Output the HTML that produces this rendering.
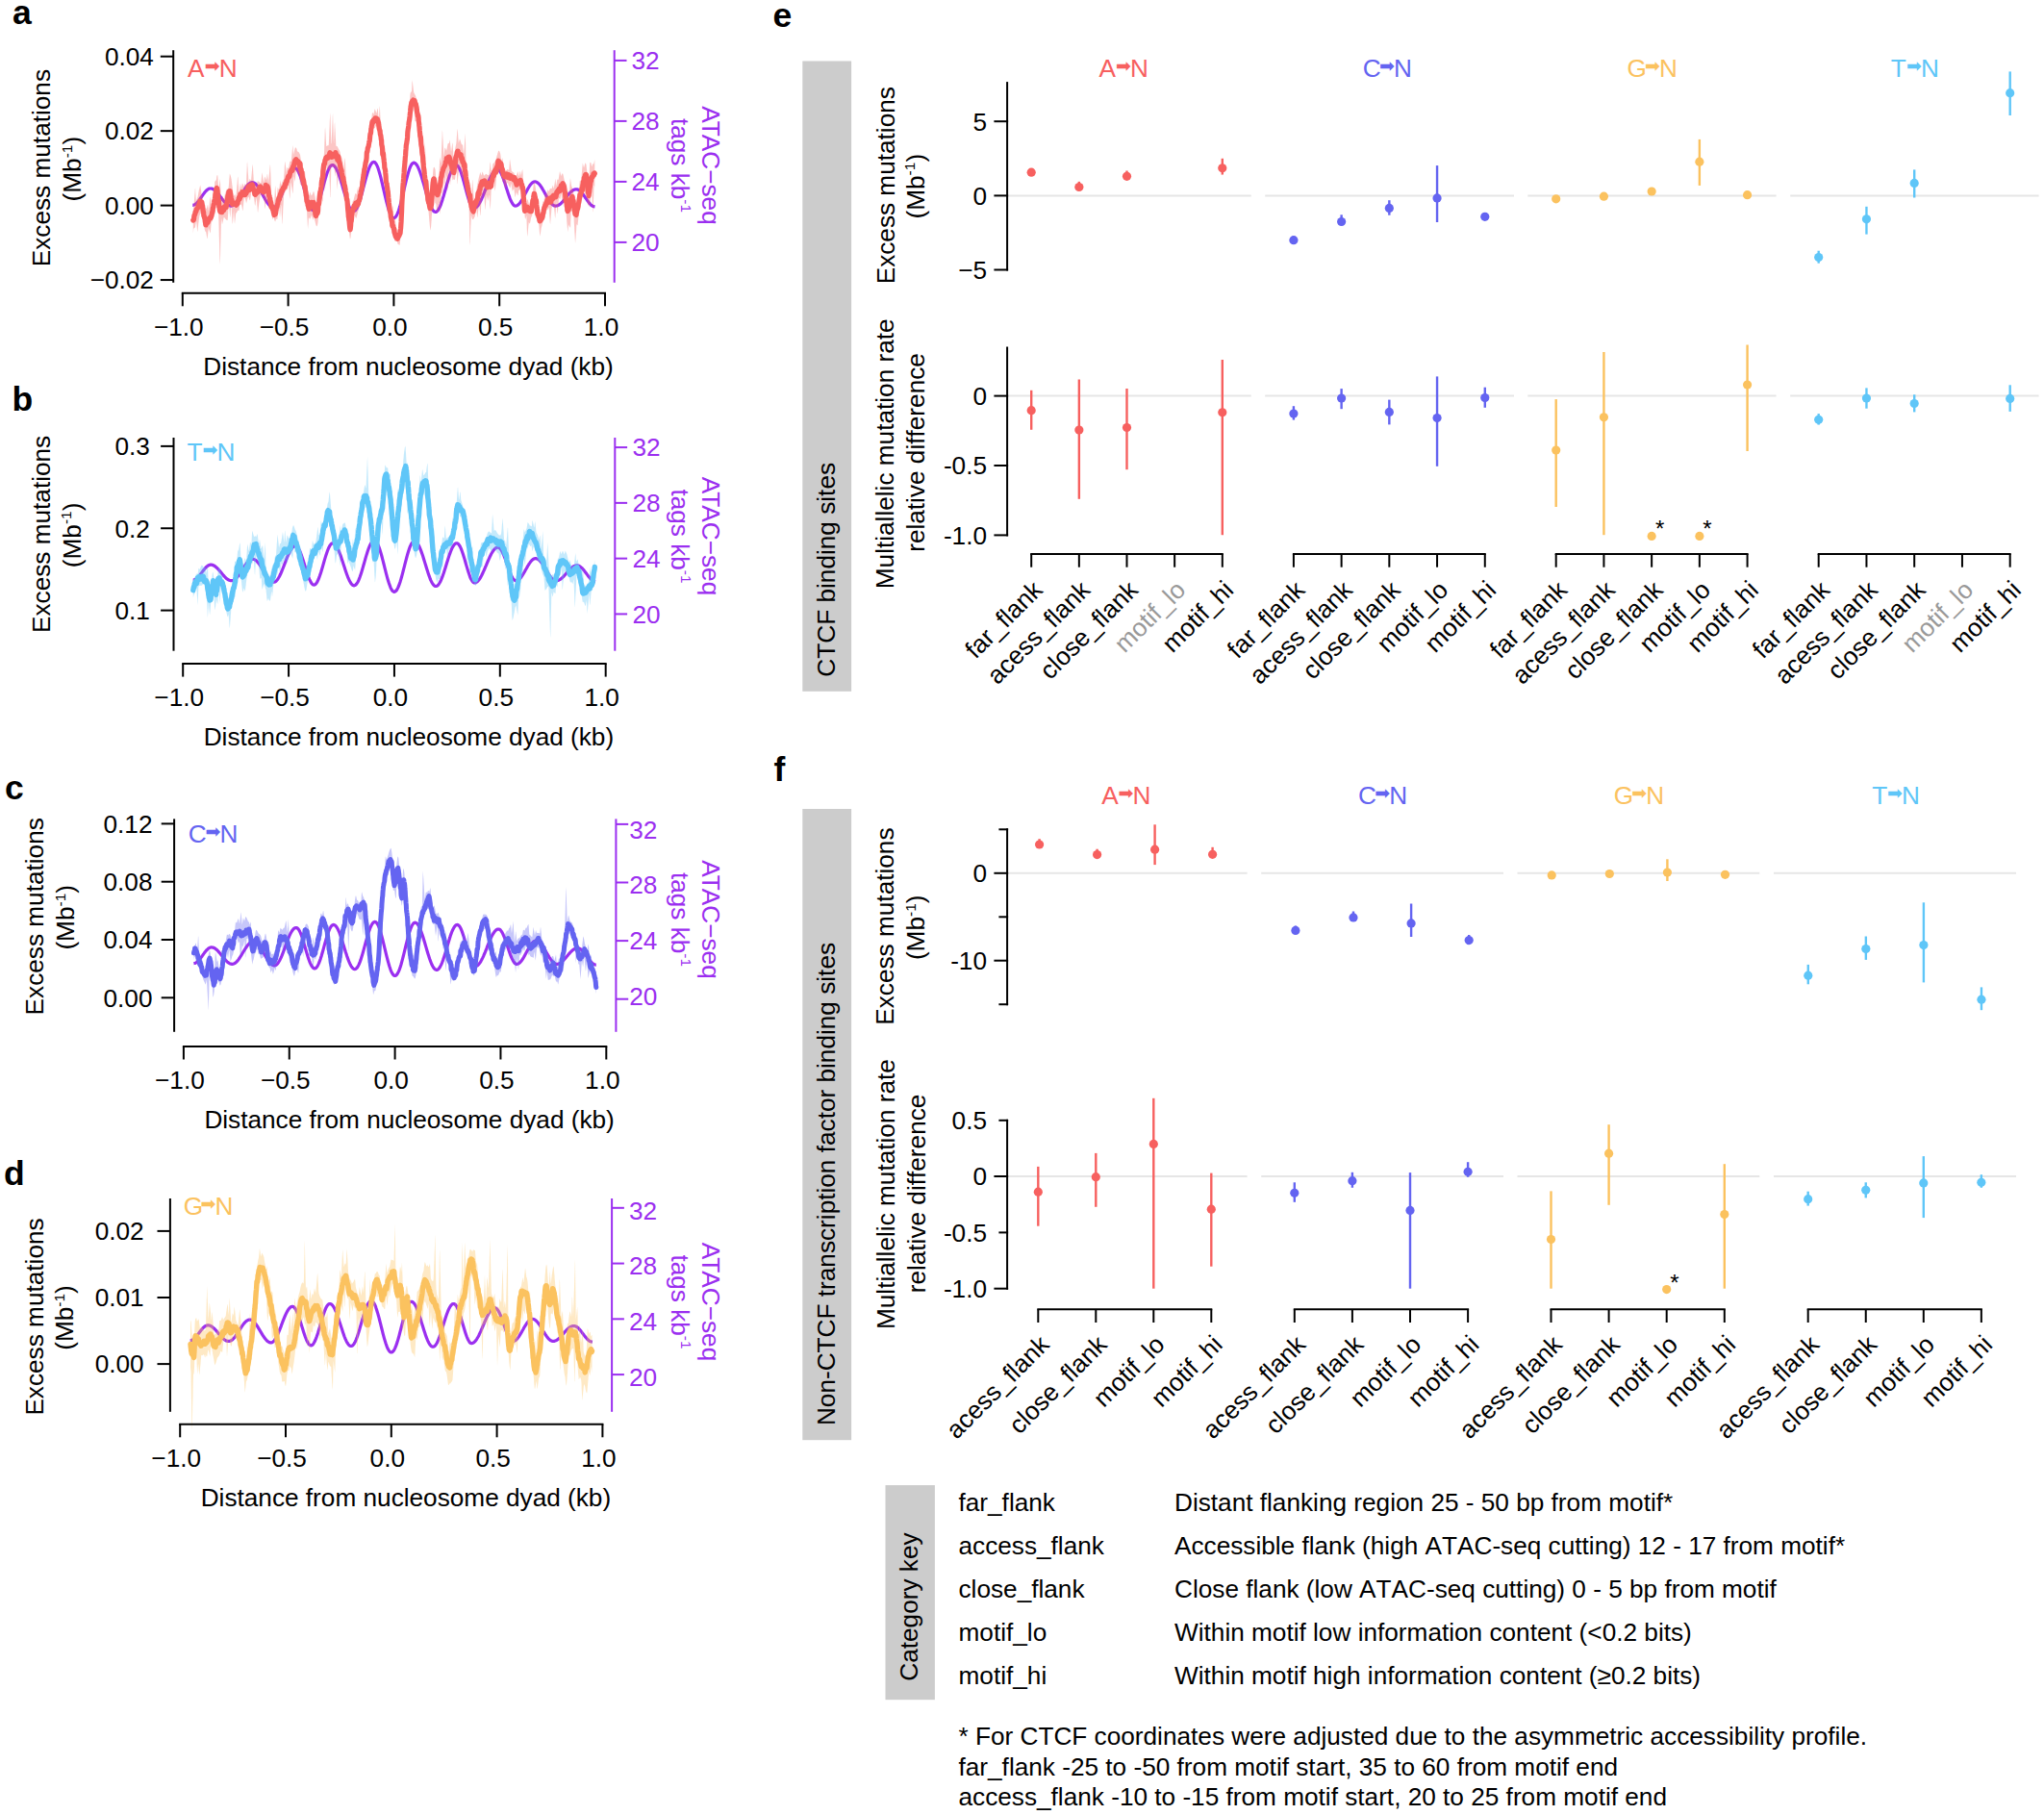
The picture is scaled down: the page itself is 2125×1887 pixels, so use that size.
<!DOCTYPE html>
<html><head><meta charset="utf-8"><title>Figure</title>
<style>
html,body{margin:0;padding:0;background:#fff;}
svg{display:block;font-kerning:none;}
</style></head>
<body>
<svg xmlns="http://www.w3.org/2000/svg" font-family="Liberation Sans, sans-serif" font-size="26.2" width="2125" height="1887" viewBox="0 0 2125 1887">
<rect width="2125" height="1887" fill="#fff"/>
<g id="panel-a">
<path d="M200.3 213.3 L200.9 213.3 L201.5 213.1 L202.1 212.9 L202.7 212.6 L203.3 212.2 L203.9 211.7 L204.5 211.2 L205.1 210.6 L205.7 209.9 L206.3 209.2 L206.9 208.4 L207.5 207.6 L208.1 206.8 L208.7 205.9 L209.3 205.0 L209.9 204.1 L210.5 203.3 L211.1 202.4 L211.7 201.6 L212.3 200.8 L212.9 200.0 L213.5 199.3 L214.1 198.6 L214.7 198.0 L215.3 197.5 L215.9 197.0 L216.5 196.6 L217.1 196.3 L217.7 196.1 L218.3 196.0 L218.9 196.0 L219.5 196.0 L220.1 196.1 L220.7 196.3 L221.3 196.6 L221.9 196.9 L222.5 197.3 L223.1 197.7 L223.7 198.2 L224.3 198.7 L224.9 199.3 L225.5 200.0 L226.1 200.6 L226.7 201.3 L227.3 202.1 L227.9 202.8 L228.5 203.6 L229.1 204.4 L229.7 205.2 L230.2 206.0 L230.8 206.8 L231.4 207.5 L232.0 208.3 L232.6 209.0 L233.2 209.7 L233.8 210.4 L234.4 211.0 L235.0 211.5 L235.6 212.1 L236.2 212.5 L236.8 213.0 L237.4 213.3 L238.0 213.6 L238.6 213.8 L239.2 214.0 L239.8 214.1 L240.4 214.1 L241.0 214.0 L241.6 213.9 L242.2 213.6 L242.8 213.3 L243.4 212.9 L244.0 212.4 L244.6 211.9 L245.2 211.2 L245.8 210.5 L246.4 209.8 L247.0 208.9 L247.6 208.0 L248.2 207.1 L248.8 206.2 L249.4 205.2 L250.0 204.1 L250.6 203.1 L251.2 202.1 L251.8 201.0 L252.4 200.0 L253.0 199.0 L253.6 198.0 L254.2 197.0 L254.8 196.1 L255.4 195.2 L256.0 194.3 L256.6 193.5 L257.2 192.8 L257.8 192.1 L258.4 191.5 L259.0 191.0 L259.6 190.6 L260.2 190.2 L260.8 190.0 L261.4 189.8 L262.0 189.7 L262.6 189.7 L263.1 189.8 L263.7 190.0 L264.3 190.3 L264.9 190.6 L265.5 191.1 L266.1 191.6 L266.7 192.3 L267.3 193.0 L267.9 193.7 L268.5 194.6 L269.1 195.5 L269.7 196.4 L270.3 197.4 L270.9 198.4 L271.5 199.5 L272.1 200.6 L272.7 201.7 L273.3 202.8 L273.9 203.9 L274.5 205.0 L275.1 206.1 L275.7 207.2 L276.3 208.2 L276.9 209.2 L277.5 210.1 L278.1 211.0 L278.7 211.8 L279.3 212.6 L279.9 213.3 L280.5 213.9 L281.1 214.4 L281.7 214.8 L282.3 215.2 L282.9 215.4 L283.5 215.6 L284.1 215.7 L284.7 215.6 L285.3 215.5 L285.9 215.1 L286.5 214.7 L287.1 214.1 L287.7 213.3 L288.3 212.5 L288.9 211.5 L289.5 210.4 L290.1 209.2 L290.7 207.9 L291.3 206.5 L291.9 205.0 L292.5 203.5 L293.1 201.9 L293.7 200.2 L294.3 198.6 L294.9 196.9 L295.4 195.1 L296.0 193.4 L296.6 191.7 L297.2 190.0 L297.8 188.4 L298.4 186.8 L299.0 185.3 L299.6 183.8 L300.2 182.4 L300.8 181.1 L301.4 179.9 L302.0 178.8 L302.6 177.9 L303.2 177.0 L303.8 176.3 L304.4 175.7 L305.0 175.2 L305.6 174.9 L306.2 174.8 L306.8 174.7 L307.4 174.9 L308.0 175.3 L308.6 175.9 L309.2 176.6 L309.8 177.6 L310.4 178.8 L311.0 180.1 L311.6 181.5 L312.2 183.2 L312.8 184.9 L313.4 186.8 L314.0 188.7 L314.6 190.8 L315.2 192.8 L315.8 195.0 L316.4 197.1 L317.0 199.3 L317.6 201.4 L318.2 203.4 L318.8 205.5 L319.4 207.4 L320.0 209.2 L320.6 210.9 L321.2 212.5 L321.8 213.9 L322.4 215.2 L323.0 216.3 L323.6 217.2 L324.2 217.9 L324.8 218.4 L325.4 218.7 L326.0 218.8 L326.6 218.7 L327.2 218.4 L327.8 217.8 L328.3 217.1 L328.9 216.1 L329.5 215.0 L330.1 213.7 L330.7 212.2 L331.3 210.5 L331.9 208.7 L332.5 206.8 L333.1 204.8 L333.7 202.6 L334.3 200.4 L334.9 198.2 L335.5 196.0 L336.1 193.7 L336.7 191.4 L337.3 189.2 L337.9 187.0 L338.5 184.9 L339.1 183.0 L339.7 181.1 L340.3 179.3 L340.9 177.7 L341.5 176.3 L342.1 175.0 L342.7 173.9 L343.3 173.0 L343.9 172.3 L344.5 171.9 L345.1 171.6 L345.7 171.6 L346.3 171.7 L346.9 172.0 L347.5 172.5 L348.1 173.2 L348.7 174.0 L349.3 174.9 L349.9 176.1 L350.5 177.3 L351.1 178.7 L351.7 180.2 L352.3 181.8 L352.9 183.5 L353.5 185.3 L354.1 187.2 L354.7 189.1 L355.3 191.1 L355.9 193.1 L356.5 195.2 L357.1 197.2 L357.7 199.2 L358.3 201.2 L358.9 203.2 L359.5 205.1 L360.1 206.9 L360.6 208.7 L361.2 210.3 L361.8 211.9 L362.4 213.3 L363.0 214.6 L363.6 215.8 L364.2 216.8 L364.8 217.7 L365.4 218.4 L366.0 219.0 L366.6 219.3 L367.2 219.6 L367.8 219.6 L368.4 219.4 L369.0 219.1 L369.6 218.5 L370.2 217.8 L370.8 216.8 L371.4 215.7 L372.0 214.3 L372.6 212.9 L373.2 211.2 L373.8 209.5 L374.4 207.6 L375.0 205.5 L375.6 203.4 L376.2 201.3 L376.8 199.0 L377.4 196.7 L378.0 194.4 L378.6 192.1 L379.2 189.9 L379.8 187.6 L380.4 185.4 L381.0 183.3 L381.6 181.2 L382.2 179.3 L382.8 177.5 L383.4 175.8 L384.0 174.2 L384.6 172.8 L385.2 171.6 L385.8 170.6 L386.4 169.8 L387.0 169.1 L387.6 168.7 L388.2 168.5 L388.8 168.4 L389.4 168.6 L390.0 169.1 L390.6 169.8 L391.2 170.7 L391.8 171.8 L392.4 173.1 L393.0 174.6 L393.5 176.3 L394.1 178.2 L394.7 180.3 L395.3 182.4 L395.9 184.7 L396.5 187.1 L397.1 189.6 L397.7 192.2 L398.3 194.8 L398.9 197.4 L399.5 200.0 L400.1 202.6 L400.7 205.2 L401.3 207.7 L401.9 210.1 L402.5 212.4 L403.1 214.6 L403.7 216.7 L404.3 218.6 L404.9 220.3 L405.5 221.8 L406.1 223.2 L406.7 224.3 L407.3 225.3 L407.9 226.0 L408.5 226.4 L409.1 226.7 L409.7 226.7 L410.3 226.4 L410.9 226.0 L411.5 225.3 L412.1 224.4 L412.7 223.2 L413.3 221.9 L413.9 220.4 L414.5 218.7 L415.1 216.8 L415.7 214.8 L416.3 212.6 L416.9 210.3 L417.5 207.9 L418.1 205.5 L418.7 202.9 L419.3 200.4 L419.9 197.8 L420.5 195.2 L421.1 192.6 L421.7 190.1 L422.3 187.7 L422.9 185.3 L423.5 183.0 L424.1 180.9 L424.7 178.9 L425.3 177.0 L425.8 175.3 L426.4 173.8 L427.0 172.5 L427.6 171.4 L428.2 170.5 L428.8 169.9 L429.4 169.4 L430.0 169.2 L430.6 169.2 L431.2 169.4 L431.8 169.8 L432.4 170.4 L433.0 171.1 L433.6 172.0 L434.2 173.1 L434.8 174.3 L435.4 175.6 L436.0 177.1 L436.6 178.7 L437.2 180.4 L437.8 182.3 L438.4 184.2 L439.0 186.2 L439.6 188.2 L440.2 190.3 L440.8 192.4 L441.4 194.6 L442.0 196.7 L442.6 198.9 L443.2 201.0 L443.8 203.0 L444.4 205.0 L445.0 207.0 L445.6 208.8 L446.2 210.6 L446.8 212.2 L447.4 213.7 L448.0 215.1 L448.6 216.3 L449.2 217.4 L449.8 218.3 L450.4 219.1 L451.0 219.7 L451.6 220.1 L452.2 220.3 L452.8 220.4 L453.4 220.3 L454.0 220.0 L454.6 219.5 L455.2 218.8 L455.8 217.9 L456.4 216.9 L457.0 215.8 L457.6 214.4 L458.2 213.0 L458.7 211.4 L459.3 209.7 L459.9 207.9 L460.5 205.9 L461.1 204.0 L461.7 201.9 L462.3 199.8 L462.9 197.7 L463.5 195.6 L464.1 193.5 L464.7 191.4 L465.3 189.3 L465.9 187.3 L466.5 185.3 L467.1 183.4 L467.7 181.7 L468.3 180.0 L468.9 178.4 L469.5 177.0 L470.1 175.8 L470.7 174.6 L471.3 173.7 L471.9 172.9 L472.5 172.3 L473.1 171.9 L473.7 171.6 L474.3 171.6 L474.9 171.7 L475.5 172.1 L476.1 172.7 L476.7 173.6 L477.3 174.6 L477.9 175.8 L478.5 177.2 L479.1 178.8 L479.7 180.5 L480.3 182.4 L480.9 184.4 L481.5 186.5 L482.1 188.6 L482.7 190.9 L483.3 193.1 L483.9 195.4 L484.5 197.6 L485.1 199.8 L485.7 202.0 L486.3 204.0 L486.9 206.0 L487.5 207.9 L488.1 209.6 L488.7 211.1 L489.3 212.5 L489.9 213.7 L490.5 214.7 L491.0 215.4 L491.6 216.0 L492.2 216.3 L492.8 216.5 L493.4 216.4 L494.0 216.2 L494.6 215.9 L495.2 215.5 L495.8 215.0 L496.4 214.3 L497.0 213.6 L497.6 212.7 L498.2 211.7 L498.8 210.7 L499.4 209.6 L500.0 208.3 L500.6 207.0 L501.2 205.7 L501.8 204.3 L502.4 202.8 L503.0 201.3 L503.6 199.8 L504.2 198.3 L504.8 196.7 L505.4 195.1 L506.0 193.6 L506.6 192.0 L507.2 190.5 L507.8 189.1 L508.4 187.6 L509.0 186.2 L509.6 184.9 L510.2 183.7 L510.8 182.5 L511.4 181.4 L512.0 180.4 L512.6 179.5 L513.2 178.7 L513.8 178.0 L514.4 177.5 L515.0 177.0 L515.6 176.6 L516.2 176.4 L516.8 176.3 L517.4 176.3 L518.0 176.5 L518.6 176.9 L519.2 177.5 L519.8 178.3 L520.4 179.2 L521.0 180.2 L521.6 181.5 L522.2 182.8 L522.8 184.3 L523.4 185.9 L523.9 187.6 L524.5 189.3 L525.1 191.1 L525.7 193.0 L526.3 194.9 L526.9 196.7 L527.5 198.6 L528.1 200.4 L528.7 202.2 L529.3 203.9 L529.9 205.6 L530.5 207.1 L531.1 208.5 L531.7 209.7 L532.3 210.9 L532.9 211.8 L533.5 212.7 L534.1 213.3 L534.7 213.7 L535.3 214.0 L535.9 214.1 L536.5 214.0 L537.1 213.9 L537.7 213.6 L538.3 213.2 L538.9 212.7 L539.5 212.2 L540.1 211.5 L540.7 210.7 L541.3 209.9 L541.9 209.0 L542.5 208.0 L543.1 207.0 L543.7 205.9 L544.3 204.8 L544.9 203.7 L545.5 202.5 L546.1 201.3 L546.7 200.2 L547.3 199.0 L547.9 197.9 L548.5 196.8 L549.1 195.7 L549.7 194.7 L550.3 193.7 L550.9 192.8 L551.5 192.0 L552.1 191.3 L552.7 190.7 L553.3 190.1 L553.9 189.7 L554.5 189.3 L555.1 189.1 L555.7 188.9 L556.2 188.9 L556.8 189.0 L557.4 189.1 L558.0 189.4 L558.6 189.8 L559.2 190.2 L559.8 190.7 L560.4 191.3 L561.0 192.0 L561.6 192.8 L562.2 193.6 L562.8 194.5 L563.4 195.5 L564.0 196.4 L564.6 197.5 L565.2 198.5 L565.8 199.6 L566.4 200.7 L567.0 201.8 L567.6 202.9 L568.2 204.0 L568.8 205.1 L569.4 206.1 L570.0 207.1 L570.6 208.1 L571.2 209.0 L571.8 209.8 L572.4 210.6 L573.0 211.3 L573.6 212.0 L574.2 212.6 L574.8 213.0 L575.4 213.4 L576.0 213.7 L576.6 214.0 L577.2 214.1 L577.8 214.1 L578.4 214.0 L579.0 213.9 L579.6 213.7 L580.2 213.5 L580.8 213.2 L581.4 212.8 L582.0 212.4 L582.6 211.9 L583.2 211.4 L583.8 210.8 L584.4 210.2 L585.0 209.6 L585.6 208.9 L586.2 208.2 L586.8 207.5 L587.4 206.7 L588.0 206.0 L588.6 205.2 L589.1 204.5 L589.7 203.7 L590.3 203.0 L590.9 202.3 L591.5 201.6 L592.1 200.9 L592.7 200.3 L593.3 199.7 L593.9 199.2 L594.5 198.7 L595.1 198.2 L595.7 197.8 L596.3 197.5 L596.9 197.2 L597.5 197.0 L598.1 196.9 L598.7 196.8 L599.3 196.8 L599.9 196.8 L600.5 197.0 L601.1 197.2 L601.7 197.6 L602.3 198.0 L602.9 198.4 L603.5 199.0 L604.1 199.6 L604.7 200.2 L605.3 201.0 L605.9 201.7 L606.5 202.5 L607.1 203.4 L607.7 204.2 L608.3 205.1 L608.9 206.0 L609.5 206.8 L610.1 207.7 L610.7 208.6 L611.3 209.4 L611.9 210.2 L612.5 210.9 L613.1 211.6 L613.7 212.3 L614.3 212.9 L614.9 213.4 L615.5 213.8 L616.1 214.2 L616.7 214.5 L617.3 214.7 L617.9 214.8 L618.5 214.9" stroke="#9B2FF0" stroke-width="3.2" fill="none" stroke-linejoin="round"/>
<path d="M200.8 217.1 L201.1 216.2 L201.3 215.3 L201.6 213.5 L201.8 210.0 L202.1 206.6 L202.3 203.1 L202.6 199.7 L202.8 196.4 L203.1 195.6 L203.3 200.4 L203.6 205.3 L203.8 209.0 L204.1 208.3 L204.3 207.6 L204.6 206.9 L204.8 206.4 L205.1 205.8 L205.3 205.3 L205.6 204.8 L205.8 203.6 L206.1 202.1 L206.3 200.5 L206.6 198.9 L206.8 197.8 L207.1 196.9 L207.3 195.9 L207.6 195.0 L207.8 194.1 L208.1 193.2 L208.3 192.6 L208.6 194.4 L208.8 196.3 L209.1 198.3 L209.3 200.2 L209.6 202.3 L209.8 202.7 L210.1 203.3 L210.3 204.2 L210.6 205.6 L210.8 207.1 L211.1 208.7 L211.3 210.5 L211.6 212.2 L211.8 214.0 L212.1 214.9 L212.3 214.6 L212.6 214.1 L212.8 213.5 L213.1 214.0 L213.3 215.2 L213.6 216.0 L213.8 216.5 L214.1 216.8 L214.3 217.1 L214.6 217.2 L214.8 216.5 L215.1 215.7 L215.3 214.9 L215.6 214.1 L215.8 213.2 L216.1 212.7 L216.3 214.7 L216.6 216.6 L216.8 218.5 L217.1 218.9 L217.3 216.2 L217.6 213.5 L217.8 210.8 L218.1 208.1 L218.3 205.4 L218.6 205.0 L218.8 206.7 L219.1 208.4 L219.3 210.0 L219.6 211.6 L219.8 212.2 L220.1 210.1 L220.3 207.9 L220.6 205.7 L220.8 204.8 L221.1 204.9 L221.3 204.9 L221.6 204.9 L221.8 204.9 L222.1 204.8 L222.3 202.8 L222.6 199.5 L222.8 196.3 L223.1 193.0 L223.3 189.3 L223.6 188.6 L223.8 188.2 L224.1 187.8 L224.3 187.5 L224.6 187.4 L224.8 187.7 L225.1 185.2 L225.3 183.6 L225.6 182.6 L225.8 182.1 L226.1 182.1 L226.3 182.4 L226.6 186.0 L226.8 189.9 L227.1 193.8 L227.3 194.3 L227.6 193.5 L227.8 192.5 L228.1 191.2 L228.3 189.4 L228.6 187.0 L228.8 185.9 L229.1 190.7 L229.3 195.5 L229.6 200.3 L229.8 205.1 L230.1 208.7 L230.3 207.6 L230.6 206.5 L230.8 205.3 L231.1 204.2 L231.3 203.7 L231.6 204.2 L231.8 204.8 L232.1 205.3 L232.3 205.8 L232.6 206.4 L232.8 206.9 L233.1 206.0 L233.3 204.6 L233.6 203.3 L233.8 201.9 L234.1 201.2 L234.3 200.5 L234.6 199.7 L234.8 198.8 L235.1 197.7 L235.3 196.5 L235.6 196.8 L235.8 199.1 L236.1 201.3 L236.3 201.5 L236.6 200.1 L236.8 198.8 L237.1 197.5 L237.3 196.2 L237.6 195.0 L237.8 193.5 L238.1 190.0 L238.3 186.6 L238.6 183.5 L238.8 180.7 L239.1 181.0 L239.3 181.5 L239.6 182.2 L239.8 183.1 L240.1 184.1 L240.3 185.1 L240.6 186.3 L240.8 187.9 L241.1 189.9 L241.3 191.9 L241.6 193.8 L241.8 195.6 L242.1 197.9 L242.3 200.2 L242.6 202.3 L242.8 204.0 L243.1 203.6 L243.3 203.3 L243.6 202.9 L243.8 202.5 L244.1 202.1 L244.3 202.2 L244.6 203.0 L244.8 203.9 L245.1 204.7 L245.3 205.5 L245.6 202.6 L245.8 199.7 L246.1 196.7 L246.3 193.7 L246.6 190.5 L246.8 187.3 L247.1 184.1 L247.3 183.4 L247.6 187.3 L247.8 191.2 L248.1 195.0 L248.3 198.7 L248.6 201.7 L248.8 199.4 L249.1 197.2 L249.3 195.0 L249.6 192.8 L249.8 190.6 L250.1 191.7 L250.3 193.1 L250.6 194.5 L250.8 195.9 L251.1 195.3 L251.3 193.7 L251.6 192.2 L251.8 190.7 L252.1 190.4 L252.3 191.0 L252.6 191.7 L252.8 192.3 L253.1 193.0 L253.3 193.7 L253.6 193.4 L253.8 192.9 L254.1 192.4 L254.3 191.8 L254.6 191.3 L254.8 190.8 L255.1 191.2 L255.3 191.7 L255.6 192.2 L255.8 192.7 L256.1 190.1 L256.3 183.5 L256.6 176.9 L256.8 170.3 L257.1 168.0 L257.3 171.7 L257.6 175.5 L257.8 179.2 L258.1 182.8 L258.3 186.4 L258.6 189.9 L258.8 190.0 L259.1 188.6 L259.3 187.3 L259.6 186.0 L259.8 186.1 L260.1 186.5 L260.3 186.8 L260.6 187.2 L260.8 187.7 L261.1 187.3 L261.3 184.5 L261.6 181.8 L261.8 179.1 L262.1 176.6 L262.3 174.1 L262.6 171.7 L262.8 170.7 L263.1 175.2 L263.3 179.7 L263.6 184.3 L263.8 188.9 L264.1 190.5 L264.3 190.4 L264.6 190.3 L264.8 190.1 L265.1 189.9 L265.3 189.7 L265.6 190.4 L265.8 191.3 L266.1 192.1 L266.3 192.8 L266.6 193.4 L266.8 192.4 L267.1 191.4 L267.3 190.3 L267.6 189.3 L267.8 188.2 L268.1 188.2 L268.3 188.4 L268.6 188.5 L268.8 188.7 L269.1 188.8 L269.3 189.0 L269.6 189.2 L269.8 189.4 L270.1 189.7 L270.3 190.1 L270.6 190.3 L270.8 190.1 L271.1 190.0 L271.3 189.9 L271.6 187.7 L271.8 185.4 L272.1 183.1 L272.3 180.9 L272.6 179.2 L272.8 181.0 L273.1 182.8 L273.3 184.6 L273.6 186.4 L273.8 188.2 L274.1 190.0 L274.3 188.9 L274.6 187.5 L274.8 186.0 L275.1 184.4 L275.3 183.4 L275.6 184.0 L275.8 184.6 L276.1 185.2 L276.3 185.8 L276.6 186.4 L276.8 187.1 L277.1 186.7 L277.3 184.6 L277.6 182.6 L277.8 180.9 L278.1 181.1 L278.3 183.2 L278.6 185.4 L278.8 187.9 L279.1 189.9 L279.3 187.1 L279.6 184.4 L279.8 181.7 L280.1 179.0 L280.3 176.3 L280.6 173.5 L280.8 170.7 L281.1 172.7 L281.3 179.1 L281.6 185.3 L281.8 191.3 L282.1 197.3 L282.3 203.3 L282.6 204.5 L282.8 204.6 L283.1 204.7 L283.3 204.8 L283.6 205.4 L283.8 206.8 L284.1 208.2 L284.3 209.6 L284.6 210.9 L284.8 212.2 L285.1 211.4 L285.3 206.9 L285.6 202.4 L285.8 197.8 L286.1 193.0 L286.3 194.0 L286.6 197.4 L286.8 200.6 L287.1 203.7 L287.3 206.5 L287.6 209.1 L287.8 205.9 L288.1 202.6 L288.3 199.2 L288.6 195.8 L288.8 194.9 L289.1 195.5 L289.3 196.1 L289.6 196.8 L289.8 197.5 L290.1 198.1 L290.3 195.9 L290.6 193.9 L290.8 191.8 L291.1 189.8 L291.3 187.8 L291.6 189.0 L291.8 190.7 L292.1 192.5 L292.3 192.2 L292.6 191.5 L292.8 190.8 L293.1 190.2 L293.3 189.5 L293.6 188.8 L293.8 188.4 L294.1 187.9 L294.3 187.4 L294.6 187.0 L294.8 186.5 L295.1 186.1 L295.3 182.3 L295.6 177.7 L295.8 173.2 L296.1 168.7 L296.3 167.8 L296.6 169.7 L296.8 171.6 L297.1 173.5 L297.3 175.3 L297.6 177.2 L297.8 179.0 L298.1 178.4 L298.3 176.1 L298.6 174.0 L298.8 174.2 L299.1 174.5 L299.3 174.7 L299.6 175.0 L299.8 175.2 L300.1 174.5 L300.3 173.2 L300.6 171.9 L300.8 170.6 L301.1 169.3 L301.3 168.0 L301.6 167.7 L301.8 167.8 L302.1 167.8 L302.3 167.8 L302.6 167.8 L302.8 166.6 L303.1 164.0 L303.3 161.5 L303.6 158.9 L303.8 156.3 L304.1 153.6 L304.3 151.0 L304.6 153.3 L304.8 157.5 L305.1 160.9 L305.3 159.8 L305.6 158.6 L305.8 157.6 L306.1 156.5 L306.3 155.6 L306.6 154.7 L306.8 153.8 L307.1 153.3 L307.3 153.4 L307.6 153.5 L307.8 153.7 L308.1 154.0 L308.3 154.4 L308.6 155.3 L308.8 156.6 L309.1 157.4 L309.3 157.5 L309.6 157.6 L309.8 157.7 L310.1 157.9 L310.3 158.1 L310.6 158.3 L310.8 158.5 L311.1 158.9 L311.3 159.5 L311.6 160.0 L311.8 160.6 L312.1 161.3 L312.3 162.8 L312.6 164.4 L312.8 166.1 L313.1 167.4 L313.3 168.3 L313.6 169.2 L313.8 170.3 L314.1 171.3 L314.3 172.4 L314.6 173.5 L314.8 174.6 L315.1 175.8 L315.3 177.0 L315.6 177.9 L315.8 177.9 L316.1 177.9 L316.3 177.9 L316.6 178.0 L316.8 178.1 L317.1 178.7 L317.3 180.9 L317.6 183.1 L317.8 185.4 L318.1 187.7 L318.3 189.6 L318.6 191.0 L318.8 192.3 L319.1 193.6 L319.3 194.8 L319.6 196.0 L319.8 197.7 L320.1 199.5 L320.3 201.3 L320.6 202.9 L320.8 203.8 L321.1 203.4 L321.3 202.8 L321.6 202.1 L321.8 201.1 L322.1 200.0 L322.3 199.7 L322.6 200.5 L322.8 201.2 L323.1 201.9 L323.3 202.6 L323.6 203.2 L323.8 203.3 L324.1 202.9 L324.3 202.5 L324.6 202.2 L324.8 202.0 L325.1 201.2 L325.3 200.4 L325.6 199.6 L325.8 199.2 L326.1 199.0 L326.3 199.3 L326.6 200.3 L326.8 201.3 L327.1 202.5 L327.3 203.7 L327.6 204.8 L327.8 205.9 L328.1 207.6 L328.3 209.2 L328.6 210.6 L328.8 211.8 L329.1 212.6 L329.3 209.3 L329.6 205.2 L329.8 201.0 L330.1 201.3 L330.3 201.3 L330.6 201.1 L330.8 200.8 L331.1 200.4 L331.3 199.8 L331.6 199.2 L331.8 196.3 L332.1 193.1 L332.3 189.8 L332.6 186.6 L332.8 183.5 L333.1 181.7 L333.3 181.6 L333.6 181.5 L333.8 181.3 L334.1 181.0 L334.3 180.6 L334.6 178.4 L334.8 175.9 L335.1 173.4 L335.3 171.2 L335.6 169.4 L335.8 167.7 L336.1 166.0 L336.3 164.4 L336.6 162.8 L336.8 161.3 L337.1 157.1 L337.3 149.6 L337.6 142.1 L337.8 134.8 L338.1 132.3 L338.3 136.3 L338.6 140.6 L338.8 145.1 L339.1 149.8 L339.3 152.1 L339.6 151.9 L339.8 151.8 L340.1 151.6 L340.3 151.5 L340.6 151.3 L340.8 151.3 L341.1 151.3 L341.3 151.2 L341.6 151.2 L341.8 149.5 L342.1 143.7 L342.3 137.8 L342.6 132.0 L342.8 126.1 L343.1 120.3 L343.3 117.0 L343.6 124.9 L343.8 132.8 L344.1 140.7 L344.3 148.6 L344.6 149.7 L344.8 144.0 L345.1 138.3 L345.3 132.5 L345.6 126.8 L345.8 121.1 L346.1 118.1 L346.3 127.1 L346.6 136.2 L346.8 145.2 L347.1 149.5 L347.3 142.6 L347.6 135.8 L347.8 128.9 L348.1 127.1 L348.3 131.9 L348.6 136.7 L348.8 141.5 L349.1 146.3 L349.3 151.2 L349.6 151.7 L349.8 151.9 L350.1 152.0 L350.3 152.1 L350.6 152.3 L350.8 152.4 L351.1 152.9 L351.3 153.4 L351.6 154.0 L351.8 154.5 L352.1 155.1 L352.3 155.5 L352.6 155.8 L352.8 156.2 L353.1 156.7 L353.3 157.4 L353.6 158.2 L353.8 159.2 L354.1 161.1 L354.3 163.1 L354.6 165.0 L354.8 167.1 L355.1 166.8 L355.3 165.5 L355.6 164.2 L355.8 162.9 L356.1 164.8 L356.3 167.2 L356.6 169.5 L356.8 171.9 L357.1 174.3 L357.3 175.6 L357.6 173.3 L357.8 171.0 L358.1 168.8 L358.3 166.6 L358.6 164.4 L358.8 164.4 L359.1 169.9 L359.3 175.4 L359.6 181.0 L359.8 186.6 L360.1 192.3 L360.3 196.6 L360.6 196.8 L360.8 197.4 L361.1 198.2 L361.3 199.4 L361.6 201.6 L361.8 205.7 L362.1 209.8 L362.3 214.0 L362.6 218.0 L362.8 220.9 L363.1 222.0 L363.3 222.7 L363.6 223.1 L363.8 223.4 L364.1 224.2 L364.3 224.3 L364.6 223.7 L364.8 222.6 L365.1 221.1 L365.3 219.2 L365.6 217.1 L365.8 214.9 L366.1 212.9 L366.3 211.0 L366.6 209.7 L366.8 208.9 L367.1 208.6 L367.3 208.5 L367.6 208.1 L367.8 207.0 L368.1 205.9 L368.3 204.9 L368.6 203.9 L368.8 203.0 L369.1 202.0 L369.3 201.1 L369.6 201.3 L369.8 201.6 L370.1 201.8 L370.3 202.1 L370.6 202.1 L370.8 200.9 L371.1 199.7 L371.3 198.4 L371.6 197.1 L371.8 195.7 L372.1 194.3 L372.3 195.7 L372.6 197.5 L372.8 199.2 L373.1 200.8 L373.3 201.2 L373.6 199.8 L373.8 198.3 L374.1 196.7 L374.3 195.5 L374.6 194.4 L374.8 193.2 L375.1 192.0 L375.3 190.4 L375.6 188.1 L375.8 185.8 L376.1 183.5 L376.3 181.1 L376.6 178.8 L376.8 176.5 L377.1 175.6 L377.3 175.1 L377.6 174.6 L377.8 174.1 L378.1 173.6 L378.3 172.1 L378.6 170.5 L378.8 168.8 L379.1 167.1 L379.3 165.4 L379.6 163.7 L379.8 162.4 L380.1 161.1 L380.3 159.8 L380.6 158.5 L380.8 157.0 L381.1 155.5 L381.3 154.0 L381.6 152.5 L381.8 150.8 L382.1 148.4 L382.3 146.1 L382.6 143.8 L382.8 141.5 L383.1 139.3 L383.3 138.1 L383.6 137.0 L383.8 135.9 L384.1 134.7 L384.3 133.5 L384.6 132.3 L384.8 131.1 L385.1 130.0 L385.3 128.8 L385.6 127.8 L385.8 126.7 L386.1 125.8 L386.3 123.5 L386.6 121.1 L386.8 118.8 L387.1 116.8 L387.3 117.0 L387.6 117.3 L387.8 117.8 L388.1 118.3 L388.3 118.9 L388.6 118.1 L388.8 116.9 L389.1 115.8 L389.3 114.7 L389.6 113.6 L389.8 113.3 L390.1 114.0 L390.3 114.7 L390.6 115.4 L390.8 116.1 L391.1 116.9 L391.3 117.7 L391.6 117.2 L391.8 115.8 L392.1 114.5 L392.3 113.4 L392.6 112.6 L392.8 113.1 L393.1 115.9 L393.3 118.9 L393.6 122.1 L393.8 125.1 L394.1 120.6 L394.3 116.3 L394.6 112.0 L394.8 109.8 L395.1 114.6 L395.3 119.4 L395.6 124.1 L395.8 128.8 L396.1 133.5 L396.3 138.1 L396.6 142.6 L396.8 146.3 L397.1 146.8 L397.3 147.3 L397.6 147.8 L397.8 148.3 L398.1 149.6 L398.3 153.0 L398.6 156.6 L398.8 160.1 L399.1 158.3 L399.3 155.5 L399.6 152.8 L399.8 150.0 L400.1 151.7 L400.3 156.7 L400.6 161.7 L400.8 166.7 L401.1 171.8 L401.3 176.8 L401.6 181.8 L401.8 183.8 L402.1 185.1 L402.3 186.5 L402.6 188.0 L402.8 190.2 L403.1 192.8 L403.3 195.5 L403.6 198.2 L403.8 200.9 L404.1 203.6 L404.3 205.8 L404.6 207.7 L404.8 209.7 L405.1 211.5 L405.3 213.2 L405.6 214.9 L405.8 216.4 L406.1 217.8 L406.3 219.0 L406.6 220.1 L406.8 220.0 L407.1 219.0 L407.3 218.0 L407.6 217.0 L407.8 216.0 L408.1 214.9 L408.3 213.7 L408.6 215.3 L408.8 219.8 L409.1 224.2 L409.3 228.6 L409.6 228.0 L409.8 227.0 L410.1 226.0 L410.3 225.0 L410.6 225.8 L410.8 227.6 L411.1 229.4 L411.3 231.3 L411.6 233.1 L411.8 234.9 L412.1 236.7 L412.3 237.2 L412.6 237.6 L412.8 238.1 L413.1 238.5 L413.3 238.9 L413.6 239.2 L413.8 239.2 L414.1 239.0 L414.3 238.7 L414.6 237.8 L414.8 236.6 L415.1 235.3 L415.3 233.4 L415.6 230.9 L415.8 228.1 L416.1 226.4 L416.3 225.7 L416.6 224.8 L416.8 222.8 L417.1 219.9 L417.3 215.0 L417.6 209.3 L417.8 203.5 L418.1 197.8 L418.3 192.5 L418.6 188.0 L418.8 184.5 L419.1 181.4 L419.3 178.3 L419.6 175.4 L419.8 172.3 L420.1 169.0 L420.3 165.9 L420.6 162.8 L420.8 159.8 L421.1 157.0 L421.3 154.5 L421.6 152.1 L421.8 149.7 L422.1 147.4 L422.3 145.2 L422.6 143.0 L422.8 140.8 L423.1 138.5 L423.3 136.2 L423.6 134.0 L423.8 131.7 L424.1 129.4 L424.3 127.0 L424.6 124.5 L424.8 121.9 L425.1 119.4 L425.3 116.0 L425.6 111.8 L425.8 107.6 L426.1 103.6 L426.3 99.7 L426.6 97.3 L426.8 96.6 L427.1 96.0 L427.3 95.6 L427.6 95.5 L427.8 95.6 L428.1 93.4 L428.3 88.0 L428.6 83.0 L428.8 84.8 L429.1 86.7 L429.3 88.8 L429.6 90.9 L429.8 93.1 L430.1 95.4 L430.3 96.5 L430.6 96.8 L430.8 97.2 L431.1 97.7 L431.3 98.2 L431.6 98.8 L431.8 99.3 L432.1 99.8 L432.3 100.4 L432.6 101.2 L432.8 102.5 L433.1 103.9 L433.3 105.3 L433.6 106.7 L433.8 108.1 L434.1 109.5 L434.3 110.9 L434.6 112.0 L434.8 112.2 L435.1 112.5 L435.3 112.9 L435.6 113.4 L435.8 114.8 L436.1 116.2 L436.3 117.7 L436.6 119.3 L436.8 121.0 L437.1 123.7 L437.3 127.2 L437.6 130.8 L437.8 134.3 L438.1 137.9 L438.3 141.4 L438.6 143.4 L438.8 144.8 L439.1 146.3 L439.3 147.9 L439.6 150.1 L439.8 152.6 L440.1 155.1 L440.3 157.6 L440.6 160.1 L440.8 162.6 L441.1 161.7 L441.3 156.9 L441.6 152.1 L441.8 147.3 L442.1 153.2 L442.3 159.1 L442.6 164.9 L442.8 170.5 L443.1 176.1 L443.3 181.7 L443.6 187.1 L443.8 188.5 L444.1 190.0 L444.3 191.4 L444.6 193.0 L444.8 194.8 L445.1 196.7 L445.3 198.4 L445.6 200.1 L445.8 201.7 L446.1 203.0 L446.3 202.4 L446.6 201.6 L446.8 200.7 L447.1 201.2 L447.3 202.8 L447.6 204.2 L447.8 205.5 L448.1 206.4 L448.3 206.2 L448.6 204.1 L448.8 200.7 L449.1 196.7 L449.3 192.4 L449.6 188.0 L449.8 183.7 L450.1 180.0 L450.3 177.0 L450.6 174.9 L450.8 174.0 L451.1 174.0 L451.3 173.8 L451.6 173.9 L451.8 174.3 L452.1 174.9 L452.3 175.7 L452.6 176.6 L452.8 179.4 L453.1 183.3 L453.3 187.0 L453.6 190.6 L453.8 191.1 L454.1 191.1 L454.3 190.7 L454.6 189.9 L454.8 188.8 L455.1 187.5 L455.3 187.1 L455.6 188.1 L455.8 189.0 L456.1 186.4 L456.3 181.8 L456.6 177.1 L456.8 172.3 L457.1 167.5 L457.3 163.4 L457.6 164.7 L457.8 166.0 L458.1 167.4 L458.3 168.7 L458.6 169.8 L458.8 162.7 L459.1 155.6 L459.3 148.7 L459.6 141.9 L459.8 135.2 L460.1 137.6 L460.3 142.1 L460.6 146.6 L460.8 151.2 L461.1 155.7 L461.3 160.2 L461.6 162.4 L461.8 159.6 L462.1 156.8 L462.3 154.0 L462.6 153.4 L462.8 153.9 L463.1 154.3 L463.3 154.8 L463.6 155.3 L463.8 155.9 L464.1 156.5 L464.3 155.8 L464.6 154.5 L464.8 153.2 L465.1 152.0 L465.3 150.8 L465.6 149.6 L465.8 149.3 L466.1 149.2 L466.3 149.1 L466.6 149.1 L466.8 149.1 L467.1 148.3 L467.3 146.7 L467.6 145.2 L467.8 147.1 L468.1 149.2 L468.3 151.4 L468.6 153.7 L468.8 156.2 L469.1 157.8 L469.3 155.9 L469.6 154.1 L469.8 152.2 L470.1 150.3 L470.3 148.4 L470.6 148.9 L470.8 153.2 L471.1 157.4 L471.3 161.3 L471.6 163.0 L471.8 162.7 L472.1 161.9 L472.3 160.8 L472.6 159.3 L472.8 157.6 L473.1 155.7 L473.3 154.0 L473.6 152.7 L473.8 151.4 L474.1 150.3 L474.3 149.3 L474.6 146.2 L474.8 142.5 L475.1 139.3 L475.3 136.5 L475.6 133.8 L475.8 135.1 L476.1 138.9 L476.3 142.6 L476.6 146.4 L476.8 148.8 L477.1 147.7 L477.3 146.7 L477.6 145.7 L477.8 144.7 L478.1 144.4 L478.3 145.2 L478.6 145.9 L478.8 146.7 L479.1 147.5 L479.3 148.4 L479.6 149.2 L479.8 150.1 L480.1 150.4 L480.3 150.4 L480.6 150.3 L480.8 150.3 L481.1 151.0 L481.3 153.3 L481.6 155.6 L481.8 158.0 L482.1 160.5 L482.3 157.6 L482.6 154.2 L482.8 150.8 L483.1 147.6 L483.3 144.4 L483.6 141.3 L483.8 138.2 L484.1 149.8 L484.3 161.7 L484.6 171.3 L484.8 172.9 L485.1 174.4 L485.3 175.9 L485.6 177.4 L485.8 178.8 L486.1 180.3 L486.3 182.0 L486.6 183.8 L486.8 185.7 L487.1 187.7 L487.3 188.0 L487.6 188.4 L487.8 188.8 L488.1 189.2 L488.3 189.6 L488.6 189.9 L488.8 190.2 L489.1 191.8 L489.3 195.0 L489.6 198.1 L489.8 201.0 L490.1 203.9 L490.3 206.6 L490.6 200.3 L490.8 193.7 L491.1 186.8 L491.3 187.4 L491.6 191.3 L491.8 194.9 L492.1 198.4 L492.3 201.8 L492.6 205.0 L492.8 208.1 L493.1 208.1 L493.3 207.1 L493.6 206.0 L493.8 204.9 L494.1 203.7 L494.3 202.5 L494.6 201.1 L494.8 199.7 L495.1 198.3 L495.3 196.9 L495.6 195.5 L495.8 194.2 L496.1 192.9 L496.3 191.6 L496.6 190.4 L496.8 189.3 L497.1 188.1 L497.3 186.9 L497.6 185.8 L497.8 184.8 L498.1 183.8 L498.3 182.8 L498.6 181.8 L498.8 180.8 L499.1 179.8 L499.3 179.0 L499.6 179.8 L499.8 180.6 L500.1 181.4 L500.3 182.3 L500.6 182.3 L500.8 181.2 L501.1 180.2 L501.3 179.3 L501.6 178.4 L501.8 179.0 L502.1 179.7 L502.3 180.4 L502.6 181.2 L502.8 181.9 L503.1 182.7 L503.3 182.5 L503.6 182.2 L503.8 182.0 L504.1 181.7 L504.3 181.6 L504.6 181.4 L504.8 181.2 L505.1 181.0 L505.3 180.9 L505.6 180.7 L505.8 180.9 L506.1 181.1 L506.3 181.4 L506.6 181.7 L506.8 181.9 L507.1 182.0 L507.3 182.0 L507.6 182.0 L507.8 182.0 L508.1 181.9 L508.3 181.8 L508.6 179.5 L508.8 177.0 L509.1 174.5 L509.3 171.9 L509.6 169.1 L509.8 168.2 L510.1 171.2 L510.3 174.0 L510.6 176.7 L510.8 179.4 L511.1 182.0 L511.3 180.7 L511.6 178.2 L511.8 175.8 L512.1 173.3 L512.3 170.8 L512.6 170.2 L512.8 169.9 L513.1 169.7 L513.3 169.6 L513.6 169.5 L513.8 169.2 L514.1 168.6 L514.3 168.2 L514.6 167.8 L514.8 167.3 L515.1 166.8 L515.3 166.2 L515.6 165.6 L515.8 164.8 L516.1 163.9 L516.3 163.0 L516.6 162.1 L516.8 161.2 L517.1 160.4 L517.3 159.6 L517.6 158.8 L517.8 157.9 L518.1 157.2 L518.3 156.6 L518.6 156.7 L518.8 156.9 L519.1 157.1 L519.3 157.6 L519.6 158.1 L519.8 158.8 L520.1 159.5 L520.3 160.5 L520.6 162.4 L520.8 164.4 L521.1 166.4 L521.3 167.1 L521.6 166.4 L521.8 165.6 L522.1 164.8 L522.3 164.0 L522.6 166.1 L522.8 168.2 L523.1 170.3 L523.3 172.3 L523.6 173.7 L523.8 174.4 L524.1 175.0 L524.3 175.5 L524.6 175.9 L524.8 176.2 L525.1 176.4 L525.3 176.7 L525.6 176.8 L525.8 176.8 L526.1 176.9 L526.3 176.9 L526.6 177.0 L526.8 176.8 L527.1 176.4 L527.3 176.0 L527.6 175.9 L527.8 176.1 L528.1 176.2 L528.3 176.4 L528.6 176.6 L528.8 176.8 L529.1 176.9 L529.3 175.7 L529.6 171.6 L529.8 167.5 L530.1 165.3 L530.3 167.1 L530.6 168.9 L530.8 170.7 L531.1 172.5 L531.3 174.3 L531.6 176.2 L531.8 177.7 L532.1 177.9 L532.3 178.1 L532.6 178.4 L532.8 178.7 L533.1 179.0 L533.3 179.1 L533.6 179.2 L533.8 179.3 L534.1 179.5 L534.3 179.6 L534.6 180.4 L534.8 181.1 L535.1 181.9 L535.3 182.4 L535.6 182.4 L535.8 182.5 L536.1 182.4 L536.3 182.4 L536.6 182.3 L536.8 182.1 L537.1 181.9 L537.3 181.3 L537.6 180.5 L537.8 179.8 L538.1 178.9 L538.3 178.1 L538.6 178.9 L538.8 180.0 L539.1 181.0 L539.3 182.0 L539.6 183.0 L539.8 182.7 L540.1 181.1 L540.3 179.5 L540.6 178.0 L540.8 178.3 L541.1 179.3 L541.3 180.4 L541.6 181.5 L541.8 182.7 L542.1 180.8 L542.3 179.2 L542.6 178.0 L542.8 177.2 L543.1 176.6 L543.3 176.3 L543.6 180.3 L543.8 185.1 L544.1 190.0 L544.3 194.9 L544.6 199.8 L544.8 203.8 L545.1 204.4 L545.3 204.8 L545.6 204.9 L545.8 204.6 L546.1 203.8 L546.3 205.0 L546.6 206.9 L546.8 208.7 L547.1 210.5 L547.3 210.9 L547.6 210.1 L547.8 209.3 L548.1 208.5 L548.3 207.7 L548.6 206.8 L548.8 207.6 L549.1 208.7 L549.3 209.8 L549.6 210.8 L549.8 211.8 L550.1 212.0 L550.3 211.5 L550.6 210.9 L550.8 210.3 L551.1 209.7 L551.3 209.6 L551.6 209.8 L551.8 210.0 L552.1 210.0 L552.3 209.7 L552.6 209.1 L552.8 208.2 L553.1 207.1 L553.3 205.9 L553.6 204.6 L553.8 201.6 L554.1 198.6 L554.3 195.7 L554.6 193.0 L554.8 190.6 L555.1 190.1 L555.3 189.9 L555.6 190.1 L555.8 190.5 L556.1 191.1 L556.3 192.3 L556.6 193.8 L556.8 195.4 L557.1 197.2 L557.3 199.1 L557.6 201.0 L557.8 203.1 L558.1 203.9 L558.3 204.5 L558.6 205.1 L558.8 205.8 L559.1 206.4 L559.3 207.3 L559.6 210.4 L559.8 213.4 L560.1 216.3 L560.3 217.4 L560.6 218.3 L560.8 219.0 L561.1 219.7 L561.3 220.2 L561.6 220.5 L561.8 220.6 L562.1 220.6 L562.3 220.4 L562.6 220.0 L562.8 219.5 L563.1 218.2 L563.3 216.6 L563.6 214.8 L563.8 213.0 L564.1 211.2 L564.3 209.2 L564.6 209.0 L564.8 210.1 L565.1 210.8 L565.3 209.4 L565.6 208.1 L565.8 206.8 L566.1 205.5 L566.3 204.3 L566.6 203.2 L566.8 202.2 L567.1 201.9 L567.3 201.6 L567.6 201.5 L567.8 201.5 L568.1 201.6 L568.3 201.6 L568.6 200.7 L568.8 199.8 L569.1 198.9 L569.3 198.1 L569.6 197.2 L569.8 197.2 L570.1 197.9 L570.3 198.6 L570.6 199.2 L570.8 198.6 L571.1 197.9 L571.3 197.3 L571.6 196.7 L571.8 196.1 L572.1 196.0 L572.3 196.0 L572.6 196.1 L572.8 196.2 L573.1 196.2 L573.3 196.3 L573.6 196.1 L573.8 195.4 L574.1 194.7 L574.3 194.0 L574.6 193.2 L574.8 192.5 L575.1 193.5 L575.3 194.9 L575.6 196.3 L575.8 195.3 L576.1 193.8 L576.3 192.4 L576.6 190.9 L576.8 189.3 L577.1 187.7 L577.3 186.1 L577.6 187.1 L577.8 190.1 L578.1 193.1 L578.3 192.5 L578.6 191.1 L578.8 189.7 L579.1 188.3 L579.3 186.9 L579.6 186.6 L579.8 186.6 L580.1 186.7 L580.3 186.7 L580.6 186.7 L580.8 185.5 L581.1 183.8 L581.3 182.2 L581.6 180.5 L581.8 178.9 L582.1 178.2 L582.3 179.1 L582.6 180.1 L582.8 181.1 L583.1 182.1 L583.3 183.0 L583.6 182.4 L583.8 181.8 L584.1 181.3 L584.3 180.8 L584.6 180.4 L584.8 180.2 L585.1 180.5 L585.3 181.2 L585.6 182.0 L585.8 183.1 L586.1 184.4 L586.3 185.4 L586.6 186.6 L586.8 188.0 L587.1 189.4 L587.3 190.9 L587.6 192.4 L587.8 193.9 L588.1 196.0 L588.3 198.4 L588.6 200.6 L588.8 202.8 L589.1 204.6 L589.3 200.0 L589.6 195.2 L589.8 190.8 L590.1 194.6 L590.3 198.2 L590.6 201.5 L590.8 204.6 L591.1 207.4 L591.3 206.7 L591.6 203.4 L591.8 200.0 L592.1 196.5 L592.3 192.9 L592.6 189.3 L592.8 185.6 L593.1 186.1 L593.3 187.7 L593.6 189.4 L593.8 191.3 L594.1 193.2 L594.3 193.7 L594.6 194.2 L594.8 194.8 L595.1 195.9 L595.3 197.1 L595.6 197.7 L595.8 198.6 L596.1 199.7 L596.3 201.0 L596.6 202.3 L596.8 203.1 L597.1 203.8 L597.3 204.5 L597.6 204.9 L597.8 205.0 L598.1 204.8 L598.3 206.4 L598.6 208.0 L598.8 209.4 L599.1 210.7 L599.3 210.4 L599.6 208.4 L599.8 206.2 L600.1 203.8 L600.3 201.4 L600.6 198.9 L600.8 197.9 L601.1 198.5 L601.3 199.0 L601.6 198.1 L601.8 196.0 L602.1 193.9 L602.3 191.9 L602.6 189.9 L602.8 188.1 L603.1 187.9 L603.3 187.7 L603.6 187.7 L603.8 187.6 L604.1 187.5 L604.3 185.7 L604.6 183.0 L604.8 180.2 L605.1 177.4 L605.3 174.7 L605.6 171.9 L605.8 169.5 L606.1 170.4 L606.3 171.4 L606.6 172.4 L606.8 173.5 L607.1 174.6 L607.3 173.6 L607.6 172.6 L607.8 171.7 L608.1 170.8 L608.3 170.1 L608.6 169.5 L608.8 169.6 L609.1 170.0 L609.3 170.8 L609.6 172.3 L609.8 174.4 L610.1 176.6 L610.3 178.7 L610.6 180.9 L610.8 183.2 L611.1 185.2 L611.3 187.5 L611.6 189.7 L611.8 191.2 L612.1 191.9 L612.3 187.7 L612.6 182.7 L612.8 177.2 L613.1 171.3 L613.3 169.0 L613.6 168.9 L613.8 168.8 L614.1 168.9 L614.3 169.3 L614.6 170.1 L614.8 171.4 L615.1 173.1 L615.3 172.9 L615.6 172.2 L615.8 171.5 L616.1 170.8 L616.3 170.2 L616.6 170.1 L616.8 170.8 L617.1 171.3 L617.3 170.1 L617.6 169.0 L617.8 167.9 L618.1 166.8 L618.3 165.7 L618.3 194.8 L618.1 193.7 L617.8 192.7 L617.6 192.7 L617.3 199.4 L617.1 206.1 L616.8 212.9 L616.6 219.7 L616.3 220.7 L616.1 215.6 L615.8 210.5 L615.6 205.4 L615.3 200.3 L615.1 195.2 L614.8 196.2 L614.6 198.4 L614.3 201.1 L614.1 204.2 L613.8 207.6 L613.6 211.1 L613.3 214.7 L613.1 215.6 L612.8 214.9 L612.6 213.8 L612.3 212.3 L612.1 212.6 L611.8 213.6 L611.6 213.8 L611.3 213.3 L611.1 212.4 L610.8 211.1 L610.6 208.1 L610.3 204.6 L610.1 201.3 L609.8 198.4 L609.6 198.1 L609.3 198.9 L609.1 200.5 L608.8 202.4 L608.6 204.0 L608.3 202.7 L608.1 201.5 L607.8 200.4 L607.6 199.4 L607.3 198.5 L607.1 197.7 L606.8 197.0 L606.6 198.5 L606.3 200.3 L606.1 202.1 L605.8 203.9 L605.6 205.6 L605.3 206.4 L605.1 207.2 L604.8 208.0 L604.6 208.9 L604.3 209.9 L604.1 211.1 L603.8 212.3 L603.6 213.3 L603.3 214.4 L603.1 215.5 L602.8 216.7 L602.6 218.0 L602.3 219.3 L602.1 220.7 L601.8 222.2 L601.6 224.4 L601.3 226.8 L601.1 229.1 L600.8 231.4 L600.6 233.7 L600.3 234.3 L600.1 233.9 L599.8 233.4 L599.6 232.7 L599.3 235.5 L599.1 239.4 L598.8 243.1 L598.6 246.7 L598.3 250.0 L598.1 252.9 L597.8 249.2 L597.6 245.1 L597.3 240.7 L597.1 236.1 L596.8 231.4 L596.6 226.6 L596.3 223.6 L596.1 223.8 L595.8 224.1 L595.6 224.7 L595.3 224.4 L595.1 222.5 L594.8 221.0 L594.6 220.0 L594.3 219.1 L594.1 218.4 L593.8 218.0 L593.6 223.2 L593.3 230.7 L593.1 236.7 L592.8 236.4 L592.6 236.1 L592.3 235.8 L592.1 235.5 L591.8 235.1 L591.6 234.6 L591.3 233.9 L591.1 233.2 L590.8 236.3 L590.6 239.1 L590.3 241.2 L590.1 238.9 L589.8 236.3 L589.6 233.4 L589.3 230.4 L589.1 227.2 L588.8 223.8 L588.6 221.1 L588.3 219.6 L588.1 218.0 L587.8 216.3 L587.6 214.7 L587.3 213.1 L587.1 212.0 L586.8 210.9 L586.6 210.0 L586.3 209.1 L586.1 208.4 L585.8 209.4 L585.6 210.7 L585.3 212.3 L585.1 214.1 L584.8 212.9 L584.6 210.8 L584.3 208.7 L584.1 206.6 L583.8 204.6 L583.6 202.6 L583.3 201.8 L583.1 203.2 L582.8 204.6 L582.6 206.0 L582.3 207.3 L582.1 206.9 L581.8 206.6 L581.6 206.3 L581.3 206.0 L581.1 205.7 L580.8 208.2 L580.6 211.6 L580.3 215.1 L580.1 218.5 L579.8 222.0 L579.6 222.0 L579.3 219.7 L579.1 217.3 L578.8 215.0 L578.6 212.6 L578.3 210.2 L578.1 214.1 L577.8 218.2 L577.6 222.2 L577.3 226.2 L577.1 226.7 L576.8 224.0 L576.6 221.3 L576.3 218.6 L576.1 215.9 L575.8 213.3 L575.6 213.5 L575.3 213.7 L575.1 213.9 L574.8 214.0 L574.6 214.4 L574.3 214.8 L574.1 215.2 L573.8 215.6 L573.6 216.0 L573.3 218.5 L573.1 221.5 L572.8 224.4 L572.6 227.4 L572.3 230.3 L572.1 233.3 L571.8 231.4 L571.6 227.9 L571.3 224.5 L571.1 221.1 L570.8 217.6 L570.6 215.9 L570.3 216.4 L570.1 216.8 L569.8 217.3 L569.6 217.6 L569.3 217.8 L569.1 218.0 L568.8 218.3 L568.6 218.5 L568.3 218.7 L568.1 219.1 L567.8 219.9 L567.6 220.8 L567.3 221.7 L567.1 222.8 L566.8 224.0 L566.6 224.6 L566.3 225.1 L566.1 225.6 L565.8 226.2 L565.6 226.8 L565.3 227.6 L565.1 228.5 L564.8 229.4 L564.6 230.3 L564.3 231.2 L564.1 232.1 L563.8 232.9 L563.6 233.9 L563.3 235.0 L563.1 235.9 L562.8 236.8 L562.6 237.8 L562.3 239.7 L562.1 241.5 L561.8 243.2 L561.6 244.6 L561.3 245.5 L561.1 242.9 L560.8 240.1 L560.6 237.1 L560.3 234.1 L560.1 230.9 L559.8 229.4 L559.6 228.3 L559.3 227.1 L559.1 225.7 L558.8 224.3 L558.6 222.8 L558.3 221.3 L558.1 219.9 L557.8 218.5 L557.6 218.2 L557.3 219.5 L557.1 220.8 L556.8 222.3 L556.6 223.9 L556.3 225.6 L556.1 226.1 L555.8 221.8 L555.6 217.6 L555.3 213.6 L555.1 211.8 L554.8 213.0 L554.6 214.5 L554.3 216.1 L554.1 218.0 L553.8 219.9 L553.6 221.9 L553.3 223.7 L553.1 224.4 L552.8 225.0 L552.6 225.4 L552.3 225.5 L552.1 226.7 L551.8 228.1 L551.6 229.4 L551.3 230.6 L551.1 231.8 L550.8 232.8 L550.6 232.3 L550.3 231.9 L550.1 231.4 L549.8 230.9 L549.6 232.6 L549.3 235.3 L549.1 237.9 L548.8 240.5 L548.6 243.1 L548.3 245.6 L548.1 245.2 L547.8 238.2 L547.6 231.1 L547.3 224.0 L547.1 224.9 L546.8 225.9 L546.6 226.9 L546.3 227.8 L546.1 227.8 L545.8 226.2 L545.6 224.2 L545.3 221.9 L545.1 219.2 L544.8 216.8 L544.6 216.0 L544.3 215.0 L544.1 214.0 L543.8 213.0 L543.6 212.0 L543.3 209.6 L543.1 207.0 L542.8 204.7 L542.6 202.6 L542.3 200.9 L542.1 199.6 L541.8 198.7 L541.6 198.3 L541.3 198.0 L541.1 197.8 L540.8 197.6 L540.6 197.4 L540.3 197.5 L540.1 197.6 L539.8 197.8 L539.6 198.0 L539.3 198.1 L539.1 199.8 L538.8 201.4 L538.6 203.1 L538.3 203.3 L538.1 202.8 L537.8 202.2 L537.6 201.6 L537.3 200.9 L537.1 200.2 L536.8 199.4 L536.6 200.5 L536.3 202.0 L536.1 203.3 L535.8 204.7 L535.6 205.0 L535.3 203.2 L535.1 201.4 L534.8 199.6 L534.6 197.8 L534.3 196.0 L534.1 196.4 L533.8 196.8 L533.6 197.2 L533.3 197.7 L533.1 198.2 L532.8 198.7 L532.6 198.2 L532.3 196.7 L532.1 195.2 L531.8 193.8 L531.6 192.4 L531.3 191.1 L531.1 191.7 L530.8 193.6 L530.6 195.5 L530.3 195.2 L530.1 194.8 L529.8 194.4 L529.6 194.0 L529.3 193.6 L529.1 193.3 L528.8 192.9 L528.6 192.1 L528.3 191.3 L528.1 190.6 L527.8 190.3 L527.6 190.3 L527.3 190.4 L527.1 190.4 L526.8 190.4 L526.6 190.7 L526.3 192.0 L526.1 193.2 L525.8 194.4 L525.6 195.7 L525.3 195.4 L525.1 194.4 L524.8 193.4 L524.6 192.5 L524.3 191.4 L524.1 190.1 L523.8 188.8 L523.6 188.2 L523.3 188.4 L523.1 188.5 L522.8 188.6 L522.6 188.7 L522.3 188.7 L522.1 187.5 L521.8 185.7 L521.6 183.9 L521.3 182.1 L521.1 181.0 L520.8 180.8 L520.6 180.6 L520.3 180.4 L520.1 180.1 L519.8 179.5 L519.6 179.1 L519.3 178.8 L519.1 178.7 L518.8 178.7 L518.6 178.8 L518.3 178.6 L518.1 178.4 L517.8 178.4 L517.6 178.3 L517.3 178.4 L517.1 178.4 L516.8 179.0 L516.6 179.9 L516.3 181.4 L516.1 184.2 L515.8 187.1 L515.6 190.0 L515.3 192.9 L515.1 195.8 L514.8 198.7 L514.6 197.8 L514.3 195.8 L514.1 193.9 L513.8 192.1 L513.6 190.4 L513.3 190.7 L513.1 191.1 L512.8 191.5 L512.6 192.0 L512.3 192.4 L512.1 192.9 L511.8 193.5 L511.6 194.6 L511.3 195.6 L511.1 196.6 L510.8 197.6 L510.6 199.1 L510.3 205.4 L510.1 211.7 L509.8 217.9 L509.6 216.0 L509.3 212.9 L509.1 209.6 L508.8 206.2 L508.6 202.8 L508.3 203.0 L508.1 204.4 L507.8 205.9 L507.6 207.3 L507.3 208.6 L507.1 208.8 L506.8 207.4 L506.6 206.1 L506.3 204.7 L506.1 203.3 L505.8 202.9 L505.6 205.7 L505.3 208.5 L505.1 211.2 L504.8 214.0 L504.6 216.7 L504.3 218.2 L504.1 214.2 L503.8 210.2 L503.6 206.3 L503.3 202.3 L503.1 199.7 L502.8 200.5 L502.6 201.3 L502.3 202.1 L502.1 202.9 L501.8 203.7 L501.6 204.5 L501.3 205.3 L501.1 206.2 L500.8 207.2 L500.6 208.3 L500.3 212.1 L500.1 216.0 L499.8 219.9 L499.6 223.9 L499.3 223.8 L499.1 221.1 L498.8 218.5 L498.6 216.0 L498.3 213.4 L498.1 212.5 L497.8 214.4 L497.6 216.3 L497.3 218.1 L497.1 220.0 L496.8 222.0 L496.6 224.0 L496.3 226.2 L496.1 225.6 L495.8 222.5 L495.6 219.4 L495.3 216.9 L495.1 218.2 L494.8 219.5 L494.6 220.8 L494.3 222.0 L494.1 223.3 L493.8 224.4 L493.6 225.4 L493.3 225.8 L493.1 226.2 L492.8 226.7 L492.6 227.2 L492.3 227.7 L492.1 228.0 L491.8 228.2 L491.6 228.2 L491.3 228.1 L491.1 227.7 L490.8 227.2 L490.6 226.5 L490.3 225.6 L490.1 224.6 L489.8 223.5 L489.6 229.4 L489.3 235.9 L489.1 242.3 L488.8 248.7 L488.6 255.0 L488.3 252.2 L488.1 236.6 L487.8 221.0 L487.6 212.4 L487.3 212.1 L487.1 211.8 L486.8 211.5 L486.6 211.3 L486.3 211.2 L486.1 210.0 L485.8 206.8 L485.6 203.6 L485.3 200.3 L485.1 196.9 L484.8 195.0 L484.6 195.8 L484.3 196.7 L484.1 197.5 L483.8 198.4 L483.6 198.2 L483.3 195.4 L483.1 192.6 L482.8 189.9 L482.6 187.3 L482.3 184.8 L482.1 182.4 L481.8 181.7 L481.6 183.3 L481.3 184.9 L481.1 185.5 L480.8 184.9 L480.6 184.3 L480.3 183.7 L480.1 183.2 L479.8 182.6 L479.6 181.9 L479.3 180.1 L479.1 178.3 L478.8 176.5 L478.6 174.7 L478.3 173.0 L478.1 171.3 L477.8 172.2 L477.6 173.1 L477.3 174.3 L477.1 176.5 L476.8 178.8 L476.6 181.1 L476.3 183.4 L476.1 185.7 L475.8 188.1 L475.6 190.6 L475.3 191.6 L475.1 184.2 L474.8 177.2 L474.6 174.2 L474.3 175.8 L474.1 177.8 L473.8 179.9 L473.6 182.1 L473.3 184.4 L473.1 186.1 L472.8 186.6 L472.6 186.9 L472.3 187.0 L472.1 186.8 L471.8 186.2 L471.6 186.2 L471.3 186.7 L471.1 187.0 L470.8 187.2 L470.6 187.2 L470.3 186.4 L470.1 185.1 L469.8 183.8 L469.6 182.4 L469.3 180.9 L469.1 181.6 L468.8 184.2 L468.6 186.9 L468.3 189.7 L468.1 192.6 L467.8 190.3 L467.6 186.7 L467.3 183.3 L467.1 180.1 L466.8 176.8 L466.6 178.0 L466.3 183.9 L466.1 189.8 L465.8 195.8 L465.6 198.5 L465.3 195.9 L465.1 193.3 L464.8 190.8 L464.6 188.3 L464.3 185.8 L464.1 183.3 L463.8 180.9 L463.6 182.7 L463.3 185.7 L463.1 188.8 L462.8 191.9 L462.6 195.0 L462.3 194.3 L462.1 190.4 L461.8 186.6 L461.6 186.2 L461.3 189.2 L461.1 192.1 L460.8 195.1 L460.6 198.0 L460.3 201.0 L460.1 203.8 L459.8 202.0 L459.6 200.5 L459.3 199.0 L459.1 197.7 L458.8 197.1 L458.6 202.1 L458.3 207.2 L458.1 212.3 L457.8 217.4 L457.6 222.6 L457.3 221.3 L457.1 218.8 L456.8 216.2 L456.6 213.6 L456.3 210.9 L456.1 211.4 L455.8 213.7 L455.6 215.8 L455.3 217.8 L455.1 219.7 L454.8 221.3 L454.6 221.2 L454.3 220.0 L454.1 218.4 L453.8 216.3 L453.6 213.9 L453.3 211.9 L453.1 211.7 L452.8 211.5 L452.6 211.2 L452.3 210.9 L452.1 207.9 L451.8 204.8 L451.6 202.0 L451.3 199.4 L451.1 197.2 L450.8 197.3 L450.6 199.0 L450.3 201.9 L450.1 205.7 L449.8 210.2 L449.6 214.1 L449.3 217.9 L449.1 221.7 L448.8 225.1 L448.6 229.2 L448.3 233.1 L448.1 235.9 L447.8 237.6 L447.6 238.9 L447.3 239.4 L447.1 237.1 L446.8 234.5 L446.6 231.9 L446.3 229.0 L446.1 226.1 L445.8 223.0 L445.6 220.2 L445.3 219.6 L445.1 218.8 L444.8 218.0 L444.6 215.9 L444.3 213.5 L444.1 211.1 L443.8 208.7 L443.6 206.3 L443.3 205.0 L443.1 203.8 L442.8 202.6 L442.6 201.4 L442.3 200.0 L442.1 198.5 L441.8 196.4 L441.6 193.8 L441.3 191.2 L441.1 188.5 L440.8 185.8 L440.6 183.1 L440.3 181.3 L440.1 180.0 L439.8 178.7 L439.6 177.5 L439.3 176.2 L439.1 175.1 L438.8 172.2 L438.6 169.2 L438.3 166.2 L438.1 163.2 L437.8 160.8 L437.6 160.0 L437.3 159.2 L437.1 158.4 L436.8 155.0 L436.6 151.4 L436.3 147.9 L436.1 144.3 L435.8 140.9 L435.6 137.6 L435.3 139.6 L435.1 142.5 L434.8 145.5 L434.6 148.6 L434.3 146.6 L434.1 141.9 L433.8 137.3 L433.6 132.6 L433.3 128.0 L433.1 125.9 L432.8 125.9 L432.6 125.9 L432.3 125.9 L432.1 125.9 L431.8 126.0 L431.6 126.2 L431.3 125.3 L431.1 122.2 L430.8 119.2 L430.6 116.2 L430.3 113.3 L430.1 113.7 L429.8 114.2 L429.6 114.7 L429.3 115.4 L429.1 115.9 L428.8 115.2 L428.6 114.5 L428.3 114.2 L428.1 114.1 L427.8 114.3 L427.6 114.8 L427.3 117.0 L427.1 121.3 L426.8 125.7 L426.6 130.3 L426.3 131.3 L426.1 131.3 L425.8 131.3 L425.6 131.4 L425.3 131.6 L425.1 134.5 L424.8 138.3 L424.6 142.1 L424.3 145.9 L424.1 149.7 L423.8 151.6 L423.6 153.1 L423.3 154.7 L423.1 156.2 L422.8 157.9 L422.6 159.6 L422.3 161.3 L422.1 163.9 L421.8 167.1 L421.6 170.2 L421.3 173.1 L421.1 175.6 L420.8 178.2 L420.6 180.9 L420.3 183.6 L420.1 186.4 L419.8 189.3 L419.6 192.5 L419.3 197.7 L419.1 202.9 L418.8 208.0 L418.6 210.8 L418.3 214.4 L418.1 218.6 L417.8 223.3 L417.6 228.1 L417.3 232.8 L417.1 237.0 L416.8 241.6 L416.6 245.4 L416.3 248.2 L416.1 250.8 L415.8 253.1 L415.6 254.2 L415.3 254.9 L415.1 255.1 L414.8 254.7 L414.6 254.2 L414.3 253.8 L414.1 253.8 L413.8 253.8 L413.6 253.7 L413.3 253.0 L413.1 252.1 L412.8 251.2 L412.6 250.3 L412.3 249.6 L412.1 249.9 L411.8 250.1 L411.6 250.4 L411.3 250.6 L411.1 250.9 L410.8 251.1 L410.6 251.0 L410.3 249.7 L410.1 248.4 L409.8 247.1 L409.6 247.0 L409.3 246.9 L409.1 246.7 L408.8 246.5 L408.6 246.3 L408.3 245.3 L408.1 243.9 L407.8 242.3 L407.6 240.8 L407.3 239.2 L407.1 237.5 L406.8 235.9 L406.6 234.5 L406.3 234.1 L406.1 233.5 L405.8 232.8 L405.6 230.6 L405.3 228.2 L405.1 225.7 L404.8 223.2 L404.6 220.5 L404.3 217.8 L404.1 216.2 L403.8 214.5 L403.6 212.8 L403.3 211.2 L403.1 209.3 L402.8 206.6 L402.6 203.9 L402.3 201.3 L402.1 198.9 L401.8 196.4 L401.6 194.0 L401.3 193.4 L401.1 195.1 L400.8 196.8 L400.6 196.3 L400.3 193.0 L400.1 189.8 L399.8 186.5 L399.6 183.2 L399.3 180.0 L399.1 176.8 L398.8 174.2 L398.6 172.3 L398.3 170.4 L398.1 168.6 L397.8 166.7 L397.6 164.9 L397.3 163.5 L397.1 162.1 L396.8 160.7 L396.6 159.4 L396.3 158.1 L396.1 158.6 L395.8 160.6 L395.6 162.5 L395.3 160.6 L395.1 156.4 L394.8 152.2 L394.6 148.1 L394.3 144.0 L394.1 141.2 L393.8 140.2 L393.6 139.3 L393.3 138.6 L393.1 138.1 L392.8 137.8 L392.6 137.7 L392.3 137.2 L392.1 135.9 L391.8 134.7 L391.6 133.6 L391.3 132.5 L391.1 131.5 L390.8 131.0 L390.6 131.6 L390.3 132.1 L390.1 132.7 L389.8 133.2 L389.6 133.3 L389.3 133.2 L389.1 133.1 L388.8 133.1 L388.6 133.0 L388.3 133.0 L388.1 133.2 L387.8 133.6 L387.6 134.0 L387.3 134.6 L387.1 135.3 L386.8 136.2 L386.6 137.1 L386.3 138.4 L386.1 140.1 L385.8 141.9 L385.6 143.8 L385.3 145.7 L385.1 147.7 L384.8 149.7 L384.6 151.7 L384.3 152.4 L384.1 153.0 L383.8 153.5 L383.6 154.0 L383.3 154.4 L383.1 156.1 L382.8 157.9 L382.6 159.7 L382.3 161.5 L382.1 163.4 L381.8 165.3 L381.6 167.1 L381.3 169.0 L381.1 170.9 L380.8 172.7 L380.6 174.5 L380.3 176.3 L380.1 178.2 L379.8 180.0 L379.6 181.8 L379.3 183.4 L379.1 184.8 L378.8 186.2 L378.6 187.6 L378.3 188.9 L378.1 191.0 L377.8 193.0 L377.6 195.0 L377.3 197.0 L377.1 198.6 L376.8 199.1 L376.6 199.6 L376.3 200.2 L376.1 200.7 L375.8 201.2 L375.6 202.9 L375.3 204.7 L375.1 206.5 L374.8 208.2 L374.6 209.9 L374.3 211.6 L374.1 213.0 L373.8 214.2 L373.6 215.3 L373.3 216.4 L373.1 217.3 L372.8 218.2 L372.6 219.0 L372.3 219.6 L372.1 220.2 L371.8 221.3 L371.6 222.4 L371.3 223.5 L371.1 224.6 L370.8 225.6 L370.6 226.6 L370.3 226.9 L370.1 226.5 L369.8 226.2 L369.6 225.8 L369.3 225.5 L369.1 225.1 L368.8 224.6 L368.6 224.0 L368.3 223.4 L368.1 223.3 L367.8 223.6 L367.6 223.9 L367.3 224.3 L367.1 224.8 L366.8 225.4 L366.6 226.6 L366.3 228.3 L366.1 230.5 L365.8 233.4 L365.6 236.4 L365.3 239.4 L365.1 242.2 L364.8 244.6 L364.6 246.5 L364.3 247.8 L364.1 248.4 L363.8 247.9 L363.6 246.3 L363.3 244.2 L363.1 241.7 L362.8 238.9 L362.6 235.9 L362.3 232.6 L362.1 231.4 L361.8 231.5 L361.6 230.7 L361.3 227.4 L361.1 224.2 L360.8 221.4 L360.6 218.9 L360.3 216.6 L360.1 215.1 L359.8 214.0 L359.6 213.0 L359.3 212.0 L359.1 211.1 L358.8 210.2 L358.6 209.3 L358.3 207.2 L358.1 204.6 L357.8 202.0 L357.6 199.4 L357.3 196.9 L357.1 196.2 L356.8 196.3 L356.6 196.3 L356.3 196.4 L356.1 196.4 L355.8 195.1 L355.6 193.5 L355.3 191.9 L355.1 190.2 L354.8 189.3 L354.6 189.4 L354.3 189.6 L354.1 189.8 L353.8 190.0 L353.6 190.4 L353.3 190.8 L353.1 189.8 L352.8 185.5 L352.6 181.3 L352.3 177.3 L352.1 176.8 L351.8 180.2 L351.6 183.6 L351.3 187.1 L351.1 190.5 L350.8 193.9 L350.6 197.4 L350.3 191.7 L350.1 185.9 L349.8 180.1 L349.6 174.4 L349.3 174.7 L349.1 177.2 L348.8 179.7 L348.6 182.3 L348.3 183.8 L348.1 180.8 L347.8 177.9 L347.6 175.0 L347.3 172.7 L347.1 172.8 L346.8 173.0 L346.6 173.2 L346.3 173.5 L346.1 173.7 L345.8 173.9 L345.6 174.2 L345.3 173.8 L345.1 173.3 L344.8 172.8 L344.6 172.3 L344.3 174.5 L344.1 184.5 L343.8 194.4 L343.6 204.4 L343.3 205.4 L343.1 198.6 L342.8 191.9 L342.6 185.1 L342.3 178.3 L342.1 174.0 L341.8 174.5 L341.6 175.1 L341.3 175.7 L341.1 176.2 L340.8 176.8 L340.6 177.4 L340.3 176.8 L340.1 175.5 L339.8 174.2 L339.6 173.0 L339.3 175.7 L339.1 179.4 L338.8 183.2 L338.6 187.3 L338.3 191.6 L338.1 196.1 L337.8 199.0 L337.6 195.9 L337.3 193.0 L337.1 190.2 L336.8 187.5 L336.6 184.9 L336.3 188.2 L336.1 194.9 L335.8 201.6 L335.6 208.4 L335.3 209.9 L335.1 209.0 L334.8 208.2 L334.6 207.3 L334.3 206.4 L334.1 205.4 L333.8 205.2 L333.6 208.0 L333.3 210.7 L333.1 213.4 L332.8 216.3 L332.6 219.1 L332.3 219.8 L332.1 220.6 L331.8 221.3 L331.6 222.1 L331.3 222.8 L331.1 225.0 L330.8 227.8 L330.6 230.6 L330.3 232.7 L330.1 233.7 L329.8 234.5 L329.6 235.0 L329.3 235.3 L329.1 235.2 L328.8 234.8 L328.6 234.1 L328.3 233.4 L328.1 232.5 L327.8 231.5 L327.6 230.3 L327.3 229.5 L327.1 228.6 L326.8 227.8 L326.6 227.1 L326.3 226.5 L326.1 226.1 L325.8 226.3 L325.6 227.4 L325.3 228.8 L325.1 228.4 L324.8 227.2 L324.6 226.1 L324.3 225.1 L324.1 224.1 L323.8 223.9 L323.6 224.6 L323.3 225.3 L323.1 225.9 L322.8 226.6 L322.6 227.1 L322.3 227.6 L322.1 227.6 L321.8 227.4 L321.6 227.0 L321.3 226.5 L321.1 225.7 L320.8 227.5 L320.6 231.5 L320.3 235.3 L320.1 238.2 L319.8 234.0 L319.6 229.8 L319.3 225.5 L319.1 221.1 L318.8 216.7 L318.6 216.0 L318.3 215.7 L318.1 215.3 L317.8 214.9 L317.6 214.5 L317.3 214.2 L317.1 213.9 L316.8 212.1 L316.6 210.3 L316.3 208.6 L316.1 206.8 L315.8 204.8 L315.6 202.8 L315.3 200.7 L315.1 198.7 L314.8 196.6 L314.6 194.5 L314.3 193.1 L314.1 193.0 L313.8 192.9 L313.6 192.8 L313.3 192.5 L313.1 192.3 L312.8 192.1 L312.6 192.0 L312.3 192.0 L312.1 192.1 L311.8 190.4 L311.6 188.4 L311.3 186.3 L311.1 184.2 L310.8 182.2 L310.6 181.2 L310.3 181.2 L310.1 181.2 L309.8 181.3 L309.6 181.3 L309.3 181.0 L309.1 180.3 L308.8 179.6 L308.6 179.0 L308.3 178.4 L308.1 177.9 L307.8 177.4 L307.6 179.5 L307.3 182.1 L307.1 184.9 L306.8 187.7 L306.6 189.0 L306.3 187.2 L306.1 185.5 L305.8 183.9 L305.6 183.2 L305.3 187.5 L305.1 191.7 L304.8 196.0 L304.6 200.3 L304.3 201.2 L304.1 199.6 L303.8 197.9 L303.6 196.3 L303.3 194.6 L303.1 192.9 L302.8 191.1 L302.6 189.4 L302.3 191.1 L302.1 195.0 L301.8 198.9 L301.6 202.8 L301.3 206.8 L301.1 205.8 L300.8 201.6 L300.6 197.4 L300.3 193.2 L300.1 191.7 L299.8 192.7 L299.6 193.8 L299.3 194.9 L299.1 196.0 L298.8 197.1 L298.6 197.3 L298.3 197.3 L298.1 197.3 L297.8 197.3 L297.6 197.5 L297.3 198.0 L297.1 198.4 L296.8 198.9 L296.6 199.3 L296.3 199.8 L296.1 200.4 L295.8 201.2 L295.6 202.0 L295.3 202.8 L295.1 203.6 L294.8 207.7 L294.6 212.5 L294.3 217.2 L294.1 221.9 L293.8 226.6 L293.6 231.3 L293.3 233.2 L293.1 228.2 L292.8 223.1 L292.6 218.1 L292.3 213.0 L292.1 213.7 L291.8 216.7 L291.6 219.8 L291.3 222.8 L291.1 225.8 L290.8 223.5 L290.6 220.1 L290.3 216.8 L290.1 215.0 L289.8 216.6 L289.6 218.4 L289.3 220.2 L289.1 222.1 L288.8 224.0 L288.6 225.9 L288.3 227.9 L288.1 228.1 L287.8 228.0 L287.6 227.9 L287.3 227.6 L287.1 227.2 L286.8 228.3 L286.6 229.3 L286.3 230.0 L286.1 230.6 L285.8 230.1 L285.6 229.4 L285.3 228.7 L285.1 227.9 L284.8 227.0 L284.6 226.0 L284.3 225.4 L284.1 226.1 L283.8 226.8 L283.6 227.5 L283.3 228.1 L283.1 227.7 L282.8 225.8 L282.6 224.0 L282.3 222.1 L282.1 220.2 L281.8 218.8 L281.6 218.3 L281.3 217.5 L281.1 216.5 L280.8 215.5 L280.6 214.1 L280.3 212.7 L280.1 211.2 L279.8 209.7 L279.6 208.2 L279.3 206.8 L279.1 207.3 L278.8 208.0 L278.6 208.8 L278.3 209.8 L278.1 211.0 L277.8 210.4 L277.6 209.6 L277.3 209.0 L277.1 208.6 L276.8 208.4 L276.6 208.2 L276.3 210.4 L276.1 213.3 L275.8 216.2 L275.6 217.2 L275.3 214.9 L275.1 212.6 L274.8 210.1 L274.6 207.5 L274.3 204.7 L274.1 204.0 L273.8 203.9 L273.6 203.7 L273.3 203.6 L273.1 203.4 L272.8 203.2 L272.6 203.2 L272.3 203.1 L272.1 203.0 L271.8 202.9 L271.6 202.8 L271.3 202.8 L271.1 202.9 L270.8 203.0 L270.6 203.8 L270.3 205.2 L270.1 206.6 L269.8 208.2 L269.6 209.7 L269.3 211.5 L269.1 213.4 L268.8 215.4 L268.6 217.4 L268.3 219.5 L268.1 221.5 L267.8 219.3 L267.6 216.1 L267.3 213.0 L267.1 209.8 L266.8 206.6 L266.6 205.4 L266.3 207.2 L266.1 208.9 L265.8 210.6 L265.6 212.2 L265.3 213.6 L265.1 214.1 L264.8 211.9 L264.6 209.7 L264.3 207.4 L264.1 205.1 L263.8 202.8 L263.6 201.0 L263.3 200.8 L263.1 200.6 L262.8 200.4 L262.6 200.3 L262.3 200.1 L262.1 199.7 L261.8 199.4 L261.6 199.2 L261.3 200.2 L261.1 201.5 L260.8 202.9 L260.6 204.4 L260.3 206.0 L260.1 207.5 L259.8 208.6 L259.6 207.9 L259.3 207.1 L259.1 206.4 L258.8 205.6 L258.6 204.9 L258.3 204.4 L258.1 205.0 L257.8 205.5 L257.6 206.1 L257.3 206.7 L257.1 207.7 L256.8 208.7 L256.6 209.6 L256.3 210.5 L256.1 211.5 L255.8 210.5 L255.6 209.3 L255.3 208.1 L255.1 206.9 L254.8 205.8 L254.6 206.0 L254.3 206.2 L254.1 206.3 L253.8 206.5 L253.6 207.9 L253.3 210.6 L253.1 213.3 L252.8 216.0 L252.6 218.7 L252.3 219.2 L252.1 217.9 L251.8 216.6 L251.6 215.3 L251.3 214.1 L251.1 213.0 L250.8 212.6 L250.6 212.6 L250.3 212.7 L250.1 212.8 L249.8 212.9 L249.6 213.0 L249.3 213.2 L249.1 214.6 L248.8 216.2 L248.6 217.9 L248.3 219.2 L248.1 219.1 L247.8 218.9 L247.6 218.7 L247.3 218.5 L247.1 219.0 L246.8 219.6 L246.6 220.1 L246.3 220.6 L246.1 221.0 L245.8 221.3 L245.6 221.6 L245.3 221.8 L245.1 223.3 L244.8 225.6 L244.6 227.9 L244.3 230.1 L244.1 232.4 L243.8 231.5 L243.6 227.2 L243.3 222.8 L243.1 219.1 L242.8 222.0 L242.6 224.9 L242.3 227.8 L242.1 230.5 L241.8 233.1 L241.6 232.1 L241.3 227.5 L241.1 222.8 L240.8 218.0 L240.6 213.2 L240.3 212.7 L240.1 216.0 L239.8 219.4 L239.6 222.9 L239.3 226.6 L239.1 224.3 L238.8 221.6 L238.6 219.1 L238.3 216.9 L238.1 214.8 L237.8 213.0 L237.6 215.1 L237.3 219.0 L237.1 223.1 L236.8 227.2 L236.6 229.0 L236.3 229.0 L236.1 229.0 L235.8 228.9 L235.6 228.8 L235.3 228.6 L235.1 228.2 L234.8 228.1 L234.6 227.9 L234.3 227.6 L234.1 227.2 L233.8 226.9 L233.6 226.5 L233.3 226.3 L233.1 226.1 L232.8 225.8 L232.6 226.6 L232.3 227.7 L232.1 228.8 L231.8 229.9 L231.6 231.0 L231.3 232.1 L231.1 233.2 L230.8 232.4 L230.6 230.4 L230.3 228.4 L230.1 226.4 L229.8 235.0 L229.6 245.0 L229.3 254.9 L229.1 264.9 L228.8 274.8 L228.6 272.8 L228.3 264.4 L228.1 255.5 L227.8 246.1 L227.6 236.4 L227.3 226.4 L227.1 216.3 L226.8 213.4 L226.6 211.4 L226.3 209.7 L226.1 207.9 L225.8 206.3 L225.6 205.2 L225.3 204.7 L225.1 204.8 L224.8 205.7 L224.6 207.8 L224.3 211.4 L224.1 215.3 L223.8 219.4 L223.6 222.8 L223.3 223.0 L223.1 222.7 L222.8 222.1 L222.6 221.5 L222.3 222.5 L222.1 223.7 L221.8 224.9 L221.6 226.1 L221.3 227.2 L221.1 228.3 L220.8 229.4 L220.6 230.0 L220.3 230.5 L220.1 231.0 L219.8 231.3 L219.6 232.7 L219.3 235.7 L219.1 238.7 L218.8 241.7 L218.6 242.4 L218.3 241.7 L218.1 240.9 L217.8 240.1 L217.6 239.4 L217.3 238.6 L217.1 237.8 L216.8 237.1 L216.6 239.3 L216.3 241.5 L216.1 243.7 L215.8 245.9 L215.6 248.0 L215.3 248.0 L215.1 246.5 L214.8 245.1 L214.6 243.6 L214.3 242.1 L214.1 240.7 L213.8 240.8 L213.6 240.8 L213.3 240.4 L213.1 239.7 L212.8 238.7 L212.6 237.5 L212.3 236.1 L212.1 234.5 L211.8 233.0 L211.6 232.1 L211.3 231.2 L211.1 230.4 L210.8 229.6 L210.6 227.6 L210.3 225.9 L210.1 224.4 L209.8 223.1 L209.6 222.2 L209.3 221.6 L209.1 221.6 L208.8 221.9 L208.6 222.2 L208.3 222.5 L208.1 222.9 L207.8 223.3 L207.6 223.7 L207.3 225.0 L207.1 226.4 L206.8 228.1 L206.6 230.3 L206.3 232.5 L206.1 234.6 L205.8 236.8 L205.6 239.0 L205.3 241.3 L205.1 239.8 L204.8 236.9 L204.6 234.0 L204.3 231.3 L204.1 229.9 L203.8 231.3 L203.6 232.7 L203.3 234.1 L203.1 235.6 L202.8 236.6 L202.6 236.7 L202.3 236.9 L202.1 237.0 L201.8 237.2 L201.6 237.4 L201.3 237.7 L201.1 239.9 L200.8 243.0Z" stroke="none" stroke-width="0" fill="#F7605F" fill-opacity="0.36"/>
<path d="M200.8 229.0 L201.1 228.8 L201.3 228.8 L201.6 227.2 L201.8 225.0 L202.1 223.7 L202.3 223.8 L202.6 222.9 L202.8 222.6 L203.1 220.4 L203.3 220.9 L203.6 220.0 L203.8 219.9 L204.1 219.0 L204.3 217.6 L204.6 217.3 L204.8 217.3 L205.1 216.6 L205.3 216.4 L205.6 216.4 L205.8 215.6 L206.1 214.2 L206.3 213.9 L206.6 213.1 L206.8 213.1 L207.1 212.5 L207.3 210.9 L207.6 210.1 L207.8 209.2 L208.1 209.4 L208.3 209.5 L208.6 209.4 L208.8 210.4 L209.1 210.8 L209.3 209.8 L209.6 209.8 L209.8 210.3 L210.1 211.8 L210.3 213.2 L210.6 214.0 L210.8 217.0 L211.1 218.8 L211.3 219.9 L211.6 220.7 L211.8 224.0 L212.1 225.2 L212.3 224.7 L212.6 226.5 L212.8 227.1 L213.1 227.8 L213.3 230.6 L213.6 231.7 L213.8 233.8 L214.1 233.9 L214.3 232.3 L214.6 231.1 L214.8 231.0 L215.1 231.1 L215.3 230.9 L215.6 230.9 L215.8 231.0 L216.1 231.2 L216.3 230.3 L216.6 229.8 L216.8 228.5 L217.1 227.4 L217.3 227.8 L217.6 227.2 L217.8 227.2 L218.1 226.3 L218.3 227.2 L218.6 227.0 L218.8 227.0 L219.1 226.8 L219.3 225.1 L219.6 225.4 L219.8 224.5 L220.1 224.1 L220.3 222.1 L220.6 221.0 L220.8 219.9 L221.1 219.7 L221.3 216.5 L221.6 215.8 L221.8 215.6 L222.1 213.3 L222.3 212.8 L222.6 210.8 L222.8 208.8 L223.1 208.6 L223.3 209.8 L223.6 206.4 L223.8 202.6 L224.1 200.8 L224.3 200.2 L224.6 198.5 L224.8 196.4 L225.1 195.7 L225.3 195.5 L225.6 195.9 L225.8 197.0 L226.1 199.0 L226.3 202.0 L226.6 204.2 L226.8 208.1 L227.1 209.7 L227.3 208.6 L227.6 211.8 L227.8 215.0 L228.1 215.8 L228.3 217.8 L228.6 219.0 L228.8 220.0 L229.1 219.8 L229.3 220.3 L229.6 219.1 L229.8 219.0 L230.1 220.5 L230.3 220.2 L230.6 219.5 L230.8 220.7 L231.1 219.8 L231.3 216.8 L231.6 216.3 L231.8 218.0 L232.1 218.5 L232.3 218.4 L232.6 218.6 L232.8 216.8 L233.1 216.7 L233.3 216.0 L233.6 214.8 L233.8 215.1 L234.1 214.5 L234.3 214.1 L234.6 214.2 L234.8 215.9 L235.1 215.7 L235.3 213.4 L235.6 212.2 L235.8 212.0 L236.1 210.3 L236.3 208.1 L236.6 206.2 L236.8 204.1 L237.1 203.0 L237.3 202.9 L237.6 201.8 L237.8 199.6 L238.1 199.1 L238.3 199.9 L238.6 200.5 L238.8 199.0 L239.1 198.7 L239.3 199.7 L239.6 201.8 L239.8 202.8 L240.1 204.8 L240.3 208.6 L240.6 208.7 L240.8 207.6 L241.1 208.6 L241.3 211.4 L241.6 212.3 L241.8 210.6 L242.1 211.0 L242.3 211.7 L242.6 211.7 L242.8 210.9 L243.1 211.1 L243.3 211.3 L243.6 211.8 L243.8 211.6 L244.1 211.8 L244.3 211.1 L244.6 211.1 L244.8 211.1 L245.1 211.0 L245.3 212.9 L245.6 213.2 L245.8 212.3 L246.1 212.7 L246.3 210.7 L246.6 211.2 L246.8 211.8 L247.1 211.0 L247.3 209.2 L247.6 208.5 L247.8 208.3 L248.1 207.5 L248.3 205.9 L248.6 204.9 L248.8 207.3 L249.1 206.9 L249.3 206.2 L249.6 205.7 L249.8 201.9 L250.1 202.8 L250.3 202.3 L250.6 202.3 L250.8 202.9 L251.1 201.6 L251.3 202.6 L251.6 203.1 L251.8 199.7 L252.1 199.7 L252.3 202.2 L252.6 202.1 L252.8 202.5 L253.1 202.2 L253.3 200.7 L253.6 199.9 L253.8 201.8 L254.1 201.2 L254.3 200.2 L254.6 200.4 L254.8 201.9 L255.1 202.3 L255.3 200.7 L255.6 200.9 L255.8 201.1 L256.1 200.8 L256.3 199.9 L256.6 198.1 L256.8 199.1 L257.1 198.4 L257.3 197.5 L257.6 196.5 L257.8 195.0 L258.1 194.4 L258.3 194.1 L258.6 195.1 L258.8 197.3 L259.1 197.7 L259.3 196.6 L259.6 194.9 L259.8 194.6 L260.1 194.6 L260.3 192.8 L260.6 192.7 L260.8 193.1 L261.1 192.3 L261.3 192.9 L261.6 192.8 L261.8 192.1 L262.1 192.2 L262.3 192.0 L262.6 193.5 L262.8 194.3 L263.1 195.1 L263.3 196.2 L263.6 197.1 L263.8 197.9 L264.1 197.9 L264.3 198.1 L264.6 199.7 L264.8 202.1 L265.1 201.7 L265.3 201.7 L265.6 202.4 L265.8 201.9 L266.1 201.2 L266.3 200.8 L266.6 199.5 L266.8 200.3 L267.1 199.9 L267.3 199.2 L267.6 199.7 L267.8 200.2 L268.1 199.0 L268.3 198.1 L268.6 197.4 L268.8 197.0 L269.1 196.4 L269.3 195.7 L269.6 196.1 L269.8 195.4 L270.1 195.4 L270.3 194.1 L270.6 193.9 L270.8 196.0 L271.1 196.1 L271.3 196.1 L271.6 196.4 L271.8 196.7 L272.1 196.3 L272.3 197.9 L272.6 198.2 L272.8 198.8 L273.1 199.1 L273.3 197.7 L273.6 197.9 L273.8 196.6 L274.1 196.8 L274.3 198.5 L274.6 199.6 L274.8 197.5 L275.1 196.2 L275.3 195.3 L275.6 194.8 L275.8 194.5 L276.1 193.3 L276.3 192.3 L276.6 194.4 L276.8 194.5 L277.1 194.4 L277.3 193.8 L277.6 193.9 L277.8 193.8 L278.1 193.7 L278.3 194.5 L278.6 195.6 L278.8 197.7 L279.1 198.5 L279.3 200.3 L279.6 203.7 L279.8 203.2 L280.1 203.9 L280.3 205.2 L280.6 206.6 L280.8 208.8 L281.1 210.0 L281.3 209.5 L281.6 210.6 L281.8 214.0 L282.1 215.3 L282.3 213.7 L282.6 214.2 L282.8 215.1 L283.1 216.2 L283.3 216.2 L283.6 218.2 L283.8 217.7 L284.1 218.7 L284.3 220.7 L284.6 220.9 L284.8 222.5 L285.1 223.5 L285.3 221.3 L285.6 220.9 L285.8 222.6 L286.1 222.4 L286.3 222.6 L286.6 221.5 L286.8 219.3 L287.1 218.1 L287.3 215.9 L287.6 215.8 L287.8 215.7 L288.1 214.4 L288.3 212.9 L288.6 211.9 L288.8 212.1 L289.1 209.2 L289.3 208.0 L289.6 207.4 L289.8 206.1 L290.1 206.4 L290.3 207.4 L290.6 205.6 L290.8 204.1 L291.1 203.9 L291.3 202.2 L291.6 202.3 L291.8 202.0 L292.1 201.4 L292.3 199.9 L292.6 199.7 L292.8 198.2 L293.1 197.9 L293.3 198.6 L293.6 198.0 L293.8 197.2 L294.1 196.7 L294.3 195.5 L294.6 195.3 L294.8 195.5 L295.1 194.5 L295.3 195.5 L295.6 194.8 L295.8 194.8 L296.1 194.4 L296.3 192.1 L296.6 191.0 L296.8 191.4 L297.1 191.0 L297.3 191.5 L297.6 190.0 L297.8 188.1 L298.1 187.5 L298.3 188.8 L298.6 186.6 L298.8 186.5 L299.1 185.6 L299.3 184.4 L299.6 183.5 L299.8 183.8 L300.1 184.3 L300.3 183.2 L300.6 182.8 L300.8 183.5 L301.1 182.3 L301.3 181.1 L301.6 180.3 L301.8 178.7 L302.1 178.2 L302.3 177.9 L302.6 177.9 L302.8 177.2 L303.1 176.3 L303.3 177.1 L303.6 177.1 L303.8 177.3 L304.1 176.8 L304.3 174.5 L304.6 173.4 L304.8 172.8 L305.1 172.6 L305.3 172.7 L305.6 170.9 L305.8 170.4 L306.1 168.8 L306.3 168.2 L306.6 167.1 L306.8 168.1 L307.1 168.1 L307.3 166.9 L307.6 165.9 L307.8 165.7 L308.1 167.5 L308.3 167.3 L308.6 168.8 L308.8 169.0 L309.1 169.0 L309.3 168.4 L309.6 167.9 L309.8 167.6 L310.1 168.4 L310.3 169.8 L310.6 170.1 L310.8 169.6 L311.1 170.0 L311.3 173.0 L311.6 172.4 L311.8 169.7 L312.1 170.5 L312.3 174.8 L312.6 176.5 L312.8 175.7 L313.1 176.1 L313.3 178.3 L313.6 179.1 L313.8 179.0 L314.1 180.9 L314.3 183.5 L314.6 184.7 L314.8 186.4 L315.1 187.8 L315.3 186.8 L315.6 187.9 L315.8 189.1 L316.1 191.9 L316.3 192.4 L316.6 193.6 L316.8 194.3 L317.1 193.9 L317.3 196.0 L317.6 198.6 L317.8 199.2 L318.1 201.1 L318.3 203.4 L318.6 203.7 L318.8 207.0 L319.1 209.3 L319.3 208.6 L319.6 209.7 L319.8 211.0 L320.1 210.9 L320.3 213.3 L320.6 214.9 L320.8 216.1 L321.1 217.4 L321.3 217.0 L321.6 215.9 L321.8 216.3 L322.1 215.7 L322.3 215.9 L322.6 215.0 L322.8 214.0 L323.1 213.2 L323.3 213.8 L323.6 213.1 L323.8 210.3 L324.1 210.8 L324.3 212.3 L324.6 211.6 L324.8 211.5 L325.1 212.2 L325.3 210.9 L325.6 210.7 L325.8 210.8 L326.1 210.6 L326.3 211.4 L326.6 211.9 L326.8 214.6 L327.1 216.1 L327.3 217.7 L327.6 219.5 L327.8 222.4 L328.1 223.5 L328.3 224.1 L328.6 224.5 L328.8 222.4 L329.1 222.8 L329.3 221.8 L329.6 221.8 L329.8 222.0 L330.1 221.9 L330.3 220.7 L330.6 219.0 L330.8 214.3 L331.1 213.0 L331.3 212.9 L331.6 211.6 L331.8 210.1 L332.1 206.8 L332.3 204.7 L332.6 202.4 L332.8 199.8 L333.1 199.0 L333.3 198.1 L333.6 196.5 L333.8 195.6 L334.1 193.2 L334.3 190.0 L334.6 187.6 L334.8 186.7 L335.1 185.1 L335.3 184.6 L335.6 183.4 L335.8 178.0 L336.1 175.8 L336.3 174.1 L336.6 171.5 L336.8 170.8 L337.1 170.1 L337.3 170.5 L337.6 169.9 L337.8 167.3 L338.1 166.0 L338.3 166.6 L338.6 165.6 L338.8 164.2 L339.1 164.7 L339.3 165.2 L339.6 164.5 L339.8 163.1 L340.1 163.4 L340.3 164.6 L340.6 164.4 L340.8 164.4 L341.1 163.1 L341.3 162.4 L341.6 162.5 L341.8 162.6 L342.1 161.7 L342.3 160.8 L342.6 160.4 L342.8 159.2 L343.1 158.7 L343.3 160.3 L343.6 161.7 L343.8 159.6 L344.1 160.5 L344.3 162.9 L344.6 162.1 L344.8 163.4 L345.1 162.8 L345.3 161.6 L345.6 160.9 L345.8 161.9 L346.1 162.3 L346.3 160.6 L346.6 161.3 L346.8 163.0 L347.1 162.5 L347.3 162.2 L347.6 161.0 L347.8 162.2 L348.1 161.2 L348.3 161.0 L348.6 160.0 L348.8 158.5 L349.1 159.3 L349.3 161.7 L349.6 161.6 L349.8 162.3 L350.1 162.6 L350.3 161.3 L350.6 161.9 L350.8 166.3 L351.1 165.6 L351.3 164.6 L351.6 165.0 L351.8 162.8 L352.1 164.2 L352.3 168.0 L352.6 167.8 L352.8 168.7 L353.1 169.3 L353.3 170.2 L353.6 172.1 L353.8 173.5 L354.1 174.7 L354.3 175.5 L354.6 177.4 L354.8 177.3 L355.1 177.3 L355.3 179.6 L355.6 181.6 L355.8 182.4 L356.1 183.7 L356.3 184.6 L356.6 185.7 L356.8 184.6 L357.1 187.0 L357.3 187.9 L357.6 189.1 L357.8 190.7 L358.1 192.9 L358.3 192.6 L358.6 193.9 L358.8 195.2 L359.1 197.0 L359.3 199.1 L359.6 200.2 L359.8 200.9 L360.1 202.2 L360.3 206.1 L360.6 207.7 L360.8 207.1 L361.1 209.4 L361.3 212.9 L361.6 217.1 L361.8 219.1 L362.1 222.1 L362.3 225.4 L362.6 226.5 L362.8 228.8 L363.1 230.3 L363.3 232.7 L363.6 236.0 L363.8 237.6 L364.1 238.8 L364.3 237.6 L364.6 235.0 L364.8 231.3 L365.1 230.4 L365.3 229.6 L365.6 226.5 L365.8 223.3 L366.1 220.2 L366.3 220.3 L366.6 219.7 L366.8 218.3 L367.1 216.9 L367.3 217.2 L367.6 216.1 L367.8 215.0 L368.1 213.9 L368.3 214.1 L368.6 213.9 L368.8 216.0 L369.1 215.2 L369.3 213.6 L369.6 212.2 L369.8 211.1 L370.1 210.9 L370.3 211.7 L370.6 210.8 L370.8 212.9 L371.1 212.5 L371.3 212.5 L371.6 213.2 L371.8 213.1 L372.1 212.4 L372.3 212.2 L372.6 211.5 L372.8 209.5 L373.1 208.5 L373.3 208.8 L373.6 208.0 L373.8 207.3 L374.1 206.2 L374.3 203.7 L374.6 202.9 L374.8 202.5 L375.1 200.6 L375.3 198.6 L375.6 198.6 L375.8 196.9 L376.1 195.0 L376.3 195.6 L376.6 193.7 L376.8 190.0 L377.1 188.7 L377.3 187.1 L377.6 185.2 L377.8 183.2 L378.1 181.6 L378.3 180.1 L378.6 178.2 L378.8 175.9 L379.1 175.2 L379.3 174.3 L379.6 172.3 L379.8 171.3 L380.1 169.2 L380.3 168.5 L380.6 167.6 L380.8 166.8 L381.1 164.0 L381.3 159.0 L381.6 157.7 L381.8 158.1 L382.1 156.3 L382.3 154.1 L382.6 153.3 L382.8 153.0 L383.1 152.3 L383.3 151.1 L383.6 149.1 L383.8 147.5 L384.1 147.2 L384.3 145.8 L384.6 142.8 L384.8 140.4 L385.1 138.7 L385.3 139.1 L385.6 137.3 L385.8 133.8 L386.1 133.2 L386.3 130.9 L386.6 129.7 L386.8 127.7 L387.1 126.5 L387.3 127.7 L387.6 127.6 L387.8 126.1 L388.1 125.2 L388.3 124.8 L388.6 125.4 L388.8 125.8 L389.1 125.8 L389.3 125.4 L389.6 125.1 L389.8 124.3 L390.1 122.9 L390.3 125.7 L390.6 125.1 L390.8 122.9 L391.1 123.8 L391.3 123.8 L391.6 123.7 L391.8 124.5 L392.1 123.4 L392.3 123.7 L392.6 125.1 L392.8 125.1 L393.1 127.1 L393.3 127.0 L393.6 127.9 L393.8 130.2 L394.1 131.9 L394.3 133.6 L394.6 134.9 L394.8 135.3 L395.1 136.0 L395.3 139.3 L395.6 140.7 L395.8 140.5 L396.1 142.9 L396.3 145.1 L396.6 145.8 L396.8 150.3 L397.1 151.7 L397.3 152.3 L397.6 155.2 L397.8 160.2 L398.1 161.3 L398.3 159.0 L398.6 160.5 L398.8 164.0 L399.1 165.8 L399.3 168.1 L399.6 170.2 L399.8 174.2 L400.1 175.3 L400.3 176.0 L400.6 177.2 L400.8 180.0 L401.1 183.2 L401.3 187.9 L401.6 189.6 L401.8 190.3 L402.1 190.7 L402.3 193.4 L402.6 194.6 L402.8 196.9 L403.1 198.8 L403.3 199.8 L403.6 202.7 L403.8 205.7 L404.1 208.3 L404.3 210.7 L404.6 213.4 L404.8 215.0 L405.1 217.8 L405.3 219.5 L405.6 219.5 L405.8 220.1 L406.1 223.3 L406.3 225.6 L406.6 226.7 L406.8 227.7 L407.1 229.1 L407.3 230.0 L407.6 230.6 L407.8 234.2 L408.1 235.2 L408.3 234.6 L408.6 234.7 L408.8 236.0 L409.1 237.5 L409.3 237.1 L409.6 238.1 L409.8 239.7 L410.1 242.0 L410.3 242.3 L410.6 243.2 L410.8 243.7 L411.1 243.8 L411.3 245.6 L411.6 246.5 L411.8 246.6 L412.1 246.8 L412.3 247.5 L412.6 247.5 L412.8 245.7 L413.1 246.5 L413.3 248.4 L413.6 247.2 L413.8 247.1 L414.1 246.1 L414.3 245.3 L414.6 245.6 L414.8 244.1 L415.1 244.9 L415.3 243.7 L415.6 242.9 L415.8 243.2 L416.1 242.4 L416.3 239.7 L416.6 237.5 L416.8 234.6 L417.1 230.2 L417.3 225.7 L417.6 219.7 L417.8 213.4 L418.1 207.7 L418.3 204.9 L418.6 200.3 L418.8 195.2 L419.1 191.0 L419.3 189.3 L419.6 186.0 L419.8 182.8 L420.1 179.7 L420.3 175.5 L420.6 172.9 L420.8 170.3 L421.1 167.3 L421.3 163.7 L421.6 161.2 L421.8 157.3 L422.1 154.2 L422.3 151.0 L422.6 149.6 L422.8 148.6 L423.1 146.4 L423.3 145.5 L423.6 142.4 L423.8 137.9 L424.1 135.4 L424.3 134.1 L424.6 132.5 L424.8 130.8 L425.1 127.3 L425.3 126.3 L425.6 124.7 L425.8 123.1 L426.1 120.8 L426.3 118.2 L426.6 115.8 L426.8 113.2 L427.1 111.2 L427.3 109.3 L427.6 108.1 L427.8 106.7 L428.1 106.0 L428.3 106.3 L428.6 105.1 L428.8 105.6 L429.1 104.9 L429.3 104.9 L429.6 104.0 L429.8 104.7 L430.1 104.6 L430.3 104.9 L430.6 105.1 L430.8 104.4 L431.1 104.7 L431.3 105.8 L431.6 107.4 L431.8 108.6 L432.1 108.4 L432.3 108.2 L432.6 109.5 L432.8 110.7 L433.1 111.6 L433.3 114.2 L433.6 116.3 L433.8 117.6 L434.1 118.3 L434.3 119.9 L434.6 121.2 L434.8 120.1 L435.1 122.5 L435.3 126.3 L435.6 127.9 L435.8 130.3 L436.1 132.7 L436.3 135.7 L436.6 138.5 L436.8 141.0 L437.1 142.1 L437.3 142.2 L437.6 145.0 L437.8 149.9 L438.1 152.0 L438.3 152.6 L438.6 155.6 L438.8 158.4 L439.1 160.9 L439.3 161.1 L439.6 163.7 L439.8 168.0 L440.1 169.9 L440.3 172.8 L440.6 175.1 L440.8 176.0 L441.1 178.9 L441.3 181.2 L441.6 183.6 L441.8 185.3 L442.1 187.3 L442.3 187.3 L442.6 188.5 L442.8 188.6 L443.1 192.0 L443.3 195.4 L443.6 197.3 L443.8 199.1 L444.1 200.7 L444.3 202.5 L444.6 203.3 L444.8 207.2 L445.1 208.7 L445.3 209.1 L445.6 210.8 L445.8 211.1 L446.1 211.4 L446.3 212.5 L446.6 214.5 L446.8 215.4 L447.1 216.7 L447.3 216.6 L447.6 215.4 L447.8 215.6 L448.1 215.8 L448.3 213.9 L448.6 212.2 L448.8 209.5 L449.1 205.1 L449.3 201.2 L449.6 197.3 L449.8 193.6 L450.1 190.1 L450.3 189.1 L450.6 186.9 L450.8 186.3 L451.1 185.9 L451.3 186.0 L451.6 187.5 L451.8 189.4 L452.1 190.9 L452.3 192.2 L452.6 194.0 L452.8 194.6 L453.1 194.3 L453.3 198.9 L453.6 201.0 L453.8 199.8 L454.1 199.6 L454.3 201.2 L454.6 202.4 L454.8 202.6 L455.1 202.3 L455.3 198.5 L455.6 198.0 L455.8 200.4 L456.1 199.3 L456.3 197.2 L456.6 195.1 L456.8 194.5 L457.1 193.3 L457.3 193.9 L457.6 192.3 L457.8 191.3 L458.1 189.3 L458.3 185.0 L458.6 184.5 L458.8 183.8 L459.1 183.3 L459.3 181.5 L459.6 179.4 L459.8 179.2 L460.1 178.3 L460.3 177.1 L460.6 176.8 L460.8 175.4 L461.1 174.9 L461.3 174.5 L461.6 174.0 L461.8 173.4 L462.1 172.7 L462.3 172.6 L462.6 172.1 L462.8 171.3 L463.1 170.2 L463.3 168.5 L463.6 167.9 L463.8 168.4 L464.1 168.4 L464.3 164.5 L464.6 164.8 L464.8 167.4 L465.1 167.0 L465.3 165.4 L465.6 165.1 L465.8 164.9 L466.1 163.5 L466.3 164.4 L466.6 163.2 L466.8 163.1 L467.1 163.6 L467.3 164.2 L467.6 164.8 L467.8 165.4 L468.1 166.7 L468.3 166.7 L468.6 169.3 L468.8 170.7 L469.1 171.6 L469.3 171.0 L469.6 171.4 L469.8 174.0 L470.1 175.8 L470.3 174.8 L470.6 175.0 L470.8 175.6 L471.1 176.4 L471.3 178.9 L471.6 179.4 L471.8 179.5 L472.1 178.4 L472.3 175.8 L472.6 174.2 L472.8 172.1 L473.1 170.3 L473.3 169.8 L473.6 167.8 L473.8 163.7 L474.1 163.3 L474.3 162.3 L474.6 161.6 L474.8 160.9 L475.1 159.6 L475.3 158.2 L475.6 158.4 L475.8 157.2 L476.1 157.2 L476.3 158.6 L476.6 158.9 L476.8 160.1 L477.1 160.0 L477.3 160.1 L477.6 160.7 L477.8 160.2 L478.1 160.6 L478.3 161.5 L478.6 162.0 L478.8 160.6 L479.1 160.8 L479.3 163.0 L479.6 164.0 L479.8 165.5 L480.1 166.0 L480.3 164.2 L480.6 165.9 L480.8 168.0 L481.1 168.8 L481.3 168.5 L481.6 168.3 L481.8 169.2 L482.1 170.2 L482.3 172.0 L482.6 173.0 L482.8 170.5 L483.1 171.7 L483.3 175.7 L483.6 178.1 L483.8 178.1 L484.1 181.2 L484.3 184.0 L484.6 186.1 L484.8 187.5 L485.1 187.6 L485.3 190.1 L485.6 191.6 L485.8 192.3 L486.1 193.7 L486.3 194.8 L486.6 195.6 L486.8 198.0 L487.1 199.2 L487.3 200.0 L487.6 201.2 L487.8 202.6 L488.1 202.9 L488.3 202.4 L488.6 202.9 L488.8 206.4 L489.1 208.5 L489.3 210.1 L489.6 211.5 L489.8 212.5 L490.1 214.8 L490.3 215.1 L490.6 216.6 L490.8 217.5 L491.1 217.9 L491.3 218.8 L491.6 218.6 L491.8 219.5 L492.1 220.0 L492.3 218.3 L492.6 217.9 L492.8 215.8 L493.1 213.9 L493.3 214.1 L493.6 213.0 L493.8 211.9 L494.1 210.5 L494.3 212.5 L494.6 211.2 L494.8 211.2 L495.1 210.4 L495.3 208.7 L495.6 208.1 L495.8 207.9 L496.1 207.6 L496.3 207.4 L496.6 205.8 L496.8 203.5 L497.1 200.7 L497.3 201.3 L497.6 201.2 L497.8 202.3 L498.1 201.6 L498.3 198.9 L498.6 197.7 L498.8 197.1 L499.1 196.8 L499.3 194.2 L499.6 194.2 L499.8 192.4 L500.1 191.9 L500.3 193.2 L500.6 192.7 L500.8 189.8 L501.1 189.0 L501.3 189.6 L501.6 189.0 L501.8 190.6 L502.1 190.5 L502.3 190.8 L502.6 190.6 L502.8 189.7 L503.1 188.3 L503.3 189.2 L503.6 189.9 L503.8 187.8 L504.1 188.3 L504.3 188.9 L504.6 189.4 L504.8 191.4 L505.1 192.1 L505.3 190.9 L505.6 190.7 L505.8 192.0 L506.1 191.9 L506.3 194.1 L506.6 194.8 L506.8 194.0 L507.1 193.3 L507.3 194.4 L507.6 193.9 L507.8 190.9 L508.1 190.4 L508.3 193.2 L508.6 193.3 L508.8 190.8 L509.1 191.5 L509.3 192.9 L509.6 193.8 L509.8 194.3 L510.1 193.7 L510.3 193.9 L510.6 193.6 L510.8 190.5 L511.1 188.7 L511.3 188.5 L511.6 187.8 L511.8 186.1 L512.1 184.8 L512.3 184.2 L512.6 183.1 L512.8 181.4 L513.1 180.9 L513.3 183.0 L513.6 181.9 L513.8 178.6 L514.1 178.2 L514.3 177.7 L514.6 178.3 L514.8 177.3 L515.1 176.5 L515.3 179.0 L515.6 179.1 L515.8 178.3 L516.1 177.9 L516.3 174.3 L516.6 173.9 L516.8 173.2 L517.1 172.5 L517.3 172.5 L517.6 171.7 L517.8 167.9 L518.1 167.1 L518.3 167.8 L518.6 167.7 L518.8 169.0 L519.1 169.4 L519.3 168.5 L519.6 169.4 L519.8 169.4 L520.1 170.0 L520.3 169.6 L520.6 169.8 L520.8 170.1 L521.1 171.0 L521.3 172.7 L521.6 175.2 L521.8 174.9 L522.1 175.7 L522.3 176.0 L522.6 178.2 L522.8 178.9 L523.1 179.6 L523.3 181.7 L523.6 182.4 L523.8 181.7 L524.1 182.9 L524.3 181.7 L524.6 182.0 L524.8 183.8 L525.1 183.5 L525.3 183.7 L525.6 183.2 L525.8 181.3 L526.1 181.5 L526.3 181.0 L526.6 180.9 L526.8 181.5 L527.1 182.0 L527.3 181.9 L527.6 182.8 L527.8 184.4 L528.1 184.2 L528.3 182.8 L528.6 181.6 L528.8 184.5 L529.1 184.7 L529.3 184.2 L529.6 184.9 L529.8 183.6 L530.1 183.5 L530.3 185.3 L530.6 183.9 L530.8 182.6 L531.1 182.9 L531.3 183.0 L531.6 183.8 L531.8 183.6 L532.1 184.1 L532.3 184.9 L532.6 184.0 L532.8 185.1 L533.1 185.9 L533.3 186.3 L533.6 186.5 L533.8 186.5 L534.1 187.0 L534.3 185.3 L534.6 184.5 L534.8 185.7 L535.1 185.3 L535.3 187.3 L535.6 187.7 L535.8 187.6 L536.1 187.1 L536.3 189.7 L536.6 190.5 L536.8 191.2 L537.1 192.2 L537.3 190.4 L537.6 188.4 L537.8 189.1 L538.1 190.1 L538.3 190.7 L538.6 190.2 L538.8 190.2 L539.1 190.2 L539.3 189.3 L539.6 188.7 L539.8 188.9 L540.1 189.9 L540.3 189.8 L540.6 190.8 L540.8 188.7 L541.1 187.4 L541.3 189.2 L541.6 188.4 L541.8 190.5 L542.1 191.9 L542.3 191.6 L542.6 191.8 L542.8 193.5 L543.1 195.2 L543.3 194.2 L543.6 195.7 L543.8 198.8 L544.1 201.9 L544.3 205.0 L544.6 207.7 L544.8 210.3 L545.1 213.0 L545.3 217.5 L545.6 219.4 L545.8 217.4 L546.1 218.6 L546.3 219.0 L546.6 218.9 L546.8 217.0 L547.1 216.0 L547.3 215.5 L547.6 215.8 L547.8 215.6 L548.1 215.4 L548.3 215.3 L548.6 216.2 L548.8 216.6 L549.1 216.8 L549.3 218.4 L549.6 218.4 L549.8 218.8 L550.1 218.2 L550.3 219.2 L550.6 219.4 L550.8 217.7 L551.1 217.4 L551.3 218.1 L551.6 218.0 L551.8 217.9 L552.1 218.5 L552.3 219.8 L552.6 218.1 L552.8 216.0 L553.1 214.5 L553.3 213.9 L553.6 212.1 L553.8 208.7 L554.1 208.1 L554.3 208.1 L554.6 206.1 L554.8 204.0 L555.1 203.1 L555.3 201.4 L555.6 201.5 L555.8 202.6 L556.1 204.2 L556.3 204.9 L556.6 206.7 L556.8 208.8 L557.1 209.4 L557.3 207.9 L557.6 209.7 L557.8 213.0 L558.1 215.8 L558.3 216.9 L558.6 218.4 L558.8 222.4 L559.1 222.6 L559.3 223.4 L559.6 224.2 L559.8 224.9 L560.1 226.0 L560.3 224.5 L560.6 226.3 L560.8 228.8 L561.1 229.9 L561.3 228.5 L561.6 228.9 L561.8 229.3 L562.1 229.3 L562.3 227.5 L562.6 228.0 L562.8 227.9 L563.1 227.1 L563.3 227.5 L563.6 226.2 L563.8 226.3 L564.1 225.3 L564.3 223.2 L564.6 222.1 L564.8 221.9 L565.1 219.9 L565.3 218.2 L565.6 217.4 L565.8 216.2 L566.1 215.4 L566.3 215.2 L566.6 214.6 L566.8 213.4 L567.1 213.3 L567.3 213.6 L567.6 212.2 L567.8 211.5 L568.1 210.6 L568.3 211.4 L568.6 209.9 L568.8 208.6 L569.1 207.8 L569.3 210.0 L569.6 210.9 L569.8 209.8 L570.1 208.6 L570.3 209.0 L570.6 208.2 L570.8 206.4 L571.1 206.4 L571.3 208.3 L571.6 208.4 L571.8 209.2 L572.1 209.4 L572.3 210.1 L572.6 209.6 L572.8 210.0 L573.1 208.4 L573.3 205.5 L573.6 204.9 L573.8 206.2 L574.1 206.4 L574.3 207.1 L574.6 206.7 L574.8 204.0 L575.1 203.6 L575.3 204.0 L575.6 203.5 L575.8 203.9 L576.1 204.0 L576.3 204.4 L576.6 204.7 L576.8 204.6 L577.1 204.3 L577.3 202.9 L577.6 202.3 L577.8 204.8 L578.1 204.2 L578.3 202.6 L578.6 201.7 L578.8 199.9 L579.1 199.4 L579.3 200.1 L579.6 199.4 L579.8 198.7 L580.1 198.0 L580.3 199.5 L580.6 199.1 L580.8 198.5 L581.1 197.5 L581.3 196.3 L581.6 197.5 L581.8 198.6 L582.1 198.5 L582.3 197.6 L582.6 197.5 L582.8 195.0 L583.1 193.9 L583.3 192.8 L583.6 193.0 L583.8 193.2 L584.1 192.7 L584.3 193.2 L584.6 192.9 L584.8 191.3 L585.1 190.6 L585.3 192.7 L585.6 192.4 L585.8 191.7 L586.1 192.7 L586.3 193.5 L586.6 195.5 L586.8 197.2 L587.1 199.1 L587.3 199.4 L587.6 201.0 L587.8 204.1 L588.1 206.3 L588.3 207.5 L588.6 209.6 L588.8 210.1 L589.1 211.7 L589.3 214.6 L589.6 215.4 L589.8 218.6 L590.1 219.5 L590.3 218.7 L590.6 218.0 L590.8 218.6 L591.1 218.4 L591.3 216.7 L591.6 215.9 L591.8 215.7 L592.1 214.1 L592.3 214.4 L592.6 212.1 L592.8 210.5 L593.1 208.5 L593.3 207.0 L593.6 206.7 L593.8 207.5 L594.1 206.6 L594.3 205.2 L594.6 204.8 L594.8 204.3 L595.1 204.4 L595.3 207.5 L595.6 209.0 L595.8 208.3 L596.1 209.0 L596.3 213.0 L596.6 213.9 L596.8 214.7 L597.1 215.7 L597.3 219.0 L597.6 219.3 L597.8 221.4 L598.1 222.7 L598.3 222.5 L598.6 222.3 L598.8 223.1 L599.1 223.4 L599.3 221.7 L599.6 220.6 L599.8 218.8 L600.1 217.2 L600.3 216.8 L600.6 217.0 L600.8 216.0 L601.1 214.6 L601.3 212.2 L601.6 211.3 L601.8 210.4 L602.1 208.3 L602.3 207.0 L602.6 204.9 L602.8 202.9 L603.1 202.1 L603.3 203.5 L603.6 202.1 L603.8 200.8 L604.1 200.5 L604.3 200.3 L604.6 199.7 L604.8 196.8 L605.1 195.5 L605.3 198.1 L605.6 197.2 L605.8 192.5 L606.1 192.2 L606.3 190.4 L606.6 188.5 L606.8 189.2 L607.1 188.3 L607.3 184.9 L607.6 184.3 L607.8 184.8 L608.1 183.6 L608.3 182.3 L608.6 181.7 L608.8 181.7 L609.1 181.4 L609.3 181.8 L609.6 181.9 L609.8 184.8 L610.1 187.3 L610.3 189.0 L610.6 190.5 L610.8 193.1 L611.1 195.7 L611.3 199.0 L611.6 200.8 L611.8 201.3 L612.1 203.6 L612.3 201.2 L612.6 199.8 L612.8 197.1 L613.1 195.1 L613.3 194.2 L613.6 192.0 L613.8 190.2 L614.1 187.8 L614.3 188.8 L614.6 187.4 L614.8 184.8 L615.1 184.9 L615.3 183.8 L615.6 183.8 L615.8 183.6 L616.1 183.5 L616.3 183.8 L616.6 182.9 L616.8 180.9 L617.1 181.5 L617.3 181.8 L617.6 181.9 L617.8 181.2 L618.1 179.8 L618.3 180.2" stroke="#F7605F" stroke-width="5.2" fill="none" stroke-linejoin="round" stroke-linecap="round"/>
<line x1="180.2" y1="52.2" x2="180.2" y2="293.8" stroke="#000" stroke-width="2" stroke-linecap="butt"/>
<line x1="166.8" y1="58.7" x2="180.2" y2="58.7" stroke="#000" stroke-width="2" stroke-linecap="butt"/>
<text x="159.9" y="68" text-anchor="end" >0.04</text>
<line x1="166.8" y1="136.15" x2="180.2" y2="136.15" stroke="#000" stroke-width="2" stroke-linecap="butt"/>
<text x="159.9" y="145.45" text-anchor="end" >0.02</text>
<line x1="166.8" y1="213.6" x2="180.2" y2="213.6" stroke="#000" stroke-width="2" stroke-linecap="butt"/>
<text x="159.9" y="222.9" text-anchor="end" >0.00</text>
<line x1="166.8" y1="291.05" x2="180.2" y2="291.05" stroke="#000" stroke-width="2" stroke-linecap="butt"/>
<text x="159.9" y="300.35" text-anchor="end" >−0.02</text>
<line x1="188.8" y1="304.7" x2="630" y2="304.7" stroke="#000" stroke-width="2" stroke-linecap="butt"/>
<line x1="189.8" y1="304.7" x2="189.8" y2="318.3" stroke="#000" stroke-width="2" stroke-linecap="butt"/>
<text x="185.8" y="348.7" text-anchor="middle" >−1.0</text>
<line x1="299.6" y1="304.7" x2="299.6" y2="318.3" stroke="#000" stroke-width="2" stroke-linecap="butt"/>
<text x="295.6" y="348.7" text-anchor="middle" >−0.5</text>
<line x1="409.4" y1="304.7" x2="409.4" y2="318.3" stroke="#000" stroke-width="2" stroke-linecap="butt"/>
<text x="405.4" y="348.7" text-anchor="middle" >0.0</text>
<line x1="519.2" y1="304.7" x2="519.2" y2="318.3" stroke="#000" stroke-width="2" stroke-linecap="butt"/>
<text x="515.2" y="348.7" text-anchor="middle" >0.5</text>
<line x1="629" y1="304.7" x2="629" y2="318.3" stroke="#000" stroke-width="2" stroke-linecap="butt"/>
<text x="625" y="348.7" text-anchor="middle" >1.0</text>
<line x1="638.7" y1="52.2" x2="638.7" y2="293.8" stroke="#9B2FF0" stroke-width="2" stroke-linecap="butt"/>
<line x1="638.7" y1="62.9" x2="651.5" y2="62.9" stroke="#9B2FF0" stroke-width="2" stroke-linecap="butt"/>
<text x="656.5" y="72.2" fill="#9B2FF0" >32</text>
<line x1="638.7" y1="125.9" x2="651.5" y2="125.9" stroke="#9B2FF0" stroke-width="2" stroke-linecap="butt"/>
<text x="656.5" y="135.2" fill="#9B2FF0" >28</text>
<line x1="638.7" y1="188.9" x2="651.5" y2="188.9" stroke="#9B2FF0" stroke-width="2" stroke-linecap="butt"/>
<text x="656.5" y="198.2" fill="#9B2FF0" >24</text>
<line x1="638.7" y1="251.9" x2="651.5" y2="251.9" stroke="#9B2FF0" stroke-width="2" stroke-linecap="butt"/>
<text x="656.5" y="261.2" fill="#9B2FF0" >20</text>
<text x="13" y="25.3" font-weight="bold" font-size="35.5" >a</text>
<text transform="translate(52.4 174.6) rotate(-90)" text-anchor="middle" >Excess mutations</text>
<text transform="translate(84.3 175.6) rotate(-90)" text-anchor="middle" >(Mb<tspan font-size="15.5" dy="-9.5">-1</tspan><tspan dy="9.5">)</tspan></text>
<text transform="translate(730.3 172) rotate(90)" text-anchor="middle" fill="#9B2FF0" style="font-kerning:normal">ATAC−seq</text>
<text transform="translate(698.2 172) rotate(90)" text-anchor="middle" fill="#9B2FF0" >tags kb<tspan font-size="15.5" dy="-9.5">-1</tspan></text>
<text x="211.3" y="389.8" >Distance from nucleosome dyad (kb)</text>
<text x="195.1" y="79.6" fill="#F7605F">A</text>
<text x="212.7" y="74.9" fill="#F7605F" font-family="DejaVu Sans, sans-serif" font-size="19">➡</text>
<text x="227.7" y="79.6" fill="#F7605F">N</text>
</g>
<g id="panel-b">
<path d="M200.7 603.0 L201.3 603.0 L201.9 602.9 L202.5 602.6 L203.1 602.4 L203.7 602.0 L204.3 601.6 L204.9 601.1 L205.5 600.5 L206.1 599.9 L206.7 599.2 L207.3 598.5 L207.9 597.8 L208.5 597.0 L209.1 596.2 L209.7 595.4 L210.3 594.6 L210.9 593.8 L211.5 593.0 L212.1 592.2 L212.7 591.5 L213.3 590.8 L213.9 590.1 L214.5 589.5 L215.1 589.0 L215.7 588.5 L216.3 588.1 L216.9 587.7 L217.5 587.5 L218.1 587.3 L218.7 587.2 L219.3 587.1 L219.9 587.2 L220.5 587.3 L221.1 587.4 L221.7 587.7 L222.3 588.0 L222.9 588.3 L223.5 588.7 L224.1 589.2 L224.7 589.7 L225.3 590.2 L225.9 590.8 L226.5 591.4 L227.1 592.0 L227.7 592.7 L228.3 593.4 L228.9 594.1 L229.5 594.8 L230.1 595.6 L230.7 596.3 L231.3 597.0 L231.9 597.7 L232.5 598.4 L233.1 599.1 L233.7 599.7 L234.3 600.3 L234.9 600.9 L235.5 601.4 L236.1 601.9 L236.7 602.3 L237.3 602.7 L237.9 603.0 L238.5 603.3 L239.1 603.5 L239.7 603.6 L240.3 603.7 L240.9 603.7 L241.4 603.7 L242.0 603.5 L242.6 603.3 L243.2 603.0 L243.8 602.7 L244.4 602.2 L245.0 601.7 L245.6 601.1 L246.2 600.5 L246.8 599.8 L247.4 599.0 L248.0 598.2 L248.6 597.3 L249.2 596.5 L249.8 595.5 L250.4 594.6 L251.0 593.7 L251.6 592.7 L252.2 591.8 L252.8 590.8 L253.4 589.9 L254.0 588.9 L254.6 588.1 L255.2 587.2 L255.8 586.4 L256.4 585.6 L257.0 584.9 L257.6 584.2 L258.2 583.6 L258.8 583.1 L259.4 582.6 L260.0 582.2 L260.6 581.9 L261.2 581.6 L261.8 581.5 L262.4 581.4 L263.0 581.4 L263.6 581.4 L264.2 581.6 L264.8 581.9 L265.4 582.2 L266.0 582.6 L266.6 583.1 L267.2 583.7 L267.8 584.4 L268.4 585.1 L269.0 585.8 L269.6 586.6 L270.2 587.5 L270.8 588.4 L271.4 589.4 L272.0 590.4 L272.6 591.4 L273.2 592.4 L273.8 593.4 L274.4 594.4 L275.0 595.4 L275.6 596.4 L276.2 597.4 L276.8 598.3 L277.4 599.2 L278.0 600.1 L278.6 600.9 L279.2 601.6 L279.8 602.3 L280.4 603.0 L281.0 603.5 L281.6 604.0 L282.2 604.4 L282.7 604.7 L283.3 605.0 L283.9 605.1 L284.5 605.2 L285.1 605.1 L285.7 605.0 L286.3 604.7 L286.9 604.3 L287.5 603.7 L288.1 603.0 L288.7 602.2 L289.3 601.3 L289.9 600.3 L290.5 599.2 L291.1 598.0 L291.7 596.8 L292.3 595.4 L292.9 594.0 L293.5 592.5 L294.1 591.0 L294.7 589.5 L295.3 587.9 L295.9 586.4 L296.5 584.8 L297.1 583.2 L297.7 581.7 L298.3 580.2 L298.9 578.7 L299.5 577.3 L300.1 576.0 L300.7 574.7 L301.3 573.5 L301.9 572.4 L302.5 571.4 L303.1 570.5 L303.7 569.7 L304.3 569.1 L304.9 568.5 L305.5 568.1 L306.1 567.8 L306.7 567.7 L307.3 567.6 L307.9 567.8 L308.5 568.1 L309.1 568.7 L309.7 569.4 L310.3 570.3 L310.9 571.3 L311.5 572.5 L312.1 573.9 L312.7 575.4 L313.3 577.0 L313.9 578.7 L314.5 580.5 L315.1 582.3 L315.7 584.3 L316.3 586.2 L316.9 588.2 L317.5 590.1 L318.1 592.1 L318.7 594.0 L319.3 595.8 L319.9 597.6 L320.5 599.3 L321.1 600.8 L321.7 602.3 L322.3 603.6 L322.9 604.7 L323.4 605.7 L324.0 606.6 L324.6 607.2 L325.2 607.7 L325.8 608.0 L326.4 608.1 L327.0 608.0 L327.6 607.7 L328.2 607.2 L328.8 606.5 L329.4 605.6 L330.0 604.6 L330.6 603.3 L331.2 602.0 L331.8 600.4 L332.4 598.8 L333.0 597.0 L333.6 595.2 L334.2 593.2 L334.8 591.2 L335.4 589.2 L336.0 587.1 L336.6 585.0 L337.2 582.9 L337.8 580.9 L338.4 578.9 L339.0 577.0 L339.6 575.2 L340.2 573.5 L340.8 571.8 L341.4 570.4 L342.0 569.0 L342.6 567.9 L343.2 566.9 L343.8 566.1 L344.4 565.5 L345.0 565.0 L345.6 564.8 L346.2 564.8 L346.8 564.9 L347.4 565.2 L348.0 565.6 L348.6 566.2 L349.2 567.0 L349.8 567.8 L350.4 568.9 L351.0 570.0 L351.6 571.3 L352.2 572.7 L352.8 574.1 L353.4 575.7 L354.0 577.4 L354.6 579.1 L355.2 580.9 L355.8 582.7 L356.4 584.5 L357.0 586.4 L357.6 588.2 L358.2 590.1 L358.8 591.9 L359.4 593.7 L360.0 595.5 L360.6 597.2 L361.2 598.8 L361.8 600.3 L362.4 601.7 L363.0 603.0 L363.6 604.2 L364.2 605.3 L364.7 606.2 L365.3 607.0 L365.9 607.7 L366.5 608.2 L367.1 608.6 L367.7 608.8 L368.3 608.8 L368.9 608.6 L369.5 608.3 L370.1 607.8 L370.7 607.1 L371.3 606.2 L371.9 605.2 L372.5 604.0 L373.1 602.6 L373.7 601.1 L374.3 599.5 L374.9 597.7 L375.5 595.9 L376.1 594.0 L376.7 592.0 L377.3 589.9 L377.9 587.8 L378.5 585.7 L379.1 583.6 L379.7 581.5 L380.3 579.4 L380.9 577.4 L381.5 575.5 L382.1 573.6 L382.7 571.8 L383.3 570.1 L383.9 568.6 L384.5 567.2 L385.1 565.9 L385.7 564.8 L386.3 563.9 L386.9 563.1 L387.5 562.5 L388.1 562.1 L388.7 561.9 L389.3 561.9 L389.9 562.1 L390.5 562.5 L391.1 563.1 L391.7 563.9 L392.3 564.9 L392.9 566.1 L393.5 567.5 L394.1 569.1 L394.7 570.8 L395.3 572.7 L395.9 574.7 L396.5 576.8 L397.1 579.0 L397.7 581.3 L398.3 583.6 L398.9 586.0 L399.5 588.4 L400.1 590.8 L400.7 593.2 L401.3 595.6 L401.9 597.9 L402.5 600.1 L403.1 602.2 L403.7 604.2 L404.3 606.1 L404.9 607.8 L405.5 609.4 L406.0 610.8 L406.6 612.1 L407.2 613.1 L407.8 614.0 L408.4 614.6 L409.0 615.0 L409.6 615.3 L410.2 615.3 L410.8 615.1 L411.4 614.6 L412.0 614.0 L412.6 613.2 L413.2 612.1 L413.8 610.9 L414.4 609.5 L415.0 607.9 L415.6 606.2 L416.2 604.4 L416.8 602.4 L417.4 600.3 L418.0 598.1 L418.6 595.8 L419.2 593.5 L419.8 591.2 L420.4 588.8 L421.0 586.4 L421.6 584.1 L422.2 581.8 L422.8 579.5 L423.4 577.3 L424.0 575.3 L424.6 573.3 L425.2 571.4 L425.8 569.7 L426.4 568.2 L427.0 566.8 L427.6 565.6 L428.2 564.6 L428.8 563.8 L429.4 563.2 L430.0 562.8 L430.6 562.6 L431.2 562.6 L431.8 562.8 L432.4 563.1 L433.0 563.7 L433.6 564.3 L434.2 565.1 L434.8 566.1 L435.4 567.2 L436.0 568.5 L436.6 569.8 L437.2 571.3 L437.8 572.9 L438.4 574.6 L439.0 576.3 L439.6 578.1 L440.2 580.0 L440.8 581.9 L441.4 583.9 L442.0 585.9 L442.6 587.8 L443.2 589.8 L443.8 591.7 L444.4 593.6 L445.0 595.4 L445.6 597.2 L446.2 598.9 L446.8 600.5 L447.3 602.0 L447.9 603.4 L448.5 604.6 L449.1 605.8 L449.7 606.8 L450.3 607.6 L450.9 608.3 L451.5 608.9 L452.1 609.2 L452.7 609.5 L453.3 609.5 L453.9 609.4 L454.5 609.1 L455.1 608.7 L455.7 608.0 L456.3 607.3 L456.9 606.3 L457.5 605.3 L458.1 604.0 L458.7 602.7 L459.3 601.2 L459.9 599.7 L460.5 598.0 L461.1 596.3 L461.7 594.4 L462.3 592.6 L462.9 590.7 L463.5 588.7 L464.1 586.8 L464.7 584.8 L465.3 582.9 L465.9 581.0 L466.5 579.1 L467.1 577.3 L467.7 575.6 L468.3 574.0 L468.9 572.5 L469.5 571.0 L470.1 569.7 L470.7 568.6 L471.3 567.6 L471.9 566.7 L472.5 566.0 L473.1 565.4 L473.7 565.0 L474.3 564.8 L474.9 564.8 L475.5 564.9 L476.1 565.2 L476.7 565.8 L477.3 566.6 L477.9 567.5 L478.5 568.6 L479.1 569.9 L479.7 571.4 L480.3 573.0 L480.9 574.7 L481.5 576.5 L482.1 578.4 L482.7 580.4 L483.3 582.4 L483.9 584.5 L484.5 586.6 L485.1 588.6 L485.7 590.6 L486.3 592.6 L486.9 594.5 L487.5 596.3 L488.1 598.0 L488.6 599.6 L489.2 601.0 L489.8 602.3 L490.4 603.3 L491.0 604.3 L491.6 605.0 L492.2 605.5 L492.8 605.8 L493.4 605.9 L494.0 605.9 L494.6 605.7 L495.2 605.4 L495.8 605.0 L496.4 604.5 L497.0 603.9 L497.6 603.2 L498.2 602.5 L498.8 601.6 L499.4 600.6 L500.0 599.6 L500.6 598.5 L501.2 597.3 L501.8 596.0 L502.4 594.7 L503.0 593.4 L503.6 592.0 L504.2 590.6 L504.8 589.2 L505.4 587.8 L506.0 586.3 L506.6 584.9 L507.2 583.5 L507.8 582.1 L508.4 580.8 L509.0 579.5 L509.6 578.2 L510.2 577.0 L510.8 575.8 L511.4 574.8 L512.0 573.8 L512.6 572.9 L513.2 572.0 L513.8 571.3 L514.4 570.7 L515.0 570.1 L515.6 569.7 L516.2 569.4 L516.8 569.2 L517.4 569.1 L518.0 569.1 L518.6 569.3 L519.2 569.7 L519.8 570.2 L520.4 570.9 L521.0 571.7 L521.6 572.7 L522.2 573.8 L522.8 575.1 L523.4 576.4 L524.0 577.9 L524.6 579.4 L525.2 581.0 L525.8 582.7 L526.4 584.4 L527.0 586.1 L527.6 587.8 L528.2 589.5 L528.8 591.2 L529.4 592.8 L529.9 594.4 L530.5 595.9 L531.1 597.3 L531.7 598.6 L532.3 599.7 L532.9 600.8 L533.5 601.7 L534.1 602.4 L534.7 603.0 L535.3 603.4 L535.9 603.7 L536.5 603.7 L537.1 603.7 L537.7 603.5 L538.3 603.3 L538.9 602.9 L539.5 602.5 L540.1 602.0 L540.7 601.4 L541.3 600.7 L541.9 599.9 L542.5 599.1 L543.1 598.2 L543.7 597.2 L544.3 596.2 L544.9 595.2 L545.5 594.2 L546.1 593.1 L546.7 592.0 L547.3 591.0 L547.9 589.9 L548.5 588.8 L549.1 587.8 L549.7 586.9 L550.3 585.9 L550.9 585.1 L551.5 584.2 L552.1 583.5 L552.7 582.8 L553.3 582.2 L553.9 581.7 L554.5 581.3 L555.1 581.0 L555.7 580.8 L556.3 580.7 L556.9 580.6 L557.5 580.7 L558.1 580.9 L558.7 581.1 L559.3 581.4 L559.9 581.8 L560.5 582.3 L561.1 582.9 L561.7 583.5 L562.3 584.2 L562.9 585.0 L563.5 585.8 L564.1 586.6 L564.7 587.6 L565.3 588.5 L565.9 589.5 L566.5 590.5 L567.1 591.5 L567.7 592.5 L568.3 593.5 L568.9 594.5 L569.5 595.4 L570.1 596.4 L570.7 597.3 L571.2 598.2 L571.8 599.0 L572.4 599.8 L573.0 600.6 L573.6 601.2 L574.2 601.8 L574.8 602.3 L575.4 602.8 L576.0 603.1 L576.6 603.4 L577.2 603.6 L577.8 603.7 L578.4 603.7 L579.0 603.7 L579.6 603.6 L580.2 603.4 L580.8 603.2 L581.4 602.9 L582.0 602.6 L582.6 602.2 L583.2 601.8 L583.8 601.3 L584.4 600.7 L585.0 600.2 L585.6 599.6 L586.2 599.0 L586.8 598.3 L587.4 597.7 L588.0 597.0 L588.6 596.3 L589.2 595.6 L589.8 594.9 L590.4 594.2 L591.0 593.5 L591.6 592.9 L592.2 592.3 L592.8 591.6 L593.4 591.1 L594.0 590.5 L594.6 590.0 L595.2 589.6 L595.8 589.2 L596.4 588.8 L597.0 588.5 L597.6 588.3 L598.2 588.1 L598.8 587.9 L599.4 587.9 L600.0 587.9 L600.6 587.9 L601.2 588.1 L601.8 588.3 L602.4 588.6 L603.0 588.9 L603.6 589.4 L604.2 589.9 L604.8 590.4 L605.4 591.0 L606.0 591.7 L606.6 592.4 L607.2 593.1 L607.8 593.9 L608.4 594.7 L609.0 595.5 L609.6 596.3 L610.2 597.1 L610.8 597.9 L611.4 598.7 L611.9 599.4 L612.5 600.1 L613.1 600.8 L613.7 601.5 L614.3 602.1 L614.9 602.6 L615.5 603.1 L616.1 603.5 L616.7 603.8 L617.3 604.1 L617.9 604.3 L618.5 604.4 L619.1 604.5" stroke="#9B2FF0" stroke-width="3.2" fill="none" stroke-linejoin="round"/>
<path d="M200.8 607.7 L201.1 607.3 L201.3 606.9 L201.6 606.1 L201.8 604.9 L202.1 603.8 L202.3 602.7 L202.6 601.7 L202.8 600.7 L203.1 599.8 L203.3 598.9 L203.6 598.0 L203.8 597.2 L204.1 596.6 L204.3 596.5 L204.6 596.4 L204.8 596.4 L205.1 596.4 L205.3 596.4 L205.6 596.4 L205.8 595.6 L206.1 593.6 L206.3 591.6 L206.6 590.7 L206.8 591.0 L207.1 591.3 L207.3 591.6 L207.6 591.9 L207.8 591.8 L208.1 591.1 L208.3 590.4 L208.6 589.8 L208.8 589.1 L209.1 588.4 L209.3 587.8 L209.6 587.8 L209.8 587.9 L210.1 587.9 L210.3 587.9 L210.6 588.0 L210.8 588.2 L211.1 588.7 L211.3 589.3 L211.6 589.8 L211.8 589.8 L212.1 589.7 L212.3 589.6 L212.6 589.4 L212.8 589.3 L213.1 589.7 L213.3 590.1 L213.6 590.5 L213.8 591.0 L214.1 591.9 L214.3 593.2 L214.6 594.9 L214.8 595.9 L215.1 593.5 L215.3 591.2 L215.6 589.0 L215.8 586.9 L216.1 590.2 L216.3 597.5 L216.6 604.6 L216.8 611.6 L217.1 614.3 L217.3 614.8 L217.6 614.9 L217.8 614.7 L218.1 614.5 L218.3 614.7 L218.6 614.6 L218.8 614.0 L219.1 613.2 L219.3 611.8 L219.6 609.1 L219.8 606.4 L220.1 603.6 L220.3 601.0 L220.6 598.5 L220.8 596.2 L221.1 594.7 L221.3 595.0 L221.6 595.8 L221.8 597.0 L222.1 598.7 L222.3 600.0 L222.6 601.1 L222.8 602.3 L223.1 603.6 L223.3 604.9 L223.6 605.6 L223.8 606.2 L224.1 606.4 L224.3 606.3 L224.6 605.7 L224.8 604.4 L225.1 602.9 L225.3 602.1 L225.6 601.0 L225.8 599.7 L226.1 598.3 L226.3 597.1 L226.6 595.4 L226.8 593.1 L227.1 591.3 L227.3 590.1 L227.6 589.4 L227.8 589.7 L228.1 590.3 L228.3 591.1 L228.6 591.8 L228.8 592.6 L229.1 593.4 L229.3 594.3 L229.6 595.2 L229.8 596.1 L230.1 597.1 L230.3 597.8 L230.6 598.0 L230.8 598.2 L231.1 598.4 L231.3 599.1 L231.6 600.4 L231.8 601.7 L232.1 603.1 L232.3 604.7 L232.6 606.1 L232.8 607.3 L233.1 608.5 L233.3 609.8 L233.6 611.0 L233.8 612.3 L234.1 613.6 L234.3 614.4 L234.6 614.8 L234.8 615.2 L235.1 616.4 L235.3 617.8 L235.6 619.0 L235.8 620.1 L236.1 621.0 L236.3 621.7 L236.6 622.2 L236.8 622.4 L237.1 622.1 L237.3 621.7 L237.6 621.2 L237.8 620.5 L238.1 619.6 L238.3 618.6 L238.6 617.5 L238.8 616.4 L239.1 615.6 L239.3 615.6 L239.6 615.5 L239.8 615.4 L240.1 615.3 L240.3 614.5 L240.6 612.9 L240.8 611.3 L241.1 609.8 L241.3 608.2 L241.6 606.6 L241.8 606.3 L242.1 606.0 L242.3 605.6 L242.6 605.1 L242.8 604.4 L243.1 601.3 L243.3 596.7 L243.6 592.1 L243.8 587.4 L244.1 583.5 L244.3 583.6 L244.6 583.8 L244.8 584.0 L245.1 584.2 L245.3 584.6 L245.6 585.0 L245.8 585.5 L246.1 584.9 L246.3 582.1 L246.6 579.1 L246.8 576.2 L247.1 573.3 L247.3 571.3 L247.6 572.1 L247.8 573.1 L248.1 572.8 L248.3 570.6 L248.6 568.7 L248.8 567.0 L249.1 565.7 L249.3 564.8 L249.6 564.2 L249.8 568.7 L250.1 573.4 L250.3 578.3 L250.6 583.2 L250.8 585.0 L251.1 586.4 L251.3 587.6 L251.6 588.6 L251.8 589.4 L252.1 589.9 L252.3 590.0 L252.6 590.1 L252.8 590.2 L253.1 590.2 L253.3 590.2 L253.6 588.9 L253.8 586.3 L254.1 583.6 L254.3 580.9 L254.6 580.2 L254.8 580.8 L255.1 581.3 L255.3 581.8 L255.6 582.2 L255.8 582.7 L256.1 582.9 L256.3 579.0 L256.6 575.1 L256.8 571.2 L257.1 567.4 L257.3 565.5 L257.6 566.9 L257.8 568.3 L258.1 569.6 L258.3 571.0 L258.6 572.3 L258.8 572.7 L259.1 570.8 L259.3 569.0 L259.6 567.2 L259.8 565.3 L260.1 563.5 L260.3 563.7 L260.6 564.4 L260.8 565.2 L261.1 565.9 L261.3 566.6 L261.6 562.6 L261.8 557.7 L262.1 552.8 L262.3 551.9 L262.6 552.8 L262.8 553.6 L263.1 554.4 L263.3 555.2 L263.6 556.1 L263.8 557.0 L264.1 558.0 L264.3 558.2 L264.6 557.7 L264.8 557.4 L265.1 557.2 L265.3 557.2 L265.6 557.4 L265.8 557.7 L266.1 558.1 L266.3 558.2 L266.6 557.5 L266.8 556.8 L267.1 556.1 L267.3 555.6 L267.6 555.0 L267.8 556.7 L268.1 558.4 L268.3 560.2 L268.6 562.0 L268.8 563.7 L269.1 565.4 L269.3 564.3 L269.6 562.9 L269.8 561.6 L270.1 561.1 L270.3 562.8 L270.6 564.5 L270.8 566.2 L271.1 568.0 L271.3 569.8 L271.6 570.3 L271.8 569.7 L272.1 569.1 L272.3 568.5 L272.6 567.9 L272.8 567.3 L273.1 566.7 L273.3 568.5 L273.6 571.3 L273.8 574.1 L274.1 576.9 L274.3 579.6 L274.6 580.6 L274.8 577.1 L275.1 573.6 L275.3 570.2 L275.6 566.8 L275.8 563.4 L276.1 571.3 L276.3 584.5 L276.6 592.4 L276.8 592.7 L277.1 592.9 L277.3 593.1 L277.6 593.3 L277.8 593.4 L278.1 594.8 L278.3 596.2 L278.6 597.4 L278.8 598.6 L279.1 599.5 L279.3 599.6 L279.6 599.6 L279.8 599.5 L280.1 599.2 L280.3 598.8 L280.6 598.3 L280.8 597.7 L281.1 596.8 L281.3 595.8 L281.6 594.6 L281.8 593.4 L282.1 592.1 L282.3 591.2 L282.6 590.4 L282.8 589.5 L283.1 588.7 L283.3 587.8 L283.6 587.3 L283.8 586.9 L284.1 586.4 L284.3 586.0 L284.6 585.6 L284.8 585.3 L285.1 583.7 L285.3 582.0 L285.6 580.2 L285.8 579.0 L286.1 578.6 L286.3 578.1 L286.6 577.7 L286.8 577.3 L287.1 576.2 L287.3 572.4 L287.6 568.6 L287.8 564.9 L288.1 561.3 L288.3 557.7 L288.6 555.7 L288.8 557.9 L289.1 560.2 L289.3 562.5 L289.6 564.8 L289.8 567.2 L290.1 569.6 L290.3 568.6 L290.6 567.3 L290.8 565.9 L291.1 565.2 L291.3 565.1 L291.6 565.0 L291.8 564.9 L292.1 564.8 L292.3 563.8 L292.6 562.1 L292.8 560.4 L293.1 558.8 L293.3 557.1 L293.6 555.4 L293.8 553.8 L294.1 553.4 L294.3 555.6 L294.6 557.9 L294.8 560.1 L295.1 562.3 L295.3 564.5 L295.6 561.0 L295.8 556.2 L296.1 551.4 L296.3 551.7 L296.6 554.9 L296.8 558.2 L297.1 561.5 L297.3 563.9 L297.6 562.4 L297.8 560.9 L298.1 559.4 L298.3 557.9 L298.6 556.4 L298.8 556.6 L299.1 557.1 L299.3 557.6 L299.6 558.2 L299.8 558.7 L300.1 559.2 L300.3 559.6 L300.6 559.5 L300.8 559.3 L301.1 559.2 L301.3 559.0 L301.6 558.9 L301.8 558.7 L302.1 558.6 L302.3 558.4 L302.6 557.9 L302.8 556.4 L303.1 554.8 L303.3 553.2 L303.6 551.6 L303.8 550.0 L304.1 548.4 L304.3 547.4 L304.6 546.9 L304.8 546.5 L305.1 546.3 L305.3 546.3 L305.6 546.8 L305.8 547.4 L306.1 548.2 L306.3 549.1 L306.6 550.1 L306.8 550.7 L307.1 551.0 L307.3 551.5 L307.6 552.0 L307.8 552.5 L308.1 553.3 L308.3 554.3 L308.6 555.4 L308.8 556.5 L309.1 557.6 L309.3 558.6 L309.6 559.5 L309.8 560.3 L310.1 561.1 L310.3 561.9 L310.6 562.6 L310.8 563.8 L311.1 565.5 L311.3 567.2 L311.6 569.1 L311.8 571.0 L312.1 572.5 L312.3 573.7 L312.6 575.0 L312.8 576.3 L313.1 577.6 L313.3 578.9 L313.6 579.5 L313.8 578.1 L314.1 576.7 L314.3 576.0 L314.6 578.3 L314.8 580.6 L315.1 582.9 L315.3 585.1 L315.6 587.2 L315.8 588.8 L316.1 590.3 L316.3 591.7 L316.6 593.0 L316.8 593.9 L317.1 594.2 L317.3 594.3 L317.6 594.3 L317.8 594.2 L318.1 593.9 L318.3 593.4 L318.6 592.9 L318.8 592.6 L319.1 592.3 L319.3 591.8 L319.6 591.1 L319.8 590.3 L320.1 589.4 L320.3 588.5 L320.6 587.5 L320.8 585.6 L321.1 582.2 L321.3 578.8 L321.6 575.4 L321.8 572.0 L322.1 569.6 L322.3 569.8 L322.6 570.0 L322.8 570.2 L323.1 570.5 L323.3 570.9 L323.6 571.3 L323.8 571.8 L324.1 571.1 L324.3 568.1 L324.6 565.1 L324.8 562.2 L325.1 561.9 L325.3 562.9 L325.6 564.0 L325.8 565.2 L326.1 565.5 L326.3 565.4 L326.6 565.4 L326.8 565.3 L327.1 565.3 L327.3 565.1 L327.6 564.6 L327.8 564.1 L328.1 563.6 L328.3 563.1 L328.6 562.0 L328.8 560.1 L329.1 558.2 L329.3 556.3 L329.6 554.3 L329.8 552.4 L330.1 550.4 L330.3 548.5 L330.6 548.1 L330.8 550.7 L331.1 553.2 L331.3 555.7 L331.6 556.3 L331.8 556.3 L332.1 556.2 L332.3 556.1 L332.6 554.3 L332.8 551.6 L333.1 548.8 L333.3 546.0 L333.6 543.2 L333.8 541.6 L334.1 542.4 L334.3 543.1 L334.6 543.9 L334.8 544.6 L335.1 545.3 L335.3 546.0 L335.6 546.6 L335.8 547.1 L336.1 547.1 L336.3 546.8 L336.6 545.7 L336.8 544.6 L337.1 543.5 L337.3 542.4 L337.6 541.3 L337.8 540.2 L338.1 539.0 L338.3 538.6 L338.6 538.1 L338.8 537.6 L339.1 537.0 L339.3 534.8 L339.6 532.3 L339.8 529.9 L340.1 527.6 L340.3 525.3 L340.6 523.8 L340.8 523.1 L341.1 522.5 L341.3 522.0 L341.6 520.7 L341.8 518.2 L342.1 515.9 L342.3 513.9 L342.6 512.1 L342.8 511.6 L343.1 514.4 L343.3 517.4 L343.6 520.5 L343.8 523.8 L344.1 527.1 L344.3 530.5 L344.6 534.0 L344.8 536.1 L345.1 536.6 L345.3 537.1 L345.6 537.6 L345.8 538.9 L346.1 541.2 L346.3 543.4 L346.6 545.8 L346.8 547.2 L347.1 547.5 L347.3 547.8 L347.6 548.2 L347.8 548.5 L348.1 549.6 L348.3 552.6 L348.6 555.5 L348.8 558.2 L349.1 560.6 L349.3 562.8 L349.6 563.7 L349.8 563.1 L350.1 562.2 L350.3 561.2 L350.6 560.1 L350.8 558.8 L351.1 557.9 L351.3 558.7 L351.6 559.3 L351.8 560.0 L352.1 560.3 L352.3 558.2 L352.6 556.1 L352.8 554.0 L353.1 551.9 L353.3 549.9 L353.6 548.0 L353.8 546.1 L354.1 548.6 L354.3 551.3 L354.6 552.4 L354.8 551.3 L355.1 550.2 L355.3 549.1 L355.6 548.0 L355.8 546.9 L356.1 545.9 L356.3 544.8 L356.6 544.7 L356.8 544.6 L357.1 544.6 L357.3 544.3 L357.6 544.0 L357.8 543.7 L358.1 543.6 L358.3 543.5 L358.6 543.6 L358.8 544.0 L359.1 544.7 L359.3 546.0 L359.6 547.6 L359.8 549.3 L360.1 551.1 L360.3 553.1 L360.6 552.6 L360.8 551.0 L361.1 549.4 L361.3 550.7 L361.6 552.6 L361.8 554.3 L362.1 555.9 L362.3 557.6 L362.6 559.2 L362.8 560.9 L363.1 563.5 L363.3 566.3 L363.6 568.7 L363.8 569.9 L364.1 571.1 L364.3 572.2 L364.6 573.2 L364.8 574.2 L365.1 575.1 L365.3 574.4 L365.6 572.5 L365.8 570.4 L366.1 568.2 L366.3 565.8 L366.6 563.2 L366.8 560.4 L367.1 561.1 L367.3 562.7 L367.6 564.1 L367.8 565.4 L368.1 566.6 L368.3 565.8 L368.6 562.0 L368.8 558.2 L369.1 554.3 L369.3 550.4 L369.6 548.8 L369.8 550.3 L370.1 552.0 L370.3 553.6 L370.6 555.3 L370.8 556.1 L371.1 551.7 L371.3 547.3 L371.6 542.9 L371.8 538.4 L372.1 535.2 L372.3 537.1 L372.6 539.0 L372.8 540.8 L373.1 537.2 L373.3 533.0 L373.6 528.8 L373.8 524.6 L374.1 520.5 L374.3 521.1 L374.6 521.7 L374.8 522.4 L375.1 523.2 L375.3 523.9 L375.6 524.5 L375.8 524.7 L376.1 522.5 L376.3 520.2 L376.6 517.9 L376.8 515.7 L377.1 514.0 L377.3 513.4 L377.6 512.8 L377.8 512.3 L378.1 511.0 L378.3 509.4 L378.6 507.9 L378.8 506.6 L379.1 505.3 L379.3 504.3 L379.6 504.4 L379.8 505.3 L380.1 506.3 L380.3 507.6 L380.6 506.9 L380.8 501.1 L381.1 495.5 L381.3 490.0 L381.6 484.7 L381.8 479.5 L382.1 474.7 L382.3 483.1 L382.6 491.6 L382.8 500.1 L383.1 508.7 L383.3 515.1 L383.6 517.3 L383.8 519.6 L384.1 521.9 L384.3 524.1 L384.6 526.3 L384.8 528.5 L385.1 530.8 L385.3 533.3 L385.6 536.0 L385.8 538.2 L386.1 540.4 L386.3 542.7 L386.6 545.1 L386.8 547.6 L387.1 550.1 L387.3 552.6 L387.6 555.0 L387.8 557.3 L388.1 559.5 L388.3 561.5 L388.6 563.4 L388.8 565.0 L389.1 566.5 L389.3 567.7 L389.6 568.7 L389.8 569.5 L390.1 569.8 L390.3 569.6 L390.6 569.0 L390.8 567.8 L391.1 565.4 L391.3 563.3 L391.6 560.7 L391.8 557.5 L392.1 553.9 L392.3 550.3 L392.6 545.8 L392.8 541.6 L393.1 538.0 L393.3 535.1 L393.6 533.3 L393.8 531.9 L394.1 530.7 L394.3 529.3 L394.6 528.0 L394.8 526.8 L395.1 525.6 L395.3 524.7 L395.6 524.2 L395.8 523.8 L396.1 523.3 L396.3 522.9 L396.6 522.3 L396.8 521.2 L397.1 519.2 L397.3 517.1 L397.6 514.8 L397.8 513.6 L398.1 512.2 L398.3 510.2 L398.6 507.6 L398.8 504.7 L399.1 501.4 L399.3 497.2 L399.6 493.2 L399.8 489.6 L400.1 486.5 L400.3 484.3 L400.6 483.6 L400.8 484.0 L401.1 484.5 L401.3 485.2 L401.6 486.1 L401.8 486.6 L402.1 486.3 L402.3 486.2 L402.6 486.2 L402.8 486.3 L403.1 486.4 L403.3 487.4 L403.6 490.9 L403.8 494.4 L404.1 494.6 L404.3 494.2 L404.6 493.7 L404.8 493.2 L405.1 492.8 L405.3 492.6 L405.6 492.7 L405.8 493.1 L406.1 496.5 L406.3 501.8 L406.6 507.3 L406.8 512.9 L407.1 518.6 L407.3 522.4 L407.6 525.2 L407.8 528.0 L408.1 531.1 L408.3 534.1 L408.6 537.0 L408.8 539.8 L409.1 542.4 L409.3 544.7 L409.6 546.5 L409.8 547.9 L410.1 548.9 L410.3 549.5 L410.6 549.8 L410.8 549.6 L411.1 549.2 L411.3 548.6 L411.6 547.5 L411.8 546.1 L412.1 541.5 L412.3 534.5 L412.6 527.4 L412.8 520.1 L413.1 512.7 L413.3 508.0 L413.6 509.2 L413.8 510.4 L414.1 511.8 L414.3 513.3 L414.6 515.0 L414.8 511.6 L415.1 508.1 L415.3 504.6 L415.6 501.0 L415.8 498.1 L416.1 497.9 L416.3 497.6 L416.6 497.4 L416.8 497.2 L417.1 496.9 L417.3 496.7 L417.6 496.0 L417.8 493.5 L418.1 491.1 L418.3 488.7 L418.6 486.4 L418.8 484.2 L419.1 481.5 L419.3 478.6 L419.6 475.8 L419.8 473.1 L420.1 470.7 L420.3 468.9 L420.6 467.3 L420.8 465.8 L421.1 464.5 L421.3 463.4 L421.6 465.3 L421.8 468.6 L422.1 472.3 L422.3 476.3 L422.6 480.6 L422.8 484.5 L423.1 483.0 L423.3 481.7 L423.6 480.6 L423.8 481.7 L424.1 485.8 L424.3 489.9 L424.6 494.0 L424.8 498.1 L425.1 502.2 L425.3 506.1 L425.6 507.8 L425.8 509.3 L426.1 510.8 L426.3 512.4 L426.6 514.1 L426.8 517.1 L427.1 520.4 L427.3 523.8 L427.6 527.2 L427.8 529.5 L428.1 530.2 L428.3 530.9 L428.6 531.5 L428.8 532.1 L429.1 532.7 L429.3 535.2 L429.6 539.4 L429.8 543.4 L430.1 547.3 L430.3 551.1 L430.6 554.5 L430.8 554.4 L431.1 554.0 L431.3 555.2 L431.6 556.6 L431.8 557.8 L432.1 558.7 L432.3 559.3 L432.6 559.2 L432.8 558.6 L433.1 556.3 L433.3 552.5 L433.6 548.3 L433.8 543.7 L434.1 538.8 L434.3 533.7 L434.6 529.4 L434.8 527.5 L435.1 525.5 L435.3 523.6 L435.6 521.8 L435.8 520.1 L436.1 511.5 L436.3 503.3 L436.6 495.4 L436.8 494.1 L437.1 495.8 L437.3 498.1 L437.6 500.6 L437.8 500.5 L438.1 497.9 L438.3 495.4 L438.6 492.9 L438.8 490.4 L439.1 488.0 L439.3 488.5 L439.6 490.0 L439.8 491.6 L440.1 493.3 L440.3 494.4 L440.6 494.0 L440.8 493.7 L441.1 493.4 L441.3 493.2 L441.6 493.0 L441.8 492.3 L442.1 491.8 L442.3 491.3 L442.6 491.1 L442.8 491.3 L443.1 491.1 L443.3 488.7 L443.6 486.6 L443.8 484.7 L444.1 483.1 L444.3 481.6 L444.6 482.7 L444.8 489.0 L445.1 495.4 L445.3 501.9 L445.6 508.4 L445.8 514.9 L446.1 521.3 L446.3 524.4 L446.6 526.9 L446.8 529.4 L447.1 531.5 L447.3 532.9 L447.6 534.3 L447.8 535.9 L448.1 537.6 L448.3 539.4 L448.6 541.4 L448.8 544.6 L449.1 547.9 L449.3 551.2 L449.6 554.5 L449.8 557.9 L450.1 561.2 L450.3 564.4 L450.6 567.6 L450.8 570.7 L451.1 572.7 L451.3 574.6 L451.6 576.3 L451.8 577.8 L452.1 579.3 L452.3 580.7 L452.6 582.0 L452.8 583.0 L453.1 583.7 L453.3 584.2 L453.6 584.5 L453.8 584.5 L454.1 584.3 L454.3 584.0 L454.6 583.6 L454.8 583.8 L455.1 583.9 L455.3 583.8 L455.6 583.7 L455.8 583.5 L456.1 583.2 L456.3 582.4 L456.6 581.3 L456.8 580.1 L457.1 578.9 L457.3 577.6 L457.6 576.4 L457.8 575.2 L458.1 574.0 L458.3 572.8 L458.6 571.2 L458.8 569.0 L459.1 566.8 L459.3 564.6 L459.6 562.5 L459.8 560.4 L460.1 558.5 L460.3 558.5 L460.6 558.5 L460.8 558.7 L461.1 558.9 L461.3 559.3 L461.6 559.7 L461.8 559.8 L462.1 555.7 L462.3 551.6 L462.6 547.5 L462.8 546.6 L463.1 550.1 L463.3 553.6 L463.6 557.1 L463.8 559.9 L464.1 559.7 L464.3 559.5 L464.6 559.3 L464.8 559.2 L465.1 559.0 L465.3 558.9 L465.6 558.7 L465.8 558.6 L466.1 558.4 L466.3 558.3 L466.6 558.1 L466.8 557.9 L467.1 557.6 L467.3 557.2 L467.6 556.9 L467.8 556.4 L468.1 556.0 L468.3 555.4 L468.6 554.9 L468.8 554.3 L469.1 553.7 L469.3 553.0 L469.6 552.1 L469.8 547.5 L470.1 542.7 L470.3 537.8 L470.6 538.2 L470.8 539.4 L471.1 540.6 L471.3 541.7 L471.6 542.8 L471.8 543.8 L472.1 543.8 L472.3 542.9 L472.6 542.0 L472.8 541.0 L473.1 540.0 L473.3 538.5 L473.6 536.5 L473.8 534.2 L474.1 531.8 L474.3 529.3 L474.6 526.1 L474.8 521.7 L475.1 517.4 L475.3 513.6 L475.6 510.1 L475.8 507.3 L476.1 506.2 L476.3 509.4 L476.6 512.7 L476.8 516.1 L477.1 519.5 L477.3 519.4 L477.6 517.3 L477.8 515.2 L478.1 513.2 L478.3 511.2 L478.6 511.5 L478.8 514.4 L479.1 517.3 L479.3 520.1 L479.6 520.8 L479.8 521.6 L480.1 522.4 L480.3 523.1 L480.6 523.9 L480.8 524.8 L481.1 525.6 L481.3 526.5 L481.6 527.5 L481.8 528.5 L482.1 529.7 L482.3 531.0 L482.6 532.4 L482.8 531.6 L483.1 530.9 L483.3 531.5 L483.6 533.5 L483.8 535.5 L484.1 537.6 L484.3 539.8 L484.6 542.0 L484.8 544.2 L485.1 546.5 L485.3 548.6 L485.6 550.7 L485.8 552.7 L486.1 554.7 L486.3 556.7 L486.6 558.4 L486.8 560.0 L487.1 561.6 L487.3 562.9 L487.6 563.6 L487.8 564.3 L488.1 565.1 L488.3 566.0 L488.6 566.8 L488.8 568.0 L489.1 569.3 L489.3 570.7 L489.6 572.1 L489.8 573.5 L490.1 572.9 L490.3 571.5 L490.6 570.1 L490.8 568.7 L491.1 567.2 L491.3 569.6 L491.6 573.2 L491.8 576.8 L492.1 580.3 L492.3 583.8 L492.6 587.1 L492.8 590.4 L493.1 590.8 L493.3 588.9 L493.6 586.8 L493.8 584.8 L494.1 586.7 L494.3 588.4 L494.6 590.1 L494.8 591.5 L495.1 592.7 L495.3 593.8 L495.6 591.8 L495.8 588.7 L496.1 585.5 L496.3 582.3 L496.6 582.0 L496.8 581.6 L497.1 581.2 L497.3 580.7 L497.6 580.2 L497.8 579.6 L498.1 578.3 L498.3 576.8 L498.6 575.2 L498.8 573.7 L499.1 572.3 L499.3 570.4 L499.6 568.4 L499.8 566.5 L500.1 564.7 L500.3 564.4 L500.6 564.3 L500.8 564.2 L501.1 564.1 L501.3 564.0 L501.6 563.9 L501.8 563.8 L502.1 563.7 L502.3 563.8 L502.6 564.0 L502.8 564.2 L503.1 564.0 L503.3 563.3 L503.6 562.6 L503.8 561.9 L504.1 561.2 L504.3 560.7 L504.6 560.3 L504.8 559.8 L505.1 559.4 L505.3 559.0 L505.6 558.6 L505.8 557.7 L506.1 556.7 L506.3 555.8 L506.6 554.9 L506.8 554.2 L507.1 553.8 L507.3 553.5 L507.6 553.1 L507.8 552.8 L508.1 552.6 L508.3 552.4 L508.6 552.6 L508.8 552.8 L509.1 553.0 L509.3 553.2 L509.6 553.4 L509.8 553.6 L510.1 553.7 L510.3 553.9 L510.6 554.1 L510.8 554.2 L511.1 554.4 L511.3 549.3 L511.6 543.9 L511.8 538.5 L512.1 534.2 L512.3 537.0 L512.6 539.9 L512.8 542.7 L513.1 545.6 L513.3 548.5 L513.6 551.4 L513.8 552.1 L514.1 551.7 L514.3 551.3 L514.6 550.9 L514.8 551.0 L515.1 551.3 L515.3 551.5 L515.6 551.8 L515.8 552.0 L516.1 552.4 L516.3 552.9 L516.6 553.4 L516.8 553.8 L517.1 554.3 L517.3 554.8 L517.6 555.1 L517.8 555.3 L518.1 555.6 L518.3 555.8 L518.6 556.1 L518.8 556.4 L519.1 556.4 L519.3 556.4 L519.6 556.5 L519.8 556.5 L520.1 556.5 L520.3 556.5 L520.6 555.9 L520.8 555.2 L521.1 554.6 L521.3 552.8 L521.6 549.7 L521.8 546.6 L522.1 543.5 L522.3 540.5 L522.6 538.7 L522.8 542.4 L523.1 546.0 L523.3 549.8 L523.6 553.6 L523.8 557.4 L524.1 561.3 L524.3 561.8 L524.6 561.8 L524.8 561.8 L525.1 562.1 L525.3 563.2 L525.6 564.3 L525.8 565.4 L526.1 566.5 L526.3 565.9 L526.6 563.0 L526.8 560.1 L527.1 557.3 L527.3 554.4 L527.6 551.6 L527.8 548.8 L528.1 548.9 L528.3 556.2 L528.6 563.4 L528.8 570.6 L529.1 577.8 L529.3 582.1 L529.6 583.1 L529.8 584.3 L530.1 585.7 L530.3 587.7 L530.6 589.8 L530.8 591.9 L531.1 594.1 L531.3 596.2 L531.6 598.4 L531.8 600.6 L532.1 602.5 L532.3 604.2 L532.6 605.7 L532.8 607.2 L533.1 608.8 L533.3 610.3 L533.6 611.7 L533.8 612.8 L534.1 613.7 L534.3 614.1 L534.6 613.1 L534.8 611.8 L535.1 610.3 L535.3 608.6 L535.6 606.7 L535.8 606.3 L536.1 607.1 L536.3 607.8 L536.6 607.9 L536.8 606.7 L537.1 605.4 L537.3 604.0 L537.6 602.5 L537.8 601.0 L538.1 599.3 L538.3 597.6 L538.6 596.0 L538.8 594.3 L539.1 592.5 L539.3 590.5 L539.6 588.5 L539.8 586.5 L540.1 584.5 L540.3 582.5 L540.6 580.5 L540.8 578.6 L541.1 576.9 L541.3 575.2 L541.6 573.6 L541.8 572.1 L542.1 570.7 L542.3 569.3 L542.6 567.9 L542.8 566.5 L543.1 565.2 L543.3 564.1 L543.6 561.5 L543.8 558.9 L544.1 556.2 L544.3 553.6 L544.6 551.0 L544.8 550.2 L545.1 551.3 L545.3 552.3 L545.6 553.4 L545.8 553.3 L546.1 552.6 L546.3 552.0 L546.6 551.4 L546.8 550.8 L547.1 550.3 L547.3 549.8 L547.6 548.9 L547.8 547.4 L548.1 545.9 L548.3 544.4 L548.6 543.0 L548.8 543.2 L549.1 543.5 L549.3 543.9 L549.6 544.3 L549.8 544.6 L550.1 545.0 L550.3 545.4 L550.6 545.9 L550.8 546.4 L551.1 546.5 L551.3 546.6 L551.6 546.7 L551.8 546.8 L552.1 547.0 L552.3 547.1 L552.6 547.3 L552.8 547.5 L553.1 544.9 L553.3 542.4 L553.6 540.6 L553.8 541.7 L554.1 542.8 L554.3 544.0 L554.6 545.1 L554.8 546.3 L555.1 547.4 L555.3 548.6 L555.6 547.0 L555.8 545.0 L556.1 543.0 L556.3 542.0 L556.6 544.4 L556.8 546.8 L557.1 549.3 L557.3 551.8 L557.6 553.7 L557.8 554.1 L558.1 554.5 L558.3 555.0 L558.6 555.5 L558.8 556.0 L559.1 556.6 L559.3 557.5 L559.6 558.5 L559.8 559.6 L560.1 560.6 L560.3 561.0 L560.6 559.9 L560.8 558.8 L561.1 557.7 L561.3 556.6 L561.6 557.6 L561.8 560.7 L562.1 563.8 L562.3 566.9 L562.6 570.0 L562.8 568.5 L563.1 565.7 L563.3 562.9 L563.6 560.0 L563.8 557.1 L564.1 554.2 L564.3 552.1 L564.6 559.9 L564.8 567.7 L565.1 575.5 L565.3 578.9 L565.6 579.2 L565.8 579.6 L566.1 580.0 L566.3 580.4 L566.6 580.8 L566.8 581.2 L567.1 582.2 L567.3 583.2 L567.6 584.2 L567.8 585.2 L568.1 586.2 L568.3 582.3 L568.6 577.4 L568.8 572.4 L569.1 567.4 L569.3 564.1 L569.6 569.0 L569.8 573.9 L570.1 578.7 L570.3 583.6 L570.6 588.4 L570.8 591.8 L571.1 592.6 L571.3 593.5 L571.6 594.3 L571.8 595.1 L572.1 595.8 L572.3 596.6 L572.6 597.3 L572.8 597.9 L573.1 598.0 L573.3 598.0 L573.6 598.0 L573.8 597.9 L574.1 597.7 L574.3 597.6 L574.6 597.3 L574.8 597.0 L575.1 597.2 L575.3 597.5 L575.6 597.6 L575.8 597.5 L576.1 597.0 L576.3 596.4 L576.6 595.7 L576.8 594.9 L577.1 594.1 L577.3 593.2 L577.6 592.2 L577.8 591.2 L578.1 590.1 L578.3 589.1 L578.6 588.0 L578.8 586.8 L579.1 585.5 L579.3 584.2 L579.6 582.9 L579.8 581.6 L580.1 580.9 L580.3 580.5 L580.6 580.2 L580.8 579.8 L581.1 579.6 L581.3 578.1 L581.6 576.7 L581.8 575.3 L582.1 574.0 L582.3 572.8 L582.6 573.4 L582.8 574.2 L583.1 575.1 L583.3 576.1 L583.6 575.7 L583.8 575.2 L584.1 574.7 L584.3 574.2 L584.6 573.6 L584.8 573.1 L585.1 572.7 L585.3 573.2 L585.6 573.8 L585.8 574.5 L586.1 575.1 L586.3 575.8 L586.6 576.5 L586.8 575.7 L587.1 574.8 L587.3 573.9 L587.6 573.0 L587.8 572.6 L588.1 573.2 L588.3 573.8 L588.6 574.4 L588.8 574.9 L589.1 575.5 L589.3 576.1 L589.6 577.0 L589.8 578.1 L590.1 579.3 L590.3 580.3 L590.6 581.3 L590.8 582.4 L591.1 583.5 L591.3 584.6 L591.6 585.0 L591.8 584.5 L592.1 583.9 L592.3 583.2 L592.6 582.4 L592.8 582.1 L593.1 583.7 L593.3 585.0 L593.6 586.1 L593.8 587.2 L594.1 588.3 L594.3 589.2 L594.6 589.1 L594.8 589.0 L595.1 588.8 L595.3 588.7 L595.6 588.5 L595.8 588.3 L596.1 588.1 L596.3 587.9 L596.6 587.6 L596.8 587.4 L597.1 585.9 L597.3 583.5 L597.6 581.2 L597.8 578.8 L598.1 576.5 L598.3 575.1 L598.6 578.6 L598.8 582.2 L599.1 584.2 L599.3 583.5 L599.6 582.9 L599.8 582.4 L600.1 582.0 L600.3 581.7 L600.6 581.6 L600.8 582.7 L601.1 584.0 L601.3 585.5 L601.6 587.0 L601.8 588.2 L602.1 589.3 L602.3 590.4 L602.6 591.7 L602.8 592.9 L603.1 594.2 L603.3 595.6 L603.6 597.1 L603.8 598.7 L604.1 600.2 L604.3 601.7 L604.6 601.1 L604.8 599.1 L605.1 597.1 L605.3 595.0 L605.6 592.8 L605.8 590.5 L606.1 589.7 L606.3 594.6 L606.6 599.3 L606.8 603.8 L607.1 608.2 L607.3 610.5 L607.6 610.2 L607.8 609.8 L608.1 609.5 L608.3 609.1 L608.6 608.7 L608.8 608.6 L609.1 608.6 L609.3 608.5 L609.6 608.6 L609.8 608.6 L610.1 608.6 L610.3 608.6 L610.6 608.6 L610.8 608.5 L611.1 608.4 L611.3 607.3 L611.6 606.1 L611.8 604.9 L612.1 602.9 L612.3 600.5 L612.6 598.2 L612.8 595.8 L613.1 593.5 L613.3 591.1 L613.6 589.7 L613.8 592.2 L614.1 594.6 L614.3 596.9 L614.6 599.2 L614.8 599.4 L615.1 598.9 L615.3 598.4 L615.6 597.8 L615.8 597.2 L616.1 596.5 L616.3 595.3 L616.6 593.3 L616.8 591.2 L617.1 589.1 L617.3 587.8 L617.6 586.4 L617.8 585.1 L618.1 583.7 L618.3 582.3 L618.3 598.7 L618.1 600.6 L617.8 602.5 L617.6 604.3 L617.3 605.9 L617.1 607.4 L616.8 608.9 L616.6 610.4 L616.3 611.8 L616.1 613.2 L615.8 614.5 L615.6 613.9 L615.3 613.1 L615.1 612.1 L614.8 613.5 L614.6 616.3 L614.3 619.1 L614.1 621.8 L613.8 624.4 L613.6 626.9 L613.3 629.3 L613.1 628.1 L612.8 623.1 L612.6 618.1 L612.3 619.6 L612.1 622.3 L611.8 625.0 L611.6 627.7 L611.3 630.3 L611.1 633.0 L610.8 635.6 L610.6 638.2 L610.3 633.7 L610.1 627.5 L609.8 623.8 L609.6 625.4 L609.3 626.9 L609.1 628.3 L608.8 629.8 L608.6 630.3 L608.3 629.6 L608.1 629.0 L607.8 628.3 L607.6 627.5 L607.3 626.8 L607.1 626.0 L606.8 625.6 L606.6 625.9 L606.3 626.1 L606.1 626.2 L605.8 626.1 L605.6 625.1 L605.3 623.4 L605.1 621.6 L604.8 619.8 L604.6 617.8 L604.3 615.9 L604.1 613.9 L603.8 612.9 L603.6 611.9 L603.3 610.9 L603.1 609.3 L602.8 607.6 L602.6 605.9 L602.3 604.3 L602.1 602.7 L601.8 601.2 L601.6 600.6 L601.3 600.7 L601.1 600.9 L600.8 601.2 L600.6 601.5 L600.3 600.5 L600.1 599.7 L599.8 599.1 L599.6 598.6 L599.3 600.9 L599.1 605.8 L598.8 610.7 L598.6 615.6 L598.3 620.6 L598.1 625.6 L597.8 630.7 L597.6 630.9 L597.3 624.0 L597.1 617.2 L596.8 610.3 L596.6 603.5 L596.3 602.5 L596.1 604.2 L595.8 605.8 L595.6 607.0 L595.3 606.8 L595.1 606.4 L594.8 606.1 L594.6 605.7 L594.3 605.3 L594.1 604.9 L593.8 605.2 L593.6 605.4 L593.3 605.5 L593.1 605.4 L592.8 605.1 L592.6 604.5 L592.3 603.4 L592.1 602.2 L591.8 600.9 L591.6 599.5 L591.3 598.2 L591.1 597.2 L590.8 596.1 L590.6 595.2 L590.3 594.6 L590.1 594.4 L589.8 594.4 L589.6 594.6 L589.3 594.9 L589.1 595.4 L588.8 595.7 L588.6 595.5 L588.3 595.2 L588.1 595.0 L587.8 594.7 L587.6 594.6 L587.3 594.5 L587.1 594.4 L586.8 594.3 L586.6 594.2 L586.3 596.4 L586.1 599.1 L585.8 601.9 L585.6 604.7 L585.3 607.4 L585.1 610.2 L584.8 613.0 L584.6 612.6 L584.3 603.8 L584.1 595.1 L583.8 591.2 L583.6 592.5 L583.3 593.8 L583.1 595.1 L582.8 596.6 L582.6 597.9 L582.3 597.3 L582.1 596.8 L581.8 596.3 L581.6 596.0 L581.3 595.7 L581.1 595.5 L580.8 597.4 L580.6 600.0 L580.3 602.6 L580.1 605.3 L579.8 608.0 L579.6 610.8 L579.3 610.0 L579.1 608.9 L578.8 607.8 L578.6 606.7 L578.3 606.7 L578.1 609.9 L577.8 613.1 L577.6 616.2 L577.3 617.2 L577.1 617.0 L576.8 616.8 L576.6 616.6 L576.3 616.2 L576.1 615.8 L575.8 615.3 L575.6 615.7 L575.3 617.0 L575.1 618.3 L574.8 619.5 L574.6 620.5 L574.3 619.9 L574.1 618.7 L573.8 617.5 L573.6 616.2 L573.3 617.2 L573.1 628.7 L572.8 640.2 L572.6 651.7 L572.3 663.2 L572.1 661.3 L571.8 653.6 L571.6 646.0 L571.3 638.3 L571.1 630.6 L570.8 622.8 L570.6 615.1 L570.3 610.2 L570.1 610.1 L569.8 610.0 L569.6 609.8 L569.3 610.0 L569.1 610.5 L568.8 610.9 L568.6 611.4 L568.3 611.8 L568.1 612.3 L567.8 612.6 L567.6 612.9 L567.3 613.1 L567.1 613.4 L566.8 613.7 L566.6 614.0 L566.3 610.9 L566.1 607.2 L565.8 603.5 L565.6 600.4 L565.3 599.7 L565.1 599.1 L564.8 598.5 L564.6 597.9 L564.3 597.3 L564.1 596.6 L563.8 595.8 L563.6 594.8 L563.3 593.7 L563.1 592.6 L562.8 591.5 L562.6 590.4 L562.3 589.0 L562.1 587.6 L561.8 586.2 L561.6 585.6 L561.3 585.4 L561.1 585.2 L560.8 584.9 L560.6 584.7 L560.3 584.5 L560.1 584.3 L559.8 583.9 L559.6 583.6 L559.3 583.2 L559.1 582.9 L558.8 582.0 L558.6 580.9 L558.3 579.8 L558.1 578.7 L557.8 577.7 L557.6 576.6 L557.3 575.6 L557.1 574.7 L556.8 573.8 L556.6 572.9 L556.3 572.1 L556.1 571.4 L555.8 570.7 L555.6 570.0 L555.3 569.4 L555.1 568.7 L554.8 568.1 L554.6 569.0 L554.3 570.1 L554.1 571.2 L553.8 572.3 L553.6 573.4 L553.3 571.9 L553.1 570.4 L552.8 569.0 L552.6 567.5 L552.3 567.1 L552.1 567.4 L551.8 567.7 L551.6 568.1 L551.3 568.0 L551.1 567.5 L550.8 567.1 L550.6 566.7 L550.3 566.3 L550.1 566.0 L549.8 566.0 L549.6 566.6 L549.3 567.2 L549.1 567.9 L548.8 568.7 L548.6 569.5 L548.3 570.3 L548.1 570.6 L547.8 570.8 L547.6 571.1 L547.3 572.9 L547.1 575.3 L546.8 577.6 L546.6 580.1 L546.3 582.5 L546.1 585.0 L545.8 587.4 L545.6 586.7 L545.3 585.5 L545.1 584.2 L544.8 583.0 L544.6 581.8 L544.3 580.6 L544.1 585.6 L543.8 590.6 L543.6 595.6 L543.3 600.7 L543.1 604.2 L542.8 599.2 L542.6 594.3 L542.3 591.0 L542.1 595.7 L541.8 600.6 L541.6 605.5 L541.3 610.6 L541.1 615.7 L540.8 620.8 L540.6 619.0 L540.3 615.8 L540.1 612.5 L539.8 609.3 L539.6 609.6 L539.3 615.9 L539.1 622.1 L538.8 628.3 L538.6 634.5 L538.3 639.7 L538.1 638.5 L537.8 637.3 L537.6 636.0 L537.3 634.6 L537.1 633.1 L536.8 631.5 L536.6 629.8 L536.3 629.8 L536.1 630.5 L535.8 631.1 L535.6 631.5 L535.3 633.2 L535.1 634.8 L534.8 636.3 L534.6 637.5 L534.3 638.5 L534.1 640.0 L533.8 641.3 L533.6 642.4 L533.3 643.3 L533.1 644.0 L532.8 644.5 L532.6 644.9 L532.3 640.1 L532.1 634.4 L531.8 628.7 L531.6 622.9 L531.3 617.3 L531.1 619.2 L530.8 621.1 L530.6 623.0 L530.3 625.0 L530.1 619.9 L529.8 614.6 L529.6 609.5 L529.3 604.5 L529.1 599.6 L528.8 600.4 L528.6 602.8 L528.3 605.2 L528.1 607.5 L527.8 609.9 L527.6 606.2 L527.3 602.6 L527.1 599.0 L526.8 595.4 L526.6 591.8 L526.3 588.2 L526.1 588.8 L525.8 590.0 L525.6 591.3 L525.3 592.5 L525.1 590.4 L524.8 588.1 L524.6 585.9 L524.3 583.7 L524.1 581.6 L523.8 579.5 L523.6 577.8 L523.3 577.7 L523.1 577.6 L522.8 577.5 L522.6 577.5 L522.3 577.6 L522.1 577.6 L521.8 577.1 L521.6 576.7 L521.3 576.3 L521.1 576.8 L520.8 578.0 L520.6 579.2 L520.3 580.5 L520.1 581.7 L519.8 582.9 L519.6 582.3 L519.3 580.7 L519.1 579.2 L518.8 577.7 L518.6 576.2 L518.3 575.5 L518.1 575.3 L517.8 575.2 L517.6 575.0 L517.3 574.9 L517.1 574.7 L516.8 574.4 L516.6 574.0 L516.3 573.6 L516.1 573.2 L515.8 572.8 L515.6 572.5 L515.3 572.1 L515.1 571.7 L514.8 571.4 L514.6 571.0 L514.3 570.7 L514.1 570.4 L513.8 570.1 L513.6 569.8 L513.3 569.8 L513.1 570.0 L512.8 570.2 L512.6 570.4 L512.3 570.6 L512.1 571.0 L511.8 571.6 L511.6 572.3 L511.3 572.9 L511.1 573.5 L510.8 573.7 L510.6 573.2 L510.3 572.7 L510.1 572.2 L509.8 571.7 L509.6 571.2 L509.3 570.7 L509.1 570.5 L508.8 570.3 L508.6 570.2 L508.3 570.5 L508.1 570.9 L507.8 571.3 L507.6 571.8 L507.3 572.3 L507.1 572.9 L506.8 573.5 L506.6 574.4 L506.3 575.9 L506.1 577.4 L505.8 578.9 L505.6 578.0 L505.3 577.2 L505.1 576.3 L504.8 575.5 L504.6 574.7 L504.3 575.0 L504.1 575.4 L503.8 575.8 L503.6 576.2 L503.3 576.6 L503.1 577.6 L502.8 579.5 L502.6 581.5 L502.3 583.4 L502.1 585.4 L501.8 587.4 L501.6 589.3 L501.3 589.4 L501.1 589.2 L500.8 588.9 L500.6 588.6 L500.3 588.0 L500.1 587.3 L499.8 586.8 L499.6 586.4 L499.3 586.8 L499.1 588.2 L498.8 589.7 L498.6 591.2 L498.3 592.8 L498.1 594.4 L497.8 596.0 L497.6 597.6 L497.3 599.2 L497.1 600.7 L496.8 602.2 L496.6 603.5 L496.3 604.5 L496.1 605.5 L495.8 606.2 L495.6 606.9 L495.3 607.4 L495.1 608.0 L494.8 608.5 L494.6 608.8 L494.3 608.9 L494.1 608.8 L493.8 608.6 L493.6 608.0 L493.3 607.3 L493.1 606.5 L492.8 605.6 L492.6 604.9 L492.3 605.2 L492.1 605.5 L491.8 605.6 L491.6 605.7 L491.3 605.7 L491.1 605.6 L490.8 603.1 L490.6 598.7 L490.3 595.0 L490.1 593.1 L489.8 591.3 L489.6 589.4 L489.3 587.5 L489.1 585.6 L488.8 583.8 L488.6 581.9 L488.3 580.3 L488.1 578.7 L487.8 577.1 L487.6 575.6 L487.3 574.1 L487.1 574.3 L486.8 577.9 L486.6 581.3 L486.3 584.7 L486.1 588.1 L485.8 588.5 L485.6 581.0 L485.3 573.5 L485.1 566.0 L484.8 558.5 L484.6 556.4 L484.3 554.4 L484.1 552.4 L483.8 550.5 L483.6 548.9 L483.3 547.7 L483.1 546.5 L482.8 545.5 L482.6 544.5 L482.3 543.7 L482.1 543.2 L481.8 543.3 L481.6 543.5 L481.3 543.8 L481.1 544.2 L480.8 543.2 L480.6 542.3 L480.3 541.3 L480.1 540.4 L479.8 539.5 L479.6 538.6 L479.3 538.3 L479.1 537.9 L478.8 537.6 L478.6 537.3 L478.3 537.1 L478.1 536.9 L477.8 536.1 L477.6 534.7 L477.3 533.3 L477.1 534.9 L476.8 537.1 L476.6 539.4 L476.3 541.8 L476.1 544.1 L475.8 545.6 L475.6 544.3 L475.3 543.5 L475.1 543.2 L474.8 543.2 L474.6 543.5 L474.3 543.9 L474.1 545.6 L473.8 547.7 L473.6 549.7 L473.3 551.4 L473.1 552.7 L472.8 553.7 L472.6 554.8 L472.3 556.0 L472.1 557.1 L471.8 558.2 L471.6 559.5 L471.3 560.8 L471.1 562.2 L470.8 563.5 L470.6 564.5 L470.3 565.4 L470.1 566.2 L469.8 567.0 L469.6 567.7 L469.3 568.3 L469.1 568.8 L468.8 569.3 L468.6 569.7 L468.3 570.0 L468.1 570.4 L467.8 570.6 L467.6 570.9 L467.3 571.1 L467.1 571.3 L466.8 571.5 L466.6 572.1 L466.3 573.6 L466.1 575.1 L465.8 576.7 L465.6 578.2 L465.3 579.7 L465.1 580.1 L464.8 577.4 L464.6 574.8 L464.3 572.2 L464.1 570.8 L463.8 571.0 L463.6 571.2 L463.3 571.5 L463.1 571.8 L462.8 572.1 L462.6 572.7 L462.3 573.3 L462.1 574.0 L461.8 574.6 L461.6 575.4 L461.3 576.2 L461.1 578.6 L460.8 582.1 L460.6 585.7 L460.3 589.4 L460.1 590.9 L459.8 588.6 L459.6 586.4 L459.3 584.2 L459.1 583.7 L458.8 587.2 L458.6 590.7 L458.3 594.2 L458.1 597.7 L457.8 600.2 L457.6 600.5 L457.3 600.9 L457.1 601.2 L456.8 601.4 L456.6 601.7 L456.3 601.9 L456.1 602.0 L455.8 602.1 L455.6 603.1 L455.3 604.0 L455.1 604.8 L454.8 605.3 L454.6 605.2 L454.3 605.0 L454.1 604.7 L453.8 604.2 L453.6 603.6 L453.3 602.6 L453.1 601.4 L452.8 599.8 L452.6 598.0 L452.3 596.9 L452.1 595.9 L451.8 594.7 L451.6 593.4 L451.3 592.3 L451.1 592.1 L450.8 591.7 L450.6 591.2 L450.3 590.7 L450.1 590.1 L449.8 589.4 L449.6 585.3 L449.3 579.3 L449.1 573.3 L448.8 567.4 L448.6 561.5 L448.3 558.6 L448.1 557.5 L447.8 556.5 L447.6 555.7 L447.3 555.0 L447.1 554.3 L446.8 551.9 L446.6 547.6 L446.3 543.2 L446.1 538.8 L445.8 534.3 L445.6 531.9 L445.3 531.9 L445.1 532.0 L444.8 532.1 L444.6 532.3 L444.3 529.0 L444.1 524.9 L443.8 520.9 L443.6 517.1 L443.3 513.6 L443.1 510.3 L442.8 509.9 L442.6 511.2 L442.3 512.8 L442.1 514.8 L441.8 516.9 L441.6 515.7 L441.3 514.6 L441.1 513.5 L440.8 512.5 L440.6 511.5 L440.3 511.2 L440.1 511.9 L439.8 512.7 L439.6 513.6 L439.3 514.5 L439.1 515.4 L438.8 516.3 L438.6 517.3 L438.3 518.3 L438.1 519.4 L437.8 520.5 L437.6 521.7 L437.3 523.0 L437.1 524.5 L436.8 526.5 L436.6 528.6 L436.3 531.0 L436.1 533.8 L435.8 536.9 L435.6 540.8 L435.3 545.4 L435.1 550.2 L434.8 554.9 L434.6 559.6 L434.3 564.3 L434.1 568.7 L433.8 573.0 L433.6 574.9 L433.3 576.5 L433.1 577.6 L432.8 578.2 L432.6 579.2 L432.3 579.9 L432.1 580.0 L431.8 579.8 L431.6 579.0 L431.3 577.9 L431.1 576.5 L430.8 574.9 L430.6 573.2 L430.3 571.2 L430.1 569.1 L429.8 566.9 L429.6 565.1 L429.3 563.3 L429.1 561.3 L428.8 559.3 L428.6 556.6 L428.3 553.9 L428.1 551.1 L427.8 548.3 L427.6 545.6 L427.3 543.2 L427.1 541.4 L426.8 539.6 L426.6 537.9 L426.3 536.3 L426.1 534.6 L425.8 532.6 L425.6 530.7 L425.3 528.7 L425.1 527.8 L424.8 528.9 L424.6 530.0 L424.3 531.0 L424.1 532.1 L423.8 533.2 L423.6 534.3 L423.3 531.2 L423.1 518.8 L422.8 506.5 L422.6 502.5 L422.3 503.1 L422.1 504.0 L421.8 505.2 L421.6 506.8 L421.3 508.8 L421.1 509.2 L420.8 508.1 L420.6 507.1 L420.3 506.3 L420.1 505.6 L419.8 505.0 L419.6 505.3 L419.3 506.7 L419.1 508.2 L418.8 509.8 L418.6 511.5 L418.3 513.2 L418.1 514.2 L417.8 514.7 L417.6 515.4 L417.3 517.2 L417.1 519.0 L416.8 520.8 L416.6 522.6 L416.3 524.5 L416.1 526.3 L415.8 528.1 L415.6 529.9 L415.3 531.7 L415.1 533.4 L414.8 535.1 L414.6 537.1 L414.3 546.8 L414.1 557.9 L413.8 569.1 L413.6 576.7 L413.3 573.9 L413.1 571.0 L412.8 568.1 L412.6 565.1 L412.3 562.0 L412.1 562.9 L411.8 565.1 L411.6 567.1 L411.3 568.7 L411.1 569.9 L410.8 570.7 L410.6 570.7 L410.3 570.0 L410.1 568.9 L409.8 567.5 L409.6 565.8 L409.3 564.4 L409.1 562.9 L408.8 561.0 L408.6 559.0 L408.3 556.8 L408.1 553.7 L407.8 550.4 L407.6 547.0 L407.3 543.6 L407.1 540.2 L406.8 536.8 L406.6 533.9 L406.3 532.0 L406.1 530.1 L405.8 528.5 L405.6 527.1 L405.3 526.0 L405.1 524.5 L404.8 522.7 L404.6 521.0 L404.3 519.2 L404.1 517.5 L403.8 516.1 L403.6 515.3 L403.3 514.5 L403.1 513.5 L402.8 512.2 L402.6 510.9 L402.3 509.7 L402.1 508.6 L401.8 507.6 L401.6 506.8 L401.3 506.0 L401.1 505.9 L400.8 506.0 L400.6 506.2 L400.3 507.3 L400.1 509.1 L399.8 511.7 L399.6 514.8 L399.3 518.3 L399.1 522.0 L398.8 528.1 L398.6 534.8 L398.3 541.1 L398.1 546.9 L397.8 552.0 L397.6 556.6 L397.3 553.5 L397.1 550.2 L396.8 546.7 L396.6 543.2 L396.3 542.3 L396.1 544.7 L395.8 547.1 L395.6 549.4 L395.3 551.7 L395.1 554.1 L394.8 556.0 L394.6 555.0 L394.3 554.1 L394.1 553.3 L393.8 552.6 L393.6 552.2 L393.3 554.3 L393.1 559.0 L392.8 563.8 L392.6 567.4 L392.3 571.3 L392.1 575.3 L391.8 579.2 L391.6 582.7 L391.3 588.1 L391.1 593.3 L390.8 597.5 L390.6 600.4 L390.3 602.6 L390.1 604.6 L389.8 605.6 L389.6 601.5 L389.3 597.2 L389.1 592.6 L388.8 587.8 L388.6 582.8 L388.3 580.1 L388.1 582.1 L387.8 583.9 L387.6 585.6 L387.3 581.6 L387.1 577.4 L386.8 573.2 L386.6 569.1 L386.3 565.0 L386.1 561.0 L385.8 558.1 L385.6 556.1 L385.3 554.2 L385.1 552.5 L384.8 551.0 L384.6 549.5 L384.3 547.8 L384.1 545.5 L383.8 543.2 L383.6 541.0 L383.3 539.2 L383.1 537.5 L382.8 535.7 L382.6 534.0 L382.3 532.4 L382.1 530.8 L381.8 529.4 L381.6 528.1 L381.3 527.0 L381.1 526.0 L380.8 525.2 L380.6 524.5 L380.3 524.2 L380.1 524.0 L379.8 524.1 L379.6 524.4 L379.3 524.8 L379.1 525.5 L378.8 526.4 L378.6 527.4 L378.3 528.5 L378.1 529.4 L377.8 530.3 L377.6 531.2 L377.3 532.1 L377.1 533.2 L376.8 534.3 L376.6 535.6 L376.3 536.8 L376.1 538.0 L375.8 539.3 L375.6 540.8 L375.3 542.6 L375.1 544.3 L374.8 546.0 L374.6 547.7 L374.3 549.6 L374.1 551.4 L373.8 553.0 L373.6 554.4 L373.3 555.8 L373.1 557.3 L372.8 558.7 L372.6 559.9 L372.3 561.2 L372.1 562.4 L371.8 564.1 L371.6 565.7 L371.3 567.3 L371.1 568.8 L370.8 570.3 L370.6 571.6 L370.3 573.0 L370.1 576.8 L369.8 581.6 L369.6 586.5 L369.3 591.3 L369.1 592.4 L368.8 591.9 L368.6 591.3 L368.3 590.7 L368.1 590.0 L367.8 589.1 L367.6 588.2 L367.3 590.1 L367.1 592.3 L366.8 593.9 L366.6 594.0 L366.3 593.8 L366.1 593.4 L365.8 592.9 L365.6 592.2 L365.3 591.4 L365.1 590.8 L364.8 590.1 L364.6 589.3 L364.3 588.4 L364.1 587.7 L363.8 587.0 L363.6 586.4 L363.3 585.7 L363.1 584.9 L362.8 584.2 L362.6 583.6 L362.3 583.8 L362.1 584.6 L361.8 585.5 L361.6 586.2 L361.3 584.9 L361.1 581.5 L360.8 578.0 L360.6 574.5 L360.3 571.0 L360.1 567.6 L359.8 564.2 L359.6 562.4 L359.3 561.2 L359.1 560.1 L358.8 559.2 L358.6 559.3 L358.3 559.8 L358.1 560.4 L357.8 561.1 L357.6 561.8 L357.3 562.6 L357.1 563.0 L356.8 563.5 L356.6 564.1 L356.3 564.7 L356.1 565.3 L355.8 566.0 L355.6 565.9 L355.3 565.7 L355.1 565.5 L354.8 565.3 L354.6 568.4 L354.3 573.0 L354.1 577.6 L353.8 582.1 L353.6 586.6 L353.3 588.7 L353.1 585.5 L352.8 582.4 L352.6 579.3 L352.3 576.2 L352.1 573.4 L351.8 574.1 L351.6 574.7 L351.3 575.4 L351.1 576.0 L350.8 576.5 L350.6 576.9 L350.3 577.1 L350.1 577.3 L349.8 579.0 L349.6 581.1 L349.3 582.9 L349.1 584.4 L348.8 585.6 L348.6 585.3 L348.3 582.2 L348.1 578.9 L347.8 575.6 L347.6 572.2 L347.3 568.8 L347.1 565.4 L346.8 562.1 L346.6 560.3 L346.3 559.5 L346.1 558.9 L345.8 557.8 L345.6 555.9 L345.3 554.0 L345.1 552.0 L344.8 550.0 L344.6 548.0 L344.3 546.0 L344.1 544.1 L343.8 543.4 L343.6 543.1 L343.3 543.0 L343.1 542.6 L342.8 540.8 L342.6 539.2 L342.3 537.8 L342.1 537.0 L341.8 537.3 L341.6 537.7 L341.3 538.4 L341.1 539.3 L340.8 540.4 L340.6 541.6 L340.3 542.5 L340.1 543.4 L339.8 544.5 L339.6 545.6 L339.3 546.8 L339.1 547.9 L338.8 549.1 L338.6 550.3 L338.3 551.5 L338.1 552.6 L337.8 553.6 L337.6 554.6 L337.3 556.0 L337.1 557.3 L336.8 558.7 L336.6 561.5 L336.3 564.8 L336.1 568.1 L335.8 571.3 L335.6 574.3 L335.3 573.5 L335.1 572.7 L334.8 571.8 L334.6 571.0 L334.3 570.1 L334.1 569.3 L333.8 568.4 L333.6 569.0 L333.3 573.2 L333.1 577.3 L332.8 577.8 L332.6 577.2 L332.3 576.6 L332.1 575.9 L331.8 575.2 L331.6 574.5 L331.3 573.8 L331.1 573.0 L330.8 574.8 L330.6 577.0 L330.3 579.2 L330.1 581.4 L329.8 581.5 L329.6 580.4 L329.3 579.2 L329.1 578.1 L328.8 578.0 L328.6 578.1 L328.3 578.3 L328.1 578.4 L327.8 578.6 L327.6 578.8 L327.3 579.2 L327.1 579.5 L326.8 579.8 L326.6 580.2 L326.3 580.8 L326.1 581.7 L325.8 582.6 L325.6 583.6 L325.3 584.5 L325.1 585.3 L324.8 585.9 L324.6 586.7 L324.3 587.5 L324.1 588.5 L323.8 589.5 L323.6 590.7 L323.3 592.4 L323.1 594.6 L322.8 596.9 L322.6 599.2 L322.3 599.5 L322.1 599.1 L321.8 598.7 L321.6 598.4 L321.3 598.0 L321.1 599.1 L320.8 600.4 L320.6 601.7 L320.3 603.0 L320.1 604.2 L319.8 605.3 L319.6 606.4 L319.3 607.6 L319.1 609.4 L318.8 611.1 L318.6 612.8 L318.3 613.7 L318.1 614.2 L317.8 614.5 L317.6 614.6 L317.3 614.2 L317.1 613.3 L316.8 612.4 L316.6 611.2 L316.3 610.0 L316.1 608.6 L315.8 607.2 L315.6 605.7 L315.3 604.7 L315.1 603.6 L314.8 602.5 L314.6 601.3 L314.3 600.0 L314.1 598.5 L313.8 596.8 L313.6 595.2 L313.3 593.5 L313.1 591.9 L312.8 590.5 L312.6 589.3 L312.3 588.1 L312.1 587.0 L311.8 585.9 L311.6 584.8 L311.3 583.6 L311.1 582.4 L310.8 581.4 L310.6 580.4 L310.3 579.4 L310.1 578.5 L309.8 577.5 L309.6 576.5 L309.3 575.5 L309.1 574.4 L308.8 573.7 L308.6 573.3 L308.3 572.8 L308.1 572.9 L307.8 573.0 L307.6 573.1 L307.3 573.3 L307.1 573.6 L306.8 573.9 L306.6 574.3 L306.3 574.7 L306.1 572.4 L305.8 570.3 L305.6 568.2 L305.3 566.2 L305.1 566.4 L304.8 571.3 L304.6 576.4 L304.3 581.1 L304.1 580.3 L303.8 579.5 L303.6 578.9 L303.3 578.2 L303.1 577.5 L302.8 576.8 L302.6 576.0 L302.3 575.9 L302.1 576.0 L301.8 576.0 L301.6 576.4 L301.3 576.8 L301.1 577.1 L300.8 577.5 L300.6 577.8 L300.3 578.1 L300.1 578.4 L299.8 579.2 L299.6 580.9 L299.3 582.7 L299.1 584.4 L298.8 586.1 L298.6 586.2 L298.3 584.7 L298.1 583.2 L297.8 581.7 L297.6 581.3 L297.3 581.7 L297.1 582.0 L296.8 582.4 L296.6 582.8 L296.3 583.2 L296.1 583.3 L295.8 583.1 L295.6 583.0 L295.3 582.8 L295.1 582.6 L294.8 583.1 L294.6 584.0 L294.3 584.8 L294.1 585.7 L293.8 586.5 L293.6 586.9 L293.3 586.7 L293.1 586.5 L292.8 586.3 L292.6 586.1 L292.3 587.2 L292.1 589.0 L291.8 590.7 L291.6 592.4 L291.3 594.2 L291.1 594.3 L290.8 593.4 L290.6 592.5 L290.3 591.6 L290.1 590.7 L289.8 589.8 L289.6 589.7 L289.3 591.6 L289.1 593.4 L288.8 595.3 L288.6 596.3 L288.3 596.5 L288.1 596.8 L287.8 597.2 L287.6 597.6 L287.3 598.1 L287.1 598.6 L286.8 599.2 L286.6 600.2 L286.3 601.3 L286.1 602.3 L285.8 603.3 L285.6 604.2 L285.3 604.0 L285.1 603.8 L284.8 604.1 L284.6 606.3 L284.3 608.5 L284.1 610.8 L283.8 613.2 L283.6 615.5 L283.3 617.9 L283.1 620.2 L282.8 619.0 L282.6 616.7 L282.3 614.4 L282.1 615.8 L281.8 617.8 L281.6 619.8 L281.3 621.7 L281.1 623.5 L280.8 624.8 L280.6 624.8 L280.3 624.6 L280.1 624.3 L279.8 623.9 L279.6 623.4 L279.3 622.8 L279.1 622.0 L278.8 622.6 L278.6 623.4 L278.3 624.0 L278.1 624.5 L277.8 625.0 L277.6 623.5 L277.3 621.0 L277.1 618.5 L276.8 615.9 L276.6 613.3 L276.3 612.5 L276.1 611.9 L275.8 611.3 L275.6 610.6 L275.3 609.7 L275.1 608.8 L274.8 607.9 L274.6 607.1 L274.3 607.4 L274.1 608.3 L273.8 609.1 L273.6 609.9 L273.3 610.7 L273.1 611.4 L272.8 612.2 L272.6 612.9 L272.3 609.4 L272.1 605.6 L271.8 601.8 L271.6 601.1 L271.3 601.2 L271.1 601.3 L270.8 601.4 L270.6 601.5 L270.3 601.6 L270.1 599.5 L269.8 596.9 L269.6 594.3 L269.3 591.8 L269.1 589.3 L268.8 586.8 L268.6 585.3 L268.3 584.4 L268.1 583.5 L267.8 582.6 L267.6 581.8 L267.3 581.0 L267.1 580.3 L266.8 579.6 L266.6 579.0 L266.3 578.5 L266.1 580.0 L265.8 584.4 L265.6 588.8 L265.3 593.4 L265.1 598.1 L264.8 596.7 L264.6 593.0 L264.3 589.4 L264.1 585.8 L263.8 582.4 L263.6 579.9 L263.3 581.2 L263.1 582.5 L262.8 583.8 L262.6 585.1 L262.3 586.2 L262.1 586.4 L261.8 586.6 L261.6 586.7 L261.3 586.8 L261.1 586.9 L260.8 587.4 L260.6 588.1 L260.3 588.8 L260.1 589.5 L259.8 590.2 L259.6 590.9 L259.3 591.7 L259.1 592.4 L258.8 593.2 L258.6 593.8 L258.3 594.4 L258.1 595.0 L257.8 595.6 L257.6 596.2 L257.3 597.2 L257.1 598.5 L256.8 599.8 L256.6 601.1 L256.3 602.5 L256.1 604.4 L255.8 606.5 L255.6 608.7 L255.3 610.8 L255.1 613.0 L254.8 615.1 L254.6 614.5 L254.3 613.6 L254.1 612.7 L253.8 611.8 L253.6 611.6 L253.3 612.7 L253.1 613.7 L252.8 614.6 L252.6 615.4 L252.3 615.8 L252.1 614.4 L251.8 612.6 L251.6 610.5 L251.3 608.1 L251.1 605.6 L250.8 602.9 L250.6 600.7 L250.3 599.2 L250.1 597.8 L249.8 596.4 L249.6 595.3 L249.3 594.4 L249.1 593.7 L248.8 593.4 L248.6 593.4 L248.3 593.6 L248.1 594.3 L247.8 595.2 L247.6 596.3 L247.3 597.4 L247.1 598.6 L246.8 599.9 L246.6 601.2 L246.3 602.4 L246.1 603.7 L245.8 604.9 L245.6 608.2 L245.3 611.6 L245.1 615.1 L244.8 618.6 L244.6 620.3 L244.3 620.5 L244.1 620.7 L243.8 620.9 L243.6 621.1 L243.3 621.3 L243.1 621.5 L242.8 621.8 L242.6 622.6 L242.3 623.4 L242.1 624.1 L241.8 625.1 L241.6 626.1 L241.3 627.1 L241.1 628.2 L240.8 629.2 L240.6 630.2 L240.3 633.6 L240.1 637.0 L239.8 640.3 L239.6 643.7 L239.3 647.0 L239.1 650.3 L238.8 653.5 L238.6 651.4 L238.3 648.0 L238.1 644.6 L237.8 641.1 L237.6 638.6 L237.3 639.7 L237.1 640.7 L236.8 641.4 L236.6 641.0 L236.3 640.4 L236.1 639.6 L235.8 638.6 L235.6 637.4 L235.3 636.1 L235.1 634.6 L234.8 633.8 L234.6 633.0 L234.3 632.1 L234.1 630.6 L233.8 628.9 L233.6 627.1 L233.3 625.4 L233.1 623.7 L232.8 622.1 L232.6 620.7 L232.3 619.6 L232.1 618.6 L231.8 617.7 L231.6 617.0 L231.3 616.3 L231.1 615.6 L230.8 614.5 L230.6 613.4 L230.3 612.3 L230.1 611.2 L229.8 610.1 L229.6 612.0 L229.3 615.7 L229.1 619.4 L228.8 623.1 L228.6 626.9 L228.3 624.3 L228.1 616.1 L227.8 608.0 L227.6 608.2 L227.3 611.4 L227.1 614.9 L226.8 619.1 L226.6 623.9 L226.3 628.3 L226.1 627.5 L225.8 626.7 L225.6 626.0 L225.3 625.0 L225.1 623.8 L224.8 623.1 L224.6 626.2 L224.3 628.6 L224.1 630.5 L223.8 632.0 L223.6 633.2 L223.3 634.2 L223.1 632.2 L222.8 626.0 L222.6 619.8 L222.3 613.9 L222.1 612.6 L221.8 613.3 L221.6 614.4 L221.3 616.0 L221.1 618.1 L220.8 620.6 L220.6 621.0 L220.3 621.4 L220.1 622.0 L219.8 622.7 L219.6 623.4 L219.3 624.4 L219.1 628.2 L218.8 631.7 L218.6 635.0 L218.3 637.9 L218.1 639.3 L217.8 637.1 L217.6 634.5 L217.3 631.6 L217.1 628.2 L216.8 626.8 L216.6 631.4 L216.3 635.7 L216.1 640.0 L215.8 642.0 L215.6 635.6 L215.3 629.3 L215.1 623.1 L214.8 617.1 L214.6 611.6 L214.3 610.3 L214.1 609.4 L213.8 608.9 L213.6 608.8 L213.3 608.7 L213.1 608.7 L212.8 608.4 L212.6 607.9 L212.3 607.4 L212.1 606.9 L211.8 606.4 L211.6 606.3 L211.3 606.7 L211.1 607.2 L210.8 607.6 L210.6 608.0 L210.3 608.2 L210.1 608.4 L209.8 608.6 L209.6 608.8 L209.3 608.8 L209.1 608.8 L208.8 608.8 L208.6 608.8 L208.3 608.8 L208.1 608.8 L207.8 608.8 L207.6 608.9 L207.3 609.0 L207.1 609.1 L206.8 609.2 L206.6 609.3 L206.3 611.8 L206.1 617.6 L205.8 623.3 L205.6 629.1 L205.3 625.8 L205.1 622.2 L204.8 618.6 L204.6 615.0 L204.3 611.4 L204.1 608.8 L203.8 609.8 L203.6 611.0 L203.3 612.2 L203.1 613.5 L202.8 614.8 L202.6 616.2 L202.3 617.0 L202.1 617.5 L201.8 618.1 L201.6 618.7 L201.3 619.5 L201.1 620.4 L200.8 621.4Z" stroke="none" stroke-width="0" fill="#5FC6F8" fill-opacity="0.36"/>
<path d="M200.8 613.7 L201.1 611.9 L201.3 610.8 L201.6 609.6 L201.8 610.9 L202.1 609.0 L202.3 606.6 L202.6 606.7 L202.8 607.0 L203.1 605.9 L203.3 604.4 L203.6 604.7 L203.8 605.2 L204.1 605.2 L204.3 606.8 L204.6 606.0 L204.8 604.6 L205.1 603.0 L205.3 600.9 L205.6 600.6 L205.8 601.8 L206.1 600.8 L206.3 602.9 L206.6 602.8 L206.8 600.2 L207.1 599.7 L207.3 601.1 L207.6 601.1 L207.8 602.0 L208.1 601.3 L208.3 601.8 L208.6 601.2 L208.8 601.2 L209.1 602.0 L209.3 601.1 L209.6 602.0 L209.8 600.8 L210.1 599.9 L210.3 599.3 L210.6 599.6 L210.8 600.7 L211.1 600.8 L211.3 599.1 L211.6 599.9 L211.8 602.0 L212.1 602.9 L212.3 603.8 L212.6 604.7 L212.8 603.8 L213.1 603.7 L213.3 603.7 L213.6 603.5 L213.8 603.3 L214.1 603.9 L214.3 603.6 L214.6 604.2 L214.8 605.2 L215.1 605.2 L215.3 606.7 L215.6 609.8 L215.8 611.7 L216.1 613.5 L216.3 614.3 L216.6 616.0 L216.8 618.3 L217.1 619.6 L217.3 621.4 L217.6 622.1 L217.8 622.8 L218.1 624.1 L218.3 622.6 L218.6 622.8 L218.8 623.7 L219.1 622.6 L219.3 619.3 L219.6 617.0 L219.8 616.7 L220.1 614.7 L220.3 609.9 L220.6 608.6 L220.8 609.1 L221.1 608.1 L221.3 606.0 L221.6 603.8 L221.8 605.1 L222.1 605.6 L222.3 605.1 L222.6 606.9 L222.8 607.5 L223.1 609.6 L223.3 612.1 L223.6 614.3 L223.8 615.4 L224.1 616.4 L224.3 617.5 L224.6 618.2 L224.8 615.2 L225.1 614.7 L225.3 614.6 L225.6 612.0 L225.8 609.9 L226.1 607.3 L226.3 603.6 L226.6 602.3 L226.8 601.9 L227.1 601.3 L227.3 601.7 L227.6 602.1 L227.8 601.0 L228.1 600.9 L228.3 601.7 L228.6 603.5 L228.8 606.3 L229.1 606.4 L229.3 605.1 L229.6 605.9 L229.8 605.5 L230.1 605.9 L230.3 604.7 L230.6 604.7 L230.8 606.1 L231.1 606.2 L231.3 606.0 L231.6 607.5 L231.8 608.8 L232.1 609.0 L232.3 610.3 L232.6 611.8 L232.8 612.5 L233.1 614.2 L233.3 615.3 L233.6 616.5 L233.8 617.0 L234.1 619.3 L234.3 620.9 L234.6 622.3 L234.8 624.1 L235.1 626.2 L235.3 627.5 L235.6 627.7 L235.8 629.0 L236.1 629.8 L236.3 631.7 L236.6 632.5 L236.8 633.0 L237.1 632.7 L237.3 630.8 L237.6 630.7 L237.8 631.1 L238.1 630.5 L238.3 629.9 L238.6 630.9 L238.8 628.7 L239.1 627.8 L239.3 627.3 L239.6 625.5 L239.8 625.0 L240.1 624.8 L240.3 623.3 L240.6 622.3 L240.8 621.9 L241.1 619.7 L241.3 618.1 L241.6 616.3 L241.8 615.0 L242.1 614.4 L242.3 613.2 L242.6 611.4 L242.8 611.7 L243.1 611.5 L243.3 610.8 L243.6 609.1 L243.8 608.4 L244.1 606.5 L244.3 605.7 L244.6 604.7 L244.8 601.2 L245.1 599.4 L245.3 597.5 L245.6 595.8 L245.8 596.0 L246.1 594.4 L246.3 589.8 L246.6 589.4 L246.8 590.0 L247.1 589.0 L247.3 588.8 L247.6 587.4 L247.8 588.0 L248.1 586.3 L248.3 583.9 L248.6 584.2 L248.8 584.2 L249.1 583.5 L249.3 581.8 L249.6 583.3 L249.8 584.9 L250.1 587.0 L250.3 589.4 L250.6 591.0 L250.8 592.3 L251.1 594.5 L251.3 595.9 L251.6 596.6 L251.8 599.4 L252.1 599.9 L252.3 598.2 L252.6 598.7 L252.8 598.6 L253.1 599.1 L253.3 598.7 L253.6 597.9 L253.8 597.7 L254.1 597.4 L254.3 596.0 L254.6 595.1 L254.8 594.3 L255.1 593.1 L255.3 592.0 L255.6 592.9 L255.8 593.7 L256.1 593.0 L256.3 590.3 L256.6 589.3 L256.8 589.0 L257.1 589.5 L257.3 589.1 L257.6 589.4 L257.8 590.3 L258.1 588.8 L258.3 585.7 L258.6 584.6 L258.8 582.9 L259.1 583.0 L259.3 583.7 L259.6 583.3 L259.8 580.8 L260.1 580.4 L260.3 578.4 L260.6 579.4 L260.8 578.5 L261.1 577.8 L261.3 578.2 L261.6 577.1 L261.8 575.3 L262.1 574.3 L262.3 576.0 L262.6 574.6 L262.8 573.2 L263.1 572.6 L263.3 572.5 L263.6 570.8 L263.8 568.3 L264.1 567.6 L264.3 566.1 L264.6 566.5 L264.8 567.1 L265.1 567.0 L265.3 566.4 L265.6 567.0 L265.8 565.8 L266.1 565.6 L266.3 567.8 L266.6 570.0 L266.8 568.9 L267.1 569.0 L267.3 571.0 L267.6 572.1 L267.8 571.5 L268.1 573.1 L268.3 573.9 L268.6 574.3 L268.8 574.8 L269.1 576.5 L269.3 575.4 L269.6 577.8 L269.8 578.1 L270.1 579.1 L270.3 579.9 L270.6 579.9 L270.8 580.4 L271.1 582.0 L271.3 582.6 L271.6 582.0 L271.8 582.0 L272.1 583.7 L272.3 586.1 L272.6 587.4 L272.8 588.6 L273.1 590.3 L273.3 589.6 L273.6 590.6 L273.8 590.2 L274.1 591.8 L274.3 593.8 L274.6 593.7 L274.8 595.4 L275.1 596.6 L275.3 596.0 L275.6 596.2 L275.8 596.8 L276.1 597.8 L276.3 598.2 L276.6 598.2 L276.8 598.6 L277.1 599.9 L277.3 600.1 L277.6 600.6 L277.8 604.0 L278.1 606.2 L278.3 606.4 L278.6 606.8 L278.8 605.9 L279.1 606.7 L279.3 607.5 L279.6 607.8 L279.8 606.5 L280.1 606.7 L280.3 607.1 L280.6 606.6 L280.8 607.9 L281.1 606.3 L281.3 605.3 L281.6 604.5 L281.8 603.9 L282.1 604.3 L282.3 603.9 L282.6 602.7 L282.8 602.3 L283.1 602.2 L283.3 600.8 L283.6 599.7 L283.8 600.1 L284.1 600.1 L284.3 599.4 L284.6 597.2 L284.8 595.7 L285.1 594.4 L285.3 593.6 L285.6 592.2 L285.8 591.8 L286.1 590.3 L286.3 590.0 L286.6 588.4 L286.8 589.2 L287.1 588.2 L287.3 586.6 L287.6 586.8 L287.8 588.4 L288.1 587.9 L288.3 584.3 L288.6 582.8 L288.8 580.7 L289.1 581.3 L289.3 582.0 L289.6 582.1 L289.8 579.2 L290.1 580.6 L290.3 581.3 L290.6 581.4 L290.8 580.2 L291.1 579.4 L291.3 578.2 L291.6 578.5 L291.8 578.0 L292.1 577.6 L292.3 578.8 L292.6 577.2 L292.8 577.5 L293.1 576.2 L293.3 576.7 L293.6 576.3 L293.8 574.8 L294.1 574.2 L294.3 574.8 L294.6 574.4 L294.8 574.6 L295.1 574.3 L295.3 571.4 L295.6 571.0 L295.8 571.5 L296.1 571.2 L296.3 572.7 L296.6 572.9 L296.8 573.2 L297.1 572.2 L297.3 571.2 L297.6 571.9 L297.8 572.6 L298.1 573.0 L298.3 574.2 L298.6 572.7 L298.8 572.9 L299.1 572.8 L299.3 573.6 L299.6 572.3 L299.8 571.4 L300.1 570.9 L300.3 571.4 L300.6 571.8 L300.8 570.8 L301.1 569.6 L301.3 569.1 L301.6 568.7 L301.8 569.3 L302.1 570.2 L302.3 566.3 L302.6 565.5 L302.8 564.3 L303.1 563.7 L303.3 561.8 L303.6 560.7 L303.8 560.9 L304.1 560.2 L304.3 558.1 L304.6 557.3 L304.8 556.3 L305.1 557.3 L305.3 557.1 L305.6 557.6 L305.8 558.7 L306.1 557.9 L306.3 560.5 L306.6 561.8 L306.8 562.7 L307.1 563.8 L307.3 563.7 L307.6 564.0 L307.8 564.7 L308.1 564.6 L308.3 566.1 L308.6 567.0 L308.8 567.0 L309.1 569.0 L309.3 569.3 L309.6 569.3 L309.8 571.8 L310.1 573.2 L310.3 572.8 L310.6 573.5 L310.8 575.0 L311.1 575.5 L311.3 578.8 L311.6 580.4 L311.8 578.8 L312.1 580.2 L312.3 582.6 L312.6 583.3 L312.8 583.8 L313.1 585.1 L313.3 586.6 L313.6 587.2 L313.8 587.4 L314.1 588.7 L314.3 589.4 L314.6 590.0 L314.8 591.3 L315.1 591.7 L315.3 592.3 L315.6 593.0 L315.8 595.2 L316.1 595.7 L316.3 597.0 L316.6 597.8 L316.8 598.7 L317.1 599.0 L317.3 600.9 L317.6 601.8 L317.8 600.9 L318.1 599.4 L318.3 599.4 L318.6 599.8 L318.8 599.7 L319.1 599.2 L319.3 598.5 L319.6 598.4 L319.8 597.7 L320.1 597.3 L320.3 595.6 L320.6 594.1 L320.8 593.1 L321.1 591.5 L321.3 589.6 L321.6 588.9 L321.8 589.6 L322.1 587.8 L322.3 585.5 L322.6 585.2 L322.8 584.2 L323.1 583.3 L323.3 580.7 L323.6 580.3 L323.8 578.2 L324.1 578.1 L324.3 579.7 L324.6 577.4 L324.8 576.1 L325.1 575.4 L325.3 573.3 L325.6 572.9 L325.8 573.1 L326.1 572.6 L326.3 573.3 L326.6 573.1 L326.8 573.3 L327.1 574.5 L327.3 575.3 L327.6 574.1 L327.8 572.9 L328.1 572.8 L328.3 571.2 L328.6 571.0 L328.8 569.6 L329.1 567.8 L329.3 567.7 L329.6 568.0 L329.8 568.3 L330.1 568.0 L330.3 566.9 L330.6 566.8 L330.8 567.7 L331.1 567.9 L331.3 569.2 L331.6 569.2 L331.8 567.7 L332.1 567.1 L332.3 564.4 L332.6 564.3 L332.8 565.4 L333.1 565.5 L333.3 565.3 L333.6 565.5 L333.8 563.1 L334.1 562.4 L334.3 561.3 L334.6 560.2 L334.8 558.3 L335.1 557.0 L335.3 555.3 L335.6 554.4 L335.8 551.5 L336.1 550.9 L336.3 549.9 L336.6 549.0 L336.8 547.9 L337.1 545.8 L337.3 547.4 L337.6 547.2 L337.8 546.3 L338.1 546.7 L338.3 545.7 L338.6 542.8 L338.8 542.7 L339.1 541.1 L339.3 539.3 L339.6 537.5 L339.8 536.3 L340.1 535.3 L340.3 532.5 L340.6 531.9 L340.8 531.2 L341.1 530.6 L341.3 533.1 L341.6 533.8 L341.8 532.5 L342.1 532.7 L342.3 531.7 L342.6 531.8 L342.8 535.7 L343.1 536.6 L343.3 538.1 L343.6 539.6 L343.8 540.0 L344.1 540.1 L344.3 541.7 L344.6 543.2 L344.8 546.1 L345.1 546.7 L345.3 546.5 L345.6 548.6 L345.8 550.2 L346.1 551.3 L346.3 552.4 L346.6 553.4 L346.8 554.6 L347.1 555.8 L347.3 556.8 L347.6 558.7 L347.8 561.8 L348.1 562.7 L348.3 564.0 L348.6 566.1 L348.8 566.8 L349.1 567.9 L349.3 570.1 L349.6 569.9 L349.8 566.9 L350.1 567.3 L350.3 568.5 L350.6 569.0 L350.8 565.7 L351.1 566.0 L351.3 565.7 L351.6 565.4 L351.8 565.7 L352.1 565.1 L352.3 564.4 L352.6 564.4 L352.8 562.9 L353.1 562.6 L353.3 563.2 L353.6 562.6 L353.8 562.5 L354.1 562.6 L354.3 561.2 L354.6 559.7 L354.8 558.2 L355.1 557.0 L355.3 557.2 L355.6 557.0 L355.8 556.8 L356.1 556.1 L356.3 553.8 L356.6 553.9 L356.8 554.9 L357.1 554.0 L357.3 553.3 L357.6 553.5 L357.8 553.4 L358.1 552.4 L358.3 550.9 L358.6 551.8 L358.8 552.5 L359.1 554.2 L359.3 556.4 L359.6 557.4 L359.8 555.4 L360.1 557.9 L360.3 559.8 L360.6 561.8 L360.8 563.6 L361.1 564.3 L361.3 564.0 L361.6 564.7 L361.8 566.8 L362.1 568.3 L362.3 568.2 L362.6 568.8 L362.8 571.2 L363.1 573.5 L363.3 573.7 L363.6 574.7 L363.8 575.8 L364.1 576.2 L364.3 578.5 L364.6 580.4 L364.8 580.4 L365.1 579.8 L365.3 580.7 L365.6 579.8 L365.8 580.0 L366.1 580.7 L366.3 580.5 L366.6 581.7 L366.8 582.1 L367.1 582.1 L367.3 580.6 L367.6 579.8 L367.8 579.0 L368.1 578.5 L368.3 577.4 L368.6 574.5 L368.8 572.2 L369.1 570.1 L369.3 570.3 L369.6 569.1 L369.8 568.2 L370.1 566.7 L370.3 566.4 L370.6 565.1 L370.8 564.5 L371.1 564.2 L371.3 561.8 L371.6 560.6 L371.8 560.3 L372.1 560.6 L372.3 557.6 L372.6 554.8 L372.8 552.1 L373.1 550.0 L373.3 548.1 L373.6 546.3 L373.8 545.2 L374.1 543.3 L374.3 540.7 L374.6 538.0 L374.8 537.3 L375.1 536.0 L375.3 533.5 L375.6 532.4 L375.8 531.0 L376.1 529.8 L376.3 528.7 L376.6 527.3 L376.8 523.1 L377.1 521.9 L377.3 521.4 L377.6 520.4 L377.8 522.0 L378.1 521.0 L378.3 516.6 L378.6 515.9 L378.8 517.6 L379.1 517.7 L379.3 517.5 L379.6 516.6 L379.8 517.0 L380.1 517.0 L380.3 515.4 L380.6 515.6 L380.8 517.3 L381.1 516.9 L381.3 517.1 L381.6 517.7 L381.8 521.3 L382.1 522.4 L382.3 522.1 L382.6 522.0 L382.8 524.5 L383.1 526.5 L383.3 526.2 L383.6 527.4 L383.8 528.6 L384.1 532.0 L384.3 533.0 L384.6 534.5 L384.8 537.5 L385.1 539.1 L385.3 540.4 L385.6 543.3 L385.8 545.6 L386.1 547.8 L386.3 550.8 L386.6 553.5 L386.8 555.8 L387.1 558.2 L387.3 561.5 L387.6 563.3 L387.8 564.9 L388.1 566.6 L388.3 568.3 L388.6 571.5 L388.8 573.8 L389.1 575.9 L389.3 579.6 L389.6 581.1 L389.8 580.7 L390.1 580.9 L390.3 580.1 L390.6 579.9 L390.8 578.6 L391.1 577.8 L391.3 576.2 L391.6 571.8 L391.8 566.9 L392.1 562.0 L392.3 561.0 L392.6 557.4 L392.8 553.4 L393.1 549.3 L393.3 546.3 L393.6 544.8 L393.8 543.7 L394.1 542.5 L394.3 539.7 L394.6 539.0 L394.8 539.2 L395.1 538.8 L395.3 537.3 L395.6 535.3 L395.8 534.9 L396.1 534.0 L396.3 531.5 L396.6 530.6 L396.8 531.9 L397.1 530.1 L397.3 529.1 L397.6 528.4 L397.8 524.8 L398.1 521.6 L398.3 519.7 L398.6 515.4 L398.8 513.6 L399.1 510.1 L399.3 506.4 L399.6 501.9 L399.8 498.3 L400.1 496.5 L400.3 495.7 L400.6 495.3 L400.8 494.0 L401.1 494.4 L401.3 493.3 L401.6 494.4 L401.8 493.0 L402.1 494.4 L402.3 498.9 L402.6 499.5 L402.8 499.6 L403.1 499.8 L403.3 502.2 L403.6 503.0 L403.8 506.6 L404.1 506.9 L404.3 506.2 L404.6 507.9 L404.8 510.1 L405.1 511.1 L405.3 514.5 L405.6 516.3 L405.8 517.5 L406.1 519.5 L406.3 522.6 L406.6 524.8 L406.8 527.9 L407.1 530.7 L407.3 534.1 L407.6 536.6 L407.8 539.3 L408.1 542.2 L408.3 546.1 L408.6 549.6 L408.8 550.7 L409.1 553.6 L409.3 557.4 L409.6 557.9 L409.8 560.0 L410.1 561.4 L410.3 561.7 L410.6 562.1 L410.8 561.2 L411.1 560.9 L411.3 559.6 L411.6 557.1 L411.8 555.9 L412.1 553.1 L412.3 551.2 L412.6 548.2 L412.8 545.4 L413.1 541.8 L413.3 539.6 L413.6 536.7 L413.8 533.2 L414.1 531.5 L414.3 530.4 L414.6 527.0 L414.8 526.0 L415.1 524.1 L415.3 520.6 L415.6 518.6 L415.8 517.6 L416.1 515.8 L416.3 513.3 L416.6 512.3 L416.8 512.4 L417.1 510.4 L417.3 509.4 L417.6 507.8 L417.8 505.4 L418.1 502.8 L418.3 500.5 L418.6 498.6 L418.8 497.4 L419.1 495.8 L419.3 495.9 L419.6 492.9 L419.8 490.8 L420.1 489.6 L420.3 488.7 L420.6 487.9 L420.8 487.0 L421.1 487.1 L421.3 486.5 L421.6 485.6 L421.8 484.6 L422.1 486.8 L422.3 488.0 L422.6 489.5 L422.8 493.1 L423.1 495.2 L423.3 499.2 L423.6 500.0 L423.8 500.4 L424.1 501.5 L424.3 505.2 L424.6 508.2 L424.8 512.2 L425.1 514.8 L425.3 518.8 L425.6 520.1 L425.8 520.3 L426.1 522.5 L426.3 524.8 L426.6 527.9 L426.8 530.1 L427.1 532.4 L427.3 533.5 L427.6 536.0 L427.8 538.9 L428.1 540.3 L428.3 543.5 L428.6 546.3 L428.8 546.8 L429.1 549.3 L429.3 552.6 L429.6 555.0 L429.8 560.0 L430.1 561.2 L430.3 559.6 L430.6 562.1 L430.8 564.6 L431.1 566.8 L431.3 566.8 L431.6 568.0 L431.8 569.7 L432.1 570.7 L432.3 570.4 L432.6 570.4 L432.8 569.2 L433.1 566.3 L433.3 565.6 L433.6 562.9 L433.8 559.7 L434.1 555.1 L434.3 551.8 L434.6 547.7 L434.8 542.0 L435.1 538.7 L435.3 537.6 L435.6 534.7 L435.8 530.7 L436.1 527.5 L436.3 525.4 L436.6 521.7 L436.8 518.9 L437.1 516.3 L437.3 514.0 L437.6 513.1 L437.8 513.4 L438.1 512.0 L438.3 508.3 L438.6 506.8 L438.8 505.1 L439.1 504.0 L439.3 502.9 L439.6 502.1 L439.8 503.6 L440.1 503.1 L440.3 502.9 L440.6 503.0 L440.8 501.3 L441.1 500.6 L441.3 502.2 L441.6 501.6 L441.8 501.1 L442.1 501.1 L442.3 501.3 L442.6 500.9 L442.8 499.8 L443.1 500.8 L443.3 504.0 L443.6 506.2 L443.8 504.2 L444.1 506.5 L444.3 509.1 L444.6 511.2 L444.8 517.3 L445.1 519.3 L445.3 521.5 L445.6 524.3 L445.8 527.7 L446.1 530.0 L446.3 535.0 L446.6 536.8 L446.8 537.3 L447.1 539.4 L447.3 539.8 L447.6 542.1 L447.8 546.9 L448.1 549.3 L448.3 550.1 L448.6 553.2 L448.8 555.6 L449.1 558.7 L449.3 563.1 L449.6 566.2 L449.8 569.1 L450.1 572.7 L450.3 574.2 L450.6 575.8 L450.8 579.0 L451.1 580.7 L451.3 582.7 L451.6 584.9 L451.8 586.6 L452.1 588.8 L452.3 590.9 L452.6 592.7 L452.8 592.4 L453.1 593.2 L453.3 594.4 L453.6 594.8 L453.8 594.7 L454.1 594.0 L454.3 593.9 L454.6 594.0 L454.8 595.1 L455.1 594.0 L455.3 592.4 L455.6 592.1 L455.8 590.2 L456.1 590.4 L456.3 589.4 L456.6 588.1 L456.8 588.3 L457.1 587.1 L457.3 585.8 L457.6 583.9 L457.8 582.2 L458.1 580.8 L458.3 580.3 L458.6 578.7 L458.8 575.3 L459.1 573.5 L459.3 573.6 L459.6 572.4 L459.8 573.9 L460.1 573.8 L460.3 572.0 L460.6 571.3 L460.8 568.5 L461.1 568.4 L461.3 568.9 L461.6 568.0 L461.8 567.0 L462.1 566.4 L462.3 568.2 L462.6 568.6 L462.8 567.7 L463.1 567.2 L463.3 567.7 L463.6 567.7 L463.8 565.7 L464.1 565.9 L464.3 565.4 L464.6 564.3 L464.8 565.4 L465.1 565.9 L465.3 565.0 L465.6 564.6 L465.8 564.4 L466.1 564.3 L466.3 565.3 L466.6 565.2 L466.8 563.8 L467.1 564.5 L467.3 564.2 L467.6 564.7 L467.8 564.9 L468.1 563.9 L468.3 563.6 L468.6 562.4 L468.8 561.1 L469.1 560.0 L469.3 559.1 L469.6 559.0 L469.8 558.2 L470.1 557.8 L470.3 559.5 L470.6 558.4 L470.8 556.4 L471.1 555.8 L471.3 554.1 L471.6 552.2 L471.8 550.6 L472.1 550.3 L472.3 549.9 L472.6 548.6 L472.8 544.9 L473.1 543.2 L473.3 543.5 L473.6 541.7 L473.8 540.3 L474.1 538.9 L474.3 534.5 L474.6 531.2 L474.8 529.0 L475.1 527.9 L475.3 527.0 L475.6 526.5 L475.8 524.7 L476.1 525.0 L476.3 528.3 L476.6 528.2 L476.8 525.3 L477.1 526.4 L477.3 527.4 L477.6 527.3 L477.8 526.7 L478.1 528.6 L478.3 527.9 L478.6 528.4 L478.8 529.7 L479.1 531.0 L479.3 530.1 L479.6 530.0 L479.8 529.8 L480.1 530.3 L480.3 531.1 L480.6 531.1 L480.8 531.2 L481.1 531.0 L481.3 531.9 L481.6 532.8 L481.8 534.5 L482.1 535.7 L482.3 536.3 L482.6 537.0 L482.8 538.9 L483.1 540.7 L483.3 542.1 L483.6 544.6 L483.8 545.4 L484.1 547.0 L484.3 548.6 L484.6 550.4 L484.8 551.3 L485.1 551.8 L485.3 553.9 L485.6 555.3 L485.8 558.1 L486.1 559.6 L486.3 560.5 L486.6 562.4 L486.8 563.6 L487.1 565.6 L487.3 567.1 L487.6 568.5 L487.8 569.4 L488.1 570.5 L488.3 572.9 L488.6 574.2 L488.8 578.1 L489.1 580.2 L489.3 581.1 L489.6 581.6 L489.8 582.0 L490.1 584.9 L490.3 584.9 L490.6 587.3 L490.8 587.6 L491.1 589.2 L491.3 592.6 L491.6 593.2 L491.8 593.9 L492.1 593.6 L492.3 594.8 L492.6 595.4 L492.8 596.8 L493.1 598.2 L493.3 601.0 L493.6 602.2 L493.8 601.4 L494.1 601.0 L494.3 602.6 L494.6 602.3 L494.8 598.9 L495.1 597.3 L495.3 596.7 L495.6 596.0 L495.8 595.1 L496.1 594.5 L496.3 593.6 L496.6 592.8 L496.8 590.0 L497.1 589.2 L497.3 588.5 L497.6 588.3 L497.8 588.6 L498.1 586.8 L498.3 584.7 L498.6 583.4 L498.8 581.8 L499.1 581.0 L499.3 579.3 L499.6 577.5 L499.8 574.7 L500.1 573.9 L500.3 574.7 L500.6 574.4 L500.8 577.0 L501.1 576.6 L501.3 573.6 L501.6 572.6 L501.8 572.4 L502.1 571.0 L502.3 571.7 L502.6 571.5 L502.8 569.9 L503.1 569.7 L503.3 569.1 L503.6 569.3 L503.8 567.7 L504.1 567.2 L504.3 566.4 L504.6 566.6 L504.8 565.8 L505.1 565.4 L505.3 566.7 L505.6 566.1 L505.8 564.5 L506.1 565.0 L506.3 565.6 L506.6 565.7 L506.8 562.3 L507.1 560.7 L507.3 562.1 L507.6 562.4 L507.8 561.3 L508.1 561.5 L508.3 562.6 L508.6 561.9 L508.8 561.1 L509.1 562.4 L509.3 561.0 L509.6 561.4 L509.8 559.9 L510.1 559.0 L510.3 561.7 L510.6 562.1 L510.8 560.8 L511.1 560.5 L511.3 560.4 L511.6 559.8 L511.8 560.5 L512.1 561.0 L512.3 560.9 L512.6 560.9 L512.8 559.9 L513.1 560.3 L513.3 560.5 L513.6 560.7 L513.8 560.9 L514.1 560.9 L514.3 562.0 L514.6 561.3 L514.8 562.0 L515.1 562.0 L515.3 561.4 L515.6 562.2 L515.8 563.8 L516.1 562.8 L516.3 564.0 L516.6 564.4 L516.8 564.9 L517.1 563.8 L517.3 562.8 L517.6 562.7 L517.8 565.0 L518.1 566.1 L518.3 565.4 L518.6 565.3 L518.8 566.1 L519.1 565.6 L519.3 565.0 L519.6 565.4 L519.8 564.4 L520.1 564.0 L520.3 564.1 L520.6 563.1 L520.8 563.3 L521.1 564.1 L521.3 564.6 L521.6 564.1 L521.8 565.6 L522.1 567.1 L522.3 567.8 L522.6 569.1 L522.8 569.2 L523.1 570.0 L523.3 569.9 L523.6 570.9 L523.8 570.2 L524.1 570.8 L524.3 572.6 L524.6 573.5 L524.8 574.4 L525.1 575.3 L525.3 575.9 L525.6 576.9 L525.8 575.8 L526.1 576.0 L526.3 577.4 L526.6 577.7 L526.8 581.5 L527.1 584.2 L527.3 584.2 L527.6 585.8 L527.8 585.7 L528.1 586.6 L528.3 586.4 L528.6 587.9 L528.8 588.2 L529.1 588.6 L529.3 590.5 L529.6 591.9 L529.8 595.0 L530.1 597.2 L530.3 600.1 L530.6 602.6 L530.8 603.5 L531.1 605.1 L531.3 607.1 L531.6 608.3 L531.8 611.8 L532.1 613.2 L532.3 615.8 L532.6 616.8 L532.8 618.3 L533.1 620.3 L533.3 619.4 L533.6 619.9 L533.8 623.1 L534.1 622.9 L534.3 623.1 L534.6 623.7 L534.8 624.2 L535.1 623.8 L535.3 621.6 L535.6 622.3 L535.8 621.1 L536.1 619.6 L536.3 621.1 L536.6 620.5 L536.8 615.5 L537.1 613.4 L537.3 613.2 L537.6 611.9 L537.8 609.6 L538.1 607.8 L538.3 606.2 L538.6 605.0 L538.8 603.6 L539.1 601.4 L539.3 600.3 L539.6 598.1 L539.8 594.5 L540.1 592.5 L540.3 589.8 L540.6 588.4 L540.8 588.1 L541.1 585.9 L541.3 583.4 L541.6 582.0 L541.8 581.2 L542.1 580.3 L542.3 578.8 L542.6 577.6 L542.8 577.8 L543.1 577.0 L543.3 575.9 L543.6 574.2 L543.8 573.3 L544.1 572.5 L544.3 571.5 L544.6 569.8 L544.8 568.2 L545.1 567.8 L545.3 568.1 L545.6 567.3 L545.8 564.9 L546.1 563.8 L546.3 562.5 L546.6 562.2 L546.8 563.9 L547.1 562.7 L547.3 560.8 L547.6 559.5 L547.8 559.0 L548.1 558.0 L548.3 557.5 L548.6 557.2 L548.8 560.1 L549.1 558.9 L549.3 557.5 L549.6 556.5 L549.8 556.3 L550.1 555.8 L550.3 552.9 L550.6 552.5 L550.8 555.2 L551.1 556.4 L551.3 556.6 L551.6 555.8 L551.8 555.5 L552.1 556.6 L552.3 555.1 L552.6 555.7 L552.8 555.2 L553.1 554.4 L553.3 554.5 L553.6 555.8 L553.8 557.4 L554.1 557.6 L554.3 559.3 L554.6 559.7 L554.8 559.3 L555.1 560.1 L555.3 561.4 L555.6 561.7 L555.8 562.2 L556.1 562.4 L556.3 562.8 L556.6 563.3 L556.8 563.9 L557.1 564.6 L557.3 564.1 L557.6 565.5 L557.8 565.6 L558.1 567.6 L558.3 568.4 L558.6 569.3 L558.8 571.1 L559.1 571.0 L559.3 571.7 L559.6 571.8 L559.8 573.1 L560.1 573.7 L560.3 574.1 L560.6 574.9 L560.8 576.6 L561.1 577.2 L561.3 576.5 L561.6 577.2 L561.8 578.7 L562.1 579.6 L562.3 580.3 L562.6 580.7 L562.8 580.8 L563.1 580.9 L563.3 580.9 L563.6 581.4 L563.8 580.7 L564.1 581.5 L564.3 582.8 L564.6 583.6 L564.8 582.5 L565.1 584.7 L565.3 588.1 L565.6 590.2 L565.8 590.6 L566.1 590.9 L566.3 591.7 L566.6 591.5 L566.8 591.4 L567.1 591.6 L567.3 592.8 L567.6 594.0 L567.8 593.6 L568.1 594.5 L568.3 596.4 L568.6 597.2 L568.8 597.6 L569.1 598.0 L569.3 598.7 L569.6 599.1 L569.8 598.0 L570.1 599.7 L570.3 602.3 L570.6 603.3 L570.8 600.9 L571.1 600.3 L571.3 604.4 L571.6 604.4 L571.8 603.5 L572.1 605.1 L572.3 605.3 L572.6 606.5 L572.8 607.2 L573.1 607.3 L573.3 605.6 L573.6 606.2 L573.8 608.7 L574.1 609.4 L574.3 607.6 L574.6 607.6 L574.8 607.4 L575.1 607.3 L575.3 608.1 L575.6 608.5 L575.8 608.0 L576.1 607.1 L576.3 605.0 L576.6 604.8 L576.8 604.4 L577.1 603.6 L577.3 604.2 L577.6 602.6 L577.8 602.1 L578.1 600.5 L578.3 599.9 L578.6 599.6 L578.8 597.5 L579.1 597.1 L579.3 597.3 L579.6 596.9 L579.8 594.6 L580.1 590.9 L580.3 589.0 L580.6 589.6 L580.8 588.6 L581.1 587.6 L581.3 587.7 L581.6 587.3 L581.8 586.8 L582.1 587.7 L582.3 586.3 L582.6 584.9 L582.8 583.5 L583.1 583.3 L583.3 583.9 L583.6 584.5 L583.8 584.1 L584.1 584.7 L584.3 584.6 L584.6 584.9 L584.8 584.7 L585.1 584.9 L585.3 582.8 L585.6 583.7 L585.8 584.8 L586.1 585.0 L586.3 583.4 L586.6 584.1 L586.8 585.2 L587.1 584.3 L587.3 585.6 L587.6 586.1 L587.8 585.7 L588.1 584.5 L588.3 585.7 L588.6 586.4 L588.8 585.7 L589.1 586.4 L589.3 586.2 L589.6 587.1 L589.8 588.0 L590.1 588.5 L590.3 588.5 L590.6 588.4 L590.8 590.5 L591.1 592.7 L591.3 592.2 L591.6 594.2 L591.8 595.4 L592.1 595.7 L592.3 597.3 L592.6 597.5 L592.8 596.7 L593.1 595.6 L593.3 596.2 L593.6 595.3 L593.8 596.7 L594.1 596.5 L594.3 596.3 L594.6 595.6 L594.8 594.1 L595.1 594.8 L595.3 595.9 L595.6 595.5 L595.8 594.2 L596.1 594.0 L596.3 595.0 L596.6 594.6 L596.8 593.9 L597.1 592.1 L597.3 591.6 L597.6 591.3 L597.8 592.0 L598.1 592.4 L598.3 593.6 L598.6 592.8 L598.8 592.1 L599.1 591.0 L599.3 590.3 L599.6 590.4 L599.8 589.9 L600.1 589.9 L600.3 592.5 L600.6 592.2 L600.8 593.2 L601.1 593.5 L601.3 594.8 L601.6 593.9 L601.8 593.1 L602.1 594.2 L602.3 597.4 L602.6 598.5 L602.8 600.1 L603.1 601.2 L603.3 602.2 L603.6 602.5 L603.8 604.9 L604.1 606.2 L604.3 606.7 L604.6 608.3 L604.8 608.7 L605.1 610.3 L605.3 612.9 L605.6 615.0 L605.8 616.4 L606.1 616.9 L606.3 615.9 L606.6 615.9 L606.8 615.8 L607.1 616.9 L607.3 614.1 L607.6 614.6 L607.8 614.4 L608.1 614.9 L608.3 614.0 L608.6 615.4 L608.8 616.4 L609.1 615.1 L609.3 615.6 L609.6 615.1 L609.8 614.3 L610.1 614.1 L610.3 612.6 L610.6 611.9 L610.8 612.7 L611.1 612.3 L611.3 612.1 L611.6 612.6 L611.8 611.4 L612.1 610.8 L612.3 610.1 L612.6 608.9 L612.8 611.1 L613.1 611.9 L613.3 610.0 L613.6 610.3 L613.8 609.9 L614.1 609.4 L614.3 608.0 L614.6 607.3 L614.8 608.9 L615.1 607.7 L615.3 608.3 L615.6 607.0 L615.8 606.5 L616.1 606.2 L616.3 603.4 L616.6 601.1 L616.8 600.6 L617.1 597.6 L617.3 595.6 L617.6 594.1 L617.8 593.0 L618.1 591.8 L618.3 589.5" stroke="#5FC6F8" stroke-width="5.4" fill="none" stroke-linejoin="round" stroke-linecap="round"/>
<line x1="180.5" y1="455" x2="180.5" y2="676.7" stroke="#000" stroke-width="2" stroke-linecap="butt"/>
<line x1="167.1" y1="463.9" x2="180.5" y2="463.9" stroke="#000" stroke-width="2" stroke-linecap="butt"/>
<text x="155.8" y="473.2" text-anchor="end" >0.3</text>
<line x1="167.1" y1="549.25" x2="180.5" y2="549.25" stroke="#000" stroke-width="2" stroke-linecap="butt"/>
<text x="155.8" y="558.55" text-anchor="end" >0.2</text>
<line x1="167.1" y1="634.6" x2="180.5" y2="634.6" stroke="#000" stroke-width="2" stroke-linecap="butt"/>
<text x="155.8" y="643.9" text-anchor="end" >0.1</text>
<line x1="189.2" y1="690" x2="630.68" y2="690" stroke="#000" stroke-width="2" stroke-linecap="butt"/>
<line x1="190.2" y1="690" x2="190.2" y2="703.6" stroke="#000" stroke-width="2" stroke-linecap="butt"/>
<text x="186.2" y="734" text-anchor="middle" >−1.0</text>
<line x1="300.07" y1="690" x2="300.07" y2="703.6" stroke="#000" stroke-width="2" stroke-linecap="butt"/>
<text x="296.07" y="734" text-anchor="middle" >−0.5</text>
<line x1="409.94" y1="690" x2="409.94" y2="703.6" stroke="#000" stroke-width="2" stroke-linecap="butt"/>
<text x="405.94" y="734" text-anchor="middle" >0.0</text>
<line x1="519.81" y1="690" x2="519.81" y2="703.6" stroke="#000" stroke-width="2" stroke-linecap="butt"/>
<text x="515.81" y="734" text-anchor="middle" >0.5</text>
<line x1="629.68" y1="690" x2="629.68" y2="703.6" stroke="#000" stroke-width="2" stroke-linecap="butt"/>
<text x="625.68" y="734" text-anchor="middle" >1.0</text>
<line x1="639.3" y1="455" x2="639.3" y2="676.7" stroke="#9B2FF0" stroke-width="2" stroke-linecap="butt"/>
<line x1="639.3" y1="465.1" x2="652.1" y2="465.1" stroke="#9B2FF0" stroke-width="2" stroke-linecap="butt"/>
<text x="657.5" y="474.4" fill="#9B2FF0" >32</text>
<line x1="639.3" y1="522.87" x2="652.1" y2="522.87" stroke="#9B2FF0" stroke-width="2" stroke-linecap="butt"/>
<text x="657.5" y="532.17" fill="#9B2FF0" >28</text>
<line x1="639.3" y1="580.63" x2="652.1" y2="580.63" stroke="#9B2FF0" stroke-width="2" stroke-linecap="butt"/>
<text x="657.5" y="589.93" fill="#9B2FF0" >24</text>
<line x1="639.3" y1="638.4" x2="652.1" y2="638.4" stroke="#9B2FF0" stroke-width="2" stroke-linecap="butt"/>
<text x="657.5" y="647.7" fill="#9B2FF0" >20</text>
<text x="12.5" y="426.9" font-weight="bold" font-size="35.5" >b</text>
<text transform="translate(52 555.4) rotate(-90)" text-anchor="middle" >Excess mutations</text>
<text transform="translate(83.8 556.4) rotate(-90)" text-anchor="middle" >(Mb<tspan font-size="15.5" dy="-9.5">-1</tspan><tspan dy="9.5">)</tspan></text>
<text transform="translate(730.3 557.5) rotate(90)" text-anchor="middle" fill="#9B2FF0" style="font-kerning:normal">ATAC−seq</text>
<text transform="translate(698.2 557.5) rotate(90)" text-anchor="middle" fill="#9B2FF0" >tags kb<tspan font-size="15.5" dy="-9.5">-1</tspan></text>
<text x="211.7" y="775.1" >Distance from nucleosome dyad (kb)</text>
<text x="194.4" y="478.9" fill="#5FC6F8">T</text>
<text x="210.6" y="474.2" fill="#5FC6F8" font-family="DejaVu Sans, sans-serif" font-size="19">➡</text>
<text x="225.6" y="478.9" fill="#5FC6F8">N</text>
</g>
<g id="panel-c">
<path d="M201.4 1001.6 L202.0 1001.5 L202.6 1001.4 L203.2 1001.2 L203.8 1000.9 L204.4 1000.5 L205.0 1000.1 L205.6 999.6 L206.2 999.0 L206.8 998.3 L207.4 997.6 L208.0 996.9 L208.6 996.1 L209.2 995.3 L209.8 994.5 L210.4 993.6 L211.0 992.8 L211.6 991.9 L212.2 991.1 L212.8 990.3 L213.4 989.5 L214.0 988.8 L214.6 988.1 L215.2 987.4 L215.8 986.9 L216.4 986.3 L217.0 985.9 L217.6 985.5 L218.2 985.3 L218.8 985.1 L219.4 984.9 L220.0 984.9 L220.6 985.0 L221.2 985.1 L221.8 985.2 L222.4 985.5 L223.0 985.8 L223.6 986.1 L224.2 986.6 L224.8 987.0 L225.4 987.6 L226.0 988.1 L226.6 988.7 L227.2 989.4 L227.8 990.1 L228.4 990.8 L229.0 991.5 L229.6 992.2 L230.2 993.0 L230.8 993.8 L231.4 994.5 L232.0 995.3 L232.6 996.0 L233.2 996.7 L233.8 997.4 L234.4 998.1 L235.0 998.7 L235.6 999.3 L236.2 999.9 L236.8 1000.4 L237.4 1000.8 L238.0 1001.2 L238.5 1001.6 L239.1 1001.9 L239.7 1002.1 L240.3 1002.2 L240.9 1002.3 L241.5 1002.3 L242.1 1002.3 L242.7 1002.1 L243.3 1001.9 L243.9 1001.6 L244.5 1001.2 L245.1 1000.7 L245.7 1000.2 L246.3 999.6 L246.9 998.9 L247.5 998.2 L248.1 997.4 L248.7 996.5 L249.3 995.6 L249.9 994.7 L250.5 993.7 L251.1 992.8 L251.7 991.8 L252.3 990.8 L252.9 989.8 L253.5 988.8 L254.1 987.8 L254.7 986.8 L255.3 985.9 L255.9 985.0 L256.5 984.1 L257.1 983.3 L257.7 982.5 L258.3 981.8 L258.9 981.2 L259.5 980.6 L260.1 980.1 L260.7 979.7 L261.3 979.4 L261.9 979.1 L262.5 979.0 L263.1 978.9 L263.7 978.9 L264.3 979.0 L264.9 979.1 L265.5 979.4 L266.1 979.8 L266.7 980.2 L267.3 980.7 L267.9 981.3 L268.5 982.0 L269.1 982.7 L269.7 983.5 L270.3 984.4 L270.9 985.3 L271.5 986.3 L272.1 987.3 L272.7 988.3 L273.3 989.3 L273.9 990.4 L274.5 991.5 L275.1 992.5 L275.7 993.6 L276.3 994.6 L276.8 995.7 L277.4 996.7 L278.0 997.6 L278.6 998.5 L279.2 999.4 L279.8 1000.1 L280.4 1000.9 L281.0 1001.5 L281.6 1002.1 L282.2 1002.6 L282.8 1003.0 L283.4 1003.4 L284.0 1003.6 L284.6 1003.8 L285.2 1003.9 L285.8 1003.8 L286.4 1003.6 L287.0 1003.3 L287.6 1002.9 L288.2 1002.3 L288.8 1001.6 L289.4 1000.8 L290.0 999.8 L290.6 998.8 L291.2 997.6 L291.8 996.4 L292.4 995.0 L293.0 993.6 L293.6 992.1 L294.2 990.6 L294.8 989.0 L295.4 987.4 L296.0 985.8 L296.6 984.1 L297.2 982.4 L297.8 980.8 L298.4 979.2 L299.0 977.6 L299.6 976.1 L300.2 974.6 L300.8 973.2 L301.4 971.9 L302.0 970.6 L302.6 969.5 L303.2 968.4 L303.8 967.5 L304.4 966.7 L305.0 966.0 L305.6 965.4 L306.2 965.0 L306.8 964.7 L307.4 964.5 L308.0 964.5 L308.6 964.6 L309.2 965.0 L309.8 965.6 L310.4 966.3 L311.0 967.2 L311.6 968.3 L312.2 969.6 L312.8 971.0 L313.4 972.6 L314.0 974.3 L314.6 976.1 L315.1 977.9 L315.7 979.9 L316.3 981.9 L316.9 983.9 L317.5 986.0 L318.1 988.1 L318.7 990.1 L319.3 992.1 L319.9 994.0 L320.5 995.9 L321.1 997.6 L321.7 999.3 L322.3 1000.8 L322.9 1002.2 L323.5 1003.4 L324.1 1004.4 L324.7 1005.3 L325.3 1006.0 L325.9 1006.5 L326.5 1006.8 L327.1 1006.9 L327.7 1006.8 L328.3 1006.5 L328.9 1005.9 L329.5 1005.2 L330.1 1004.3 L330.7 1003.2 L331.3 1001.9 L331.9 1000.5 L332.5 998.9 L333.1 997.2 L333.7 995.3 L334.3 993.4 L334.9 991.3 L335.5 989.2 L336.1 987.1 L336.7 984.9 L337.3 982.7 L337.9 980.5 L338.5 978.4 L339.1 976.3 L339.7 974.3 L340.3 972.4 L340.9 970.6 L341.5 968.9 L342.1 967.3 L342.7 965.9 L343.3 964.7 L343.9 963.7 L344.5 962.8 L345.1 962.2 L345.7 961.7 L346.3 961.5 L346.9 961.4 L347.5 961.6 L348.1 961.9 L348.7 962.3 L349.3 963.0 L349.9 963.8 L350.5 964.7 L351.1 965.8 L351.7 967.0 L352.3 968.3 L352.9 969.7 L353.4 971.3 L354.0 972.9 L354.6 974.7 L355.2 976.5 L355.8 978.3 L356.4 980.2 L357.0 982.2 L357.6 984.1 L358.2 986.1 L358.8 988.0 L359.4 990.0 L360.0 991.8 L360.6 993.7 L361.2 995.4 L361.8 997.1 L362.4 998.7 L363.0 1000.2 L363.6 1001.6 L364.2 1002.8 L364.8 1004.0 L365.4 1005.0 L366.0 1005.8 L366.6 1006.5 L367.2 1007.0 L367.8 1007.4 L368.4 1007.6 L369.0 1007.6 L369.6 1007.5 L370.2 1007.1 L370.8 1006.6 L371.4 1005.9 L372.0 1004.9 L372.6 1003.8 L373.2 1002.6 L373.8 1001.1 L374.4 999.6 L375.0 997.9 L375.6 996.0 L376.2 994.1 L376.8 992.1 L377.4 990.0 L378.0 987.8 L378.6 985.6 L379.2 983.4 L379.8 981.2 L380.4 979.0 L381.0 976.8 L381.6 974.7 L382.2 972.7 L382.8 970.7 L383.4 968.8 L384.0 967.1 L384.6 965.5 L385.2 964.0 L385.8 962.7 L386.4 961.5 L387.0 960.5 L387.6 959.7 L388.2 959.1 L388.8 958.7 L389.4 958.4 L390.0 958.4 L390.6 958.6 L391.2 959.0 L391.7 959.7 L392.3 960.6 L392.9 961.6 L393.5 962.9 L394.1 964.4 L394.7 966.0 L395.3 967.8 L395.9 969.8 L396.5 971.9 L397.1 974.1 L397.7 976.4 L398.3 978.8 L398.9 981.3 L399.5 983.8 L400.1 986.3 L400.7 988.8 L401.3 991.3 L401.9 993.8 L402.5 996.2 L403.1 998.5 L403.7 1000.7 L404.3 1002.8 L404.9 1004.8 L405.5 1006.6 L406.1 1008.3 L406.7 1009.8 L407.3 1011.1 L407.9 1012.2 L408.5 1013.1 L409.1 1013.8 L409.7 1014.2 L410.3 1014.4 L410.9 1014.4 L411.5 1014.2 L412.1 1013.8 L412.7 1013.1 L413.3 1012.2 L413.9 1011.1 L414.5 1009.9 L415.1 1008.4 L415.7 1006.7 L416.3 1004.9 L416.9 1003.0 L417.5 1000.9 L418.1 998.7 L418.7 996.4 L419.3 994.0 L419.9 991.6 L420.5 989.1 L421.1 986.7 L421.7 984.2 L422.3 981.7 L422.9 979.3 L423.5 976.9 L424.1 974.6 L424.7 972.5 L425.3 970.4 L425.9 968.5 L426.5 966.7 L427.1 965.0 L427.7 963.6 L428.3 962.3 L428.9 961.3 L429.5 960.4 L430.0 959.8 L430.6 959.4 L431.2 959.2 L431.8 959.2 L432.4 959.4 L433.0 959.8 L433.6 960.3 L434.2 961.0 L434.8 961.9 L435.4 962.9 L436.0 964.0 L436.6 965.3 L437.2 966.8 L437.8 968.3 L438.4 970.0 L439.0 971.7 L439.6 973.6 L440.2 975.5 L440.8 977.5 L441.4 979.5 L442.0 981.5 L442.6 983.6 L443.2 985.6 L443.8 987.7 L444.4 989.7 L445.0 991.7 L445.6 993.6 L446.2 995.5 L446.8 997.3 L447.4 998.9 L448.0 1000.5 L448.6 1002.0 L449.2 1003.3 L449.8 1004.5 L450.4 1005.5 L451.0 1006.4 L451.6 1007.1 L452.2 1007.7 L452.8 1008.1 L453.4 1008.3 L454.0 1008.4 L454.6 1008.3 L455.2 1008.0 L455.8 1007.5 L456.4 1006.9 L457.0 1006.0 L457.6 1005.1 L458.2 1003.9 L458.8 1002.7 L459.4 1001.3 L460.0 999.7 L460.6 998.1 L461.2 996.3 L461.8 994.5 L462.4 992.6 L463.0 990.6 L463.6 988.6 L464.2 986.6 L464.8 984.5 L465.4 982.5 L466.0 980.5 L466.6 978.5 L467.2 976.5 L467.8 974.6 L468.3 972.8 L468.9 971.1 L469.5 969.5 L470.1 968.0 L470.7 966.7 L471.3 965.5 L471.9 964.4 L472.5 963.5 L473.1 962.7 L473.7 962.1 L474.3 961.7 L474.9 961.5 L475.5 961.4 L476.1 961.6 L476.7 962.0 L477.3 962.5 L477.9 963.3 L478.5 964.3 L479.1 965.5 L479.7 966.9 L480.3 968.4 L480.9 970.1 L481.5 971.9 L482.1 973.8 L482.7 975.8 L483.3 977.9 L483.9 980.0 L484.5 982.1 L485.1 984.3 L485.7 986.5 L486.3 988.6 L486.9 990.7 L487.5 992.7 L488.1 994.6 L488.7 996.3 L489.3 998.0 L489.9 999.5 L490.5 1000.8 L491.1 1001.9 L491.7 1002.9 L492.3 1003.6 L492.9 1004.2 L493.5 1004.5 L494.1 1004.6 L494.7 1004.6 L495.3 1004.4 L495.9 1004.1 L496.5 1003.7 L497.1 1003.2 L497.7 1002.6 L498.3 1001.8 L498.9 1001.0 L499.5 1000.1 L500.1 999.1 L500.7 998.0 L501.3 996.8 L501.9 995.6 L502.5 994.3 L503.1 992.9 L503.7 991.5 L504.3 990.1 L504.9 988.6 L505.5 987.1 L506.1 985.6 L506.6 984.1 L507.2 982.6 L507.8 981.1 L508.4 979.7 L509.0 978.2 L509.6 976.9 L510.2 975.5 L510.8 974.3 L511.4 973.1 L512.0 972.0 L512.6 970.9 L513.2 970.0 L513.8 969.1 L514.4 968.3 L515.0 967.7 L515.6 967.1 L516.2 966.6 L516.8 966.3 L517.4 966.1 L518.0 966.0 L518.6 966.0 L519.2 966.2 L519.8 966.6 L520.4 967.1 L521.0 967.9 L521.6 968.7 L522.2 969.8 L522.8 970.9 L523.4 972.3 L524.0 973.7 L524.6 975.2 L525.2 976.8 L525.8 978.5 L526.4 980.3 L527.0 982.0 L527.6 983.8 L528.2 985.6 L528.8 987.4 L529.4 989.2 L530.0 990.9 L530.6 992.6 L531.2 994.1 L531.8 995.6 L532.4 996.9 L533.0 998.1 L533.6 999.2 L534.2 1000.2 L534.8 1000.9 L535.4 1001.6 L536.0 1002.0 L536.6 1002.3 L537.2 1002.3 L537.8 1002.3 L538.4 1002.1 L539.0 1001.9 L539.6 1001.5 L540.2 1001.0 L540.8 1000.5 L541.4 999.8 L542.0 999.1 L542.6 998.3 L543.2 997.4 L543.8 996.5 L544.4 995.5 L544.9 994.5 L545.5 993.4 L546.1 992.3 L546.7 991.2 L547.3 990.1 L547.9 988.9 L548.5 987.8 L549.1 986.7 L549.7 985.7 L550.3 984.6 L550.9 983.7 L551.5 982.7 L552.1 981.9 L552.7 981.1 L553.3 980.4 L553.9 979.8 L554.5 979.3 L555.1 978.8 L555.7 978.5 L556.3 978.3 L556.9 978.1 L557.5 978.1 L558.1 978.2 L558.7 978.3 L559.3 978.6 L559.9 978.9 L560.5 979.4 L561.1 979.9 L561.7 980.5 L562.3 981.1 L562.9 981.9 L563.5 982.6 L564.1 983.5 L564.7 984.4 L565.3 985.4 L565.9 986.3 L566.5 987.4 L567.1 988.4 L567.7 989.5 L568.3 990.5 L568.9 991.6 L569.5 992.6 L570.1 993.6 L570.7 994.6 L571.3 995.6 L571.9 996.5 L572.5 997.4 L573.1 998.2 L573.7 999.0 L574.3 999.7 L574.9 1000.3 L575.5 1000.9 L576.1 1001.3 L576.7 1001.7 L577.3 1002.0 L577.9 1002.2 L578.5 1002.3 L579.1 1002.3 L579.7 1002.3 L580.3 1002.2 L580.9 1002.0 L581.5 1001.8 L582.1 1001.5 L582.7 1001.1 L583.2 1000.7 L583.8 1000.3 L584.4 999.7 L585.0 999.2 L585.6 998.6 L586.2 998.0 L586.8 997.3 L587.4 996.7 L588.0 996.0 L588.6 995.2 L589.2 994.5 L589.8 993.8 L590.4 993.1 L591.0 992.3 L591.6 991.6 L592.2 991.0 L592.8 990.3 L593.4 989.7 L594.0 989.1 L594.6 988.5 L595.2 988.0 L595.8 987.5 L596.4 987.1 L597.0 986.7 L597.6 986.4 L598.2 986.1 L598.8 985.9 L599.4 985.8 L600.0 985.7 L600.6 985.7 L601.2 985.7 L601.8 985.9 L602.4 986.1 L603.0 986.4 L603.6 986.8 L604.2 987.3 L604.8 987.8 L605.4 988.4 L606.0 989.0 L606.6 989.7 L607.2 990.4 L607.8 991.2 L608.4 992.0 L609.0 992.8 L609.6 993.7 L610.2 994.5 L610.8 995.4 L611.4 996.2 L612.0 997.0 L612.6 997.8 L613.2 998.6 L613.8 999.3 L614.4 1000.0 L615.0 1000.6 L615.6 1001.2 L616.2 1001.7 L616.8 1002.1 L617.4 1002.4 L618.0 1002.7 L618.6 1002.9 L619.2 1003.1 L619.8 1003.1" stroke="#9B2FF0" stroke-width="3.2" fill="none" stroke-linejoin="round"/>
<path d="M201.5 984.2 L201.8 984.1 L202.0 984.0 L202.3 984.1 L202.5 983.7 L202.8 982.4 L203.0 981.5 L203.3 980.9 L203.5 980.5 L203.8 981.1 L204.0 982.2 L204.3 983.5 L204.5 984.8 L204.8 986.2 L205.0 987.6 L205.3 984.7 L205.5 980.8 L205.8 976.9 L206.0 973.0 L206.3 974.6 L206.5 979.8 L206.8 985.0 L207.0 990.0 L207.3 995.0 L207.5 996.0 L207.8 996.0 L208.0 996.1 L208.3 996.2 L208.5 996.2 L208.8 996.2 L209.0 996.3 L209.3 996.3 L209.5 996.4 L209.8 996.4 L210.0 996.4 L210.3 997.8 L210.5 999.5 L210.8 1001.2 L211.0 1002.8 L211.3 1004.5 L211.5 1005.7 L211.8 1006.2 L212.0 1006.7 L212.3 1007.2 L212.5 1007.6 L212.8 1007.9 L213.0 1007.8 L213.3 1007.3 L213.5 1006.7 L213.8 1006.1 L214.0 1005.8 L214.3 1005.1 L214.5 1004.2 L214.8 1003.1 L215.0 1001.8 L215.3 1000.4 L215.5 999.1 L215.8 997.9 L216.0 996.7 L216.3 995.5 L216.5 994.0 L216.8 992.5 L217.0 991.1 L217.3 989.9 L217.5 989.0 L217.8 988.3 L218.0 988.0 L218.3 988.8 L218.5 990.1 L218.8 991.7 L219.0 993.6 L219.3 995.9 L219.5 997.4 L219.8 999.0 L220.0 1000.7 L220.3 1002.5 L220.5 1004.3 L220.8 1006.1 L221.0 1007.9 L221.3 1009.4 L221.5 1010.6 L221.8 1011.5 L222.0 1012.4 L222.3 1013.8 L222.5 1014.6 L222.8 1015.1 L223.0 1011.6 L223.3 1005.1 L223.5 998.4 L223.8 991.5 L224.0 989.5 L224.3 990.9 L224.5 992.3 L224.8 993.8 L225.0 995.5 L225.3 997.4 L225.5 999.5 L225.8 999.9 L226.0 999.0 L226.3 998.5 L226.5 998.6 L226.8 1000.2 L227.0 1001.9 L227.3 1003.7 L227.5 1005.5 L227.8 1007.3 L228.0 1008.9 L228.3 1009.9 L228.5 1009.5 L228.8 1008.7 L229.0 1007.4 L229.3 1006.4 L229.5 1006.1 L229.8 1005.6 L230.0 1004.8 L230.3 1003.8 L230.5 1002.6 L230.8 1000.8 L231.0 998.7 L231.3 996.5 L231.5 994.4 L231.8 992.4 L232.0 990.4 L232.3 988.5 L232.5 986.7 L232.8 985.0 L233.0 983.7 L233.3 982.5 L233.5 981.3 L233.8 981.1 L234.0 980.9 L234.3 980.6 L234.5 979.1 L234.8 977.7 L235.0 976.3 L235.3 974.9 L235.5 973.5 L235.8 972.2 L236.0 971.6 L236.3 971.7 L236.5 971.8 L236.8 972.0 L237.0 972.3 L237.3 972.6 L237.5 972.0 L237.8 971.6 L238.0 971.3 L238.3 971.1 L238.5 971.0 L238.8 971.2 L239.0 971.4 L239.3 971.8 L239.5 972.2 L239.8 972.7 L240.0 973.5 L240.3 974.2 L240.5 974.9 L240.8 975.5 L241.0 975.9 L241.3 976.1 L241.5 976.2 L241.8 976.0 L242.0 975.5 L242.3 974.9 L242.5 974.4 L242.8 973.6 L243.0 972.7 L243.3 971.6 L243.5 970.5 L243.8 969.3 L244.0 968.1 L244.3 965.2 L244.5 962.4 L244.8 959.7 L245.0 958.7 L245.3 958.7 L245.5 959.0 L245.8 959.6 L246.0 959.8 L246.3 959.0 L246.5 958.3 L246.8 957.5 L247.0 956.8 L247.3 956.0 L247.5 955.4 L247.8 954.8 L248.0 956.0 L248.3 957.1 L248.5 958.3 L248.8 959.5 L249.0 960.6 L249.3 958.8 L249.5 956.7 L249.8 954.6 L250.0 952.6 L250.3 950.4 L250.5 948.3 L250.8 949.9 L251.0 953.0 L251.3 956.1 L251.5 959.1 L251.8 961.5 L252.0 959.8 L252.3 958.2 L252.5 956.5 L252.8 954.8 L253.0 954.5 L253.3 955.2 L253.5 956.0 L253.8 956.8 L254.0 957.5 L254.3 957.0 L254.5 956.1 L254.8 955.2 L255.0 954.3 L255.3 953.5 L255.5 952.8 L255.8 953.2 L256.0 953.6 L256.3 954.0 L256.5 954.5 L256.8 955.1 L257.0 955.7 L257.3 956.3 L257.5 956.9 L257.8 957.6 L258.0 957.9 L258.3 958.1 L258.5 958.4 L258.8 958.7 L259.0 959.1 L259.3 959.9 L259.5 961.0 L259.8 961.6 L260.0 960.3 L260.3 959.2 L260.5 958.2 L260.8 959.7 L261.0 963.0 L261.3 966.4 L261.5 969.6 L261.8 972.8 L262.0 974.8 L262.3 976.3 L262.5 977.5 L262.8 978.5 L263.0 979.0 L263.3 979.2 L263.5 979.1 L263.8 978.8 L264.0 978.2 L264.3 977.5 L264.5 976.2 L264.8 974.5 L265.0 972.8 L265.3 971.1 L265.5 969.4 L265.8 967.9 L266.0 967.2 L266.3 966.9 L266.5 966.8 L266.8 967.0 L267.0 967.3 L267.3 967.7 L267.5 968.1 L267.8 968.5 L268.0 969.0 L268.3 969.5 L268.5 970.1 L268.8 970.6 L269.0 970.7 L269.3 970.8 L269.5 970.9 L269.8 971.1 L270.0 971.4 L270.3 971.8 L270.5 972.1 L270.8 972.4 L271.0 972.7 L271.3 973.6 L271.5 974.6 L271.8 975.5 L272.0 976.4 L272.3 977.2 L272.5 978.0 L272.8 978.6 L273.0 978.8 L273.3 979.0 L273.5 978.8 L273.8 978.4 L274.0 977.9 L274.3 977.1 L274.5 976.4 L274.8 975.2 L275.0 973.9 L275.3 972.7 L275.5 971.7 L275.8 970.8 L276.0 970.5 L276.3 971.1 L276.5 972.0 L276.8 973.3 L277.0 974.9 L277.3 976.7 L277.5 978.6 L277.8 980.5 L278.0 980.3 L278.3 980.1 L278.5 979.8 L278.8 979.3 L279.0 978.6 L279.3 980.3 L279.5 982.7 L279.8 984.9 L280.0 987.1 L280.3 989.2 L280.5 990.9 L280.8 990.1 L281.0 989.2 L281.3 988.8 L281.5 989.6 L281.8 990.4 L282.0 991.1 L282.3 991.9 L282.5 992.2 L282.8 992.1 L283.0 992.0 L283.3 991.9 L283.5 991.7 L283.8 991.6 L284.0 991.5 L284.3 991.5 L284.5 991.5 L284.8 991.5 L285.0 991.3 L285.3 990.9 L285.5 990.5 L285.8 989.9 L286.0 989.3 L286.3 988.5 L286.5 987.7 L286.8 986.9 L287.0 986.0 L287.3 985.1 L287.5 984.1 L287.8 982.7 L288.0 980.0 L288.3 977.3 L288.5 974.6 L288.8 971.9 L289.0 969.2 L289.3 967.1 L289.5 967.5 L289.8 968.0 L290.0 968.5 L290.3 969.1 L290.5 969.7 L290.8 968.3 L291.0 966.9 L291.3 965.7 L291.5 964.7 L291.8 964.9 L292.0 965.2 L292.3 965.4 L292.5 965.7 L292.8 966.0 L293.0 966.2 L293.3 966.5 L293.5 966.7 L293.8 966.3 L294.0 965.9 L294.3 965.5 L294.5 965.2 L294.8 965.0 L295.0 964.8 L295.3 964.6 L295.5 964.5 L295.8 964.3 L296.0 963.1 L296.3 961.9 L296.5 960.7 L296.8 959.5 L297.0 958.3 L297.3 957.3 L297.5 958.0 L297.8 960.3 L298.0 962.7 L298.3 965.2 L298.5 967.8 L298.8 969.1 L299.0 965.7 L299.3 962.4 L299.5 959.1 L299.8 955.8 L300.0 959.4 L300.3 965.6 L300.5 971.7 L300.8 977.8 L301.0 981.2 L301.3 981.9 L301.5 982.6 L301.8 983.2 L302.0 983.8 L302.3 984.4 L302.5 985.8 L302.8 987.2 L303.0 988.7 L303.3 990.1 L303.5 991.6 L303.8 991.6 L304.0 991.3 L304.3 990.8 L304.5 990.3 L304.8 990.2 L305.0 991.9 L305.3 993.5 L305.5 994.9 L305.8 996.2 L306.0 997.3 L306.3 998.3 L306.5 998.8 L306.8 996.3 L307.0 993.7 L307.3 993.6 L307.5 993.8 L307.8 994.0 L308.0 994.1 L308.3 994.1 L308.5 994.0 L308.8 993.2 L309.0 992.4 L309.3 991.5 L309.5 990.7 L309.8 989.8 L310.0 988.9 L310.3 987.5 L310.5 986.1 L310.8 984.8 L311.0 983.4 L311.3 982.1 L311.5 980.6 L311.8 979.0 L312.0 977.5 L312.3 975.9 L312.5 976.0 L312.8 976.0 L313.0 975.9 L313.3 975.9 L313.5 975.8 L313.8 974.9 L314.0 973.5 L314.3 972.1 L314.5 970.7 L314.8 969.3 L315.0 968.0 L315.3 966.6 L315.5 966.0 L315.8 965.5 L316.0 965.1 L316.3 964.6 L316.5 964.3 L316.8 964.0 L317.0 963.3 L317.3 962.5 L317.5 961.8 L317.8 961.2 L318.0 960.8 L318.3 960.6 L318.5 960.6 L318.8 960.8 L319.0 960.7 L319.3 960.8 L319.5 961.1 L319.8 961.4 L320.0 961.9 L320.3 962.4 L320.5 963.0 L320.8 963.5 L321.0 965.9 L321.3 968.4 L321.5 970.9 L321.8 972.1 L322.0 972.4 L322.3 972.7 L322.5 973.1 L322.8 973.5 L323.0 973.9 L323.3 975.8 L323.5 978.6 L323.8 981.4 L324.0 983.4 L324.3 982.3 L324.5 981.1 L324.8 979.7 L325.0 978.2 L325.3 976.6 L325.5 974.7 L325.8 975.0 L326.0 977.7 L326.3 980.4 L326.5 982.9 L326.8 984.2 L327.0 982.2 L327.3 980.2 L327.5 978.1 L327.8 975.9 L328.0 973.7 L328.3 972.7 L328.5 973.2 L328.8 973.7 L329.0 974.1 L329.3 974.3 L329.5 973.8 L329.8 973.3 L330.0 972.7 L330.3 972.2 L330.5 971.7 L330.8 970.6 L331.0 969.5 L331.3 968.3 L331.5 967.1 L331.8 965.7 L332.0 964.1 L332.3 962.6 L332.5 960.2 L332.8 957.1 L333.0 953.9 L333.3 950.8 L333.5 949.7 L333.8 949.7 L334.0 949.8 L334.3 950.1 L334.5 950.5 L334.8 951.1 L335.0 951.8 L335.3 950.6 L335.5 949.1 L335.8 947.8 L336.0 946.7 L336.3 947.6 L336.5 949.1 L336.8 950.8 L337.0 952.5 L337.3 952.9 L337.5 953.3 L337.8 953.8 L338.0 954.3 L338.3 954.9 L338.5 955.4 L338.8 956.0 L339.0 957.4 L339.3 959.4 L339.5 961.4 L339.8 963.7 L340.0 965.4 L340.3 966.9 L340.5 968.4 L340.8 970.0 L341.0 971.6 L341.3 972.9 L341.5 974.2 L341.8 975.5 L342.0 976.8 L342.3 978.1 L342.5 980.5 L342.8 982.9 L343.0 985.2 L343.3 987.4 L343.5 989.6 L343.8 991.8 L344.0 994.1 L344.3 996.3 L344.5 997.8 L344.8 999.3 L345.0 1000.8 L345.3 1001.6 L345.5 1002.2 L345.8 1002.7 L346.0 1003.2 L346.3 1003.5 L346.5 1003.6 L346.8 1006.2 L347.0 1009.0 L347.3 1011.6 L347.5 1011.9 L347.8 1010.5 L348.0 1008.9 L348.3 1007.1 L348.5 1005.3 L348.8 1003.3 L349.0 1001.3 L349.3 1001.6 L349.5 1002.8 L349.8 1003.9 L350.0 1005.0 L350.3 1005.9 L350.5 1005.7 L350.8 1004.2 L351.0 1002.7 L351.3 1001.2 L351.5 999.6 L351.8 998.1 L352.0 997.1 L352.3 996.3 L352.5 995.2 L352.8 993.9 L353.0 992.5 L353.3 989.9 L353.5 986.7 L353.8 983.4 L354.0 980.0 L354.3 976.9 L354.5 975.0 L354.8 973.2 L355.0 971.4 L355.3 969.5 L355.5 967.8 L355.8 966.1 L356.0 961.0 L356.3 956.0 L356.5 951.2 L356.8 950.1 L357.0 950.1 L357.3 950.2 L357.5 950.2 L357.8 950.3 L358.0 950.3 L358.3 950.3 L358.5 947.5 L358.8 944.2 L359.0 941.0 L359.3 937.9 L359.5 934.8 L359.8 932.5 L360.0 935.9 L360.3 939.4 L360.5 941.1 L360.8 940.4 L361.0 939.9 L361.3 939.6 L361.5 939.5 L361.8 939.6 L362.0 940.1 L362.3 940.7 L362.5 941.5 L362.8 942.4 L363.0 943.3 L363.3 944.4 L363.5 945.5 L363.8 946.7 L364.0 948.2 L364.3 949.7 L364.5 951.1 L364.8 952.5 L365.0 953.0 L365.3 952.5 L365.5 951.8 L365.8 951.0 L366.0 950.0 L366.3 948.8 L366.5 949.6 L366.8 949.9 L367.0 949.8 L367.3 949.3 L367.5 948.5 L367.8 946.8 L368.0 944.9 L368.3 942.8 L368.5 940.2 L368.8 937.8 L369.0 935.7 L369.3 933.9 L369.5 932.5 L369.8 931.6 L370.0 931.3 L370.3 931.9 L370.5 933.0 L370.8 934.2 L371.0 935.4 L371.3 935.8 L371.5 935.9 L371.8 936.0 L372.0 936.2 L372.3 936.4 L372.5 936.9 L372.8 938.1 L373.0 939.4 L373.3 940.5 L373.5 940.9 L373.8 941.1 L374.0 941.1 L374.3 941.0 L374.5 940.8 L374.8 940.4 L375.0 940.0 L375.3 939.5 L375.5 935.8 L375.8 930.3 L376.0 927.0 L376.3 927.9 L376.5 928.9 L376.8 929.8 L377.0 930.8 L377.3 931.7 L377.5 932.1 L377.8 932.6 L378.0 933.1 L378.3 933.8 L378.5 934.6 L378.8 935.8 L379.0 936.7 L379.3 937.7 L379.5 939.0 L379.8 940.5 L380.0 942.3 L380.3 944.4 L380.5 946.5 L380.8 948.8 L381.0 951.1 L381.3 953.4 L381.5 955.9 L381.8 958.4 L382.0 960.9 L382.3 963.3 L382.5 965.8 L382.8 968.3 L383.0 970.8 L383.3 973.3 L383.5 976.0 L383.8 978.6 L384.0 981.1 L384.3 983.5 L384.5 985.8 L384.8 988.0 L385.0 990.1 L385.3 992.1 L385.5 994.0 L385.8 996.1 L386.0 998.0 L386.3 999.6 L386.5 1001.2 L386.8 1002.8 L387.0 1004.4 L387.3 1005.7 L387.5 1007.0 L387.8 1008.2 L388.0 1009.3 L388.3 1010.0 L388.5 1010.0 L388.8 1009.8 L389.0 1009.3 L389.3 1009.6 L389.5 1009.8 L389.8 1009.7 L390.0 1009.4 L390.3 1009.0 L390.5 1008.3 L390.8 1007.4 L391.0 1006.0 L391.3 1004.5 L391.5 1002.9 L391.8 1001.2 L392.0 999.4 L392.3 997.6 L392.5 995.6 L392.8 993.5 L393.0 991.2 L393.3 988.4 L393.5 985.4 L393.8 981.9 L394.0 978.0 L394.3 973.9 L394.5 969.7 L394.8 965.3 L395.0 960.9 L395.3 956.4 L395.5 952.2 L395.8 948.2 L396.0 944.5 L396.3 941.3 L396.5 938.5 L396.8 935.7 L397.0 932.9 L397.3 930.1 L397.5 926.4 L397.8 921.6 L398.0 916.8 L398.3 912.2 L398.5 907.6 L398.8 905.0 L399.0 904.3 L399.3 903.8 L399.5 903.5 L399.8 903.2 L400.0 903.2 L400.3 899.1 L400.5 893.8 L400.8 890.3 L401.0 891.0 L401.3 891.7 L401.5 892.5 L401.8 893.2 L402.0 893.6 L402.3 892.7 L402.5 891.9 L402.8 891.1 L403.0 890.3 L403.3 889.6 L403.5 888.9 L403.8 888.0 L404.0 887.1 L404.3 886.2 L404.5 885.4 L404.8 884.7 L405.0 884.0 L405.3 883.4 L405.5 882.9 L405.8 882.4 L406.0 882.1 L406.3 881.8 L406.5 882.0 L406.8 882.9 L407.0 884.3 L407.3 886.0 L407.5 888.0 L407.8 890.2 L408.0 892.1 L408.3 894.1 L408.5 896.1 L408.8 898.1 L409.0 900.2 L409.3 902.2 L409.5 904.0 L409.8 905.6 L410.0 907.0 L410.3 907.9 L410.5 908.5 L410.8 908.7 L411.0 908.2 L411.3 907.2 L411.5 905.8 L411.8 903.8 L412.0 901.6 L412.3 899.4 L412.5 897.2 L412.8 894.9 L413.0 893.0 L413.3 891.6 L413.5 890.8 L413.8 890.5 L414.0 890.9 L414.3 892.0 L414.5 894.4 L414.8 897.1 L415.0 900.1 L415.3 903.3 L415.5 906.5 L415.8 908.6 L416.0 909.9 L416.3 911.2 L416.5 912.2 L416.8 913.0 L417.0 916.2 L417.3 919.7 L417.5 922.7 L417.8 923.8 L418.0 922.4 L418.3 918.9 L418.5 914.3 L418.8 909.4 L419.0 905.3 L419.3 903.0 L419.5 903.1 L419.8 903.9 L420.0 905.2 L420.3 907.0 L420.5 909.6 L420.8 912.8 L421.0 916.3 L421.3 920.0 L421.5 923.6 L421.8 926.8 L422.0 930.0 L422.3 933.2 L422.5 936.3 L422.8 939.2 L423.0 941.7 L423.3 944.3 L423.5 947.1 L423.8 950.0 L424.0 953.0 L424.3 956.0 L424.5 959.2 L424.8 963.1 L425.0 966.9 L425.3 970.6 L425.5 973.8 L425.8 975.9 L426.0 977.8 L426.3 979.4 L426.5 980.6 L426.8 982.0 L427.0 983.8 L427.3 985.6 L427.5 987.4 L427.8 989.2 L428.0 990.9 L428.3 992.5 L428.5 994.1 L428.8 994.5 L429.0 993.3 L429.3 992.1 L429.5 990.7 L429.8 991.2 L430.0 993.5 L430.3 995.6 L430.5 997.6 L430.8 999.4 L431.0 1000.9 L431.3 997.6 L431.5 993.2 L431.8 988.4 L432.0 983.3 L432.3 980.8 L432.5 980.7 L432.8 980.5 L433.0 980.2 L433.3 979.9 L433.5 978.3 L433.8 976.4 L434.0 974.5 L434.3 972.9 L434.5 971.4 L434.8 969.8 L435.0 968.1 L435.3 966.4 L435.5 964.6 L435.8 962.7 L436.0 960.9 L436.3 959.0 L436.5 957.1 L436.8 954.0 L437.0 950.8 L437.3 947.8 L437.5 944.8 L437.8 942.9 L438.0 942.5 L438.3 942.3 L438.5 942.2 L438.8 942.3 L439.0 936.9 L439.3 924.3 L439.5 911.7 L439.8 905.3 L440.0 909.3 L440.3 913.5 L440.5 917.6 L440.8 921.7 L441.0 925.9 L441.3 930.1 L441.5 934.4 L441.8 933.3 L442.0 931.9 L442.3 930.5 L442.5 929.1 L442.8 927.8 L443.0 927.6 L443.3 927.6 L443.5 927.6 L443.8 927.7 L444.0 927.9 L444.3 927.6 L444.5 926.9 L444.8 926.3 L445.0 926.0 L445.3 925.9 L445.5 926.0 L445.8 926.3 L446.0 926.7 L446.3 927.3 L446.5 926.3 L446.8 925.3 L447.0 924.4 L447.3 923.6 L447.5 923.3 L447.8 926.5 L448.0 929.6 L448.3 932.8 L448.5 935.9 L448.8 939.0 L449.0 942.0 L449.3 943.1 L449.5 944.0 L449.8 944.9 L450.0 945.5 L450.3 945.0 L450.5 944.2 L450.8 943.5 L451.0 942.6 L451.3 941.8 L451.5 941.1 L451.8 942.3 L452.0 943.5 L452.3 944.8 L452.5 946.0 L452.8 947.2 L453.0 948.3 L453.3 949.2 L453.5 949.6 L453.8 949.9 L454.0 950.3 L454.3 950.1 L454.5 949.8 L454.8 949.6 L455.0 949.3 L455.3 949.1 L455.5 948.9 L455.8 948.8 L456.0 949.8 L456.3 950.8 L456.5 951.9 L456.8 952.9 L457.0 954.0 L457.3 955.1 L457.5 955.5 L457.8 956.0 L458.0 956.6 L458.3 957.3 L458.5 958.0 L458.8 958.8 L459.0 959.7 L459.3 960.6 L459.5 961.7 L459.8 962.9 L460.0 964.0 L460.3 965.2 L460.5 966.4 L460.8 967.5 L461.0 968.6 L461.3 969.6 L461.5 970.6 L461.8 971.6 L462.0 972.6 L462.3 973.7 L462.5 974.1 L462.8 972.2 L463.0 970.3 L463.3 968.4 L463.5 968.6 L463.8 971.5 L464.0 974.3 L464.3 977.2 L464.5 980.1 L464.8 983.0 L465.0 984.9 L465.3 985.5 L465.5 986.0 L465.8 986.7 L466.0 988.1 L466.3 989.4 L466.5 990.7 L466.8 992.0 L467.0 993.3 L467.3 994.5 L467.5 995.4 L467.8 994.3 L468.0 993.1 L468.3 992.1 L468.5 994.2 L468.8 996.3 L469.0 998.4 L469.3 1000.5 L469.5 1002.5 L469.8 1004.5 L470.0 1006.1 L470.3 1005.5 L470.5 1004.7 L470.8 1003.8 L471.0 1002.8 L471.3 1001.7 L471.5 1001.9 L471.8 1003.3 L472.0 1004.5 L472.3 1005.6 L472.5 1006.5 L472.8 1007.4 L473.0 1006.2 L473.3 1004.8 L473.5 1003.3 L473.8 1001.7 L474.0 1000.1 L474.3 999.0 L474.5 998.6 L474.8 998.1 L475.0 997.5 L475.3 997.0 L475.5 995.2 L475.8 991.3 L476.0 987.4 L476.3 986.5 L476.5 987.1 L476.8 987.7 L477.0 988.4 L477.3 989.2 L477.5 988.3 L477.8 986.3 L478.0 984.2 L478.3 982.1 L478.5 979.9 L478.8 978.9 L479.0 978.8 L479.3 978.7 L479.5 978.7 L479.8 978.6 L480.0 978.6 L480.3 978.7 L480.5 978.2 L480.8 976.1 L481.0 974.1 L481.3 972.2 L481.5 970.4 L481.8 970.7 L482.0 971.2 L482.3 971.8 L482.5 972.6 L482.8 973.4 L483.0 974.3 L483.3 975.3 L483.5 975.9 L483.8 976.6 L484.0 977.3 L484.3 977.8 L484.5 978.2 L484.8 978.6 L485.0 979.1 L485.3 978.3 L485.5 976.5 L485.8 974.7 L486.0 972.9 L486.3 971.1 L486.5 969.7 L486.8 971.8 L487.0 973.9 L487.3 976.0 L487.5 978.1 L487.8 980.3 L488.0 982.5 L488.3 984.9 L488.5 986.0 L488.8 986.9 L489.0 987.7 L489.3 988.6 L489.5 989.5 L489.8 990.6 L490.0 992.1 L490.3 993.6 L490.5 995.0 L490.8 996.4 L491.0 997.7 L491.3 997.9 L491.5 997.6 L491.8 997.1 L492.0 997.7 L492.3 998.5 L492.5 999.2 L492.8 999.6 L493.0 999.4 L493.3 998.0 L493.5 996.4 L493.8 994.6 L494.0 992.6 L494.3 990.5 L494.5 988.3 L494.8 986.5 L495.0 985.9 L495.3 985.1 L495.5 984.3 L495.8 983.1 L496.0 980.7 L496.3 978.3 L496.5 975.9 L496.8 973.6 L497.0 971.6 L497.3 970.2 L497.5 968.8 L497.8 967.5 L498.0 966.4 L498.3 965.4 L498.5 964.0 L498.8 962.7 L499.0 961.6 L499.3 960.5 L499.5 959.4 L499.8 958.3 L500.0 957.8 L500.3 957.3 L500.5 956.8 L500.8 956.3 L501.0 955.9 L501.3 954.8 L501.5 953.7 L501.8 952.6 L502.0 951.6 L502.3 950.8 L502.5 950.7 L502.8 950.6 L503.0 950.5 L503.3 950.5 L503.5 950.6 L503.8 950.7 L504.0 950.8 L504.3 950.7 L504.5 950.6 L504.8 950.6 L505.0 950.9 L505.3 950.8 L505.5 950.9 L505.8 951.1 L506.0 951.5 L506.3 952.0 L506.5 952.7 L506.8 953.5 L507.0 954.4 L507.3 955.4 L507.5 956.3 L507.8 957.3 L508.0 959.9 L508.3 962.6 L508.5 965.3 L508.8 967.1 L509.0 968.6 L509.3 970.0 L509.5 971.5 L509.8 973.0 L510.0 974.4 L510.3 975.2 L510.5 976.1 L510.8 976.9 L511.0 977.7 L511.3 978.5 L511.5 978.9 L511.8 979.3 L512.0 979.6 L512.3 979.8 L512.5 980.1 L512.8 980.2 L513.0 980.4 L513.3 983.1 L513.5 985.8 L513.8 988.6 L514.0 990.8 L514.3 990.6 L514.5 990.3 L514.8 990.1 L515.0 989.8 L515.3 989.5 L515.5 989.2 L515.8 990.0 L516.0 992.0 L516.3 993.9 L516.5 995.8 L516.8 997.5 L517.0 997.5 L517.3 996.9 L517.5 996.1 L517.8 995.2 L518.0 994.1 L518.3 992.9 L518.5 992.6 L518.8 992.7 L519.0 992.8 L519.3 992.7 L519.5 992.5 L519.8 990.7 L520.0 988.5 L520.3 986.2 L520.5 984.0 L520.8 981.7 L521.0 979.6 L521.3 980.2 L521.5 980.8 L521.8 981.5 L522.0 980.6 L522.3 979.6 L522.5 978.8 L522.8 978.1 L523.0 977.5 L523.3 977.0 L523.5 976.3 L523.8 975.0 L524.0 973.7 L524.3 972.8 L524.5 972.3 L524.8 971.8 L525.0 971.2 L525.3 970.7 L525.5 970.3 L525.8 969.8 L526.0 969.4 L526.3 968.9 L526.5 968.4 L526.8 967.9 L527.0 967.5 L527.3 967.3 L527.5 967.6 L527.8 967.9 L528.0 968.2 L528.3 967.6 L528.5 966.8 L528.8 966.2 L529.0 965.6 L529.3 965.1 L529.5 964.8 L529.8 964.5 L530.0 964.4 L530.3 963.6 L530.5 962.6 L530.8 961.7 L531.0 960.8 L531.3 963.0 L531.5 966.0 L531.8 969.0 L532.0 970.1 L532.3 968.1 L532.5 966.1 L532.8 964.0 L533.0 961.9 L533.3 959.8 L533.5 957.6 L533.8 961.8 L534.0 965.8 L534.3 969.8 L534.5 973.6 L534.8 977.3 L535.0 979.1 L535.3 976.5 L535.5 973.9 L535.8 971.3 L536.0 968.7 L536.3 968.4 L536.5 970.8 L536.8 973.2 L537.0 975.6 L537.3 978.0 L537.5 978.1 L537.8 977.6 L538.0 977.0 L538.3 976.5 L538.5 975.9 L538.8 975.3 L539.0 975.2 L539.3 975.3 L539.5 975.4 L539.8 975.6 L540.0 975.4 L540.3 975.0 L540.5 974.6 L540.8 974.2 L541.0 973.7 L541.3 973.3 L541.5 972.8 L541.8 972.5 L542.0 972.3 L542.3 972.1 L542.5 971.9 L542.8 971.8 L543.0 971.6 L543.3 970.4 L543.5 969.0 L543.8 967.6 L544.0 966.7 L544.3 966.8 L544.5 966.9 L544.8 967.1 L545.0 967.3 L545.3 967.5 L545.5 967.5 L545.8 966.7 L546.0 966.0 L546.3 965.4 L546.5 964.8 L546.8 964.7 L547.0 964.6 L547.3 964.7 L547.5 964.8 L547.8 964.2 L548.0 963.5 L548.3 962.8 L548.5 962.3 L548.8 961.7 L549.0 961.2 L549.3 960.8 L549.5 961.5 L549.8 964.8 L550.0 968.1 L550.3 971.3 L550.5 971.7 L550.8 972.0 L551.0 972.3 L551.3 972.4 L551.5 972.5 L551.8 972.9 L552.0 973.2 L552.3 973.5 L552.5 973.8 L552.8 974.0 L553.0 974.2 L553.3 974.3 L553.5 973.1 L553.8 970.8 L554.0 968.5 L554.3 966.2 L554.5 963.8 L554.8 965.0 L555.0 966.6 L555.3 968.1 L555.5 969.7 L555.8 971.3 L556.0 972.2 L556.3 970.9 L556.5 969.5 L556.8 968.2 L557.0 967.0 L557.3 967.8 L557.5 968.6 L557.8 969.4 L558.0 970.2 L558.3 970.0 L558.5 969.9 L558.8 969.8 L559.0 969.8 L559.3 969.8 L559.5 969.9 L559.8 970.0 L560.0 970.0 L560.3 970.1 L560.5 970.2 L560.8 970.3 L561.0 970.5 L561.3 969.9 L561.5 967.5 L561.8 965.0 L562.0 963.3 L562.3 965.7 L562.5 968.1 L562.8 970.6 L563.0 973.0 L563.3 975.5 L563.5 976.6 L563.8 977.2 L564.0 977.8 L564.3 978.5 L564.5 979.1 L564.8 979.7 L565.0 980.1 L565.3 980.6 L565.5 981.1 L565.8 981.8 L566.0 982.8 L566.3 983.8 L566.5 984.9 L566.8 986.0 L567.0 987.2 L567.3 988.3 L567.5 989.5 L567.8 990.8 L568.0 992.2 L568.3 993.6 L568.5 994.8 L568.8 995.7 L569.0 996.6 L569.3 997.4 L569.5 998.1 L569.8 998.7 L570.0 999.2 L570.3 999.6 L570.5 999.9 L570.8 1000.1 L571.0 1000.1 L571.3 1000.0 L571.5 999.8 L571.8 999.5 L572.0 999.2 L572.3 998.7 L572.5 998.2 L572.8 997.6 L573.0 997.0 L573.3 996.1 L573.5 995.4 L573.8 994.6 L574.0 994.1 L574.3 993.9 L574.5 993.9 L574.8 993.9 L575.0 994.2 L575.3 994.6 L575.5 995.2 L575.8 996.4 L576.0 997.8 L576.3 998.9 L576.5 998.0 L576.8 997.0 L577.0 996.1 L577.3 995.2 L577.5 994.3 L577.8 993.3 L578.0 992.2 L578.3 995.4 L578.5 998.5 L578.8 1001.4 L579.0 1004.1 L579.3 1006.7 L579.5 1005.3 L579.8 1003.4 L580.0 1001.4 L580.3 999.3 L580.5 997.1 L580.8 998.0 L581.0 1000.1 L581.3 1002.1 L581.5 1002.0 L581.8 1000.4 L582.0 998.8 L582.3 997.2 L582.5 995.5 L582.8 993.8 L583.0 992.1 L583.3 991.9 L583.5 991.8 L583.8 991.8 L584.0 991.8 L584.3 991.2 L584.5 989.6 L584.8 988.0 L585.0 986.3 L585.3 984.5 L585.5 982.6 L585.8 980.6 L586.0 978.6 L586.3 978.2 L586.5 977.6 L586.8 977.0 L587.0 971.5 L587.3 962.4 L587.5 953.4 L587.8 944.4 L588.0 935.4 L588.3 926.5 L588.5 922.0 L588.8 929.8 L589.0 937.8 L589.3 945.8 L589.5 953.9 L589.8 959.5 L590.0 957.5 L590.3 955.7 L590.5 954.1 L590.8 952.7 L591.0 951.5 L591.3 952.1 L591.5 953.0 L591.8 954.0 L592.0 955.1 L592.3 956.2 L592.5 957.2 L592.8 957.5 L593.0 958.0 L593.3 958.4 L593.5 958.5 L593.8 958.6 L594.0 958.8 L594.3 959.0 L594.5 959.2 L594.8 959.5 L595.0 960.1 L595.3 960.8 L595.5 961.6 L595.8 962.4 L596.0 963.2 L596.3 964.1 L596.5 965.5 L596.8 967.0 L597.0 968.6 L597.3 970.1 L597.5 970.4 L597.8 970.3 L598.0 970.3 L598.3 970.4 L598.5 970.6 L598.8 970.9 L599.0 972.3 L599.3 974.9 L599.5 977.4 L599.8 979.5 L600.0 980.8 L600.3 982.0 L600.5 983.3 L600.8 984.5 L601.0 985.6 L601.3 986.7 L601.5 987.8 L601.8 988.5 L602.0 989.0 L602.3 989.4 L602.5 989.3 L602.8 988.6 L603.0 987.9 L603.3 986.9 L603.5 986.3 L603.8 986.6 L604.0 986.8 L604.3 986.8 L604.5 986.8 L604.8 986.7 L605.0 985.5 L605.3 983.1 L605.5 980.8 L605.8 978.4 L606.0 976.1 L606.3 973.8 L606.5 973.8 L606.8 974.8 L607.0 975.8 L607.3 977.0 L607.5 978.3 L607.8 979.7 L608.0 981.0 L608.3 981.9 L608.5 982.8 L608.8 983.8 L609.0 985.0 L609.3 986.2 L609.5 987.1 L609.8 987.9 L610.0 988.8 L610.3 988.1 L610.5 986.9 L610.8 985.8 L611.0 984.7 L611.3 983.6 L611.5 982.5 L611.8 981.4 L612.0 983.5 L612.3 987.0 L612.5 990.5 L612.8 993.9 L613.0 997.3 L613.3 998.0 L613.5 997.0 L613.8 995.9 L614.0 994.8 L614.3 993.6 L614.5 992.4 L614.8 993.8 L615.0 995.9 L615.3 998.0 L615.5 999.7 L615.8 1001.2 L616.0 1002.6 L616.3 1004.1 L616.5 1005.6 L616.8 1007.1 L617.0 1007.6 L617.3 1008.2 L617.5 1008.7 L617.8 1009.4 L618.0 1010.2 L618.3 1010.9 L618.5 1011.7 L618.8 1012.5 L619.0 1013.5 L619.3 1014.6 L619.5 1015.7 L619.8 1016.8 L619.8 1033.3 L619.5 1031.6 L619.3 1029.9 L619.0 1027.8 L618.8 1025.7 L618.5 1023.7 L618.3 1021.9 L618.0 1020.5 L617.8 1020.6 L617.5 1021.0 L617.3 1021.4 L617.0 1020.9 L616.8 1019.7 L616.5 1018.5 L616.3 1017.4 L616.0 1016.3 L615.8 1015.2 L615.5 1014.2 L615.3 1013.4 L615.0 1013.1 L614.8 1012.8 L614.5 1012.4 L614.3 1012.1 L614.0 1011.7 L613.8 1011.1 L613.5 1010.0 L613.3 1008.9 L613.0 1009.8 L612.8 1011.1 L612.5 1012.3 L612.3 1013.5 L612.0 1014.7 L611.8 1015.9 L611.5 1017.0 L611.3 1014.8 L611.0 1010.8 L610.8 1006.9 L610.5 1002.9 L610.3 999.0 L610.0 1000.2 L609.8 1002.4 L609.5 1004.6 L609.3 1006.9 L609.0 1009.3 L608.8 1009.5 L608.5 1006.6 L608.3 1003.9 L608.0 1001.3 L607.8 998.8 L607.5 996.4 L607.3 995.5 L607.0 997.6 L606.8 999.8 L606.5 1002.0 L606.3 1004.4 L606.0 1005.0 L605.8 1003.6 L605.5 1002.2 L605.3 1000.8 L605.0 999.4 L604.8 1000.7 L604.5 1004.4 L604.3 1008.0 L604.0 1011.5 L603.8 1014.9 L603.5 1017.9 L603.3 1015.3 L603.0 1012.4 L602.8 1009.4 L602.5 1006.3 L602.3 1003.1 L602.0 1002.7 L601.8 1002.6 L601.5 1002.5 L601.3 1002.3 L601.0 1000.8 L600.8 998.6 L600.5 996.3 L600.3 994.0 L600.0 991.7 L599.8 990.3 L599.5 993.1 L599.3 995.8 L599.0 998.6 L598.8 1001.4 L598.5 998.1 L598.3 994.2 L598.0 990.4 L597.8 986.7 L597.5 983.0 L597.3 980.8 L597.0 980.0 L596.8 979.1 L596.5 978.2 L596.3 977.3 L596.0 976.6 L595.8 976.4 L595.5 976.1 L595.3 975.8 L595.0 975.6 L594.8 975.3 L594.5 975.1 L594.3 975.0 L594.0 974.9 L593.8 974.8 L593.5 974.8 L593.3 974.8 L593.0 974.8 L592.8 972.1 L592.5 969.4 L592.3 967.7 L592.0 968.6 L591.8 969.6 L591.5 970.6 L591.3 971.7 L591.0 973.0 L590.8 972.7 L590.5 972.3 L590.3 972.1 L590.0 972.1 L589.8 972.2 L589.5 973.8 L589.3 976.1 L589.0 978.5 L588.8 981.1 L588.5 983.7 L588.3 986.4 L588.0 988.1 L587.8 988.0 L587.5 987.9 L587.3 987.8 L587.0 988.7 L586.8 993.3 L586.5 997.9 L586.3 1002.4 L586.0 1006.9 L585.8 1010.5 L585.5 1010.1 L585.3 1009.6 L585.0 1009.0 L584.8 1008.2 L584.5 1007.4 L584.3 1006.5 L584.0 1006.5 L583.8 1008.8 L583.5 1011.2 L583.3 1012.5 L583.0 1012.9 L582.8 1013.3 L582.5 1013.7 L582.3 1014.1 L582.0 1014.4 L581.8 1015.2 L581.5 1016.7 L581.3 1018.2 L581.0 1019.7 L580.8 1021.1 L580.5 1022.4 L580.3 1023.6 L580.0 1022.8 L579.8 1022.0 L579.5 1021.0 L579.3 1020.5 L579.0 1020.7 L578.8 1020.8 L578.5 1020.6 L578.3 1020.4 L578.0 1020.0 L577.8 1019.4 L577.5 1018.5 L577.3 1017.3 L577.0 1016.1 L576.8 1014.8 L576.5 1014.5 L576.3 1014.5 L576.0 1014.6 L575.8 1014.7 L575.5 1014.9 L575.3 1015.3 L575.0 1014.7 L574.8 1014.3 L574.5 1014.0 L574.3 1013.9 L574.0 1014.0 L573.8 1014.5 L573.5 1015.1 L573.3 1015.7 L573.0 1016.4 L572.8 1017.1 L572.5 1017.6 L572.3 1017.9 L572.0 1018.2 L571.8 1018.4 L571.5 1018.5 L571.3 1018.5 L571.0 1018.3 L570.8 1018.5 L570.5 1018.8 L570.3 1018.9 L570.0 1018.9 L569.8 1018.8 L569.5 1017.0 L569.3 1015.0 L569.0 1012.9 L568.8 1010.7 L568.5 1011.9 L568.3 1014.1 L568.0 1016.3 L567.8 1017.6 L567.5 1014.8 L567.3 1012.1 L567.0 1009.4 L566.8 1006.6 L566.5 1004.0 L566.3 1001.3 L566.0 999.1 L565.8 999.3 L565.5 999.5 L565.3 999.8 L565.0 1000.2 L564.8 1000.7 L564.5 1000.3 L564.3 998.6 L564.0 996.8 L563.8 995.1 L563.5 993.4 L563.3 991.6 L563.0 992.1 L562.8 992.5 L562.5 993.0 L562.3 993.4 L562.0 993.4 L561.8 991.8 L561.5 990.3 L561.3 988.8 L561.0 987.3 L560.8 986.3 L560.5 986.0 L560.3 985.8 L560.0 985.6 L559.8 985.4 L559.5 985.3 L559.3 985.2 L559.0 985.1 L558.8 985.1 L558.5 985.2 L558.3 985.3 L558.0 986.4 L557.8 988.9 L557.5 991.5 L557.3 994.1 L557.0 996.8 L556.8 998.8 L556.5 997.0 L556.3 995.2 L556.0 993.5 L555.8 991.7 L555.5 990.0 L555.3 990.2 L555.0 993.0 L554.8 995.7 L554.5 995.7 L554.3 995.6 L554.0 995.5 L553.8 995.4 L553.5 995.2 L553.3 995.0 L553.0 994.9 L552.8 994.9 L552.5 994.9 L552.3 994.8 L552.0 994.7 L551.8 994.6 L551.5 994.3 L551.3 993.9 L551.0 993.5 L550.8 992.9 L550.5 992.3 L550.3 991.8 L550.0 992.4 L549.8 992.9 L549.5 993.4 L549.3 992.1 L549.0 990.7 L548.8 989.4 L548.5 988.0 L548.3 986.7 L548.0 985.5 L547.8 984.7 L547.5 984.4 L547.3 984.1 L547.0 983.9 L546.8 983.9 L546.5 984.3 L546.3 985.1 L546.0 985.9 L545.8 986.8 L545.5 987.7 L545.3 988.6 L545.0 989.0 L544.8 988.4 L544.5 987.8 L544.3 987.2 L544.0 986.7 L543.8 987.2 L543.5 987.7 L543.3 988.2 L543.0 988.7 L542.8 989.4 L542.5 990.1 L542.3 990.7 L542.0 991.4 L541.8 992.0 L541.5 992.3 L541.3 992.6 L541.0 992.8 L540.8 993.0 L540.5 993.1 L540.3 993.3 L540.0 994.1 L539.8 997.7 L539.5 1001.2 L539.3 1004.7 L539.0 1008.3 L538.8 1007.0 L538.5 1004.9 L538.3 1002.7 L538.0 1000.6 L537.8 998.4 L537.5 996.3 L537.3 998.6 L537.0 1001.3 L536.8 1004.0 L536.5 1006.6 L536.3 1009.3 L536.0 1011.2 L535.8 1008.5 L535.5 1005.8 L535.3 1003.1 L535.0 1000.4 L534.8 997.6 L534.5 997.9 L534.3 999.2 L534.0 1000.4 L533.8 1001.1 L533.5 1000.2 L533.3 999.1 L533.0 998.0 L532.8 996.8 L532.5 995.6 L532.3 994.3 L532.0 993.0 L531.8 991.6 L531.5 990.2 L531.3 988.9 L531.0 987.8 L530.8 987.1 L530.5 986.4 L530.3 985.9 L530.0 985.3 L529.8 984.9 L529.5 984.9 L529.3 985.1 L529.0 985.5 L528.8 986.1 L528.5 986.6 L528.3 986.2 L528.0 985.8 L527.8 985.4 L527.5 985.1 L527.3 984.8 L527.0 984.9 L526.8 985.3 L526.5 985.7 L526.3 986.1 L526.0 986.5 L525.8 987.0 L525.5 987.5 L525.3 988.0 L525.0 988.6 L524.8 989.1 L524.5 989.6 L524.3 990.1 L524.0 990.6 L523.8 991.1 L523.5 991.6 L523.3 992.1 L523.0 993.2 L522.8 994.7 L522.5 996.4 L522.3 998.3 L522.0 1000.2 L521.8 1002.1 L521.5 1004.1 L521.3 1006.2 L521.0 1008.2 L520.8 1010.3 L520.5 1010.6 L520.3 1010.6 L520.0 1010.4 L519.8 1010.3 L519.5 1010.2 L519.3 1011.1 L519.0 1011.8 L518.8 1012.5 L518.5 1013.0 L518.3 1013.4 L518.0 1013.7 L517.8 1014.1 L517.5 1014.3 L517.3 1014.3 L517.0 1014.2 L516.8 1014.0 L516.5 1014.6 L516.3 1015.2 L516.0 1015.6 L515.8 1016.0 L515.5 1015.2 L515.3 1013.7 L515.0 1012.0 L514.8 1010.4 L514.5 1008.7 L514.3 1007.0 L514.0 1005.3 L513.8 1003.7 L513.5 1002.9 L513.3 1002.2 L513.0 1001.5 L512.8 1000.6 L512.5 999.6 L512.3 998.5 L512.0 997.4 L511.8 996.2 L511.5 995.1 L511.3 994.3 L511.0 993.5 L510.8 992.7 L510.5 991.8 L510.3 991.0 L510.0 990.0 L509.8 988.6 L509.5 987.2 L509.3 985.9 L509.0 986.4 L508.8 986.9 L508.5 987.3 L508.3 987.6 L508.0 987.8 L507.8 988.0 L507.5 986.6 L507.3 983.3 L507.0 980.0 L506.8 976.7 L506.5 973.5 L506.3 970.4 L506.0 967.8 L505.8 966.6 L505.5 965.5 L505.3 964.6 L505.0 964.3 L504.8 964.4 L504.5 964.7 L504.3 965.2 L504.0 965.7 L503.8 966.0 L503.5 965.9 L503.3 965.9 L503.0 965.9 L502.8 966.0 L502.5 966.1 L502.3 966.3 L502.0 966.6 L501.8 967.0 L501.5 967.5 L501.3 968.0 L501.0 968.6 L500.8 969.7 L500.5 971.5 L500.3 973.3 L500.0 975.2 L499.8 977.0 L499.5 977.6 L499.3 977.3 L499.0 977.0 L498.8 976.6 L498.5 976.4 L498.3 977.0 L498.0 978.2 L497.8 979.4 L497.5 980.9 L497.3 982.4 L497.0 984.0 L496.8 987.5 L496.5 991.1 L496.3 994.8 L496.0 996.1 L495.8 997.4 L495.5 998.6 L495.3 999.9 L495.0 1001.1 L494.8 1002.2 L494.5 1004.0 L494.3 1006.2 L494.0 1008.3 L493.8 1010.3 L493.5 1012.1 L493.3 1013.6 L493.0 1014.2 L492.8 1014.3 L492.5 1014.1 L492.3 1013.6 L492.0 1013.0 L491.8 1012.3 L491.5 1011.6 L491.3 1010.8 L491.0 1009.8 L490.8 1009.0 L490.5 1008.3 L490.3 1007.6 L490.0 1006.8 L489.8 1006.0 L489.5 1005.2 L489.3 1004.3 L489.0 1003.3 L488.8 1002.3 L488.5 1001.3 L488.3 1000.3 L488.0 999.4 L487.8 998.6 L487.5 997.1 L487.3 995.7 L487.0 994.5 L486.8 994.3 L486.5 994.0 L486.3 993.7 L486.0 993.5 L485.8 993.2 L485.5 992.9 L485.3 992.7 L485.0 992.0 L484.8 990.8 L484.5 989.7 L484.3 988.8 L484.0 988.0 L483.8 987.3 L483.5 986.7 L483.3 986.2 L483.0 986.7 L482.8 987.2 L482.5 987.8 L482.3 988.5 L482.0 989.3 L481.8 989.7 L481.5 989.7 L481.3 989.8 L481.0 990.0 L480.8 990.2 L480.5 990.6 L480.3 991.0 L480.0 991.4 L479.8 992.0 L479.5 992.6 L479.3 993.2 L479.0 993.9 L478.8 994.6 L478.5 995.5 L478.3 996.4 L478.0 997.3 L477.8 998.1 L477.5 999.2 L477.3 1000.2 L477.0 1001.3 L476.8 1002.4 L476.5 1003.6 L476.3 1004.8 L476.0 1005.9 L475.8 1006.1 L475.5 1006.4 L475.3 1007.7 L475.0 1009.7 L474.8 1011.7 L474.5 1013.6 L474.3 1015.6 L474.0 1017.2 L473.8 1017.3 L473.5 1017.2 L473.3 1017.1 L473.0 1017.0 L472.8 1016.7 L472.5 1017.2 L472.3 1018.0 L472.0 1018.7 L471.8 1019.3 L471.5 1019.7 L471.3 1020.0 L471.0 1019.9 L470.8 1019.5 L470.5 1018.9 L470.3 1018.2 L470.0 1017.4 L469.8 1016.6 L469.5 1018.0 L469.3 1019.5 L469.0 1020.8 L468.8 1022.2 L468.5 1023.5 L468.3 1022.0 L468.0 1018.5 L467.8 1015.0 L467.5 1011.6 L467.3 1008.2 L467.0 1005.4 L466.8 1004.2 L466.5 1003.0 L466.3 1001.7 L466.0 1000.4 L465.8 999.1 L465.5 998.3 L465.3 997.6 L465.0 996.8 L464.8 996.0 L464.5 998.3 L464.3 1000.8 L464.0 1003.3 L463.8 1005.9 L463.5 1008.4 L463.3 1008.7 L463.0 1003.9 L462.8 999.3 L462.5 994.6 L462.3 989.9 L462.0 985.3 L461.8 984.3 L461.5 984.9 L461.3 985.5 L461.0 986.1 L460.8 986.7 L460.5 985.4 L460.3 983.0 L460.0 980.7 L459.8 978.3 L459.5 976.8 L459.3 976.0 L459.0 975.3 L458.8 974.6 L458.5 973.9 L458.3 973.4 L458.0 972.9 L457.8 971.4 L457.5 969.8 L457.3 968.2 L457.0 966.7 L456.8 965.3 L456.5 967.9 L456.3 971.5 L456.0 975.0 L455.8 978.6 L455.5 978.1 L455.3 973.6 L455.0 969.0 L454.8 964.5 L454.5 962.9 L454.3 964.6 L454.0 966.3 L453.8 968.1 L453.5 969.8 L453.3 971.6 L453.0 973.3 L452.8 971.2 L452.5 969.1 L452.3 967.0 L452.0 964.8 L451.8 962.7 L451.5 960.6 L451.3 960.7 L451.0 960.8 L450.8 960.9 L450.5 961.0 L450.3 961.1 L450.0 960.5 L449.8 959.8 L449.5 958.9 L449.3 957.9 L449.0 956.9 L448.8 955.9 L448.5 954.9 L448.3 953.8 L448.0 952.6 L447.8 951.7 L447.5 950.8 L447.3 950.0 L447.0 949.3 L446.8 948.6 L446.5 948.0 L446.3 947.5 L446.0 946.8 L445.8 946.0 L445.5 945.4 L445.3 945.0 L445.0 944.7 L444.8 944.5 L444.5 944.4 L444.3 944.4 L444.0 944.4 L443.8 944.5 L443.5 944.2 L443.3 943.9 L443.0 943.7 L442.8 944.2 L442.5 945.1 L442.3 946.0 L442.0 946.9 L441.8 947.9 L441.5 948.8 L441.3 949.7 L441.0 950.6 L440.8 951.6 L440.5 952.6 L440.3 953.6 L440.0 954.5 L439.8 955.0 L439.5 955.5 L439.3 956.0 L439.0 956.6 L438.8 958.2 L438.5 960.7 L438.3 963.3 L438.0 966.2 L437.8 969.0 L437.5 969.6 L437.3 970.2 L437.0 970.9 L436.8 971.8 L436.5 972.7 L436.3 974.0 L436.0 976.3 L435.8 978.6 L435.5 980.9 L435.3 983.2 L435.0 985.5 L434.8 987.7 L434.5 989.4 L434.3 991.0 L434.0 992.8 L433.8 994.7 L433.5 997.8 L433.3 1001.8 L433.0 1005.9 L432.8 1010.0 L432.5 1013.2 L432.3 1014.5 L432.0 1015.7 L431.8 1016.7 L431.5 1017.3 L431.3 1017.6 L431.0 1017.5 L430.8 1017.0 L430.5 1016.4 L430.3 1016.3 L430.0 1015.9 L429.8 1015.4 L429.5 1015.0 L429.3 1015.0 L429.0 1014.9 L428.8 1014.6 L428.5 1014.2 L428.3 1012.8 L428.0 1011.3 L427.8 1009.8 L427.5 1008.2 L427.3 1006.6 L427.0 1004.9 L426.8 1003.2 L426.5 1000.4 L426.3 997.3 L426.0 994.0 L425.8 992.8 L425.5 991.4 L425.3 989.9 L425.0 988.1 L424.8 986.3 L424.5 984.3 L424.3 979.9 L424.0 975.3 L423.8 970.8 L423.5 966.4 L423.3 962.1 L423.0 958.0 L422.8 958.9 L422.5 960.2 L422.3 961.2 L422.0 962.2 L421.8 963.1 L421.5 963.2 L421.3 954.4 L421.0 945.8 L420.8 937.3 L420.5 930.4 L420.3 927.9 L420.0 925.9 L419.8 924.2 L419.5 923.1 L419.3 923.2 L419.0 925.2 L418.8 928.9 L418.5 933.4 L418.3 937.7 L418.0 940.8 L417.8 941.6 L417.5 940.9 L417.3 939.6 L417.0 937.9 L416.8 936.2 L416.5 934.2 L416.3 932.0 L416.0 929.7 L415.8 927.3 L415.5 924.8 L415.3 922.9 L415.0 922.0 L414.8 921.2 L414.5 920.8 L414.3 920.1 L414.0 917.7 L413.8 915.8 L413.5 914.4 L413.3 913.6 L413.0 913.4 L412.8 913.7 L412.5 914.3 L412.3 919.2 L412.0 927.1 L411.8 934.0 L411.5 933.8 L411.3 933.3 L411.0 932.4 L410.8 931.0 L410.5 929.0 L410.3 926.4 L410.0 925.2 L409.8 925.7 L409.5 925.9 L409.3 925.9 L409.0 925.7 L408.8 925.4 L408.5 922.9 L408.3 917.2 L408.0 911.4 L407.8 907.3 L407.5 905.5 L407.3 903.8 L407.0 902.5 L406.8 901.5 L406.5 900.9 L406.3 900.9 L406.0 901.2 L405.8 901.5 L405.5 901.9 L405.3 902.4 L405.0 902.9 L404.8 903.6 L404.5 904.2 L404.3 904.7 L404.0 905.2 L403.8 905.7 L403.5 906.4 L403.3 907.4 L403.0 908.3 L402.8 909.3 L402.5 910.4 L402.3 911.5 L402.0 912.6 L401.8 913.7 L401.5 914.8 L401.3 916.0 L401.0 917.2 L400.8 917.8 L400.5 918.3 L400.3 918.9 L400.0 920.1 L399.8 922.1 L399.5 924.3 L399.3 926.6 L399.0 929.1 L398.8 931.7 L398.5 934.4 L398.3 937.3 L398.0 940.2 L397.8 942.5 L397.5 944.9 L397.3 947.3 L397.0 949.8 L396.8 953.1 L396.5 956.3 L396.3 959.6 L396.0 963.3 L395.8 967.4 L395.5 971.9 L395.3 976.3 L395.0 980.7 L394.8 985.2 L394.5 989.7 L394.3 994.9 L394.0 1000.5 L393.8 1005.8 L393.5 1010.8 L393.3 1015.3 L393.0 1019.3 L392.8 1020.5 L392.5 1019.6 L392.3 1018.6 L392.0 1018.5 L391.8 1020.5 L391.5 1022.4 L391.3 1024.2 L391.0 1026.0 L390.8 1027.5 L390.5 1029.0 L390.3 1030.0 L390.0 1030.3 L389.8 1030.4 L389.5 1030.3 L389.3 1030.0 L389.0 1030.3 L388.8 1031.7 L388.5 1032.8 L388.3 1033.6 L388.0 1034.2 L387.8 1031.6 L387.5 1029.0 L387.3 1026.2 L387.0 1023.3 L386.8 1020.5 L386.5 1017.6 L386.3 1017.5 L386.0 1017.3 L385.8 1017.0 L385.5 1016.0 L385.3 1013.1 L385.0 1010.0 L384.8 1006.9 L384.5 1003.6 L384.3 1000.3 L384.0 996.9 L383.8 995.3 L383.5 995.7 L383.3 996.2 L383.0 996.6 L382.8 997.0 L382.5 992.5 L382.3 988.1 L382.0 983.9 L381.8 979.7 L381.5 975.4 L381.3 970.9 L381.0 968.0 L380.8 965.9 L380.5 963.9 L380.3 962.0 L380.0 959.7 L379.8 957.5 L379.5 955.5 L379.3 953.8 L379.0 954.8 L378.8 956.7 L378.5 959.1 L378.3 961.8 L378.0 964.7 L377.8 967.7 L377.5 970.7 L377.3 972.6 L377.0 969.3 L376.8 966.0 L376.5 962.8 L376.3 959.5 L376.0 956.8 L375.8 956.4 L375.5 955.9 L375.3 955.5 L375.0 955.8 L374.8 956.0 L374.5 956.1 L374.3 956.2 L374.0 956.1 L373.8 955.8 L373.5 955.5 L373.3 955.0 L373.0 954.5 L372.8 953.8 L372.5 953.1 L372.3 952.3 L372.0 951.7 L371.8 951.1 L371.5 950.6 L371.3 950.1 L371.0 949.6 L370.8 949.6 L370.5 949.8 L370.3 950.1 L370.0 950.6 L369.8 951.2 L369.5 952.0 L369.3 951.3 L369.0 951.1 L368.8 951.2 L368.5 953.0 L368.3 955.2 L368.0 957.4 L367.8 959.6 L367.5 961.8 L367.3 963.7 L367.0 965.4 L366.8 966.8 L366.5 967.8 L366.3 968.2 L366.0 968.3 L365.8 968.2 L365.5 967.9 L365.3 967.4 L365.0 966.8 L364.8 966.1 L364.5 965.2 L364.3 963.6 L364.0 961.9 L363.8 960.3 L363.5 959.0 L363.3 965.1 L363.0 971.3 L362.8 977.6 L362.5 984.0 L362.3 990.4 L362.0 984.0 L361.8 976.8 L361.5 969.7 L361.3 962.9 L361.0 956.2 L360.8 953.2 L360.5 953.6 L360.3 954.2 L360.0 954.9 L359.8 955.7 L359.5 957.0 L359.3 958.3 L359.0 959.8 L358.8 961.3 L358.5 962.9 L358.3 964.6 L358.0 966.0 L357.8 967.1 L357.5 968.2 L357.3 969.2 L357.0 970.2 L356.8 971.3 L356.5 972.8 L356.3 975.0 L356.0 977.3 L355.8 979.8 L355.5 982.8 L355.3 985.8 L355.0 989.0 L354.8 992.1 L354.5 995.3 L354.3 997.4 L354.0 998.3 L353.8 999.2 L353.5 1000.0 L353.3 1001.2 L353.0 1004.2 L352.8 1007.0 L352.5 1009.6 L352.3 1012.0 L352.0 1014.3 L351.8 1016.3 L351.5 1018.4 L351.3 1019.4 L351.0 1019.5 L350.8 1019.7 L350.5 1019.8 L350.3 1019.9 L350.0 1020.3 L349.8 1020.7 L349.5 1021.0 L349.3 1021.2 L349.0 1021.5 L348.8 1022.1 L348.5 1022.5 L348.3 1022.8 L348.0 1023.0 L347.8 1023.4 L347.5 1023.6 L347.3 1023.6 L347.0 1023.3 L346.8 1022.8 L346.5 1022.1 L346.3 1021.2 L346.0 1020.1 L345.8 1018.9 L345.5 1017.6 L345.3 1016.1 L345.0 1014.6 L344.8 1013.3 L344.5 1012.2 L344.3 1011.1 L344.0 1010.0 L343.8 1009.0 L343.5 1008.1 L343.3 1005.6 L343.0 1003.1 L342.8 1000.5 L342.5 997.8 L342.3 995.8 L342.0 994.0 L341.8 992.2 L341.5 990.4 L341.3 988.6 L341.0 986.9 L340.8 984.5 L340.5 981.9 L340.3 979.3 L340.0 976.9 L339.8 974.5 L339.5 972.9 L339.3 972.1 L339.0 971.5 L338.8 971.0 L338.5 969.9 L338.3 968.8 L338.0 967.7 L337.8 966.7 L337.5 965.6 L337.3 964.7 L337.0 963.8 L336.8 963.0 L336.5 962.3 L336.3 961.7 L336.0 961.2 L335.8 960.9 L335.5 960.8 L335.3 960.9 L335.0 961.3 L334.8 961.9 L334.5 962.6 L334.3 963.5 L334.0 964.6 L333.8 965.8 L333.5 967.1 L333.3 969.0 L333.0 971.2 L332.8 973.5 L332.5 975.7 L332.3 977.9 L332.0 980.0 L331.8 982.1 L331.5 984.1 L331.3 985.9 L331.0 987.0 L330.8 986.5 L330.5 986.0 L330.3 985.6 L330.0 985.1 L329.8 984.9 L329.5 987.1 L329.3 989.4 L329.0 991.7 L328.8 993.9 L328.5 996.1 L328.3 997.7 L328.0 997.5 L327.8 997.2 L327.5 996.9 L327.3 996.5 L327.0 996.1 L326.8 995.5 L326.5 997.5 L326.3 1000.1 L326.0 1002.6 L325.8 1005.0 L325.5 1007.3 L325.3 1005.9 L325.0 1003.8 L324.8 1001.6 L324.5 999.2 L324.3 996.7 L324.0 994.1 L323.8 992.9 L323.5 992.2 L323.3 991.4 L323.0 990.3 L322.8 989.2 L322.5 988.2 L322.3 987.1 L322.0 986.1 L321.8 985.5 L321.5 984.8 L321.3 984.1 L321.0 983.3 L320.8 982.4 L320.5 981.5 L320.3 980.7 L320.0 979.6 L319.8 978.5 L319.5 977.6 L319.3 976.7 L319.0 975.8 L318.8 975.1 L318.5 974.6 L318.3 974.3 L318.0 974.1 L317.8 974.2 L317.5 974.3 L317.3 974.6 L317.0 974.9 L316.8 975.4 L316.5 975.9 L316.3 976.5 L316.0 979.5 L315.8 984.7 L315.5 990.0 L315.3 995.1 L315.0 993.3 L314.8 991.6 L314.5 989.8 L314.3 988.1 L314.0 986.4 L313.8 987.1 L313.5 988.2 L313.3 989.2 L313.0 990.2 L312.8 991.1 L312.5 992.0 L312.3 992.8 L312.0 993.6 L311.8 994.3 L311.5 995.0 L311.3 996.7 L311.0 1000.2 L310.8 1003.8 L310.5 1007.4 L310.3 1011.0 L310.0 1011.7 L309.8 1010.9 L309.5 1010.0 L309.3 1009.0 L309.0 1008.1 L308.8 1007.1 L308.5 1006.2 L308.3 1007.0 L308.0 1007.7 L307.8 1008.4 L307.5 1009.0 L307.3 1009.5 L307.0 1010.2 L306.8 1011.6 L306.5 1012.8 L306.3 1013.9 L306.0 1014.8 L305.8 1014.6 L305.5 1014.2 L305.3 1013.6 L305.0 1012.9 L304.8 1012.0 L304.5 1011.0 L304.3 1009.9 L304.0 1008.7 L303.8 1007.4 L303.5 1006.1 L303.3 1004.8 L303.0 1003.4 L302.8 1002.1 L302.5 1000.7 L302.3 999.6 L302.0 999.4 L301.8 999.2 L301.5 999.1 L301.3 998.9 L301.0 998.4 L300.8 997.3 L300.5 996.1 L300.3 995.0 L300.0 993.8 L299.8 992.6 L299.5 991.0 L299.3 989.3 L299.0 987.6 L298.8 986.0 L298.5 984.5 L298.3 983.1 L298.0 983.1 L297.8 984.4 L297.5 985.7 L297.3 987.2 L297.0 988.5 L296.8 986.8 L296.5 985.2 L296.3 983.6 L296.0 982.0 L295.8 980.4 L295.5 982.9 L295.3 985.4 L295.0 987.9 L294.8 990.5 L294.5 993.0 L294.3 994.6 L294.0 991.5 L293.8 988.4 L293.5 985.3 L293.3 982.2 L293.0 981.4 L292.8 981.8 L292.5 982.1 L292.3 982.5 L292.0 982.8 L291.8 983.2 L291.5 983.6 L291.3 983.8 L291.0 983.9 L290.8 984.2 L290.5 984.6 L290.3 985.1 L290.0 987.0 L289.8 989.9 L289.5 992.8 L289.3 993.5 L289.0 994.1 L288.8 994.6 L288.5 995.2 L288.3 995.9 L288.0 998.2 L287.8 1000.4 L287.5 1002.6 L287.3 1004.8 L287.0 1006.9 L286.8 1009.0 L286.5 1008.9 L286.3 1008.3 L286.0 1007.6 L285.8 1006.8 L285.5 1006.7 L285.3 1008.0 L285.0 1009.1 L284.8 1010.1 L284.5 1010.9 L284.3 1011.6 L284.0 1012.4 L283.8 1012.8 L283.5 1011.7 L283.3 1010.5 L283.0 1009.3 L282.8 1008.4 L282.5 1009.0 L282.3 1009.6 L282.0 1010.2 L281.8 1010.8 L281.5 1011.3 L281.3 1010.1 L281.0 1008.8 L280.8 1007.6 L280.5 1006.3 L280.3 1006.0 L280.0 1005.8 L279.8 1005.5 L279.5 1005.2 L279.3 1004.5 L279.0 1003.6 L278.8 1002.3 L278.5 1001.1 L278.3 999.8 L278.0 998.3 L277.8 996.9 L277.5 995.5 L277.3 994.2 L277.0 993.1 L276.8 992.2 L276.5 991.5 L276.3 991.2 L276.0 991.3 L275.8 990.7 L275.5 990.2 L275.3 989.8 L275.0 990.2 L274.8 991.1 L274.5 992.1 L274.3 993.0 L274.0 993.9 L273.8 994.7 L273.5 995.3 L273.3 995.7 L273.0 995.9 L272.8 996.0 L272.5 996.0 L272.3 995.9 L272.0 995.8 L271.8 996.3 L271.5 996.7 L271.3 997.2 L271.0 996.5 L270.8 995.7 L270.5 994.9 L270.3 994.0 L270.0 993.2 L269.8 992.3 L269.5 991.5 L269.3 991.1 L269.0 991.8 L268.8 992.4 L268.5 991.3 L268.3 990.2 L268.0 989.2 L267.8 988.2 L267.5 987.2 L267.3 986.4 L267.0 985.6 L266.8 986.7 L266.5 987.8 L266.3 989.3 L266.0 990.5 L265.8 990.7 L265.5 991.0 L265.3 991.4 L265.0 991.8 L264.8 992.3 L264.5 993.0 L264.3 994.4 L264.0 995.8 L263.8 996.9 L263.5 997.9 L263.3 998.6 L263.0 999.0 L262.8 1000.1 L262.5 1001.7 L262.3 1002.4 L262.0 1000.6 L261.8 998.7 L261.5 996.6 L261.3 994.4 L261.0 992.1 L260.8 989.8 L260.5 988.2 L260.3 986.7 L260.0 985.4 L259.8 984.3 L259.5 982.6 L259.3 980.6 L259.0 979.0 L258.8 977.8 L258.5 976.6 L258.3 975.9 L258.0 975.9 L257.8 975.8 L257.5 975.8 L257.3 975.8 L257.0 975.8 L256.8 975.9 L256.5 975.9 L256.3 978.1 L256.0 982.2 L255.8 986.3 L255.5 990.4 L255.3 994.5 L255.0 995.8 L254.8 989.8 L254.5 983.9 L254.3 977.9 L254.0 978.5 L253.8 979.7 L253.5 980.9 L253.3 982.0 L253.0 983.2 L252.8 984.3 L252.5 985.0 L252.3 983.9 L252.0 982.8 L251.8 983.3 L251.5 985.3 L251.3 987.2 L251.0 989.1 L250.8 990.9 L250.5 992.8 L250.3 994.6 L250.0 996.4 L249.8 995.9 L249.5 990.1 L249.3 984.2 L249.0 978.5 L248.8 979.0 L248.5 979.4 L248.3 979.9 L248.0 980.3 L247.8 980.4 L247.5 979.5 L247.3 978.6 L247.0 977.7 L246.8 976.9 L246.5 976.1 L246.3 975.3 L246.0 974.9 L245.8 975.0 L245.5 975.4 L245.3 976.2 L245.0 977.3 L244.8 978.7 L244.5 980.2 L244.3 981.9 L244.0 983.7 L243.8 985.5 L243.5 986.8 L243.3 988.0 L243.0 989.1 L242.8 990.1 L242.5 991.3 L242.3 992.3 L242.0 993.0 L241.8 993.5 L241.5 993.5 L241.3 994.6 L241.0 995.6 L240.8 996.5 L240.5 997.2 L240.3 997.9 L240.0 998.5 L239.8 999.1 L239.5 999.6 L239.3 996.7 L239.0 993.7 L238.8 990.9 L238.5 988.2 L238.3 988.0 L238.0 989.5 L237.8 991.1 L237.5 992.9 L237.3 994.7 L237.0 995.9 L236.8 994.7 L236.5 993.6 L236.3 992.5 L236.0 991.5 L235.8 990.6 L235.5 992.6 L235.3 995.4 L235.0 998.2 L234.8 999.9 L234.5 999.5 L234.3 999.2 L234.0 998.9 L233.8 998.6 L233.5 998.3 L233.3 999.3 L233.0 1000.7 L232.8 1002.3 L232.5 1004.1 L232.3 1006.2 L232.0 1007.9 L231.8 1009.5 L231.5 1011.2 L231.3 1013.0 L231.0 1014.8 L230.8 1016.6 L230.5 1018.2 L230.3 1019.8 L230.0 1021.2 L229.8 1022.4 L229.5 1023.4 L229.3 1024.1 L229.0 1024.5 L228.8 1024.5 L228.5 1024.2 L228.3 1023.4 L228.0 1022.4 L227.8 1021.1 L227.5 1021.2 L227.3 1021.3 L227.0 1021.4 L226.8 1021.6 L226.5 1019.6 L226.3 1017.7 L226.0 1016.3 L225.8 1015.2 L225.5 1014.5 L225.3 1014.8 L225.0 1015.7 L224.8 1016.9 L224.5 1018.2 L224.3 1019.7 L224.0 1021.3 L223.8 1022.9 L223.5 1024.4 L223.3 1025.7 L223.0 1027.6 L222.8 1030.0 L222.5 1032.2 L222.3 1034.0 L222.0 1035.3 L221.8 1036.2 L221.5 1036.7 L221.3 1034.7 L221.0 1030.5 L220.8 1026.0 L220.5 1021.4 L220.3 1016.6 L220.0 1015.2 L219.8 1014.1 L219.5 1013.1 L219.3 1011.6 L219.0 1009.0 L218.8 1006.7 L218.5 1004.8 L218.3 1003.2 L218.0 1003.3 L217.8 1012.3 L217.5 1021.7 L217.3 1031.3 L217.0 1041.1 L216.8 1050.8 L216.5 1046.4 L216.3 1042.0 L216.0 1037.7 L215.8 1033.5 L215.5 1029.2 L215.3 1024.9 L215.0 1020.5 L214.8 1018.7 L214.5 1020.2 L214.3 1021.6 L214.0 1022.6 L213.8 1023.4 L213.5 1023.3 L213.3 1022.8 L213.0 1022.2 L212.8 1021.6 L212.5 1021.0 L212.3 1020.6 L212.0 1020.0 L211.8 1019.4 L211.5 1018.8 L211.3 1018.2 L211.0 1017.4 L210.8 1016.5 L210.5 1015.5 L210.3 1014.6 L210.0 1013.8 L209.8 1013.2 L209.5 1012.5 L209.3 1011.8 L209.0 1011.2 L208.8 1010.5 L208.5 1009.8 L208.3 1009.2 L208.0 1008.6 L207.8 1008.0 L207.5 1007.4 L207.3 1006.8 L207.0 1006.1 L206.8 1005.4 L206.5 1004.5 L206.3 1003.6 L206.0 1002.6 L205.8 1001.6 L205.5 1000.4 L205.3 999.1 L205.0 997.8 L204.8 996.5 L204.5 996.2 L204.3 997.3 L204.0 998.6 L203.8 1000.0 L203.5 999.3 L203.3 997.9 L203.0 996.6 L202.8 995.6 L202.5 995.1 L202.3 994.9 L202.0 995.1 L201.8 996.5 L201.5 997.9Z" stroke="none" stroke-width="0" fill="#6464F1" fill-opacity="0.36"/>
<path d="M201.5 990.9 L201.8 989.3 L202.0 989.9 L202.3 988.9 L202.5 986.1 L202.8 986.4 L203.0 986.1 L203.3 986.8 L203.5 988.6 L203.8 989.2 L204.0 988.6 L204.3 988.9 L204.5 990.7 L204.8 990.5 L205.0 991.7 L205.3 993.0 L205.5 992.7 L205.8 993.9 L206.0 995.8 L206.3 996.2 L206.5 997.0 L206.8 998.4 L207.0 998.4 L207.3 998.6 L207.5 1002.0 L207.8 1002.8 L208.0 1000.3 L208.3 1001.2 L208.5 1002.6 L208.8 1002.2 L209.0 1004.5 L209.3 1005.7 L209.5 1004.9 L209.8 1006.0 L210.0 1009.0 L210.3 1010.6 L210.5 1010.4 L210.8 1010.2 L211.0 1010.8 L211.3 1011.3 L211.5 1011.5 L211.8 1012.2 L212.0 1012.4 L212.3 1013.2 L212.5 1012.1 L212.8 1012.3 L213.0 1013.6 L213.3 1014.3 L213.5 1013.2 L213.8 1013.7 L214.0 1014.1 L214.3 1013.3 L214.5 1014.0 L214.8 1012.2 L215.0 1009.5 L215.3 1008.4 L215.5 1008.1 L215.8 1007.5 L216.0 1004.7 L216.3 1004.3 L216.5 1002.8 L216.8 1000.7 L217.0 999.2 L217.3 997.4 L217.5 997.8 L217.8 996.7 L218.0 996.1 L218.3 997.1 L218.5 998.9 L218.8 999.2 L219.0 999.7 L219.3 1002.2 L219.5 1003.7 L219.8 1006.3 L220.0 1008.1 L220.3 1010.4 L220.5 1015.0 L220.8 1016.3 L221.0 1017.3 L221.3 1019.1 L221.5 1019.4 L221.8 1020.7 L222.0 1022.6 L222.3 1024.2 L222.5 1022.4 L222.8 1021.9 L223.0 1022.1 L223.3 1021.5 L223.5 1018.5 L223.8 1017.4 L224.0 1015.8 L224.3 1014.3 L224.5 1013.6 L224.8 1012.4 L225.0 1008.6 L225.3 1007.9 L225.5 1008.2 L225.8 1008.5 L226.0 1009.0 L226.3 1009.2 L226.5 1011.0 L226.8 1011.8 L227.0 1011.1 L227.3 1011.3 L227.5 1013.1 L227.8 1014.1 L228.0 1015.8 L228.3 1016.6 L228.5 1017.1 L228.8 1017.7 L229.0 1017.5 L229.3 1016.6 L229.5 1015.0 L229.8 1013.5 L230.0 1013.9 L230.3 1011.9 L230.5 1008.5 L230.8 1006.1 L231.0 1006.5 L231.3 1004.2 L231.5 1001.5 L231.8 998.9 L232.0 997.7 L232.3 995.5 L232.5 994.0 L232.8 991.4 L233.0 989.2 L233.3 988.8 L233.5 988.3 L233.8 986.5 L234.0 985.1 L234.3 984.6 L234.5 986.4 L234.8 984.8 L235.0 983.8 L235.3 982.4 L235.5 982.9 L235.8 983.0 L236.0 981.5 L236.3 982.0 L236.5 982.5 L236.8 981.5 L237.0 983.0 L237.3 982.3 L237.5 980.4 L237.8 979.8 L238.0 979.6 L238.3 978.8 L238.5 978.1 L238.8 979.1 L239.0 979.1 L239.3 979.5 L239.5 979.7 L239.8 980.9 L240.0 981.2 L240.3 982.7 L240.5 984.0 L240.8 983.6 L241.0 984.9 L241.3 985.1 L241.5 985.4 L241.8 985.8 L242.0 983.8 L242.3 981.9 L242.5 982.5 L242.8 981.1 L243.0 976.4 L243.3 975.0 L243.5 975.8 L243.8 974.9 L244.0 974.2 L244.3 973.0 L244.5 971.9 L244.8 970.5 L245.0 970.5 L245.3 969.0 L245.5 970.6 L245.8 971.1 L246.0 970.9 L246.3 970.8 L246.5 970.2 L246.8 969.4 L247.0 968.9 L247.3 969.7 L247.5 969.6 L247.8 969.7 L248.0 970.0 L248.3 969.3 L248.5 970.6 L248.8 969.7 L249.0 968.7 L249.3 968.2 L249.5 969.2 L249.8 968.9 L250.0 971.3 L250.3 972.4 L250.5 972.3 L250.8 972.9 L251.0 973.0 L251.3 972.6 L251.5 970.5 L251.8 970.6 L252.0 972.2 L252.3 971.1 L252.5 972.5 L252.8 971.8 L253.0 970.6 L253.3 970.6 L253.5 970.4 L253.8 969.8 L254.0 969.4 L254.3 970.4 L254.5 970.7 L254.8 971.2 L255.0 970.4 L255.3 969.8 L255.5 970.2 L255.8 969.2 L256.0 967.1 L256.3 967.2 L256.5 968.5 L256.8 967.9 L257.0 967.0 L257.3 968.2 L257.5 968.9 L257.8 969.3 L258.0 969.5 L258.3 969.3 L258.5 967.9 L258.8 965.9 L259.0 966.8 L259.3 967.6 L259.5 970.3 L259.8 970.6 L260.0 972.1 L260.3 973.3 L260.5 973.5 L260.8 975.3 L261.0 979.2 L261.3 981.1 L261.5 981.8 L261.8 982.9 L262.0 984.9 L262.3 986.9 L262.5 987.9 L262.8 988.9 L263.0 988.4 L263.3 988.6 L263.5 985.4 L263.8 985.2 L264.0 986.5 L264.3 984.8 L264.5 983.4 L264.8 981.7 L265.0 980.1 L265.3 978.5 L265.5 978.0 L265.8 976.7 L266.0 977.1 L266.3 976.8 L266.5 976.5 L266.8 975.5 L267.0 976.2 L267.3 976.0 L267.5 978.1 L267.8 977.8 L268.0 978.0 L268.3 979.3 L268.5 979.4 L268.8 979.7 L269.0 981.2 L269.3 981.5 L269.5 982.6 L269.8 982.8 L270.0 982.9 L270.3 983.4 L270.5 985.9 L270.8 986.6 L271.0 986.8 L271.3 987.1 L271.5 989.9 L271.8 989.9 L272.0 987.6 L272.3 987.1 L272.5 986.5 L272.8 986.1 L273.0 987.3 L273.3 986.6 L273.5 986.7 L273.8 985.1 L274.0 982.9 L274.3 982.5 L274.5 981.8 L274.8 980.3 L275.0 980.0 L275.3 980.3 L275.5 981.1 L275.8 979.8 L276.0 980.3 L276.3 980.3 L276.5 981.8 L276.8 983.1 L277.0 982.8 L277.3 985.3 L277.5 986.9 L277.8 989.3 L278.0 991.9 L278.3 994.6 L278.5 996.5 L278.8 998.3 L279.0 997.9 L279.3 998.4 L279.5 998.8 L279.8 999.5 L280.0 1000.6 L280.3 1001.7 L280.5 998.4 L280.8 997.7 L281.0 999.5 L281.3 1000.4 L281.5 1000.2 L281.8 1000.7 L282.0 999.3 L282.3 999.8 L282.5 999.2 L282.8 999.6 L283.0 1001.6 L283.3 1000.9 L283.5 999.3 L283.8 998.5 L284.0 999.5 L284.3 999.9 L284.5 1000.2 L284.8 999.8 L285.0 999.9 L285.3 998.5 L285.5 999.2 L285.8 998.0 L286.0 996.0 L286.3 995.7 L286.5 997.1 L286.8 996.0 L287.0 994.1 L287.3 993.8 L287.5 992.8 L287.8 990.9 L288.0 990.2 L288.3 988.7 L288.5 988.6 L288.8 987.5 L289.0 985.4 L289.3 984.1 L289.5 983.4 L289.8 982.9 L290.0 983.4 L290.3 980.7 L290.5 977.7 L290.8 977.1 L291.0 976.2 L291.3 975.2 L291.5 973.7 L291.8 973.9 L292.0 973.7 L292.3 974.0 L292.5 974.3 L292.8 974.9 L293.0 977.2 L293.3 976.8 L293.5 975.6 L293.8 975.4 L294.0 976.8 L294.3 975.7 L294.5 975.4 L294.8 974.8 L295.0 975.2 L295.3 975.7 L295.5 974.7 L295.8 974.2 L296.0 973.8 L296.3 974.5 L296.5 976.9 L296.8 977.2 L297.0 976.3 L297.3 976.1 L297.5 976.2 L297.8 977.0 L298.0 976.5 L298.3 976.7 L298.5 978.1 L298.8 979.6 L299.0 979.7 L299.3 979.8 L299.5 982.9 L299.8 983.9 L300.0 986.2 L300.3 985.7 L300.5 984.6 L300.8 985.6 L301.0 989.5 L301.3 989.9 L301.5 988.2 L301.8 988.2 L302.0 990.1 L302.3 991.6 L302.5 992.2 L302.8 992.2 L303.0 991.8 L303.3 993.1 L303.5 995.0 L303.8 996.6 L304.0 1000.1 L304.3 1000.1 L304.5 1001.7 L304.8 1002.6 L305.0 1001.8 L305.3 1002.0 L305.5 1004.9 L305.8 1005.1 L306.0 1003.3 L306.3 1002.8 L306.5 1006.1 L306.8 1006.5 L307.0 1002.8 L307.3 1001.8 L307.5 1002.0 L307.8 1001.3 L308.0 1001.0 L308.3 1000.1 L308.5 999.9 L308.8 998.1 L309.0 997.6 L309.3 996.2 L309.5 993.5 L309.8 992.9 L310.0 993.1 L310.3 991.6 L310.5 991.6 L310.8 991.6 L311.0 991.0 L311.3 990.0 L311.5 989.7 L311.8 989.5 L312.0 989.3 L312.3 988.5 L312.5 987.6 L312.8 985.8 L313.0 984.8 L313.3 984.5 L313.5 984.6 L313.8 983.5 L314.0 980.2 L314.3 979.9 L314.5 980.2 L314.8 980.0 L315.0 977.7 L315.3 975.7 L315.5 974.1 L315.8 972.7 L316.0 973.8 L316.3 971.4 L316.5 970.6 L316.8 969.8 L317.0 966.9 L317.3 966.9 L317.5 966.7 L317.8 967.1 L318.0 968.2 L318.3 968.1 L318.5 968.4 L318.8 968.4 L319.0 967.9 L319.3 968.7 L319.5 970.7 L319.8 972.0 L320.0 972.5 L320.3 973.6 L320.5 974.5 L320.8 975.8 L321.0 977.4 L321.3 978.0 L321.5 980.8 L321.8 983.0 L322.0 982.3 L322.3 983.1 L322.5 984.4 L322.8 985.2 L323.0 986.5 L323.3 988.0 L323.5 986.3 L323.8 987.7 L324.0 991.8 L324.3 992.2 L324.5 991.0 L324.8 990.8 L325.0 992.7 L325.3 993.0 L325.5 992.4 L325.8 991.7 L326.0 990.7 L326.3 990.3 L326.5 991.6 L326.8 992.6 L327.0 992.2 L327.3 991.5 L327.5 991.5 L327.8 991.3 L328.0 988.4 L328.3 986.7 L328.5 987.2 L328.8 987.1 L329.0 985.0 L329.3 984.5 L329.5 983.9 L329.8 982.4 L330.0 981.3 L330.3 979.0 L330.5 977.0 L330.8 976.2 L331.0 977.3 L331.3 975.9 L331.5 973.2 L331.8 971.6 L332.0 972.4 L332.3 970.0 L332.5 966.5 L332.8 965.9 L333.0 963.7 L333.3 963.1 L333.5 963.0 L333.8 962.4 L334.0 960.4 L334.3 958.9 L334.5 957.4 L334.8 955.9 L335.0 955.9 L335.3 955.4 L335.5 954.9 L335.8 955.4 L336.0 955.7 L336.3 956.0 L336.5 956.5 L336.8 957.7 L337.0 959.6 L337.3 959.8 L337.5 959.3 L337.8 960.7 L338.0 962.0 L338.3 962.6 L338.5 964.2 L338.8 964.8 L339.0 963.3 L339.3 965.9 L339.5 966.0 L339.8 967.2 L340.0 968.1 L340.3 969.3 L340.5 972.6 L340.8 975.1 L341.0 977.4 L341.3 980.1 L341.5 980.3 L341.8 981.9 L342.0 986.8 L342.3 987.5 L342.5 988.6 L342.8 991.5 L343.0 990.5 L343.3 992.1 L343.5 994.7 L343.8 996.1 L344.0 998.9 L344.3 1001.1 L344.5 1001.7 L344.8 1003.8 L345.0 1004.5 L345.3 1007.2 L345.5 1010.2 L345.8 1012.8 L346.0 1013.5 L346.3 1013.3 L346.5 1012.9 L346.8 1013.5 L347.0 1016.8 L347.3 1016.9 L347.5 1017.5 L347.8 1018.3 L348.0 1017.5 L348.3 1017.8 L348.5 1019.5 L348.8 1020.3 L349.0 1018.1 L349.3 1016.7 L349.5 1015.9 L349.8 1014.0 L350.0 1010.9 L350.3 1009.6 L350.5 1008.1 L350.8 1007.0 L351.0 1005.8 L351.3 1004.6 L351.5 1004.7 L351.8 1004.6 L352.0 1001.4 L352.3 1000.0 L352.5 1000.0 L352.8 998.2 L353.0 995.5 L353.3 995.3 L353.5 991.9 L353.8 990.4 L354.0 988.4 L354.3 985.3 L354.5 984.1 L354.8 981.4 L355.0 976.5 L355.3 974.6 L355.5 972.5 L355.8 970.6 L356.0 970.5 L356.3 969.4 L356.5 967.0 L356.8 966.7 L357.0 964.9 L357.3 964.7 L357.5 963.0 L357.8 961.8 L358.0 963.3 L358.3 962.2 L358.5 958.2 L358.8 955.4 L359.0 952.7 L359.3 952.1 L359.5 951.9 L359.8 951.4 L360.0 950.7 L360.3 950.6 L360.5 948.2 L360.8 946.4 L361.0 946.2 L361.3 946.7 L361.5 946.0 L361.8 944.9 L362.0 944.9 L362.3 946.3 L362.5 947.4 L362.8 948.3 L363.0 948.2 L363.3 948.1 L363.5 950.3 L363.8 953.0 L364.0 953.2 L364.3 955.6 L364.5 957.2 L364.8 958.0 L365.0 958.1 L365.3 959.0 L365.5 957.5 L365.8 959.0 L366.0 960.0 L366.3 958.8 L366.5 959.0 L366.8 958.4 L367.0 955.4 L367.3 953.9 L367.5 953.3 L367.8 951.7 L368.0 950.4 L368.3 947.8 L368.5 947.0 L368.8 946.0 L369.0 944.5 L369.3 943.3 L369.5 943.1 L369.8 943.1 L370.0 943.4 L370.3 942.2 L370.5 941.9 L370.8 942.2 L371.0 942.1 L371.3 942.6 L371.5 943.1 L371.8 943.4 L372.0 943.3 L372.3 943.4 L372.5 943.4 L372.8 943.0 L373.0 943.8 L373.3 944.5 L373.5 944.7 L373.8 945.0 L374.0 946.0 L374.3 945.3 L374.5 944.7 L374.8 944.0 L375.0 944.5 L375.3 943.5 L375.5 941.3 L375.8 939.7 L376.0 941.7 L376.3 941.8 L376.5 941.1 L376.8 940.7 L377.0 940.8 L377.3 940.5 L377.5 938.3 L377.8 938.1 L378.0 940.0 L378.3 940.4 L378.5 942.0 L378.8 941.5 L379.0 940.1 L379.3 942.2 L379.5 945.7 L379.8 947.7 L380.0 952.3 L380.3 955.4 L380.5 956.4 L380.8 959.5 L381.0 959.9 L381.3 963.0 L381.5 965.5 L381.8 967.4 L382.0 970.7 L382.3 972.1 L382.5 974.9 L382.8 977.0 L383.0 978.8 L383.3 981.1 L383.5 981.5 L383.8 984.2 L384.0 989.1 L384.3 993.0 L384.5 993.6 L384.8 997.2 L385.0 1000.2 L385.3 1001.4 L385.5 1003.7 L385.8 1005.6 L386.0 1007.4 L386.3 1009.4 L386.5 1011.0 L386.8 1012.2 L387.0 1013.5 L387.3 1015.0 L387.5 1015.2 L387.8 1016.4 L388.0 1020.7 L388.3 1022.2 L388.5 1023.0 L388.8 1024.4 L389.0 1022.9 L389.3 1023.1 L389.5 1022.0 L389.8 1021.9 L390.0 1021.2 L390.3 1020.6 L390.5 1020.1 L390.8 1018.7 L391.0 1016.2 L391.3 1014.6 L391.5 1013.7 L391.8 1011.0 L392.0 1009.3 L392.3 1008.4 L392.5 1004.9 L392.8 1003.5 L393.0 1002.2 L393.3 999.5 L393.5 997.1 L393.8 993.4 L394.0 990.1 L394.3 984.3 L394.5 978.3 L394.8 973.7 L395.0 971.2 L395.3 966.1 L395.5 959.9 L395.8 956.0 L396.0 953.2 L396.3 949.0 L396.5 947.2 L396.8 944.2 L397.0 939.9 L397.3 936.1 L397.5 933.4 L397.8 931.4 L398.0 927.6 L398.3 924.5 L398.5 921.8 L398.8 920.5 L399.0 919.2 L399.3 917.6 L399.5 917.1 L399.8 915.7 L400.0 913.0 L400.3 910.6 L400.5 909.7 L400.8 908.4 L401.0 909.0 L401.3 907.6 L401.5 905.5 L401.8 905.3 L402.0 904.5 L402.3 903.5 L402.5 902.2 L402.8 901.7 L403.0 901.1 L403.3 900.1 L403.5 898.2 L403.8 897.4 L404.0 895.7 L404.3 895.6 L404.5 895.7 L404.8 896.2 L405.0 895.3 L405.3 894.1 L405.5 894.6 L405.8 894.7 L406.0 893.5 L406.3 895.1 L406.5 894.9 L406.8 896.0 L407.0 895.3 L407.3 896.8 L407.5 900.5 L407.8 901.7 L408.0 903.7 L408.3 906.2 L408.5 908.6 L408.8 911.0 L409.0 913.9 L409.3 915.8 L409.5 917.5 L409.8 919.0 L410.0 920.8 L410.3 920.1 L410.5 916.9 L410.8 917.1 L411.0 917.8 L411.3 916.6 L411.5 915.3 L411.8 913.0 L412.0 908.4 L412.3 907.2 L412.5 904.8 L412.8 904.3 L413.0 904.4 L413.3 905.2 L413.5 902.5 L413.8 902.4 L414.0 904.1 L414.3 904.9 L414.5 906.9 L414.8 908.7 L415.0 911.5 L415.3 913.2 L415.5 915.6 L415.8 917.1 L416.0 919.9 L416.3 923.3 L416.5 922.9 L416.8 925.3 L417.0 930.4 L417.3 931.9 L417.5 932.8 L417.8 933.9 L418.0 933.2 L418.3 929.1 L418.5 924.0 L418.8 919.5 L419.0 917.2 L419.3 915.3 L419.5 914.8 L419.8 914.7 L420.0 916.5 L420.3 918.5 L420.5 918.3 L420.8 920.9 L421.0 924.1 L421.3 927.0 L421.5 931.5 L421.8 934.4 L422.0 938.2 L422.3 941.0 L422.5 945.4 L422.8 948.5 L423.0 949.3 L423.3 952.1 L423.5 953.4 L423.8 957.2 L424.0 962.3 L424.3 965.6 L424.5 969.8 L424.8 974.1 L425.0 975.5 L425.3 978.2 L425.5 982.9 L425.8 985.7 L426.0 987.3 L426.3 990.6 L426.5 992.9 L426.8 994.1 L427.0 996.2 L427.3 997.5 L427.5 998.7 L427.8 1000.6 L428.0 1002.7 L428.3 1003.8 L428.5 1002.6 L428.8 1002.5 L429.0 1003.9 L429.3 1005.4 L429.5 1008.2 L429.8 1008.8 L430.0 1007.8 L430.3 1007.7 L430.5 1008.8 L430.8 1009.2 L431.0 1008.8 L431.3 1009.2 L431.5 1008.0 L431.8 1006.5 L432.0 1002.2 L432.3 1001.7 L432.5 999.2 L432.8 997.3 L433.0 994.0 L433.3 991.1 L433.5 989.3 L433.8 986.8 L434.0 983.8 L434.3 982.3 L434.5 980.5 L434.8 978.7 L435.0 977.7 L435.3 975.3 L435.5 974.9 L435.8 973.4 L436.0 968.8 L436.3 966.4 L436.5 965.4 L436.8 962.7 L437.0 961.4 L437.3 958.8 L437.5 956.1 L437.8 955.7 L438.0 954.5 L438.3 953.3 L438.5 952.5 L438.8 951.2 L439.0 949.1 L439.3 948.1 L439.5 949.5 L439.8 948.9 L440.0 947.2 L440.3 947.0 L440.5 946.4 L440.8 946.0 L441.0 946.0 L441.3 945.3 L441.5 943.1 L441.8 942.8 L442.0 944.2 L442.3 942.9 L442.5 940.9 L442.8 940.2 L443.0 939.9 L443.3 939.0 L443.5 937.6 L443.8 937.8 L444.0 936.8 L444.3 935.7 L444.5 935.3 L444.8 935.2 L445.0 934.5 L445.3 933.1 L445.5 932.4 L445.8 932.1 L446.0 931.6 L446.3 932.8 L446.5 933.8 L446.8 936.3 L447.0 937.3 L447.3 939.4 L447.5 942.4 L447.8 942.6 L448.0 943.8 L448.3 944.0 L448.5 944.7 L448.8 946.1 L449.0 947.8 L449.3 949.3 L449.5 949.3 L449.8 950.9 L450.0 953.4 L450.3 954.0 L450.5 951.9 L450.8 951.9 L451.0 955.0 L451.3 957.2 L451.5 956.8 L451.8 957.0 L452.0 955.4 L452.3 954.0 L452.5 955.3 L452.8 955.7 L453.0 956.8 L453.3 956.6 L453.5 955.1 L453.8 956.4 L454.0 956.6 L454.3 957.3 L454.5 958.7 L454.8 958.8 L455.0 958.2 L455.3 958.6 L455.5 957.0 L455.8 957.2 L456.0 956.5 L456.3 956.0 L456.5 958.0 L456.8 959.2 L457.0 961.3 L457.3 961.0 L457.5 962.5 L457.8 963.4 L458.0 963.2 L458.3 963.6 L458.5 963.1 L458.8 964.5 L459.0 964.5 L459.3 966.6 L459.5 967.1 L459.8 968.1 L460.0 970.4 L460.3 972.2 L460.5 971.7 L460.8 972.4 L461.0 973.9 L461.3 974.3 L461.5 974.7 L461.8 976.1 L462.0 977.1 L462.3 978.0 L462.5 980.2 L462.8 981.6 L463.0 981.2 L463.3 981.6 L463.5 983.0 L463.8 984.0 L464.0 985.3 L464.3 987.1 L464.5 989.7 L464.8 990.3 L465.0 992.6 L465.3 993.2 L465.5 993.2 L465.8 993.6 L466.0 995.2 L466.3 996.2 L466.5 997.9 L466.8 998.0 L467.0 999.1 L467.3 998.9 L467.5 999.9 L467.8 1000.8 L468.0 1000.2 L468.3 1000.4 L468.5 1002.6 L468.8 1002.7 L469.0 1007.6 L469.3 1008.7 L469.5 1007.0 L469.8 1007.3 L470.0 1007.5 L470.3 1008.7 L470.5 1012.1 L470.8 1012.9 L471.0 1014.4 L471.3 1014.7 L471.5 1015.3 L471.8 1015.0 L472.0 1016.7 L472.3 1016.8 L472.5 1014.9 L472.8 1013.2 L473.0 1011.2 L473.3 1011.9 L473.5 1014.6 L473.8 1013.6 L474.0 1010.6 L474.3 1009.6 L474.5 1009.1 L474.8 1008.8 L475.0 1005.9 L475.3 1003.9 L475.5 1001.4 L475.8 999.8 L476.0 1000.6 L476.3 999.6 L476.5 998.6 L476.8 997.4 L477.0 995.7 L477.3 995.7 L477.5 994.9 L477.8 994.4 L478.0 994.1 L478.3 993.5 L478.5 994.4 L478.8 992.8 L479.0 988.9 L479.3 987.7 L479.5 989.1 L479.8 987.3 L480.0 985.9 L480.3 985.4 L480.5 984.5 L480.8 982.9 L481.0 983.7 L481.3 983.0 L481.5 981.8 L481.8 981.7 L482.0 981.2 L482.3 980.0 L482.5 980.1 L482.8 980.2 L483.0 981.5 L483.3 981.9 L483.5 980.1 L483.8 982.5 L484.0 982.8 L484.3 984.6 L484.5 984.2 L484.8 984.6 L485.0 985.9 L485.3 986.6 L485.5 987.4 L485.8 987.7 L486.0 988.9 L486.3 989.2 L486.5 988.0 L486.8 989.4 L487.0 990.5 L487.3 990.7 L487.5 989.9 L487.8 991.6 L488.0 993.1 L488.3 994.3 L488.5 995.3 L488.8 996.1 L489.0 996.3 L489.3 997.0 L489.5 996.9 L489.8 997.8 L490.0 1001.4 L490.3 1002.3 L490.5 1004.4 L490.8 1005.0 L491.0 1006.5 L491.3 1006.5 L491.5 1007.0 L491.8 1008.3 L492.0 1010.0 L492.3 1009.2 L492.5 1008.5 L492.8 1008.1 L493.0 1009.6 L493.3 1009.2 L493.5 1007.0 L493.8 1004.9 L494.0 1003.7 L494.3 1001.8 L494.5 999.0 L494.8 997.1 L495.0 995.4 L495.3 994.4 L495.5 992.3 L495.8 990.1 L496.0 986.8 L496.3 987.0 L496.5 986.5 L496.8 984.2 L497.0 979.1 L497.3 977.4 L497.5 975.7 L497.8 974.3 L498.0 973.6 L498.3 972.3 L498.5 971.9 L498.8 970.1 L499.0 968.8 L499.3 968.2 L499.5 967.2 L499.8 966.9 L500.0 967.1 L500.3 966.3 L500.5 964.2 L500.8 962.9 L501.0 962.6 L501.3 961.2 L501.5 959.5 L501.8 959.6 L502.0 958.3 L502.3 958.0 L502.5 958.5 L502.8 957.2 L503.0 957.0 L503.3 958.4 L503.5 957.5 L503.8 958.3 L504.0 956.9 L504.3 956.1 L504.5 955.9 L504.8 955.6 L505.0 956.0 L505.3 956.8 L505.5 956.5 L505.8 957.2 L506.0 960.0 L506.3 962.4 L506.5 963.8 L506.8 964.8 L507.0 965.3 L507.3 966.5 L507.5 967.7 L507.8 970.2 L508.0 972.3 L508.3 974.5 L508.5 974.2 L508.8 976.1 L509.0 977.3 L509.3 978.9 L509.5 980.3 L509.8 980.7 L510.0 982.4 L510.3 982.5 L510.5 986.6 L510.8 987.6 L511.0 986.4 L511.3 988.1 L511.5 991.0 L511.8 992.6 L512.0 992.3 L512.3 992.8 L512.5 994.1 L512.8 995.2 L513.0 997.1 L513.3 997.6 L513.5 995.8 L513.8 995.9 L514.0 997.8 L514.3 998.0 L514.5 997.2 L514.8 998.7 L515.0 1000.7 L515.3 1001.1 L515.5 1000.1 L515.8 1000.8 L516.0 1003.9 L516.3 1004.2 L516.5 1004.4 L516.8 1004.8 L517.0 1004.6 L517.3 1005.7 L517.5 1005.8 L517.8 1005.6 L518.0 1005.1 L518.3 1004.6 L518.5 1005.0 L518.8 1003.7 L519.0 1002.8 L519.3 1002.2 L519.5 1002.3 L519.8 1000.3 L520.0 997.9 L520.3 995.7 L520.5 995.2 L520.8 992.8 L521.0 993.0 L521.3 992.8 L521.5 990.2 L521.8 989.1 L522.0 986.8 L522.3 986.6 L522.5 985.6 L522.8 984.4 L523.0 983.1 L523.3 983.0 L523.5 982.4 L523.8 982.4 L524.0 981.9 L524.3 980.9 L524.5 981.5 L524.8 981.8 L525.0 981.3 L525.3 981.0 L525.5 980.3 L525.8 979.4 L526.0 978.1 L526.3 977.6 L526.5 979.6 L526.8 978.9 L527.0 978.5 L527.3 978.4 L527.5 978.0 L527.8 977.3 L528.0 976.0 L528.3 975.6 L528.5 976.8 L528.8 977.2 L529.0 977.2 L529.3 978.1 L529.5 979.6 L529.8 979.9 L530.0 979.2 L530.3 980.1 L530.5 979.7 L530.8 980.4 L531.0 982.5 L531.3 983.3 L531.5 980.7 L531.8 981.5 L532.0 983.4 L532.3 984.0 L532.5 984.9 L532.8 984.8 L533.0 985.4 L533.3 986.3 L533.5 987.2 L533.8 988.4 L534.0 988.8 L534.3 988.0 L534.5 989.2 L534.8 989.2 L535.0 987.1 L535.3 987.8 L535.5 989.6 L535.8 989.4 L536.0 988.6 L536.3 988.3 L536.5 986.6 L536.8 986.8 L537.0 985.9 L537.3 984.8 L537.5 985.2 L537.8 985.5 L538.0 984.5 L538.3 985.3 L538.5 988.1 L538.8 987.0 L539.0 987.8 L539.3 988.7 L539.5 985.8 L539.8 984.4 L540.0 984.2 L540.3 984.0 L540.5 984.9 L540.8 984.7 L541.0 983.2 L541.3 982.3 L541.5 980.4 L541.8 980.0 L542.0 982.4 L542.3 983.1 L542.5 982.8 L542.8 980.5 L543.0 978.1 L543.3 977.8 L543.5 977.8 L543.8 977.9 L544.0 976.2 L544.3 976.5 L544.5 979.2 L544.8 978.4 L545.0 980.8 L545.3 979.4 L545.5 975.8 L545.8 974.9 L546.0 975.1 L546.3 975.6 L546.5 976.2 L546.8 975.1 L547.0 975.1 L547.3 976.2 L547.5 977.2 L547.8 976.1 L548.0 976.7 L548.3 977.9 L548.5 976.6 L548.8 976.9 L549.0 979.5 L549.3 980.4 L549.5 982.1 L549.8 983.6 L550.0 983.4 L550.3 983.1 L550.5 984.2 L550.8 984.4 L551.0 985.4 L551.3 986.0 L551.5 985.4 L551.8 986.1 L552.0 985.9 L552.3 985.2 L552.5 983.9 L552.8 983.3 L553.0 984.4 L553.3 984.8 L553.5 984.5 L553.8 983.9 L554.0 981.8 L554.3 981.5 L554.5 982.2 L554.8 981.4 L555.0 980.9 L555.3 981.7 L555.5 983.0 L555.8 981.5 L556.0 979.9 L556.3 979.7 L556.5 982.1 L556.8 981.0 L557.0 979.6 L557.3 978.8 L557.5 978.9 L557.8 978.7 L558.0 979.8 L558.3 979.6 L558.5 977.2 L558.8 977.6 L559.0 977.2 L559.3 977.0 L559.5 975.4 L559.8 975.3 L560.0 978.0 L560.3 979.1 L560.5 978.1 L560.8 977.7 L561.0 979.4 L561.3 979.2 L561.5 979.9 L561.8 980.0 L562.0 979.8 L562.3 980.8 L562.5 982.3 L562.8 983.0 L563.0 982.3 L563.3 982.3 L563.5 985.0 L563.8 985.6 L564.0 987.1 L564.3 988.7 L564.5 986.9 L564.8 987.1 L565.0 984.9 L565.3 985.7 L565.5 987.0 L565.8 988.2 L566.0 989.0 L566.3 989.8 L566.5 991.8 L566.8 992.6 L567.0 993.7 L567.3 995.4 L567.5 998.5 L567.8 1000.1 L568.0 999.1 L568.3 999.8 L568.5 1003.5 L568.8 1003.1 L569.0 1005.0 L569.3 1005.7 L569.5 1003.9 L569.8 1005.6 L570.0 1005.5 L570.3 1006.0 L570.5 1006.4 L570.8 1006.8 L571.0 1007.3 L571.3 1008.1 L571.5 1007.7 L571.8 1009.1 L572.0 1008.1 L572.3 1007.7 L572.5 1006.9 L572.8 1006.8 L573.0 1005.0 L573.3 1005.3 L573.5 1005.8 L573.8 1005.4 L574.0 1003.6 L574.3 1003.2 L574.5 1002.9 L574.8 1003.2 L575.0 1001.1 L575.3 1001.9 L575.5 1004.2 L575.8 1004.7 L576.0 1005.7 L576.3 1006.1 L576.5 1006.2 L576.8 1006.2 L577.0 1008.8 L577.3 1011.4 L577.5 1010.6 L577.8 1011.3 L578.0 1011.3 L578.3 1011.7 L578.5 1012.8 L578.8 1012.3 L579.0 1011.1 L579.3 1011.0 L579.5 1012.8 L579.8 1012.4 L580.0 1014.0 L580.3 1014.2 L580.5 1011.4 L580.8 1010.3 L581.0 1011.5 L581.3 1012.6 L581.5 1011.3 L581.8 1010.5 L582.0 1010.3 L582.3 1009.7 L582.5 1008.7 L582.8 1007.1 L583.0 1005.9 L583.3 1003.5 L583.5 1003.1 L583.8 1001.3 L584.0 998.0 L584.3 996.7 L584.5 998.0 L584.8 996.8 L585.0 993.6 L585.3 992.0 L585.5 991.3 L585.8 990.2 L586.0 989.6 L586.3 988.1 L586.5 985.4 L586.8 983.5 L587.0 982.0 L587.3 980.4 L587.5 979.6 L587.8 978.0 L588.0 976.2 L588.3 974.9 L588.5 971.3 L588.8 970.4 L589.0 970.1 L589.3 968.3 L589.5 966.8 L589.8 965.3 L590.0 964.7 L590.3 962.5 L590.5 960.4 L590.8 960.7 L591.0 961.5 L591.3 962.4 L591.5 961.5 L591.8 961.7 L592.0 964.5 L592.3 963.9 L592.5 964.2 L592.8 963.6 L593.0 963.3 L593.3 964.5 L593.5 964.3 L593.8 965.0 L594.0 966.0 L594.3 966.8 L594.5 965.7 L594.8 966.5 L595.0 968.9 L595.3 970.3 L595.5 971.0 L595.8 971.9 L596.0 970.8 L596.3 972.3 L596.5 974.8 L596.8 974.9 L597.0 974.7 L597.3 976.5 L597.5 976.9 L597.8 976.7 L598.0 976.6 L598.3 978.3 L598.5 980.9 L598.8 983.0 L599.0 983.0 L599.3 983.7 L599.5 984.5 L599.8 984.9 L600.0 987.9 L600.3 987.9 L600.5 988.4 L600.8 989.2 L601.0 990.0 L601.3 990.6 L601.5 994.5 L601.8 995.7 L602.0 993.8 L602.3 994.9 L602.5 994.2 L602.8 994.2 L603.0 997.1 L603.3 997.1 L603.5 994.5 L603.8 994.9 L604.0 994.5 L604.3 993.8 L604.5 993.9 L604.8 993.5 L605.0 994.9 L605.3 993.0 L605.5 993.0 L605.8 992.4 L606.0 992.8 L606.3 992.1 L606.5 991.9 L606.8 990.9 L607.0 989.7 L607.3 988.3 L607.5 987.3 L607.8 986.7 L608.0 988.3 L608.3 988.8 L608.5 990.3 L608.8 988.7 L609.0 989.0 L609.3 989.3 L609.5 989.4 L609.8 990.2 L610.0 991.8 L610.3 991.9 L610.5 992.5 L610.8 993.5 L611.0 993.5 L611.3 994.6 L611.5 995.4 L611.8 995.8 L612.0 998.2 L612.3 998.9 L612.5 999.5 L612.8 1000.1 L613.0 1001.9 L613.3 1003.8 L613.5 1005.0 L613.8 1005.7 L614.0 1006.4 L614.3 1006.5 L614.5 1004.0 L614.8 1003.2 L615.0 1005.2 L615.3 1006.2 L615.5 1008.0 L615.8 1007.3 L616.0 1007.5 L616.3 1008.6 L616.5 1008.8 L616.8 1010.1 L617.0 1011.0 L617.3 1010.9 L617.5 1012.7 L617.8 1013.6 L618.0 1015.1 L618.3 1016.6 L618.5 1016.5 L618.8 1017.0 L619.0 1019.1 L619.3 1021.3 L619.5 1024.6 L619.8 1026.5" stroke="#6464F1" stroke-width="5" fill="none" stroke-linejoin="round" stroke-linecap="round"/>
<line x1="181.1" y1="851.4" x2="181.1" y2="1072.8" stroke="#000" stroke-width="2" stroke-linecap="butt"/>
<line x1="167.7" y1="856.4" x2="181.1" y2="856.4" stroke="#000" stroke-width="2" stroke-linecap="butt"/>
<text x="158.5" y="865.7" text-anchor="end" >0.12</text>
<line x1="167.7" y1="916.7" x2="181.1" y2="916.7" stroke="#000" stroke-width="2" stroke-linecap="butt"/>
<text x="158.5" y="926" text-anchor="end" >0.08</text>
<line x1="167.7" y1="977" x2="181.1" y2="977" stroke="#000" stroke-width="2" stroke-linecap="butt"/>
<text x="158.5" y="986.3" text-anchor="end" >0.04</text>
<line x1="167.7" y1="1037.3" x2="181.1" y2="1037.3" stroke="#000" stroke-width="2" stroke-linecap="butt"/>
<text x="158.5" y="1046.6" text-anchor="end" >0.00</text>
<line x1="189.9" y1="1087.9" x2="631.3" y2="1087.9" stroke="#000" stroke-width="2" stroke-linecap="butt"/>
<line x1="190.9" y1="1087.9" x2="190.9" y2="1101.5" stroke="#000" stroke-width="2" stroke-linecap="butt"/>
<text x="186.9" y="1131.9" text-anchor="middle" >−1.0</text>
<line x1="300.75" y1="1087.9" x2="300.75" y2="1101.5" stroke="#000" stroke-width="2" stroke-linecap="butt"/>
<text x="296.75" y="1131.9" text-anchor="middle" >−0.5</text>
<line x1="410.6" y1="1087.9" x2="410.6" y2="1101.5" stroke="#000" stroke-width="2" stroke-linecap="butt"/>
<text x="406.6" y="1131.9" text-anchor="middle" >0.0</text>
<line x1="520.45" y1="1087.9" x2="520.45" y2="1101.5" stroke="#000" stroke-width="2" stroke-linecap="butt"/>
<text x="516.45" y="1131.9" text-anchor="middle" >0.5</text>
<line x1="630.3" y1="1087.9" x2="630.3" y2="1101.5" stroke="#000" stroke-width="2" stroke-linecap="butt"/>
<text x="626.3" y="1131.9" text-anchor="middle" >1.0</text>
<line x1="640.4" y1="851.4" x2="640.4" y2="1072.8" stroke="#9B2FF0" stroke-width="2" stroke-linecap="butt"/>
<line x1="640.4" y1="856.9" x2="653.2" y2="856.9" stroke="#9B2FF0" stroke-width="2" stroke-linecap="butt"/>
<text x="654.3" y="871.6" fill="#9B2FF0" >32</text>
<line x1="640.4" y1="917.5" x2="653.2" y2="917.5" stroke="#9B2FF0" stroke-width="2" stroke-linecap="butt"/>
<text x="654.3" y="929.3" fill="#9B2FF0" >28</text>
<line x1="640.4" y1="978.1" x2="653.2" y2="978.1" stroke="#9B2FF0" stroke-width="2" stroke-linecap="butt"/>
<text x="654.3" y="986.8" fill="#9B2FF0" >24</text>
<line x1="640.4" y1="1038.7" x2="653.2" y2="1038.7" stroke="#9B2FF0" stroke-width="2" stroke-linecap="butt"/>
<text x="654.3" y="1044.6" fill="#9B2FF0" >20</text>
<text x="5.1" y="831.1" font-weight="bold" font-size="35.5" >c</text>
<text transform="translate(45.4 952.8) rotate(-90)" text-anchor="middle" >Excess mutations</text>
<text transform="translate(77.1 953.8) rotate(-90)" text-anchor="middle" >(Mb<tspan font-size="15.5" dy="-9.5">-1</tspan><tspan dy="9.5">)</tspan></text>
<text transform="translate(730.3 956) rotate(90)" text-anchor="middle" fill="#9B2FF0" style="font-kerning:normal">ATAC−seq</text>
<text transform="translate(698.2 956) rotate(90)" text-anchor="middle" fill="#9B2FF0" >tags kb<tspan font-size="15.5" dy="-9.5">-1</tspan></text>
<text x="212.4" y="1173" >Distance from nucleosome dyad (kb)</text>
<text x="195.8" y="875.7" fill="#6464F1">C</text>
<text x="213.4" y="871" fill="#6464F1" font-family="DejaVu Sans, sans-serif" font-size="19">➡</text>
<text x="228.4" y="875.7" fill="#6464F1">N</text>
</g>
<g id="panel-d">
<path d="M197.7 1393.7 L198.3 1393.7 L198.9 1393.6 L199.5 1393.3 L200.1 1393.1 L200.7 1392.7 L201.3 1392.3 L201.9 1391.8 L202.5 1391.2 L203.1 1390.6 L203.7 1389.9 L204.3 1389.2 L204.9 1388.5 L205.5 1387.7 L206.1 1386.9 L206.7 1386.1 L207.3 1385.3 L207.9 1384.5 L208.5 1383.7 L209.1 1382.9 L209.7 1382.2 L210.3 1381.5 L210.9 1380.8 L211.5 1380.2 L212.1 1379.7 L212.7 1379.2 L213.3 1378.8 L213.9 1378.4 L214.5 1378.2 L215.1 1378.0 L215.7 1377.9 L216.3 1377.8 L216.9 1377.9 L217.5 1378.0 L218.1 1378.1 L218.7 1378.4 L219.3 1378.7 L219.9 1379.0 L220.5 1379.4 L221.1 1379.9 L221.7 1380.4 L222.3 1380.9 L222.9 1381.5 L223.5 1382.1 L224.1 1382.7 L224.7 1383.4 L225.3 1384.1 L225.9 1384.8 L226.5 1385.5 L227.1 1386.3 L227.6 1387.0 L228.2 1387.7 L228.8 1388.4 L229.4 1389.1 L230.0 1389.8 L230.6 1390.4 L231.2 1391.0 L231.8 1391.6 L232.4 1392.1 L233.0 1392.6 L233.6 1393.0 L234.2 1393.4 L234.8 1393.7 L235.4 1394.0 L236.0 1394.2 L236.6 1394.3 L237.2 1394.4 L237.8 1394.4 L238.4 1394.4 L239.0 1394.2 L239.6 1394.0 L240.2 1393.7 L240.8 1393.4 L241.4 1392.9 L242.0 1392.4 L242.6 1391.8 L243.2 1391.2 L243.8 1390.5 L244.4 1389.7 L245.0 1388.9 L245.6 1388.0 L246.2 1387.2 L246.8 1386.2 L247.4 1385.3 L248.0 1384.4 L248.6 1383.4 L249.2 1382.5 L249.8 1381.5 L250.4 1380.6 L251.0 1379.6 L251.6 1378.8 L252.2 1377.9 L252.8 1377.1 L253.4 1376.3 L254.0 1375.6 L254.6 1374.9 L255.2 1374.3 L255.8 1373.8 L256.4 1373.3 L257.0 1372.9 L257.6 1372.6 L258.2 1372.3 L258.8 1372.2 L259.4 1372.1 L260.0 1372.1 L260.5 1372.1 L261.1 1372.3 L261.7 1372.6 L262.3 1372.9 L262.9 1373.3 L263.5 1373.8 L264.1 1374.4 L264.7 1375.1 L265.3 1375.8 L265.9 1376.5 L266.5 1377.3 L267.1 1378.2 L267.7 1379.1 L268.3 1380.1 L268.9 1381.1 L269.5 1382.1 L270.1 1383.1 L270.7 1384.1 L271.3 1385.1 L271.9 1386.1 L272.5 1387.1 L273.1 1388.1 L273.7 1389.0 L274.3 1389.9 L274.9 1390.8 L275.5 1391.6 L276.1 1392.3 L276.7 1393.0 L277.3 1393.7 L277.9 1394.2 L278.5 1394.7 L279.1 1395.1 L279.7 1395.4 L280.3 1395.7 L280.9 1395.8 L281.5 1395.9 L282.1 1395.8 L282.7 1395.7 L283.3 1395.4 L283.9 1395.0 L284.5 1394.4 L285.1 1393.7 L285.7 1392.9 L286.3 1392.0 L286.9 1391.0 L287.5 1389.9 L288.1 1388.7 L288.7 1387.5 L289.3 1386.1 L289.9 1384.7 L290.5 1383.2 L291.1 1381.7 L291.7 1380.2 L292.3 1378.6 L292.8 1377.1 L293.4 1375.5 L294.0 1373.9 L294.6 1372.4 L295.2 1370.9 L295.8 1369.4 L296.4 1368.0 L297.0 1366.7 L297.6 1365.4 L298.2 1364.2 L298.8 1363.1 L299.4 1362.1 L300.0 1361.2 L300.6 1360.4 L301.2 1359.8 L301.8 1359.2 L302.4 1358.8 L303.0 1358.5 L303.6 1358.4 L304.2 1358.3 L304.8 1358.5 L305.4 1358.8 L306.0 1359.4 L306.6 1360.1 L307.2 1361.0 L307.8 1362.0 L308.4 1363.2 L309.0 1364.6 L309.6 1366.1 L310.2 1367.7 L310.8 1369.4 L311.4 1371.2 L312.0 1373.0 L312.6 1375.0 L313.2 1376.9 L313.8 1378.9 L314.4 1380.8 L315.0 1382.8 L315.6 1384.7 L316.2 1386.5 L316.8 1388.3 L317.4 1390.0 L318.0 1391.5 L318.6 1393.0 L319.2 1394.3 L319.8 1395.4 L320.4 1396.4 L321.0 1397.3 L321.6 1397.9 L322.2 1398.4 L322.8 1398.7 L323.4 1398.8 L324.0 1398.7 L324.6 1398.4 L325.2 1397.9 L325.7 1397.2 L326.3 1396.3 L326.9 1395.3 L327.5 1394.0 L328.1 1392.7 L328.7 1391.1 L329.3 1389.5 L329.9 1387.7 L330.5 1385.9 L331.1 1383.9 L331.7 1381.9 L332.3 1379.9 L332.9 1377.8 L333.5 1375.7 L334.1 1373.6 L334.7 1371.6 L335.3 1369.6 L335.9 1367.7 L336.5 1365.9 L337.1 1364.2 L337.7 1362.5 L338.3 1361.1 L338.9 1359.7 L339.5 1358.6 L340.1 1357.6 L340.7 1356.8 L341.3 1356.2 L341.9 1355.7 L342.5 1355.5 L343.1 1355.5 L343.7 1355.6 L344.3 1355.9 L344.9 1356.3 L345.5 1356.9 L346.1 1357.7 L346.7 1358.5 L347.3 1359.6 L347.9 1360.7 L348.5 1362.0 L349.1 1363.4 L349.7 1364.8 L350.3 1366.4 L350.9 1368.1 L351.5 1369.8 L352.1 1371.6 L352.7 1373.4 L353.3 1375.2 L353.9 1377.1 L354.5 1378.9 L355.1 1380.8 L355.7 1382.6 L356.3 1384.4 L356.9 1386.2 L357.5 1387.9 L358.0 1389.5 L358.6 1391.0 L359.2 1392.4 L359.8 1393.7 L360.4 1394.9 L361.0 1396.0 L361.6 1396.9 L362.2 1397.7 L362.8 1398.4 L363.4 1398.9 L364.0 1399.3 L364.6 1399.5 L365.2 1399.5 L365.8 1399.3 L366.4 1399.0 L367.0 1398.5 L367.6 1397.8 L368.2 1396.9 L368.8 1395.9 L369.4 1394.7 L370.0 1393.3 L370.6 1391.8 L371.2 1390.2 L371.8 1388.4 L372.4 1386.6 L373.0 1384.7 L373.6 1382.7 L374.2 1380.6 L374.8 1378.5 L375.4 1376.4 L376.0 1374.3 L376.6 1372.2 L377.2 1370.1 L377.8 1368.1 L378.4 1366.2 L379.0 1364.3 L379.6 1362.5 L380.2 1360.8 L380.8 1359.3 L381.4 1357.9 L382.0 1356.6 L382.6 1355.5 L383.2 1354.6 L383.8 1353.8 L384.4 1353.2 L385.0 1352.8 L385.6 1352.6 L386.2 1352.6 L386.8 1352.8 L387.4 1353.2 L388.0 1353.8 L388.6 1354.6 L389.2 1355.6 L389.8 1356.8 L390.4 1358.2 L390.9 1359.8 L391.5 1361.5 L392.1 1363.4 L392.7 1365.4 L393.3 1367.5 L393.9 1369.7 L394.5 1372.0 L395.1 1374.3 L395.7 1376.7 L396.3 1379.1 L396.9 1381.5 L397.5 1383.9 L398.1 1386.3 L398.7 1388.6 L399.3 1390.8 L399.9 1392.9 L400.5 1394.9 L401.1 1396.8 L401.7 1398.5 L402.3 1400.1 L402.9 1401.5 L403.5 1402.8 L404.1 1403.8 L404.7 1404.7 L405.3 1405.3 L405.9 1405.7 L406.5 1406.0 L407.1 1406.0 L407.7 1405.8 L408.3 1405.3 L408.9 1404.7 L409.5 1403.9 L410.1 1402.8 L410.7 1401.6 L411.3 1400.2 L411.9 1398.6 L412.5 1396.9 L413.1 1395.1 L413.7 1393.1 L414.3 1391.0 L414.9 1388.8 L415.5 1386.5 L416.1 1384.2 L416.7 1381.9 L417.3 1379.5 L417.9 1377.1 L418.5 1374.8 L419.1 1372.5 L419.7 1370.2 L420.3 1368.0 L420.9 1366.0 L421.5 1364.0 L422.1 1362.1 L422.7 1360.4 L423.2 1358.9 L423.8 1357.5 L424.4 1356.3 L425.0 1355.3 L425.6 1354.5 L426.2 1353.9 L426.8 1353.5 L427.4 1353.3 L428.0 1353.3 L428.6 1353.5 L429.2 1353.8 L429.8 1354.4 L430.4 1355.0 L431.0 1355.8 L431.6 1356.8 L432.2 1357.9 L432.8 1359.2 L433.4 1360.5 L434.0 1362.0 L434.6 1363.6 L435.2 1365.3 L435.8 1367.0 L436.4 1368.8 L437.0 1370.7 L437.6 1372.6 L438.2 1374.6 L438.8 1376.6 L439.4 1378.5 L440.0 1380.5 L440.6 1382.4 L441.2 1384.3 L441.8 1386.1 L442.4 1387.9 L443.0 1389.6 L443.6 1391.2 L444.2 1392.7 L444.8 1394.1 L445.4 1395.3 L446.0 1396.5 L446.6 1397.5 L447.2 1398.3 L447.8 1399.0 L448.4 1399.6 L449.0 1399.9 L449.6 1400.2 L450.2 1400.2 L450.8 1400.1 L451.4 1399.8 L452.0 1399.4 L452.6 1398.7 L453.2 1398.0 L453.8 1397.0 L454.4 1396.0 L455.0 1394.7 L455.6 1393.4 L456.1 1391.9 L456.7 1390.4 L457.3 1388.7 L457.9 1387.0 L458.5 1385.1 L459.1 1383.3 L459.7 1381.4 L460.3 1379.4 L460.9 1377.5 L461.5 1375.5 L462.1 1373.6 L462.7 1371.7 L463.3 1369.8 L463.9 1368.0 L464.5 1366.3 L465.1 1364.7 L465.7 1363.2 L466.3 1361.7 L466.9 1360.4 L467.5 1359.3 L468.1 1358.3 L468.7 1357.4 L469.3 1356.7 L469.9 1356.1 L470.5 1355.7 L471.1 1355.5 L471.7 1355.5 L472.3 1355.6 L472.9 1355.9 L473.5 1356.5 L474.1 1357.3 L474.7 1358.2 L475.3 1359.3 L475.9 1360.6 L476.5 1362.1 L477.1 1363.7 L477.7 1365.4 L478.3 1367.2 L478.9 1369.1 L479.5 1371.1 L480.1 1373.1 L480.7 1375.2 L481.3 1377.3 L481.9 1379.3 L482.5 1381.3 L483.1 1383.3 L483.7 1385.2 L484.3 1387.0 L484.9 1388.7 L485.5 1390.3 L486.1 1391.7 L486.7 1393.0 L487.3 1394.0 L487.9 1395.0 L488.4 1395.7 L489.0 1396.2 L489.6 1396.5 L490.2 1396.6 L490.8 1396.6 L491.4 1396.4 L492.0 1396.1 L492.6 1395.7 L493.2 1395.2 L493.8 1394.6 L494.4 1393.9 L495.0 1393.2 L495.6 1392.3 L496.2 1391.3 L496.8 1390.3 L497.4 1389.2 L498.0 1388.0 L498.6 1386.7 L499.2 1385.4 L499.8 1384.1 L500.4 1382.7 L501.0 1381.3 L501.6 1379.9 L502.2 1378.5 L502.8 1377.0 L503.4 1375.6 L504.0 1374.2 L504.6 1372.8 L505.2 1371.5 L505.8 1370.2 L506.4 1368.9 L507.0 1367.7 L507.6 1366.5 L508.2 1365.5 L508.8 1364.5 L509.4 1363.6 L510.0 1362.7 L510.6 1362.0 L511.2 1361.4 L511.8 1360.8 L512.4 1360.4 L513.0 1360.1 L513.6 1359.9 L514.2 1359.8 L514.8 1359.8 L515.4 1360.0 L516.0 1360.4 L516.6 1360.9 L517.2 1361.6 L517.8 1362.4 L518.4 1363.4 L519.0 1364.5 L519.6 1365.8 L520.2 1367.1 L520.8 1368.6 L521.3 1370.1 L521.9 1371.7 L522.5 1373.4 L523.1 1375.1 L523.7 1376.8 L524.3 1378.5 L524.9 1380.2 L525.5 1381.9 L526.1 1383.5 L526.7 1385.1 L527.3 1386.6 L527.9 1388.0 L528.5 1389.3 L529.1 1390.4 L529.7 1391.5 L530.3 1392.4 L530.9 1393.1 L531.5 1393.7 L532.1 1394.1 L532.7 1394.4 L533.3 1394.4 L533.9 1394.4 L534.5 1394.2 L535.1 1394.0 L535.7 1393.6 L536.3 1393.2 L536.9 1392.7 L537.5 1392.1 L538.1 1391.4 L538.7 1390.6 L539.3 1389.8 L539.9 1388.9 L540.5 1387.9 L541.1 1386.9 L541.7 1385.9 L542.3 1384.9 L542.9 1383.8 L543.5 1382.7 L544.1 1381.7 L544.7 1380.6 L545.3 1379.5 L545.9 1378.5 L546.5 1377.6 L547.1 1376.6 L547.7 1375.8 L548.3 1374.9 L548.9 1374.2 L549.5 1373.5 L550.1 1372.9 L550.7 1372.4 L551.3 1372.0 L551.9 1371.7 L552.5 1371.5 L553.1 1371.4 L553.6 1371.3 L554.2 1371.4 L554.8 1371.6 L555.4 1371.8 L556.0 1372.1 L556.6 1372.5 L557.2 1373.0 L557.8 1373.6 L558.4 1374.2 L559.0 1374.9 L559.6 1375.7 L560.2 1376.5 L560.8 1377.3 L561.4 1378.3 L562.0 1379.2 L562.6 1380.2 L563.2 1381.2 L563.8 1382.2 L564.4 1383.2 L565.0 1384.2 L565.6 1385.2 L566.2 1386.1 L566.8 1387.1 L567.4 1388.0 L568.0 1388.9 L568.6 1389.7 L569.2 1390.5 L569.8 1391.3 L570.4 1391.9 L571.0 1392.5 L571.6 1393.0 L572.2 1393.5 L572.8 1393.8 L573.4 1394.1 L574.0 1394.3 L574.6 1394.4 L575.2 1394.4 L575.8 1394.4 L576.4 1394.3 L577.0 1394.1 L577.6 1393.9 L578.2 1393.6 L578.8 1393.3 L579.4 1392.9 L580.0 1392.5 L580.6 1392.0 L581.2 1391.4 L581.8 1390.9 L582.4 1390.3 L583.0 1389.7 L583.6 1389.0 L584.2 1388.4 L584.8 1387.7 L585.4 1387.0 L586.0 1386.3 L586.5 1385.6 L587.1 1384.9 L587.7 1384.2 L588.3 1383.6 L588.9 1383.0 L589.5 1382.3 L590.1 1381.8 L590.7 1381.2 L591.3 1380.7 L591.9 1380.3 L592.5 1379.9 L593.1 1379.5 L593.7 1379.2 L594.3 1379.0 L594.9 1378.8 L595.5 1378.6 L596.1 1378.6 L596.7 1378.6 L597.3 1378.6 L597.9 1378.8 L598.5 1379.0 L599.1 1379.3 L599.7 1379.6 L600.3 1380.1 L600.9 1380.6 L601.5 1381.1 L602.1 1381.7 L602.7 1382.4 L603.3 1383.1 L603.9 1383.8 L604.5 1384.6 L605.1 1385.4 L605.7 1386.2 L606.3 1387.0 L606.9 1387.8 L607.5 1388.6 L608.1 1389.4 L608.7 1390.1 L609.3 1390.8 L609.9 1391.5 L610.5 1392.2 L611.1 1392.8 L611.7 1393.3 L612.3 1393.8 L612.9 1394.2 L613.5 1394.5 L614.1 1394.8 L614.7 1395.0 L615.3 1395.1 L615.9 1395.2" stroke="#9B2FF0" stroke-width="3.2" fill="none" stroke-linejoin="round"/>
<path d="M198.0 1373.9 L198.2 1373.5 L198.5 1372.8 L198.7 1375.3 L199.0 1379.3 L199.2 1383.1 L199.5 1386.6 L199.7 1390.0 L200.0 1393.3 L200.2 1394.4 L200.5 1394.7 L200.7 1395.0 L201.0 1395.1 L201.2 1395.2 L201.5 1395.3 L201.7 1394.0 L202.0 1390.1 L202.2 1384.6 L202.5 1378.9 L202.7 1374.2 L203.0 1371.9 L203.2 1371.3 L203.5 1370.9 L203.7 1370.5 L204.0 1370.1 L204.2 1370.3 L204.5 1372.0 L204.7 1373.8 L205.0 1373.6 L205.2 1373.2 L205.5 1372.8 L205.7 1372.5 L206.0 1372.1 L206.2 1371.7 L206.5 1371.3 L206.7 1372.3 L207.0 1374.2 L207.2 1376.2 L207.5 1378.1 L207.7 1379.9 L208.0 1381.1 L208.2 1380.6 L208.5 1380.2 L208.7 1379.6 L209.0 1379.0 L209.2 1379.2 L209.5 1379.4 L209.7 1379.7 L210.0 1379.9 L210.2 1380.3 L210.5 1380.7 L210.7 1381.2 L211.0 1381.6 L211.2 1382.1 L211.5 1382.5 L211.7 1382.9 L212.0 1383.1 L212.2 1383.3 L212.5 1383.4 L212.7 1383.5 L213.0 1383.4 L213.2 1383.1 L213.5 1382.8 L213.7 1382.5 L214.0 1379.2 L214.2 1370.7 L214.5 1362.3 L214.7 1353.8 L215.0 1345.2 L215.2 1337.0 L215.5 1343.3 L215.7 1349.5 L216.0 1355.7 L216.2 1361.8 L216.5 1367.9 L216.7 1372.0 L217.0 1367.6 L217.2 1363.3 L217.5 1359.0 L217.7 1354.7 L218.0 1355.6 L218.2 1357.7 L218.5 1359.9 L218.7 1362.2 L219.0 1364.7 L219.2 1367.4 L219.5 1370.4 L219.7 1373.5 L220.0 1371.0 L220.2 1368.0 L220.5 1365.1 L220.7 1363.7 L221.0 1367.3 L221.2 1371.0 L221.5 1374.6 L221.7 1378.1 L222.0 1381.5 L222.2 1384.8 L222.5 1386.7 L222.7 1387.1 L223.0 1387.3 L223.2 1387.2 L223.5 1387.2 L223.7 1387.1 L224.0 1386.9 L224.2 1386.8 L224.5 1386.6 L224.7 1386.3 L225.0 1385.8 L225.2 1385.2 L225.5 1384.6 L225.7 1383.9 L226.0 1383.5 L226.2 1383.2 L226.5 1383.0 L226.7 1382.8 L227.0 1382.5 L227.2 1382.3 L227.5 1382.0 L227.7 1379.4 L228.0 1375.5 L228.2 1373.1 L228.5 1373.1 L228.7 1373.1 L229.0 1373.0 L229.2 1372.9 L229.5 1372.8 L229.7 1372.7 L230.0 1372.1 L230.2 1371.4 L230.5 1370.8 L230.7 1370.2 L231.0 1369.6 L231.2 1369.4 L231.5 1370.3 L231.7 1371.2 L232.0 1372.1 L232.2 1372.1 L232.5 1371.7 L232.7 1371.3 L233.0 1370.9 L233.2 1370.5 L233.5 1370.1 L233.7 1369.7 L234.0 1369.3 L234.2 1368.9 L234.5 1368.6 L234.7 1368.0 L235.0 1366.1 L235.2 1364.3 L235.5 1362.5 L235.7 1360.8 L236.0 1359.0 L236.2 1357.4 L236.5 1355.7 L236.7 1356.2 L237.0 1358.8 L237.2 1361.4 L237.5 1364.0 L237.7 1367.1 L238.0 1364.1 L238.2 1358.4 L238.5 1352.8 L238.7 1349.2 L239.0 1353.5 L239.2 1357.8 L239.5 1361.9 L239.7 1365.8 L240.0 1369.4 L240.2 1372.6 L240.5 1375.2 L240.7 1373.5 L241.0 1371.5 L241.2 1369.4 L241.5 1367.1 L241.7 1365.2 L242.0 1365.7 L242.2 1366.3 L242.5 1367.0 L242.7 1367.9 L243.0 1365.2 L243.2 1362.9 L243.5 1360.6 L243.7 1358.5 L244.0 1360.3 L244.2 1362.6 L244.5 1364.9 L244.7 1367.3 L245.0 1369.8 L245.2 1372.4 L245.5 1373.0 L245.7 1373.7 L246.0 1374.4 L246.2 1375.1 L246.5 1375.8 L246.7 1376.5 L247.0 1376.9 L247.2 1377.3 L247.5 1377.7 L247.7 1376.8 L248.0 1374.0 L248.2 1371.2 L248.5 1368.4 L248.7 1365.7 L249.0 1363.0 L249.2 1361.0 L249.5 1363.5 L249.7 1366.1 L250.0 1368.7 L250.2 1371.3 L250.5 1373.9 L250.7 1377.5 L251.0 1381.3 L251.2 1385.1 L251.5 1388.9 L251.7 1392.6 L252.0 1396.5 L252.2 1398.3 L252.5 1399.7 L252.7 1401.3 L253.0 1402.7 L253.2 1404.1 L253.5 1405.5 L253.7 1406.8 L254.0 1408.2 L254.2 1409.4 L254.5 1410.5 L254.7 1411.5 L255.0 1412.8 L255.2 1414.3 L255.5 1415.5 L255.7 1416.4 L256.0 1417.1 L256.2 1411.3 L256.5 1405.2 L256.7 1398.9 L257.0 1393.2 L257.2 1396.9 L257.5 1400.3 L257.7 1403.6 L258.0 1406.7 L258.2 1405.0 L258.5 1398.7 L258.7 1392.3 L259.0 1385.9 L259.2 1379.5 L259.5 1373.1 L259.7 1366.7 L260.0 1365.9 L260.2 1371.4 L260.5 1376.9 L260.7 1378.8 L261.0 1375.3 L261.2 1371.8 L261.5 1368.3 L261.7 1364.7 L262.0 1361.0 L262.2 1357.3 L262.5 1356.4 L262.7 1359.8 L263.0 1363.1 L263.2 1366.4 L263.5 1367.3 L263.7 1363.3 L264.0 1359.2 L264.2 1355.2 L264.5 1351.0 L264.7 1346.8 L265.0 1344.3 L265.2 1342.5 L265.5 1340.5 L265.7 1338.4 L266.0 1336.3 L266.2 1331.9 L266.5 1327.4 L266.7 1323.3 L267.0 1319.5 L267.2 1316.6 L267.5 1314.9 L267.7 1313.5 L268.0 1312.2 L268.2 1310.9 L268.5 1309.6 L268.7 1308.5 L269.0 1307.5 L269.2 1305.6 L269.5 1302.4 L269.7 1299.4 L270.0 1297.9 L270.2 1299.4 L270.5 1301.2 L270.7 1303.0 L271.0 1304.8 L271.2 1306.3 L271.5 1305.5 L271.7 1304.6 L272.0 1303.8 L272.2 1303.0 L272.5 1302.8 L272.7 1303.2 L273.0 1303.7 L273.2 1304.2 L273.5 1304.7 L273.7 1305.3 L274.0 1305.8 L274.2 1306.4 L274.5 1307.6 L274.7 1309.0 L275.0 1310.8 L275.2 1312.4 L275.5 1313.4 L275.7 1314.6 L276.0 1316.0 L276.2 1317.6 L276.5 1319.3 L276.7 1319.6 L277.0 1318.5 L277.2 1317.4 L277.5 1316.2 L277.7 1318.3 L278.0 1322.6 L278.2 1326.8 L278.5 1330.8 L278.7 1334.7 L279.0 1334.8 L279.2 1333.6 L279.5 1332.4 L279.7 1331.1 L280.0 1329.7 L280.2 1328.3 L280.5 1328.1 L280.7 1331.0 L281.0 1333.8 L281.2 1336.7 L281.5 1339.6 L281.7 1342.1 L282.0 1342.3 L282.2 1342.5 L282.5 1342.7 L282.7 1342.9 L283.0 1343.2 L283.2 1343.6 L283.5 1344.2 L283.7 1347.8 L284.0 1351.5 L284.2 1355.3 L284.5 1356.2 L284.7 1357.2 L285.0 1358.1 L285.2 1359.1 L285.5 1360.0 L285.7 1361.0 L286.0 1362.1 L286.2 1363.4 L286.5 1364.8 L286.7 1366.2 L287.0 1367.6 L287.2 1369.3 L287.5 1371.6 L287.7 1374.0 L288.0 1376.4 L288.2 1378.9 L288.5 1380.4 L288.7 1380.6 L289.0 1380.8 L289.2 1381.1 L289.5 1381.8 L289.7 1382.5 L290.0 1383.1 L290.2 1383.7 L290.5 1384.3 L290.7 1384.7 L291.0 1388.2 L291.2 1391.6 L291.5 1395.0 L291.7 1398.2 L292.0 1399.1 L292.2 1399.3 L292.5 1399.4 L292.7 1399.5 L293.0 1399.6 L293.2 1399.7 L293.5 1399.8 L293.7 1400.2 L294.0 1401.4 L294.2 1402.5 L294.5 1403.5 L294.7 1404.5 L295.0 1405.3 L295.2 1406.0 L295.5 1406.6 L295.7 1407.2 L296.0 1407.6 L296.2 1407.7 L296.5 1407.2 L296.7 1406.3 L297.0 1405.1 L297.2 1403.7 L297.5 1402.0 L297.7 1400.0 L298.0 1395.6 L298.2 1391.2 L298.5 1387.8 L298.7 1387.7 L299.0 1387.7 L299.2 1387.9 L299.5 1388.2 L299.7 1387.2 L300.0 1383.3 L300.2 1379.8 L300.5 1376.7 L300.7 1373.6 L301.0 1370.6 L301.2 1367.6 L301.5 1367.2 L301.7 1370.6 L302.0 1373.9 L302.2 1377.3 L302.5 1380.7 L302.7 1384.0 L303.0 1381.1 L303.2 1377.8 L303.5 1374.5 L303.7 1371.2 L304.0 1367.9 L304.2 1364.5 L304.5 1367.8 L304.7 1371.7 L305.0 1375.4 L305.2 1378.7 L305.5 1380.8 L305.7 1368.3 L306.0 1355.6 L306.2 1349.3 L306.5 1351.2 L306.7 1352.9 L307.0 1354.6 L307.2 1356.3 L307.5 1357.9 L307.7 1359.6 L308.0 1361.3 L308.2 1359.1 L308.5 1357.0 L308.7 1355.1 L309.0 1353.4 L309.2 1352.3 L309.5 1351.1 L309.7 1349.8 L310.0 1348.6 L310.2 1347.5 L310.5 1346.6 L310.7 1345.7 L311.0 1344.8 L311.2 1344.0 L311.5 1343.2 L311.7 1342.2 L312.0 1340.8 L312.2 1339.5 L312.5 1338.3 L312.7 1337.2 L313.0 1336.3 L313.2 1335.4 L313.5 1334.7 L313.7 1334.2 L314.0 1333.8 L314.2 1333.6 L314.5 1333.4 L314.7 1333.5 L315.0 1333.8 L315.2 1334.0 L315.5 1334.3 L315.7 1334.7 L316.0 1328.2 L316.2 1315.3 L316.5 1302.4 L316.7 1289.6 L317.0 1296.2 L317.2 1308.0 L317.5 1319.9 L317.7 1331.8 L318.0 1340.7 L318.2 1339.6 L318.5 1338.7 L318.7 1338.0 L319.0 1337.4 L319.2 1338.2 L319.5 1341.9 L319.7 1345.5 L320.0 1349.0 L320.2 1352.3 L320.5 1355.4 L320.7 1355.3 L321.0 1353.7 L321.2 1351.7 L321.5 1349.4 L321.7 1346.9 L322.0 1344.2 L322.2 1341.4 L322.5 1340.6 L322.7 1343.2 L323.0 1345.6 L323.2 1348.1 L323.5 1350.5 L323.7 1349.4 L324.0 1348.1 L324.2 1346.8 L324.5 1345.7 L324.7 1344.8 L325.0 1344.9 L325.2 1345.6 L325.5 1346.4 L325.7 1346.1 L326.0 1344.7 L326.2 1343.3 L326.5 1342.0 L326.7 1340.6 L327.0 1339.5 L327.2 1340.5 L327.5 1341.5 L327.7 1342.5 L328.0 1343.5 L328.2 1344.5 L328.5 1341.6 L328.7 1338.7 L329.0 1335.8 L329.2 1332.9 L329.5 1330.0 L329.7 1327.2 L330.0 1324.4 L330.2 1323.7 L330.5 1328.0 L330.7 1332.4 L331.0 1336.8 L331.2 1341.3 L331.5 1344.7 L331.7 1345.5 L332.0 1346.3 L332.2 1347.1 L332.5 1347.7 L332.7 1348.2 L333.0 1348.7 L333.2 1349.3 L333.5 1349.8 L333.7 1350.1 L334.0 1350.3 L334.2 1350.6 L334.5 1350.9 L334.7 1351.1 L335.0 1351.3 L335.2 1351.5 L335.5 1352.8 L335.7 1354.9 L336.0 1357.1 L336.2 1359.3 L336.5 1361.5 L336.7 1363.3 L337.0 1364.8 L337.2 1366.2 L337.5 1367.7 L337.7 1368.7 L338.0 1368.9 L338.2 1369.0 L338.5 1369.2 L338.7 1369.3 L339.0 1369.4 L339.2 1369.4 L339.5 1368.2 L339.7 1367.0 L340.0 1365.7 L340.2 1364.4 L340.5 1367.4 L340.7 1373.7 L341.0 1380.1 L341.2 1386.3 L341.5 1385.6 L341.7 1384.9 L342.0 1384.1 L342.2 1383.4 L342.5 1382.5 L342.7 1381.7 L343.0 1380.8 L343.2 1382.1 L343.5 1383.9 L343.7 1385.7 L344.0 1387.4 L344.2 1389.0 L344.5 1390.1 L344.7 1390.8 L345.0 1391.3 L345.2 1391.6 L345.5 1391.2 L345.7 1390.2 L346.0 1389.0 L346.2 1387.6 L346.5 1386.0 L346.7 1384.3 L347.0 1381.8 L347.2 1377.0 L347.5 1372.1 L347.7 1367.1 L348.0 1365.3 L348.2 1365.3 L348.5 1365.2 L348.7 1365.3 L349.0 1365.5 L349.2 1363.8 L349.5 1360.7 L349.7 1357.6 L350.0 1354.3 L350.2 1351.0 L350.5 1347.6 L350.7 1346.5 L351.0 1345.8 L351.2 1345.1 L351.5 1344.5 L351.7 1343.8 L352.0 1343.3 L352.2 1342.8 L352.5 1338.3 L352.7 1332.7 L353.0 1327.3 L353.2 1322.1 L353.5 1319.7 L353.7 1321.3 L354.0 1322.8 L354.2 1324.4 L354.5 1326.0 L354.7 1327.6 L355.0 1324.1 L355.2 1318.7 L355.5 1313.3 L355.7 1307.9 L356.0 1302.6 L356.2 1299.0 L356.5 1302.4 L356.7 1305.8 L357.0 1309.3 L357.2 1312.8 L357.5 1316.5 L357.7 1316.9 L358.0 1315.9 L358.2 1315.0 L358.5 1314.2 L358.7 1313.5 L359.0 1313.5 L359.2 1314.1 L359.5 1314.8 L359.7 1313.3 L360.0 1309.0 L360.2 1304.9 L360.5 1300.9 L360.7 1298.2 L361.0 1302.7 L361.2 1307.3 L361.5 1311.9 L361.7 1316.5 L362.0 1321.1 L362.2 1324.1 L362.5 1325.3 L362.7 1326.4 L363.0 1327.4 L363.2 1328.2 L363.5 1328.9 L363.7 1329.5 L364.0 1330.0 L364.2 1330.6 L364.5 1331.1 L364.7 1331.6 L365.0 1332.1 L365.2 1332.6 L365.5 1333.3 L365.7 1334.0 L366.0 1334.6 L366.2 1334.3 L366.5 1333.9 L366.7 1333.6 L367.0 1333.2 L367.2 1332.9 L367.5 1332.5 L367.7 1331.9 L368.0 1331.4 L368.2 1330.9 L368.5 1330.4 L368.7 1330.0 L369.0 1329.6 L369.2 1330.8 L369.5 1333.5 L369.7 1336.3 L370.0 1338.8 L370.2 1339.6 L370.5 1340.4 L370.7 1341.3 L371.0 1342.3 L371.2 1343.2 L371.5 1344.0 L371.7 1344.8 L372.0 1345.5 L372.2 1346.1 L372.5 1346.6 L372.7 1347.0 L373.0 1345.6 L373.2 1343.4 L373.5 1341.0 L373.7 1338.5 L374.0 1338.6 L374.2 1340.1 L374.5 1341.5 L374.7 1342.8 L375.0 1344.2 L375.2 1345.5 L375.5 1346.9 L375.7 1345.3 L376.0 1343.6 L376.2 1341.9 L376.5 1340.2 L376.7 1338.5 L377.0 1337.2 L377.2 1339.0 L377.5 1340.9 L377.7 1342.7 L378.0 1344.6 L378.2 1339.7 L378.5 1334.5 L378.7 1329.7 L379.0 1325.5 L379.2 1321.8 L379.5 1323.4 L379.7 1331.2 L380.0 1339.2 L380.2 1347.3 L380.5 1355.5 L380.7 1363.5 L381.0 1365.5 L381.2 1366.0 L381.5 1366.1 L381.7 1365.7 L382.0 1364.7 L382.2 1365.2 L382.5 1365.7 L382.7 1365.9 L383.0 1363.6 L383.2 1359.2 L383.5 1354.6 L383.7 1349.8 L384.0 1344.9 L384.2 1339.8 L384.5 1334.7 L384.7 1329.6 L385.0 1333.7 L385.2 1339.4 L385.5 1345.2 L385.7 1344.6 L386.0 1343.4 L386.2 1342.4 L386.5 1341.7 L386.7 1340.9 L387.0 1340.1 L387.2 1339.2 L387.5 1338.1 L387.7 1337.0 L388.0 1335.8 L388.2 1334.7 L388.5 1333.6 L388.7 1332.5 L389.0 1330.4 L389.2 1328.2 L389.5 1326.1 L389.7 1324.6 L390.0 1324.3 L390.2 1324.1 L390.5 1324.0 L390.7 1323.9 L391.0 1323.3 L391.2 1322.7 L391.5 1322.3 L391.7 1322.0 L392.0 1321.9 L392.2 1321.9 L392.5 1322.1 L392.7 1322.4 L393.0 1322.9 L393.2 1323.5 L393.5 1324.3 L393.7 1325.1 L394.0 1325.8 L394.2 1325.8 L394.5 1325.9 L394.7 1326.6 L395.0 1328.2 L395.2 1329.9 L395.5 1331.5 L395.7 1333.1 L396.0 1334.6 L396.2 1335.5 L396.5 1336.3 L396.7 1337.1 L397.0 1337.7 L397.2 1338.1 L397.5 1338.3 L397.7 1338.3 L398.0 1338.2 L398.2 1337.8 L398.5 1337.4 L398.7 1336.8 L399.0 1336.1 L399.2 1335.5 L399.5 1335.1 L399.7 1334.7 L400.0 1333.2 L400.2 1330.0 L400.5 1326.8 L400.7 1323.5 L401.0 1320.2 L401.2 1316.9 L401.5 1313.6 L401.7 1315.8 L402.0 1319.4 L402.2 1323.1 L402.5 1323.2 L402.7 1322.3 L403.0 1321.5 L403.2 1320.7 L403.5 1320.1 L403.7 1319.5 L404.0 1319.0 L404.2 1318.4 L404.5 1317.9 L404.7 1317.5 L405.0 1317.0 L405.2 1316.4 L405.5 1315.0 L405.7 1313.7 L406.0 1312.3 L406.2 1311.0 L406.5 1309.7 L406.7 1309.6 L407.0 1309.6 L407.2 1309.7 L407.5 1309.8 L407.7 1309.9 L408.0 1310.0 L408.2 1310.1 L408.5 1310.2 L408.7 1310.3 L409.0 1310.5 L409.2 1310.7 L409.5 1311.1 L409.7 1303.6 L410.0 1295.3 L410.2 1287.4 L410.5 1279.7 L410.7 1272.3 L411.0 1289.9 L411.2 1307.7 L411.5 1324.5 L411.7 1326.3 L412.0 1327.9 L412.2 1329.5 L412.5 1330.8 L412.7 1331.9 L413.0 1333.3 L413.2 1334.3 L413.5 1335.0 L413.7 1335.2 L414.0 1335.0 L414.2 1334.6 L414.5 1334.0 L414.7 1331.9 L415.0 1328.3 L415.2 1324.8 L415.5 1321.3 L415.7 1317.9 L416.0 1317.3 L416.2 1317.6 L416.5 1318.2 L416.7 1319.3 L417.0 1321.2 L417.2 1322.4 L417.5 1318.6 L417.7 1315.2 L418.0 1312.5 L418.2 1319.9 L418.5 1327.3 L418.7 1334.7 L419.0 1341.8 L419.2 1348.6 L419.5 1352.7 L419.7 1353.5 L420.0 1353.6 L420.2 1353.0 L420.5 1351.7 L420.7 1349.8 L421.0 1347.5 L421.2 1345.1 L421.5 1343.4 L421.7 1341.6 L422.0 1339.9 L422.2 1338.5 L422.5 1337.5 L422.7 1336.8 L423.0 1336.8 L423.2 1337.3 L423.5 1338.4 L423.7 1340.0 L424.0 1341.6 L424.2 1343.4 L424.5 1345.6 L424.7 1347.9 L425.0 1350.5 L425.2 1351.3 L425.5 1352.1 L425.7 1353.0 L426.0 1355.6 L426.2 1360.0 L426.5 1364.2 L426.7 1368.1 L427.0 1371.7 L427.2 1371.4 L427.5 1369.3 L427.7 1366.7 L428.0 1363.6 L428.2 1360.1 L428.5 1356.5 L428.7 1359.5 L429.0 1362.5 L429.2 1365.5 L429.5 1368.3 L429.7 1371.1 L430.0 1371.4 L430.2 1368.9 L430.5 1366.3 L430.7 1363.6 L431.0 1360.9 L431.2 1358.5 L431.5 1358.9 L431.7 1359.3 L432.0 1359.7 L432.2 1360.1 L432.5 1360.3 L432.7 1356.5 L433.0 1352.8 L433.2 1349.1 L433.5 1345.3 L433.7 1342.9 L434.0 1342.7 L434.2 1342.4 L434.5 1342.1 L434.7 1341.7 L435.0 1341.4 L435.2 1341.0 L435.5 1340.5 L435.7 1339.9 L436.0 1339.2 L436.2 1338.5 L436.5 1337.9 L436.7 1336.8 L437.0 1335.8 L437.2 1334.8 L437.5 1333.8 L437.7 1332.9 L438.0 1332.0 L438.2 1330.7 L438.5 1329.2 L438.7 1327.7 L439.0 1326.1 L439.2 1324.5 L439.5 1323.8 L439.7 1323.1 L440.0 1322.4 L440.2 1321.7 L440.5 1320.7 L440.7 1318.6 L441.0 1316.6 L441.2 1314.7 L441.5 1313.0 L441.7 1312.3 L442.0 1312.6 L442.2 1313.1 L442.5 1313.8 L442.7 1314.6 L443.0 1315.5 L443.2 1316.5 L443.5 1316.6 L443.7 1316.1 L444.0 1315.6 L444.2 1315.3 L444.5 1315.6 L444.7 1315.9 L445.0 1316.3 L445.2 1316.7 L445.5 1317.1 L445.7 1317.2 L446.0 1316.5 L446.2 1315.9 L446.5 1315.2 L446.7 1314.5 L447.0 1313.7 L447.2 1316.7 L447.5 1321.1 L447.7 1325.6 L448.0 1329.1 L448.2 1329.7 L448.5 1330.3 L448.7 1330.9 L449.0 1331.5 L449.2 1331.9 L449.5 1331.8 L449.7 1331.7 L450.0 1331.6 L450.2 1331.5 L450.5 1331.4 L450.7 1329.8 L451.0 1322.8 L451.2 1315.9 L451.5 1309.0 L451.7 1302.1 L452.0 1295.2 L452.2 1288.4 L452.5 1283.6 L452.7 1299.6 L453.0 1315.6 L453.2 1331.5 L453.5 1340.0 L453.7 1341.9 L454.0 1343.8 L454.2 1345.8 L454.5 1346.8 L454.7 1347.4 L455.0 1348.1 L455.2 1348.8 L455.5 1349.6 L455.7 1350.3 L456.0 1351.1 L456.2 1339.3 L456.5 1326.4 L456.7 1313.5 L457.0 1300.7 L457.2 1300.2 L457.5 1310.7 L457.7 1321.3 L458.0 1332.0 L458.2 1342.8 L458.5 1353.6 L458.7 1364.5 L459.0 1366.2 L459.2 1366.7 L459.5 1367.3 L459.7 1367.9 L460.0 1368.5 L460.2 1369.7 L460.5 1371.3 L460.7 1372.8 L461.0 1374.3 L461.2 1375.7 L461.5 1377.2 L461.7 1378.7 L462.0 1380.3 L462.2 1381.9 L462.5 1383.6 L462.7 1385.2 L463.0 1385.5 L463.2 1385.9 L463.5 1386.2 L463.7 1386.5 L464.0 1386.8 L464.2 1387.5 L464.5 1388.3 L464.7 1389.0 L465.0 1389.8 L465.2 1392.6 L465.5 1395.3 L465.7 1398.0 L466.0 1400.5 L466.2 1402.9 L466.5 1405.2 L466.7 1405.6 L467.0 1402.6 L467.2 1399.4 L467.5 1396.1 L467.7 1394.9 L468.0 1395.7 L468.2 1396.3 L468.5 1396.7 L468.7 1397.0 L469.0 1397.2 L469.2 1397.2 L469.5 1396.2 L469.7 1394.8 L470.0 1393.2 L470.2 1391.7 L470.5 1390.1 L470.7 1388.8 L471.0 1388.3 L471.2 1387.9 L471.5 1387.6 L471.7 1383.0 L472.0 1377.7 L472.2 1372.4 L472.5 1367.1 L472.7 1361.7 L473.0 1356.3 L473.2 1353.3 L473.5 1356.7 L473.7 1360.0 L474.0 1363.4 L474.2 1366.8 L474.5 1370.1 L474.7 1365.3 L475.0 1360.5 L475.2 1355.6 L475.5 1350.7 L475.7 1345.8 L476.0 1346.8 L476.2 1348.2 L476.5 1349.6 L476.7 1351.0 L477.0 1352.5 L477.2 1352.1 L477.5 1349.6 L477.7 1347.2 L478.0 1345.7 L478.2 1344.4 L478.5 1343.1 L478.7 1342.0 L479.0 1341.0 L479.2 1340.1 L479.5 1339.3 L479.7 1338.6 L480.0 1323.4 L480.2 1307.4 L480.5 1291.4 L480.7 1296.7 L481.0 1307.3 L481.2 1317.9 L481.5 1328.5 L481.7 1337.7 L482.0 1329.2 L482.2 1320.7 L482.5 1312.1 L482.7 1303.4 L483.0 1294.6 L483.2 1291.9 L483.5 1297.6 L483.7 1303.1 L484.0 1308.4 L484.2 1313.5 L484.5 1318.5 L484.7 1318.5 L485.0 1315.7 L485.2 1312.9 L485.5 1310.2 L485.7 1309.0 L486.0 1308.6 L486.2 1308.3 L486.5 1307.9 L486.7 1307.5 L487.0 1307.1 L487.2 1306.7 L487.5 1305.0 L487.7 1303.4 L488.0 1301.8 L488.2 1300.4 L488.5 1299.6 L488.7 1299.1 L489.0 1298.9 L489.2 1298.8 L489.5 1299.0 L489.7 1299.5 L490.0 1300.0 L490.2 1300.1 L490.5 1300.3 L490.7 1300.7 L491.0 1301.1 L491.2 1301.5 L491.5 1300.7 L491.7 1299.9 L492.0 1299.2 L492.2 1299.2 L492.5 1299.4 L492.7 1299.6 L493.0 1299.7 L493.2 1299.8 L493.5 1299.9 L493.7 1300.1 L494.0 1300.3 L494.2 1303.4 L494.5 1306.7 L494.7 1310.0 L495.0 1313.4 L495.2 1315.1 L495.5 1313.8 L495.7 1312.6 L496.0 1312.4 L496.2 1315.8 L496.5 1319.2 L496.7 1322.6 L497.0 1326.0 L497.2 1329.4 L497.5 1332.7 L497.7 1335.2 L498.0 1335.0 L498.2 1334.9 L498.5 1334.9 L498.7 1334.9 L499.0 1335.2 L499.2 1337.4 L499.5 1339.7 L499.7 1341.8 L500.0 1343.6 L500.2 1344.7 L500.5 1345.7 L500.7 1346.5 L501.0 1347.1 L501.2 1347.5 L501.5 1347.6 L501.7 1348.3 L502.0 1350.0 L502.2 1351.7 L502.5 1353.3 L502.7 1354.9 L503.0 1349.7 L503.2 1343.7 L503.5 1337.6 L503.7 1331.5 L504.0 1325.4 L504.2 1329.9 L504.5 1336.5 L504.7 1343.1 L505.0 1349.7 L505.2 1351.2 L505.5 1345.9 L505.7 1340.6 L506.0 1335.3 L506.2 1329.9 L506.5 1327.8 L506.7 1330.0 L507.0 1332.0 L507.2 1334.0 L507.5 1336.0 L507.7 1337.9 L508.0 1339.1 L508.2 1330.2 L508.5 1321.4 L508.7 1312.7 L509.0 1304.2 L509.2 1295.8 L509.5 1288.0 L509.7 1297.8 L510.0 1307.8 L510.2 1317.9 L510.5 1328.2 L510.7 1338.6 L511.0 1344.7 L511.2 1345.4 L511.5 1346.2 L511.7 1347.1 L512.0 1347.7 L512.2 1348.0 L512.5 1348.3 L512.7 1348.5 L513.0 1348.8 L513.2 1348.6 L513.5 1347.7 L513.7 1346.9 L514.0 1345.9 L514.2 1344.8 L514.5 1347.1 L514.7 1349.5 L515.0 1351.8 L515.2 1354.1 L515.5 1356.5 L515.7 1358.8 L516.0 1359.6 L516.2 1359.3 L516.5 1358.9 L516.7 1358.6 L517.0 1358.2 L517.2 1358.1 L517.5 1358.4 L517.7 1358.8 L518.0 1359.1 L518.2 1359.3 L518.5 1359.6 L518.7 1359.4 L519.0 1356.0 L519.2 1352.5 L519.5 1350.2 L519.7 1351.0 L520.0 1351.6 L520.2 1352.3 L520.5 1352.9 L520.7 1353.5 L521.0 1354.1 L521.2 1352.9 L521.5 1346.3 L521.7 1339.7 L522.0 1333.0 L522.2 1326.4 L522.5 1319.7 L522.7 1320.6 L523.0 1330.2 L523.2 1339.8 L523.5 1349.4 L523.7 1359.0 L524.0 1358.0 L524.2 1356.4 L524.5 1354.8 L524.7 1353.3 L525.0 1352.5 L525.2 1354.4 L525.5 1356.4 L525.7 1358.4 L526.0 1360.4 L526.2 1350.3 L526.5 1339.6 L526.7 1329.6 L527.0 1320.2 L527.2 1311.2 L527.5 1302.5 L527.7 1294.0 L528.0 1305.9 L528.2 1346.6 L528.5 1383.0 L528.7 1385.0 L529.0 1386.6 L529.2 1387.6 L529.5 1387.9 L529.7 1387.4 L530.0 1386.6 L530.2 1386.2 L530.5 1386.0 L530.7 1385.6 L531.0 1384.9 L531.2 1384.2 L531.5 1383.0 L531.7 1381.3 L532.0 1379.6 L532.2 1378.0 L532.5 1376.6 L532.7 1376.0 L533.0 1375.5 L533.2 1375.2 L533.5 1375.1 L533.7 1375.1 L534.0 1375.1 L534.2 1374.3 L534.5 1372.9 L534.7 1371.6 L535.0 1370.3 L535.2 1369.0 L535.5 1368.9 L535.7 1370.2 L536.0 1371.5 L536.2 1372.8 L536.5 1371.5 L536.7 1369.7 L537.0 1367.8 L537.2 1365.9 L537.5 1363.9 L537.7 1361.7 L538.0 1361.4 L538.2 1361.0 L538.5 1360.2 L538.7 1359.2 L539.0 1357.9 L539.2 1355.0 L539.5 1352.0 L539.7 1349.0 L540.0 1346.0 L540.2 1343.2 L540.5 1340.8 L540.7 1339.5 L541.0 1338.6 L541.2 1337.9 L541.5 1337.7 L541.7 1337.8 L542.0 1336.9 L542.2 1335.3 L542.5 1333.8 L542.7 1332.3 L543.0 1330.8 L543.2 1329.3 L543.5 1328.0 L543.7 1329.7 L544.0 1331.4 L544.2 1333.1 L544.5 1332.9 L544.7 1330.5 L545.0 1328.1 L545.2 1325.7 L545.5 1323.3 L545.7 1321.0 L546.0 1318.6 L546.2 1319.0 L546.5 1321.0 L546.7 1323.0 L547.0 1325.1 L547.2 1327.4 L547.5 1327.9 L547.7 1328.6 L548.0 1329.6 L548.2 1330.8 L548.5 1332.2 L548.7 1334.9 L549.0 1338.2 L549.2 1341.7 L549.5 1345.3 L549.7 1349.0 L550.0 1349.4 L550.2 1347.2 L550.5 1345.1 L550.7 1343.2 L551.0 1341.7 L551.2 1346.1 L551.5 1351.5 L551.7 1357.1 L552.0 1362.7 L552.2 1368.4 L552.5 1374.0 L552.7 1375.3 L553.0 1374.8 L553.2 1374.0 L553.5 1375.4 L553.7 1381.6 L554.0 1387.8 L554.2 1394.1 L554.5 1400.4 L554.7 1405.7 L555.0 1404.6 L555.2 1403.2 L555.5 1401.5 L555.7 1399.3 L556.0 1396.5 L556.2 1393.2 L556.5 1394.6 L556.7 1401.8 L557.0 1408.9 L557.2 1406.1 L557.5 1402.0 L557.7 1397.8 L558.0 1393.5 L558.2 1389.1 L558.5 1384.6 L558.7 1383.0 L559.0 1384.6 L559.2 1386.1 L559.5 1387.5 L559.7 1389.0 L560.0 1390.4 L560.2 1391.8 L560.5 1392.1 L560.7 1392.1 L561.0 1392.0 L561.2 1390.9 L561.5 1387.6 L561.7 1384.1 L562.0 1380.5 L562.2 1376.8 L562.5 1373.5 L562.7 1370.1 L563.0 1366.6 L563.2 1363.1 L563.5 1359.6 L563.7 1356.2 L564.0 1353.5 L564.2 1351.7 L564.5 1350.0 L564.7 1348.4 L565.0 1346.7 L565.2 1344.7 L565.5 1341.9 L565.7 1338.6 L566.0 1335.3 L566.2 1332.2 L566.5 1329.2 L566.7 1325.6 L567.0 1322.3 L567.2 1319.4 L567.5 1317.2 L567.7 1315.8 L568.0 1314.9 L568.2 1314.8 L568.5 1315.7 L568.7 1317.0 L569.0 1320.3 L569.2 1323.7 L569.5 1327.2 L569.7 1330.6 L570.0 1334.0 L570.2 1337.2 L570.5 1337.2 L570.7 1334.8 L571.0 1332.0 L571.2 1328.8 L571.5 1325.2 L571.7 1321.1 L572.0 1324.2 L572.2 1328.4 L572.5 1332.5 L572.7 1334.7 L573.0 1332.4 L573.2 1330.2 L573.5 1327.9 L573.7 1325.9 L574.0 1324.0 L574.2 1322.3 L574.5 1321.0 L574.7 1319.3 L575.0 1318.0 L575.2 1317.0 L575.5 1316.3 L575.7 1317.6 L576.0 1320.4 L576.2 1323.4 L576.5 1326.5 L576.7 1329.8 L577.0 1332.7 L577.2 1335.2 L577.5 1337.8 L577.7 1340.3 L578.0 1342.5 L578.2 1343.6 L578.5 1344.6 L578.7 1345.5 L579.0 1346.2 L579.2 1346.7 L579.5 1347.1 L579.7 1347.6 L580.0 1349.5 L580.2 1352.1 L580.5 1354.7 L580.7 1357.3 L581.0 1357.2 L581.2 1348.3 L581.5 1339.4 L581.7 1330.5 L582.0 1330.7 L582.2 1337.3 L582.5 1343.9 L582.7 1350.4 L583.0 1357.1 L583.2 1363.7 L583.5 1370.3 L583.7 1368.7 L584.0 1367.3 L584.2 1365.8 L584.5 1364.7 L584.7 1363.7 L585.0 1362.9 L585.2 1368.3 L585.5 1373.9 L585.7 1379.4 L586.0 1384.9 L586.2 1388.6 L586.5 1391.0 L586.7 1393.2 L587.0 1395.2 L587.2 1396.2 L587.5 1396.6 L587.7 1396.5 L588.0 1396.1 L588.2 1395.2 L588.5 1394.1 L588.7 1392.7 L589.0 1390.4 L589.2 1386.3 L589.5 1382.1 L589.7 1377.8 L590.0 1376.6 L590.2 1376.3 L590.5 1375.9 L590.7 1375.7 L591.0 1374.8 L591.2 1372.3 L591.5 1370.1 L591.7 1368.0 L592.0 1366.2 L592.2 1364.7 L592.5 1363.5 L592.7 1363.7 L593.0 1364.8 L593.2 1365.8 L593.5 1366.8 L593.7 1367.9 L594.0 1368.9 L594.2 1363.7 L594.5 1356.3 L594.7 1348.9 L595.0 1348.4 L595.2 1353.6 L595.5 1358.9 L595.7 1364.1 L596.0 1369.3 L596.2 1362.1 L596.5 1354.2 L596.7 1346.2 L597.0 1338.3 L597.2 1330.4 L597.5 1322.4 L597.7 1314.5 L598.0 1308.8 L598.2 1330.4 L598.5 1352.3 L598.7 1371.9 L599.0 1369.3 L599.2 1366.9 L599.5 1364.7 L599.7 1362.6 L600.0 1360.6 L600.2 1358.6 L600.5 1364.5 L600.7 1375.2 L601.0 1385.8 L601.2 1393.7 L601.5 1391.0 L601.7 1387.9 L602.0 1384.6 L602.2 1381.0 L602.5 1377.4 L602.7 1377.1 L603.0 1380.9 L603.2 1384.6 L603.5 1388.3 L603.7 1392.0 L604.0 1395.7 L604.2 1395.3 L604.5 1393.2 L604.7 1391.0 L605.0 1388.8 L605.2 1386.6 L605.5 1384.3 L605.7 1382.1 L606.0 1384.6 L606.2 1391.6 L606.5 1398.6 L606.7 1405.3 L607.0 1406.1 L607.2 1406.9 L607.5 1407.7 L607.7 1408.4 L608.0 1409.1 L608.2 1409.7 L608.5 1409.8 L608.7 1409.3 L609.0 1408.6 L609.2 1407.7 L609.5 1406.7 L609.7 1404.0 L610.0 1398.4 L610.2 1392.7 L610.5 1387.0 L610.7 1381.2 L611.0 1381.4 L611.2 1382.3 L611.5 1383.3 L611.7 1384.3 L612.0 1385.3 L612.2 1386.4 L612.5 1386.5 L612.7 1385.8 L613.0 1385.3 L613.2 1384.9 L613.5 1384.7 L613.7 1385.4 L614.0 1387.6 L614.2 1389.6 L614.5 1389.2 L614.7 1388.8 L615.0 1388.4 L615.2 1388.1 L615.5 1387.8 L615.5 1428.0 L615.2 1424.4 L615.0 1420.9 L614.7 1421.7 L614.5 1423.1 L614.2 1424.5 L614.0 1426.0 L613.7 1427.5 L613.5 1429.0 L613.2 1430.1 L613.0 1428.9 L612.7 1427.9 L612.5 1427.0 L612.2 1426.3 L612.0 1428.9 L611.7 1431.7 L611.5 1434.6 L611.2 1437.5 L611.0 1440.4 L610.7 1443.4 L610.5 1446.2 L610.2 1448.4 L610.0 1448.2 L609.7 1447.9 L609.5 1447.4 L609.2 1446.6 L609.0 1445.6 L608.7 1444.5 L608.5 1443.1 L608.2 1441.6 L608.0 1440.8 L607.7 1440.2 L607.5 1439.7 L607.2 1439.1 L607.0 1440.1 L606.7 1442.5 L606.5 1445.0 L606.2 1447.4 L606.0 1449.7 L605.7 1452.1 L605.5 1454.4 L605.2 1455.8 L605.0 1449.8 L604.7 1443.9 L604.5 1437.9 L604.2 1434.8 L604.0 1434.1 L603.7 1433.3 L603.5 1432.6 L603.2 1431.9 L603.0 1431.7 L602.7 1432.3 L602.5 1432.9 L602.2 1433.4 L602.0 1434.0 L601.7 1433.9 L601.5 1431.6 L601.2 1429.0 L601.0 1426.2 L600.7 1423.1 L600.5 1420.0 L600.2 1417.0 L600.0 1414.8 L599.7 1412.6 L599.5 1410.4 L599.2 1408.4 L599.0 1406.6 L598.7 1404.9 L598.5 1406.8 L598.2 1413.6 L598.0 1420.9 L597.7 1428.5 L597.5 1436.5 L597.2 1436.0 L597.0 1425.9 L596.7 1415.9 L596.5 1405.9 L596.2 1402.1 L596.0 1402.1 L595.7 1402.1 L595.5 1402.1 L595.2 1402.1 L595.0 1402.3 L594.7 1402.7 L594.5 1403.1 L594.2 1403.5 L594.0 1404.0 L593.7 1404.4 L593.5 1405.3 L593.2 1406.5 L593.0 1407.7 L592.7 1408.9 L592.5 1409.6 L592.2 1409.2 L592.0 1409.1 L591.7 1409.2 L591.5 1409.7 L591.2 1410.3 L591.0 1412.2 L590.7 1416.0 L590.5 1419.9 L590.2 1423.8 L590.0 1427.4 L589.7 1430.6 L589.5 1433.8 L589.2 1436.8 L589.0 1439.7 L588.7 1440.7 L588.5 1439.4 L588.2 1437.8 L588.0 1435.8 L587.7 1433.5 L587.5 1431.3 L587.2 1430.6 L587.0 1429.5 L586.7 1428.1 L586.5 1426.4 L586.2 1424.5 L586.0 1422.4 L585.7 1420.1 L585.5 1418.5 L585.2 1417.0 L585.0 1415.5 L584.7 1412.7 L584.5 1410.0 L584.2 1407.6 L584.0 1405.4 L583.7 1403.2 L583.5 1406.0 L583.2 1410.4 L583.0 1414.9 L582.7 1419.4 L582.5 1423.9 L582.2 1423.3 L582.0 1416.4 L581.7 1409.6 L581.5 1402.7 L581.2 1395.9 L581.0 1390.9 L580.7 1389.9 L580.5 1388.9 L580.2 1387.8 L580.0 1386.8 L579.7 1385.7 L579.5 1384.6 L579.2 1383.0 L579.0 1381.2 L578.7 1379.4 L578.5 1377.3 L578.2 1375.2 L578.0 1373.5 L577.7 1372.0 L577.5 1370.4 L577.2 1368.9 L577.0 1367.3 L576.7 1365.9 L576.5 1364.0 L576.2 1361.9 L576.0 1360.0 L575.7 1358.3 L575.5 1358.4 L575.2 1360.8 L575.0 1363.5 L574.7 1366.5 L574.5 1366.8 L574.2 1366.1 L574.0 1365.7 L573.7 1365.6 L573.5 1365.6 L573.2 1365.8 L573.0 1366.0 L572.7 1366.2 L572.5 1371.1 L572.2 1376.7 L572.0 1381.2 L571.7 1380.9 L571.5 1380.3 L571.2 1379.2 L571.0 1377.7 L570.7 1375.8 L570.5 1373.5 L570.2 1370.8 L570.0 1367.7 L569.7 1364.5 L569.5 1361.2 L569.2 1359.1 L569.0 1357.3 L568.7 1355.7 L568.5 1354.2 L568.2 1353.0 L568.0 1352.1 L567.7 1351.7 L567.5 1351.7 L567.2 1353.4 L567.0 1355.9 L566.7 1358.9 L566.5 1361.9 L566.2 1364.4 L566.0 1367.1 L565.7 1369.9 L565.5 1372.7 L565.2 1375.5 L565.0 1378.0 L564.7 1380.0 L564.5 1381.9 L564.2 1384.0 L564.0 1386.6 L563.7 1389.4 L563.5 1392.1 L563.2 1394.9 L563.0 1397.7 L562.7 1400.7 L562.5 1406.2 L562.2 1411.6 L562.0 1417.0 L561.7 1422.2 L561.5 1427.2 L561.2 1430.5 L561.0 1431.3 L560.7 1431.8 L560.5 1432.2 L560.2 1432.4 L560.0 1433.7 L559.7 1435.7 L559.5 1437.8 L559.2 1439.8 L559.0 1441.8 L558.7 1443.7 L558.5 1443.9 L558.2 1441.3 L558.0 1438.7 L557.7 1436.0 L557.5 1436.3 L557.2 1438.1 L557.0 1439.7 L556.7 1441.2 L556.5 1442.5 L556.2 1443.7 L556.0 1444.6 L555.7 1442.8 L555.5 1440.1 L555.2 1437.0 L555.0 1433.5 L554.7 1430.5 L554.5 1427.7 L554.2 1424.7 L554.0 1421.6 L553.7 1418.6 L553.5 1415.7 L553.2 1413.1 L553.0 1411.2 L552.7 1409.1 L552.5 1406.6 L552.2 1402.5 L552.0 1398.4 L551.7 1394.3 L551.5 1390.3 L551.2 1386.4 L551.0 1382.8 L550.7 1379.5 L550.5 1377.3 L550.2 1375.5 L550.0 1373.7 L549.7 1371.8 L549.5 1369.5 L549.2 1367.3 L549.0 1365.2 L548.7 1363.2 L548.5 1361.3 L548.2 1359.6 L548.0 1358.1 L547.7 1357.5 L547.5 1357.2 L547.2 1357.2 L547.0 1357.5 L546.7 1358.8 L546.5 1360.5 L546.2 1362.3 L546.0 1364.1 L545.7 1365.9 L545.5 1366.4 L545.2 1365.5 L545.0 1364.5 L544.7 1363.6 L544.5 1362.7 L544.2 1363.3 L544.0 1366.0 L543.7 1368.7 L543.5 1371.5 L543.2 1374.2 L543.0 1372.7 L542.7 1368.5 L542.5 1364.4 L542.2 1360.3 L542.0 1356.9 L541.7 1360.3 L541.5 1364.1 L541.2 1368.3 L541.0 1372.9 L540.7 1377.9 L540.5 1383.1 L540.2 1383.3 L540.0 1383.0 L539.7 1382.9 L539.5 1382.7 L539.2 1382.5 L539.0 1382.3 L538.7 1385.1 L538.5 1390.9 L538.2 1396.4 L538.0 1401.5 L537.7 1406.3 L537.5 1406.8 L537.2 1404.2 L537.0 1401.4 L536.7 1398.6 L536.5 1395.8 L536.2 1395.7 L536.0 1397.3 L535.7 1398.9 L535.5 1398.7 L535.2 1398.0 L535.0 1397.3 L534.7 1396.6 L534.5 1396.0 L534.2 1395.3 L534.0 1395.3 L533.7 1396.9 L533.5 1398.6 L533.2 1400.3 L533.0 1401.5 L532.7 1401.6 L532.5 1401.9 L532.2 1402.4 L532.0 1402.9 L531.7 1403.4 L531.5 1406.0 L531.2 1410.8 L531.0 1415.5 L530.7 1420.1 L530.5 1424.5 L530.2 1423.4 L530.0 1422.0 L529.7 1420.2 L529.5 1418.0 L529.2 1415.1 L529.0 1411.5 L528.7 1407.8 L528.5 1406.5 L528.2 1404.8 L528.0 1403.0 L527.7 1401.1 L527.5 1399.2 L527.2 1395.6 L527.0 1391.7 L526.7 1388.3 L526.5 1385.4 L526.2 1383.1 L526.0 1381.7 L525.7 1380.9 L525.5 1381.2 L525.2 1381.6 L525.0 1382.1 L524.7 1382.5 L524.5 1383.1 L524.2 1383.9 L524.0 1384.6 L523.7 1385.4 L523.5 1385.2 L523.2 1384.7 L523.0 1384.2 L522.7 1383.8 L522.5 1383.3 L522.2 1382.9 L522.0 1383.1 L521.7 1383.2 L521.5 1383.3 L521.2 1383.4 L521.0 1383.5 L520.7 1383.6 L520.5 1387.1 L520.2 1391.6 L520.0 1396.0 L519.7 1400.4 L519.5 1399.4 L519.2 1397.1 L519.0 1394.7 L518.7 1392.3 L518.5 1389.9 L518.2 1387.5 L518.0 1394.7 L517.7 1402.0 L517.5 1409.2 L517.2 1416.4 L517.0 1420.2 L516.7 1409.1 L516.5 1397.9 L516.2 1386.8 L516.0 1377.5 L515.7 1378.7 L515.5 1379.8 L515.2 1380.9 L515.0 1382.1 L514.7 1383.2 L514.5 1384.4 L514.2 1382.8 L514.0 1380.9 L513.7 1379.0 L513.5 1377.0 L513.2 1376.1 L513.0 1376.7 L512.7 1377.2 L512.5 1377.7 L512.2 1378.2 L512.0 1378.7 L511.7 1378.6 L511.5 1375.6 L511.2 1372.7 L511.0 1369.9 L510.7 1367.2 L510.5 1366.3 L510.2 1366.3 L510.0 1366.4 L509.7 1366.6 L509.5 1367.1 L509.2 1367.1 L509.0 1367.1 L508.7 1367.2 L508.5 1367.5 L508.2 1367.9 L508.0 1368.4 L507.7 1369.9 L507.5 1375.4 L507.2 1381.0 L507.0 1383.9 L506.7 1382.2 L506.5 1380.3 L506.2 1378.4 L506.0 1376.3 L505.7 1374.5 L505.5 1374.8 L505.2 1375.2 L505.0 1375.5 L504.7 1375.8 L504.5 1376.2 L504.2 1376.5 L504.0 1376.8 L503.7 1377.0 L503.5 1377.1 L503.2 1377.2 L503.0 1377.3 L502.7 1377.4 L502.5 1377.3 L502.2 1387.4 L502.0 1399.8 L501.7 1412.2 L501.5 1412.5 L501.2 1404.5 L501.0 1396.3 L500.7 1387.9 L500.5 1379.2 L500.2 1374.1 L500.0 1372.6 L499.7 1371.1 L499.5 1369.4 L499.2 1367.7 L499.0 1366.0 L498.7 1364.2 L498.5 1362.8 L498.2 1361.6 L498.0 1360.5 L497.7 1359.5 L497.5 1358.6 L497.2 1358.6 L497.0 1359.2 L496.7 1359.8 L496.5 1360.4 L496.2 1360.2 L496.0 1357.6 L495.7 1355.0 L495.5 1352.4 L495.2 1349.8 L495.0 1348.4 L494.7 1350.0 L494.5 1351.7 L494.2 1353.3 L494.0 1355.1 L493.7 1356.8 L493.5 1353.9 L493.2 1349.0 L493.0 1344.2 L492.7 1339.3 L492.5 1334.3 L492.2 1333.3 L492.0 1332.3 L491.7 1331.4 L491.5 1330.5 L491.2 1329.6 L491.0 1328.8 L490.7 1328.0 L490.5 1327.4 L490.2 1326.8 L490.0 1326.4 L489.7 1326.2 L489.5 1326.2 L489.2 1350.8 L489.0 1381.0 L488.7 1403.9 L488.5 1392.1 L488.2 1380.6 L488.0 1369.2 L487.7 1357.9 L487.5 1346.7 L487.2 1335.6 L487.0 1334.0 L486.7 1335.8 L486.5 1337.6 L486.2 1339.4 L486.0 1341.1 L485.7 1342.6 L485.5 1344.2 L485.2 1346.0 L485.0 1347.8 L484.7 1350.0 L484.5 1352.2 L484.2 1354.4 L484.0 1356.5 L483.7 1358.4 L483.5 1360.1 L483.2 1361.6 L483.0 1362.6 L482.7 1363.4 L482.5 1364.2 L482.2 1364.8 L482.0 1365.4 L481.7 1366.6 L481.5 1369.3 L481.2 1372.0 L481.0 1374.7 L480.7 1376.9 L480.5 1376.6 L480.2 1376.3 L480.0 1376.0 L479.7 1375.8 L479.5 1375.7 L479.2 1375.6 L479.0 1377.2 L478.7 1379.4 L478.5 1381.8 L478.2 1384.3 L478.0 1386.9 L477.7 1388.3 L477.5 1387.0 L477.2 1385.8 L477.0 1384.7 L476.7 1383.8 L476.5 1385.5 L476.2 1387.2 L476.0 1388.9 L475.7 1390.6 L475.5 1392.5 L475.2 1394.4 L475.0 1396.3 L474.7 1398.2 L474.5 1399.9 L474.2 1401.7 L474.0 1403.6 L473.7 1405.4 L473.5 1407.2 L473.2 1409.0 L473.0 1410.7 L472.7 1412.3 L472.5 1413.9 L472.2 1415.4 L472.0 1416.9 L471.7 1418.4 L471.5 1421.0 L471.2 1424.5 L471.0 1428.0 L470.7 1431.6 L470.5 1434.8 L470.2 1435.3 L470.0 1435.9 L469.7 1436.3 L469.5 1436.7 L469.2 1437.0 L469.0 1437.3 L468.7 1437.4 L468.5 1437.9 L468.2 1438.3 L468.0 1438.5 L467.7 1438.4 L467.5 1438.2 L467.2 1438.8 L467.0 1439.3 L466.7 1439.7 L466.5 1439.9 L466.2 1440.0 L466.0 1439.7 L465.7 1438.0 L465.5 1436.1 L465.2 1434.2 L465.0 1432.2 L464.7 1430.6 L464.5 1429.1 L464.2 1427.6 L464.0 1426.6 L463.7 1426.3 L463.5 1425.9 L463.2 1425.6 L463.0 1425.3 L462.7 1424.8 L462.5 1422.8 L462.2 1420.8 L462.0 1418.8 L461.7 1416.9 L461.5 1415.0 L461.2 1413.1 L461.0 1411.1 L460.7 1412.0 L460.5 1413.0 L460.2 1414.0 L460.0 1413.8 L459.7 1411.2 L459.5 1408.7 L459.2 1406.2 L459.0 1403.6 L458.7 1401.2 L458.5 1398.7 L458.2 1398.9 L458.0 1403.0 L457.7 1407.1 L457.5 1411.3 L457.2 1415.6 L457.0 1411.0 L456.7 1404.0 L456.5 1397.1 L456.2 1390.2 L456.0 1384.4 L455.7 1383.5 L455.5 1382.7 L455.2 1381.9 L455.0 1381.1 L454.7 1380.4 L454.5 1379.5 L454.2 1378.5 L454.0 1377.5 L453.7 1376.6 L453.5 1375.6 L453.2 1374.7 L453.0 1374.2 L452.7 1374.7 L452.5 1375.1 L452.2 1375.0 L452.0 1374.2 L451.7 1373.4 L451.5 1372.6 L451.2 1371.8 L451.0 1371.1 L450.7 1370.3 L450.5 1370.4 L450.2 1372.8 L450.0 1375.2 L449.7 1377.6 L449.5 1379.9 L449.2 1381.8 L449.0 1377.9 L448.7 1374.1 L448.5 1370.3 L448.2 1366.5 L448.0 1363.7 L447.7 1366.9 L447.5 1370.2 L447.2 1373.5 L447.0 1376.7 L446.7 1379.8 L446.5 1376.1 L446.2 1370.9 L446.0 1365.7 L445.7 1360.5 L445.5 1355.4 L445.2 1356.8 L445.0 1358.7 L444.7 1360.7 L444.5 1360.6 L444.2 1359.7 L444.0 1358.9 L443.7 1358.1 L443.5 1357.4 L443.2 1356.8 L443.0 1355.9 L442.7 1355.0 L442.5 1354.3 L442.2 1353.7 L442.0 1353.3 L441.7 1353.2 L441.5 1353.3 L441.2 1354.0 L441.0 1354.7 L440.7 1355.6 L440.5 1358.0 L440.2 1361.2 L440.0 1364.5 L439.7 1367.8 L439.5 1371.1 L439.2 1374.5 L439.0 1376.5 L438.7 1373.3 L438.5 1370.0 L438.2 1366.6 L438.0 1365.9 L437.7 1367.9 L437.5 1370.0 L437.2 1372.2 L437.0 1374.3 L436.7 1376.5 L436.5 1378.8 L436.2 1380.1 L436.0 1379.8 L435.7 1379.4 L435.5 1379.1 L435.2 1379.1 L435.0 1381.2 L434.7 1383.3 L434.5 1385.3 L434.2 1387.4 L434.0 1389.4 L433.7 1391.4 L433.5 1392.9 L433.2 1392.3 L433.0 1391.6 L432.7 1390.9 L432.5 1390.2 L432.2 1392.0 L432.0 1397.1 L431.7 1402.1 L431.5 1407.1 L431.2 1411.3 L431.0 1410.6 L430.7 1409.8 L430.5 1409.0 L430.2 1408.2 L430.0 1407.3 L429.7 1407.4 L429.5 1407.4 L429.2 1407.4 L429.0 1407.2 L428.7 1406.9 L428.5 1406.5 L428.2 1406.0 L428.0 1405.5 L427.7 1404.6 L427.5 1403.1 L427.2 1401.5 L427.0 1399.7 L426.7 1397.5 L426.5 1395.0 L426.2 1392.9 L426.0 1390.7 L425.7 1388.3 L425.5 1385.9 L425.2 1383.5 L425.0 1381.3 L424.7 1379.9 L424.5 1378.7 L424.2 1377.8 L424.0 1377.1 L423.7 1376.8 L423.5 1374.8 L423.2 1372.1 L423.0 1370.0 L422.7 1368.6 L422.5 1367.8 L422.2 1368.8 L422.0 1373.6 L421.7 1378.6 L421.5 1383.8 L421.2 1388.1 L421.0 1388.7 L420.7 1389.0 L420.5 1388.8 L420.2 1388.1 L420.0 1386.7 L419.7 1384.5 L419.5 1381.6 L419.2 1379.7 L419.0 1381.6 L418.7 1383.2 L418.5 1384.5 L418.2 1382.0 L418.0 1376.5 L417.7 1371.1 L417.5 1366.0 L417.2 1361.2 L417.0 1359.0 L416.7 1359.5 L416.5 1360.8 L416.2 1362.6 L416.0 1364.0 L415.7 1363.8 L415.5 1363.7 L415.2 1363.7 L415.0 1363.8 L414.7 1363.9 L414.5 1363.9 L414.2 1363.7 L414.0 1365.6 L413.7 1367.5 L413.5 1369.1 L413.2 1369.8 L413.0 1366.0 L412.7 1361.9 L412.5 1357.4 L412.2 1352.8 L412.0 1351.0 L411.7 1350.3 L411.5 1349.6 L411.2 1348.8 L411.0 1348.1 L410.7 1346.4 L410.5 1343.9 L410.2 1341.6 L410.0 1339.6 L409.7 1337.9 L409.5 1336.6 L409.2 1335.8 L409.0 1335.3 L408.7 1335.0 L408.5 1334.8 L408.2 1334.6 L408.0 1334.5 L407.7 1335.3 L407.5 1336.1 L407.2 1336.9 L407.0 1337.8 L406.7 1338.7 L406.5 1339.7 L406.2 1341.1 L406.0 1342.6 L405.7 1344.1 L405.5 1345.5 L405.2 1347.0 L405.0 1348.6 L404.7 1347.4 L404.5 1344.9 L404.2 1342.5 L404.0 1343.6 L403.7 1346.0 L403.5 1348.4 L403.2 1350.9 L403.0 1353.4 L402.7 1356.1 L402.5 1357.8 L402.2 1355.6 L402.0 1353.5 L401.7 1351.5 L401.5 1349.4 L401.2 1347.4 L401.0 1350.9 L400.7 1354.5 L400.5 1358.1 L400.2 1361.1 L400.0 1361.1 L399.7 1361.0 L399.5 1360.8 L399.2 1360.5 L399.0 1360.2 L398.7 1359.7 L398.5 1359.1 L398.2 1359.0 L398.0 1359.0 L397.7 1358.9 L397.5 1358.6 L397.2 1358.1 L397.0 1357.3 L396.7 1356.3 L396.5 1355.1 L396.2 1353.8 L396.0 1353.5 L395.7 1353.5 L395.5 1353.4 L395.2 1353.2 L395.0 1352.8 L394.7 1351.9 L394.5 1351.0 L394.2 1350.1 L394.0 1349.3 L393.7 1348.6 L393.5 1348.2 L393.2 1348.0 L393.0 1347.9 L392.7 1347.9 L392.5 1348.1 L392.2 1348.5 L392.0 1349.0 L391.7 1348.0 L391.5 1346.2 L391.2 1344.4 L391.0 1342.8 L390.7 1341.2 L390.5 1344.9 L390.2 1348.7 L390.0 1352.5 L389.7 1356.4 L389.5 1360.4 L389.2 1362.1 L389.0 1359.8 L388.7 1357.6 L388.5 1355.3 L388.2 1353.1 L388.0 1356.3 L387.7 1360.4 L387.5 1364.5 L387.2 1368.7 L387.0 1369.6 L386.7 1370.1 L386.5 1370.6 L386.2 1371.0 L386.0 1371.7 L385.7 1372.6 L385.5 1373.8 L385.2 1375.5 L385.0 1377.4 L384.7 1379.2 L384.5 1381.1 L384.2 1383.1 L384.0 1385.0 L383.7 1386.8 L383.5 1388.4 L383.2 1391.0 L383.0 1393.5 L382.7 1395.7 L382.5 1397.6 L382.2 1399.1 L382.0 1400.3 L381.7 1399.2 L381.5 1396.3 L381.2 1392.9 L381.0 1389.1 L380.7 1385.1 L380.5 1380.9 L380.2 1378.0 L380.0 1375.3 L379.7 1372.8 L379.5 1370.4 L379.2 1368.4 L379.0 1367.1 L378.7 1367.3 L378.5 1368.0 L378.2 1369.2 L378.0 1370.4 L377.7 1372.1 L377.5 1373.9 L377.2 1375.8 L377.0 1376.8 L376.7 1375.2 L376.5 1373.6 L376.2 1372.0 L376.0 1370.5 L375.7 1368.9 L375.5 1367.3 L375.2 1368.7 L375.0 1370.1 L374.7 1371.4 L374.5 1372.8 L374.2 1374.1 L374.0 1375.4 L373.7 1375.1 L373.5 1373.4 L373.2 1371.5 L373.0 1369.5 L372.7 1374.4 L372.5 1381.2 L372.2 1387.8 L372.0 1394.4 L371.7 1400.8 L371.5 1407.2 L371.2 1407.0 L371.0 1393.1 L370.7 1379.2 L370.5 1365.2 L370.2 1361.7 L370.0 1361.1 L369.7 1360.6 L369.5 1360.2 L369.2 1360.0 L369.0 1359.8 L368.7 1359.7 L368.5 1359.0 L368.2 1358.3 L368.0 1357.7 L367.7 1357.1 L367.5 1357.7 L367.2 1359.0 L367.0 1360.3 L366.7 1361.6 L366.5 1362.9 L366.2 1362.4 L366.0 1361.1 L365.7 1359.8 L365.5 1358.6 L365.2 1357.3 L365.0 1355.9 L364.7 1354.6 L364.5 1356.3 L364.2 1361.1 L364.0 1365.8 L363.7 1370.5 L363.5 1371.6 L363.2 1366.7 L363.0 1361.7 L362.7 1356.5 L362.5 1351.2 L362.2 1349.2 L362.0 1349.4 L361.7 1349.6 L361.5 1349.7 L361.2 1349.9 L361.0 1349.3 L360.7 1347.5 L360.5 1345.9 L360.2 1344.4 L360.0 1343.0 L359.7 1341.7 L359.5 1340.6 L359.2 1343.8 L359.0 1348.3 L358.7 1353.0 L358.5 1357.8 L358.2 1359.0 L358.0 1355.2 L357.7 1351.6 L357.5 1348.0 L357.2 1344.5 L357.0 1348.3 L356.7 1353.3 L356.5 1358.4 L356.2 1363.5 L356.0 1363.7 L355.7 1362.3 L355.5 1360.9 L355.2 1359.6 L355.0 1358.3 L354.7 1357.0 L354.5 1355.7 L354.2 1354.8 L354.0 1356.6 L353.7 1358.4 L353.5 1360.2 L353.2 1362.0 L353.0 1363.7 L352.7 1365.0 L352.5 1366.5 L352.2 1368.8 L352.0 1372.0 L351.7 1375.2 L351.5 1378.4 L351.2 1381.8 L351.0 1385.1 L350.7 1388.4 L350.5 1391.8 L350.2 1392.6 L350.0 1392.7 L349.7 1392.7 L349.5 1392.6 L349.2 1392.8 L349.0 1402.3 L348.7 1412.0 L348.5 1421.8 L348.2 1427.6 L348.0 1425.5 L347.7 1423.5 L347.5 1421.4 L347.2 1419.3 L347.0 1417.1 L346.7 1414.8 L346.5 1421.1 L346.2 1431.9 L346.0 1442.5 L345.7 1444.8 L345.5 1441.4 L345.2 1437.7 L345.0 1433.7 L344.7 1429.4 L344.5 1424.9 L344.2 1421.0 L344.0 1420.9 L343.7 1420.8 L343.5 1420.6 L343.2 1420.3 L343.0 1419.9 L342.7 1419.5 L342.5 1418.8 L342.2 1417.9 L342.0 1417.1 L341.7 1416.2 L341.5 1416.0 L341.2 1417.9 L341.0 1419.8 L340.7 1421.8 L340.5 1423.7 L340.2 1424.1 L340.0 1420.9 L339.7 1417.6 L339.5 1414.4 L339.2 1411.1 L339.0 1407.7 L338.7 1408.3 L338.5 1411.9 L338.2 1415.4 L338.0 1418.9 L337.7 1419.3 L337.5 1415.0 L337.2 1410.7 L337.0 1406.4 L336.7 1402.1 L336.5 1397.8 L336.2 1393.5 L336.0 1393.5 L335.7 1393.5 L335.5 1393.5 L335.2 1393.6 L335.0 1392.3 L334.7 1390.7 L334.5 1389.2 L334.2 1387.7 L334.0 1386.1 L333.7 1384.5 L333.5 1386.0 L333.2 1388.6 L333.0 1391.3 L332.7 1394.0 L332.5 1393.0 L332.2 1390.4 L332.0 1387.9 L331.7 1385.4 L331.5 1383.0 L331.2 1380.6 L331.0 1378.3 L330.7 1377.5 L330.5 1377.0 L330.2 1376.7 L330.0 1376.4 L329.7 1376.1 L329.5 1375.8 L329.2 1375.5 L329.0 1375.3 L328.7 1375.0 L328.5 1374.9 L328.2 1374.8 L328.0 1376.0 L327.7 1377.1 L327.5 1378.3 L327.2 1379.5 L327.0 1379.6 L326.7 1379.1 L326.5 1378.8 L326.2 1378.4 L326.0 1378.0 L325.7 1377.6 L325.5 1379.8 L325.2 1382.5 L325.0 1385.2 L324.7 1385.6 L324.5 1385.1 L324.2 1384.8 L324.0 1384.7 L323.7 1384.6 L323.5 1384.6 L323.2 1384.7 L323.0 1384.9 L322.7 1389.7 L322.5 1394.5 L322.2 1399.2 L322.0 1403.8 L321.7 1407.0 L321.5 1402.5 L321.2 1397.9 L321.0 1392.9 L320.7 1389.9 L320.5 1392.6 L320.2 1395.0 L320.0 1397.1 L319.7 1399.1 L319.5 1401.0 L319.2 1396.2 L319.0 1390.8 L318.7 1385.4 L318.5 1380.1 L318.2 1375.9 L318.0 1376.0 L317.7 1376.4 L317.5 1377.1 L317.2 1377.8 L317.0 1377.0 L316.7 1375.1 L316.5 1373.1 L316.2 1371.2 L316.0 1369.3 L315.7 1369.7 L315.5 1370.2 L315.2 1370.6 L315.0 1371.2 L314.7 1371.7 L314.5 1372.4 L314.2 1373.0 L314.0 1373.7 L313.7 1373.5 L313.5 1373.2 L313.2 1373.2 L313.0 1374.1 L312.7 1375.1 L312.5 1376.2 L312.2 1377.5 L312.0 1378.9 L311.7 1380.3 L311.5 1381.7 L311.2 1382.7 L311.0 1383.6 L310.7 1384.6 L310.5 1385.6 L310.2 1386.7 L310.0 1389.6 L309.7 1392.9 L309.5 1396.3 L309.2 1399.6 L309.0 1402.8 L308.7 1402.5 L308.5 1400.4 L308.2 1398.4 L308.0 1396.4 L307.7 1398.3 L307.5 1400.5 L307.2 1402.7 L307.0 1404.9 L306.7 1407.1 L306.5 1409.2 L306.2 1411.2 L306.0 1413.3 L305.7 1415.2 L305.5 1416.9 L305.2 1418.4 L305.0 1419.6 L304.7 1421.2 L304.5 1423.0 L304.2 1424.8 L304.0 1426.6 L303.7 1428.4 L303.5 1428.1 L303.2 1426.2 L303.0 1424.3 L302.7 1422.6 L302.5 1422.2 L302.2 1421.9 L302.0 1421.5 L301.7 1421.1 L301.5 1420.8 L301.2 1420.5 L301.0 1420.9 L300.7 1422.6 L300.5 1424.4 L300.2 1424.9 L300.0 1424.6 L299.7 1424.7 L299.5 1425.0 L299.2 1425.6 L299.0 1426.3 L298.7 1427.2 L298.5 1428.2 L298.2 1430.3 L298.0 1432.9 L297.7 1435.5 L297.5 1438.0 L297.2 1440.3 L297.0 1441.3 L296.7 1440.8 L296.5 1440.0 L296.2 1438.9 L296.0 1437.5 L295.7 1435.8 L295.5 1435.9 L295.2 1436.1 L295.0 1436.2 L294.7 1436.3 L294.5 1436.5 L294.2 1436.5 L294.0 1436.5 L293.7 1436.5 L293.5 1436.4 L293.2 1436.0 L293.0 1433.9 L292.7 1431.8 L292.5 1430.2 L292.2 1429.8 L292.0 1429.4 L291.7 1429.0 L291.5 1428.5 L291.2 1427.9 L291.0 1427.2 L290.7 1425.9 L290.5 1424.3 L290.2 1422.6 L290.0 1420.9 L289.7 1419.1 L289.5 1417.2 L289.2 1415.2 L289.0 1413.2 L288.7 1411.2 L288.5 1409.2 L288.2 1407.4 L288.0 1406.0 L287.7 1404.7 L287.5 1403.5 L287.2 1402.3 L287.0 1401.1 L286.7 1400.9 L286.5 1401.0 L286.2 1401.1 L286.0 1401.1 L285.7 1401.2 L285.5 1399.9 L285.2 1396.6 L285.0 1393.3 L284.7 1390.0 L284.5 1389.4 L284.2 1389.7 L284.0 1390.1 L283.7 1390.6 L283.5 1391.0 L283.2 1391.5 L283.0 1392.0 L282.7 1390.1 L282.5 1385.5 L282.2 1380.9 L282.0 1376.3 L281.7 1372.4 L281.5 1371.5 L281.2 1370.6 L281.0 1369.7 L280.7 1368.8 L280.5 1367.8 L280.2 1366.9 L280.0 1366.3 L279.7 1365.8 L279.5 1365.3 L279.2 1366.1 L279.0 1368.0 L278.7 1369.8 L278.5 1371.4 L278.2 1372.9 L278.0 1371.6 L277.7 1366.2 L277.5 1360.7 L277.2 1355.2 L277.0 1349.7 L276.7 1344.2 L276.5 1341.8 L276.2 1339.7 L276.0 1337.8 L275.7 1336.1 L275.5 1335.0 L275.2 1334.3 L275.0 1333.9 L274.7 1333.8 L274.5 1333.9 L274.2 1334.0 L274.0 1334.2 L273.7 1334.7 L273.5 1336.9 L273.2 1339.0 L273.0 1340.6 L272.7 1338.6 L272.5 1336.6 L272.2 1334.6 L272.0 1332.6 L271.7 1330.7 L271.5 1330.7 L271.2 1330.6 L271.0 1330.6 L270.7 1330.7 L270.5 1330.7 L270.2 1330.8 L270.0 1331.1 L269.7 1332.3 L269.5 1334.0 L269.2 1335.8 L269.0 1337.8 L268.7 1339.9 L268.5 1343.2 L268.2 1347.5 L268.0 1351.8 L267.7 1356.2 L267.5 1360.6 L267.2 1361.2 L267.0 1360.3 L266.7 1360.0 L266.5 1360.0 L266.2 1360.2 L266.0 1360.7 L265.7 1364.2 L265.5 1367.9 L265.2 1371.4 L265.0 1374.7 L264.7 1377.6 L264.5 1381.9 L264.2 1386.5 L264.0 1391.0 L263.7 1395.2 L263.5 1396.3 L263.2 1397.4 L263.0 1398.4 L262.7 1399.4 L262.5 1400.3 L262.2 1401.2 L262.0 1402.0 L261.7 1404.0 L261.5 1406.0 L261.2 1407.9 L261.0 1409.9 L260.7 1411.1 L260.5 1412.3 L260.2 1413.4 L260.0 1414.6 L259.7 1415.9 L259.5 1417.3 L259.2 1418.9 L259.0 1420.6 L258.7 1422.3 L258.5 1424.1 L258.2 1426.1 L258.0 1428.0 L257.7 1429.7 L257.5 1431.4 L257.2 1432.7 L257.0 1433.9 L256.7 1434.8 L256.5 1435.6 L256.2 1436.0 L256.0 1436.2 L255.7 1438.1 L255.5 1440.9 L255.2 1443.4 L255.0 1445.7 L254.7 1447.9 L254.5 1444.9 L254.2 1441.4 L254.0 1437.7 L253.7 1434.0 L253.5 1430.3 L253.2 1426.5 L253.0 1422.7 L252.7 1420.6 L252.5 1423.5 L252.2 1426.5 L252.0 1425.9 L251.7 1422.5 L251.5 1419.1 L251.2 1415.8 L251.0 1412.4 L250.7 1409.4 L250.5 1408.3 L250.2 1407.2 L250.0 1406.1 L249.7 1405.1 L249.5 1404.4 L249.2 1404.2 L249.0 1404.1 L248.7 1404.0 L248.5 1403.9 L248.2 1403.6 L248.0 1402.6 L247.7 1401.6 L247.5 1400.7 L247.2 1399.8 L247.0 1398.7 L246.7 1397.3 L246.5 1395.8 L246.2 1394.4 L246.0 1392.9 L245.7 1391.7 L245.5 1391.4 L245.2 1391.1 L245.0 1390.9 L244.7 1390.8 L244.5 1390.7 L244.2 1390.6 L244.0 1390.7 L243.7 1389.6 L243.5 1388.2 L243.2 1386.9 L243.0 1386.9 L242.7 1387.8 L242.5 1389.1 L242.2 1390.5 L242.0 1392.1 L241.7 1393.8 L241.5 1395.5 L241.2 1396.8 L241.0 1398.0 L240.7 1399.1 L240.5 1399.8 L240.2 1399.7 L240.0 1399.2 L239.7 1398.3 L239.5 1397.2 L239.2 1395.7 L239.0 1394.0 L238.7 1392.3 L238.5 1390.5 L238.2 1388.9 L238.0 1387.4 L237.7 1389.1 L237.5 1391.8 L237.2 1394.8 L237.0 1398.0 L236.7 1401.2 L236.5 1404.4 L236.2 1407.7 L236.0 1411.0 L235.7 1405.5 L235.5 1399.0 L235.2 1392.6 L235.0 1388.1 L234.7 1389.8 L234.5 1391.6 L234.2 1393.3 L234.0 1395.1 L233.7 1394.8 L233.5 1394.5 L233.2 1394.1 L233.0 1393.8 L232.7 1393.5 L232.5 1393.2 L232.2 1394.9 L232.0 1397.6 L231.7 1400.2 L231.5 1402.8 L231.2 1405.5 L231.0 1406.0 L230.7 1405.7 L230.5 1405.5 L230.2 1405.3 L230.0 1405.1 L229.7 1404.9 L229.5 1404.8 L229.2 1405.6 L229.0 1406.4 L228.7 1407.1 L228.5 1407.8 L228.2 1408.5 L228.0 1409.0 L227.7 1409.4 L227.5 1409.8 L227.2 1410.1 L227.0 1410.4 L226.7 1410.7 L226.5 1411.0 L226.2 1411.2 L226.0 1411.5 L225.7 1412.4 L225.5 1413.3 L225.2 1414.2 L225.0 1415.1 L224.7 1416.0 L224.5 1416.8 L224.2 1417.4 L224.0 1418.0 L223.7 1418.6 L223.5 1419.1 L223.2 1419.2 L223.0 1417.8 L222.7 1416.3 L222.5 1414.6 L222.2 1412.9 L222.0 1411.8 L221.7 1410.6 L221.5 1409.2 L221.2 1407.8 L221.0 1406.3 L220.7 1404.8 L220.5 1403.5 L220.2 1402.2 L220.0 1401.1 L219.7 1400.0 L219.5 1399.1 L219.2 1398.3 L219.0 1401.0 L218.7 1404.4 L218.5 1408.1 L218.2 1410.3 L218.0 1409.0 L217.7 1407.9 L217.5 1406.9 L217.2 1405.9 L217.0 1405.0 L216.7 1404.1 L216.5 1403.3 L216.2 1404.0 L216.0 1405.6 L215.7 1407.1 L215.5 1408.7 L215.2 1410.1 L215.0 1410.7 L214.7 1410.3 L214.5 1409.8 L214.2 1409.2 L214.0 1408.5 L213.7 1408.6 L213.5 1410.4 L213.2 1411.6 L213.0 1410.9 L212.7 1410.2 L212.5 1409.5 L212.2 1408.8 L212.0 1408.0 L211.7 1408.2 L211.5 1408.4 L211.2 1408.6 L211.0 1408.8 L210.7 1409.0 L210.5 1409.2 L210.2 1409.3 L210.0 1409.1 L209.7 1409.0 L209.5 1408.8 L209.2 1409.5 L209.0 1412.3 L208.7 1415.1 L208.5 1417.9 L208.2 1420.5 L208.0 1423.1 L207.7 1425.7 L207.5 1428.1 L207.2 1429.4 L207.0 1426.7 L206.7 1423.9 L206.5 1421.1 L206.2 1418.2 L206.0 1418.8 L205.7 1422.2 L205.5 1425.5 L205.2 1428.8 L205.0 1425.7 L204.7 1419.5 L204.5 1413.2 L204.2 1407.1 L204.0 1403.9 L203.7 1403.8 L203.5 1403.7 L203.2 1403.8 L203.0 1403.8 L202.7 1405.7 L202.5 1410.6 L202.2 1416.5 L202.0 1422.2 L201.7 1426.4 L201.5 1428.0 L201.2 1428.8 L201.0 1429.6 L200.7 1438.7 L200.5 1450.8 L200.2 1462.8 L200.0 1474.6 L199.7 1486.4 L199.5 1485.1 L199.2 1470.7 L199.0 1456.1 L198.7 1441.3 L198.5 1426.2 L198.2 1423.7 L198.0 1421.2Z" stroke="none" stroke-width="0" fill="#FBC25F" fill-opacity="0.36"/>
<path d="M198.0 1397.5 L198.2 1399.6 L198.5 1402.1 L198.7 1404.4 L199.0 1405.7 L199.2 1407.0 L199.5 1407.8 L199.7 1407.7 L200.0 1408.2 L200.2 1408.2 L200.5 1409.0 L200.7 1409.2 L201.0 1408.7 L201.2 1408.9 L201.5 1411.5 L201.7 1410.8 L202.0 1404.2 L202.2 1399.5 L202.5 1395.3 L202.7 1391.7 L203.0 1389.5 L203.2 1388.8 L203.5 1389.8 L203.7 1390.3 L204.0 1389.4 L204.2 1390.3 L204.5 1389.4 L204.7 1389.6 L205.0 1390.4 L205.2 1390.7 L205.5 1392.3 L205.7 1393.0 L206.0 1393.8 L206.2 1393.8 L206.5 1392.2 L206.7 1394.1 L207.0 1395.7 L207.2 1396.2 L207.5 1397.0 L207.7 1397.6 L208.0 1398.1 L208.2 1397.5 L208.5 1397.8 L208.7 1397.7 L209.0 1399.2 L209.2 1398.8 L209.5 1398.6 L209.7 1397.5 L210.0 1397.7 L210.2 1397.0 L210.5 1396.8 L210.7 1397.3 L211.0 1395.7 L211.2 1395.6 L211.5 1396.5 L211.7 1396.7 L212.0 1395.8 L212.2 1394.3 L212.5 1395.5 L212.7 1395.1 L213.0 1396.0 L213.2 1396.4 L213.5 1397.3 L213.7 1395.4 L214.0 1396.0 L214.2 1395.8 L214.5 1394.8 L214.7 1394.9 L215.0 1395.7 L215.2 1394.1 L215.5 1393.6 L215.7 1392.7 L216.0 1393.3 L216.2 1392.3 L216.5 1389.3 L216.7 1388.8 L217.0 1389.9 L217.2 1389.9 L217.5 1389.0 L217.7 1388.1 L218.0 1389.3 L218.2 1388.0 L218.5 1387.8 L218.7 1386.9 L219.0 1387.2 L219.2 1388.0 L219.5 1389.4 L219.7 1390.5 L220.0 1390.0 L220.2 1390.6 L220.5 1389.9 L220.7 1392.0 L221.0 1392.8 L221.2 1395.0 L221.5 1395.5 L221.7 1397.9 L222.0 1399.1 L222.2 1399.4 L222.5 1398.9 L222.7 1398.5 L223.0 1400.0 L223.2 1399.9 L223.5 1399.2 L223.7 1399.2 L224.0 1400.5 L224.2 1399.4 L224.5 1397.1 L224.7 1395.7 L225.0 1393.6 L225.2 1395.1 L225.5 1395.0 L225.7 1395.7 L226.0 1395.5 L226.2 1395.0 L226.5 1392.7 L226.7 1393.5 L227.0 1395.2 L227.2 1396.1 L227.5 1394.3 L227.7 1394.8 L228.0 1394.5 L228.2 1392.9 L228.5 1392.1 L228.7 1390.7 L229.0 1390.5 L229.2 1390.1 L229.5 1390.2 L229.7 1390.4 L230.0 1389.7 L230.2 1389.7 L230.5 1388.6 L230.7 1387.8 L231.0 1385.9 L231.2 1385.3 L231.5 1388.4 L231.7 1387.0 L232.0 1385.5 L232.2 1384.2 L232.5 1383.9 L232.7 1384.4 L233.0 1385.3 L233.2 1385.8 L233.5 1384.6 L233.7 1384.8 L234.0 1383.1 L234.2 1383.3 L234.5 1384.3 L234.7 1383.0 L235.0 1380.1 L235.2 1378.6 L235.5 1379.7 L235.7 1378.3 L236.0 1376.2 L236.2 1375.2 L236.5 1375.0 L236.7 1376.1 L237.0 1375.9 L237.2 1375.2 L237.5 1376.3 L237.7 1376.5 L238.0 1376.1 L238.2 1377.4 L238.5 1379.7 L238.7 1380.5 L239.0 1382.5 L239.2 1384.4 L239.5 1385.1 L239.7 1385.8 L240.0 1385.1 L240.2 1385.6 L240.5 1385.4 L240.7 1385.2 L241.0 1383.9 L241.2 1382.0 L241.5 1381.5 L241.7 1379.7 L242.0 1382.6 L242.2 1381.6 L242.5 1380.4 L242.7 1380.2 L243.0 1379.0 L243.2 1379.7 L243.5 1382.2 L243.7 1382.8 L244.0 1382.8 L244.2 1382.8 L244.5 1381.4 L244.7 1381.7 L245.0 1379.6 L245.2 1379.7 L245.5 1381.3 L245.7 1382.2 L246.0 1383.9 L246.2 1384.1 L246.5 1384.2 L246.7 1384.6 L247.0 1383.0 L247.2 1382.4 L247.5 1385.6 L247.7 1387.7 L248.0 1388.2 L248.2 1389.7 L248.5 1390.8 L248.7 1392.1 L249.0 1390.5 L249.2 1392.3 L249.5 1393.9 L249.7 1394.1 L250.0 1395.9 L250.2 1398.2 L250.5 1399.2 L250.7 1400.3 L251.0 1401.1 L251.2 1402.3 L251.5 1405.8 L251.7 1407.7 L252.0 1405.5 L252.2 1407.6 L252.5 1409.2 L252.7 1411.8 L253.0 1413.2 L253.2 1415.3 L253.5 1416.9 L253.7 1417.5 L254.0 1420.2 L254.2 1422.3 L254.5 1423.4 L254.7 1425.0 L255.0 1426.5 L255.2 1427.7 L255.5 1427.4 L255.7 1427.6 L256.0 1426.0 L256.2 1425.8 L256.5 1423.9 L256.7 1423.3 L257.0 1424.8 L257.2 1423.7 L257.5 1420.2 L257.7 1419.8 L258.0 1418.2 L258.2 1417.1 L258.5 1414.6 L258.7 1413.3 L259.0 1412.6 L259.2 1409.5 L259.5 1408.0 L259.7 1405.4 L260.0 1403.0 L260.2 1401.3 L260.5 1401.1 L260.7 1398.0 L261.0 1396.5 L261.2 1394.8 L261.5 1394.6 L261.7 1392.7 L262.0 1390.1 L262.2 1387.4 L262.5 1383.9 L262.7 1382.5 L263.0 1381.2 L263.2 1378.5 L263.5 1376.8 L263.7 1374.8 L264.0 1373.0 L264.2 1369.7 L264.5 1365.9 L264.7 1363.1 L265.0 1360.3 L265.2 1356.9 L265.5 1355.0 L265.7 1350.7 L266.0 1346.1 L266.2 1343.3 L266.5 1340.7 L266.7 1337.7 L267.0 1332.9 L267.2 1331.9 L267.5 1333.0 L267.7 1332.3 L268.0 1328.1 L268.2 1325.5 L268.5 1325.6 L268.7 1323.9 L269.0 1321.5 L269.2 1320.4 L269.5 1319.9 L269.7 1320.6 L270.0 1318.2 L270.2 1317.4 L270.5 1319.6 L270.7 1319.9 L271.0 1318.8 L271.2 1318.2 L271.5 1319.3 L271.7 1320.0 L272.0 1319.1 L272.2 1318.2 L272.5 1319.4 L272.7 1319.4 L273.0 1319.0 L273.2 1318.1 L273.5 1319.8 L273.7 1321.2 L274.0 1320.7 L274.2 1321.6 L274.5 1322.8 L274.7 1323.5 L275.0 1324.8 L275.2 1325.6 L275.5 1326.0 L275.7 1327.4 L276.0 1327.9 L276.2 1329.5 L276.5 1330.9 L276.7 1331.8 L277.0 1335.3 L277.2 1336.0 L277.5 1337.4 L277.7 1337.8 L278.0 1340.8 L278.2 1342.7 L278.5 1343.6 L278.7 1344.8 L279.0 1344.8 L279.2 1345.5 L279.5 1347.9 L279.7 1348.3 L280.0 1347.4 L280.2 1349.5 L280.5 1351.3 L280.7 1352.4 L281.0 1355.4 L281.2 1356.9 L281.5 1356.9 L281.7 1357.8 L282.0 1357.1 L282.2 1358.9 L282.5 1362.6 L282.7 1363.9 L283.0 1366.4 L283.2 1367.3 L283.5 1367.1 L283.7 1369.0 L284.0 1371.0 L284.2 1372.1 L284.5 1373.2 L284.7 1374.6 L285.0 1374.9 L285.2 1375.6 L285.5 1375.5 L285.7 1375.4 L286.0 1379.1 L286.2 1380.4 L286.5 1380.2 L286.7 1382.0 L287.0 1384.7 L287.2 1386.9 L287.5 1388.3 L287.7 1388.7 L288.0 1391.5 L288.2 1393.2 L288.5 1395.4 L288.7 1397.0 L289.0 1395.9 L289.2 1396.4 L289.5 1399.3 L289.7 1400.7 L290.0 1404.3 L290.2 1406.3 L290.5 1407.3 L290.7 1409.6 L291.0 1408.4 L291.2 1408.8 L291.5 1408.1 L291.7 1409.3 L292.0 1410.9 L292.2 1411.6 L292.5 1412.4 L292.7 1414.1 L293.0 1416.6 L293.2 1416.9 L293.5 1417.5 L293.7 1418.5 L294.0 1418.8 L294.2 1419.5 L294.5 1418.5 L294.7 1419.5 L295.0 1422.4 L295.2 1423.7 L295.5 1424.1 L295.7 1424.0 L296.0 1423.7 L296.2 1423.2 L296.5 1422.0 L296.7 1420.2 L297.0 1419.3 L297.2 1418.5 L297.5 1418.6 L297.7 1416.9 L298.0 1413.9 L298.2 1411.6 L298.5 1412.0 L298.7 1410.2 L299.0 1406.7 L299.2 1405.5 L299.5 1404.1 L299.7 1403.0 L300.0 1403.4 L300.2 1402.0 L300.5 1401.4 L300.7 1401.1 L301.0 1400.9 L301.2 1402.0 L301.5 1401.9 L301.7 1402.5 L302.0 1400.5 L302.2 1400.7 L302.5 1400.9 L302.7 1401.1 L303.0 1401.8 L303.2 1401.2 L303.5 1401.3 L303.7 1401.0 L304.0 1401.1 L304.2 1400.5 L304.5 1400.5 L304.7 1400.7 L305.0 1399.9 L305.2 1399.1 L305.5 1397.7 L305.7 1396.3 L306.0 1395.4 L306.2 1393.4 L306.5 1393.3 L306.7 1391.5 L307.0 1388.7 L307.2 1387.0 L307.5 1386.6 L307.7 1384.5 L308.0 1383.2 L308.2 1381.8 L308.5 1378.9 L308.7 1377.6 L309.0 1377.5 L309.2 1375.3 L309.5 1373.9 L309.7 1373.0 L310.0 1372.5 L310.2 1371.7 L310.5 1369.1 L310.7 1366.8 L311.0 1366.3 L311.2 1363.7 L311.5 1360.2 L311.7 1357.9 L312.0 1357.9 L312.2 1356.6 L312.5 1354.4 L312.7 1353.2 L313.0 1351.9 L313.2 1351.1 L313.5 1352.0 L313.7 1352.0 L314.0 1349.7 L314.2 1349.6 L314.5 1351.0 L314.7 1351.5 L315.0 1351.3 L315.2 1352.8 L315.5 1352.2 L315.7 1353.8 L316.0 1353.5 L316.2 1354.5 L316.5 1354.0 L316.7 1353.9 L317.0 1355.0 L317.2 1355.2 L317.5 1353.7 L317.7 1354.0 L318.0 1353.4 L318.2 1354.3 L318.5 1358.7 L318.7 1360.6 L319.0 1359.9 L319.2 1361.7 L319.5 1363.2 L319.7 1365.0 L320.0 1368.1 L320.2 1368.7 L320.5 1368.9 L320.7 1370.6 L321.0 1372.2 L321.2 1372.0 L321.5 1373.7 L321.7 1373.5 L322.0 1372.6 L322.2 1371.6 L322.5 1370.5 L322.7 1370.1 L323.0 1368.0 L323.2 1367.4 L323.5 1365.5 L323.7 1363.8 L324.0 1365.0 L324.2 1364.2 L324.5 1362.9 L324.7 1362.8 L325.0 1361.8 L325.2 1361.6 L325.5 1363.2 L325.7 1362.4 L326.0 1359.7 L326.2 1360.1 L326.5 1361.3 L326.7 1361.5 L327.0 1359.8 L327.2 1359.0 L327.5 1358.0 L327.7 1357.7 L328.0 1360.2 L328.2 1359.4 L328.5 1358.7 L328.7 1358.8 L329.0 1358.1 L329.2 1358.9 L329.5 1358.4 L329.7 1358.1 L330.0 1357.6 L330.2 1358.5 L330.5 1359.8 L330.7 1360.4 L331.0 1360.9 L331.2 1360.7 L331.5 1360.9 L331.7 1361.8 L332.0 1363.0 L332.2 1364.0 L332.5 1365.0 L332.7 1365.6 L333.0 1368.2 L333.2 1368.2 L333.5 1367.3 L333.7 1368.5 L334.0 1370.4 L334.2 1371.4 L334.5 1371.9 L334.7 1374.3 L335.0 1374.9 L335.2 1376.3 L335.5 1378.4 L335.7 1379.3 L336.0 1381.0 L336.2 1382.9 L336.5 1380.5 L336.7 1382.0 L337.0 1386.1 L337.2 1387.8 L337.5 1387.9 L337.7 1389.1 L338.0 1388.9 L338.2 1389.4 L338.5 1390.9 L338.7 1392.3 L339.0 1391.1 L339.2 1392.8 L339.5 1392.1 L339.7 1392.3 L340.0 1396.5 L340.2 1398.6 L340.5 1396.2 L340.7 1395.9 L341.0 1397.7 L341.2 1398.7 L341.5 1399.2 L341.7 1400.8 L342.0 1402.6 L342.2 1403.3 L342.5 1404.9 L342.7 1405.0 L343.0 1407.2 L343.2 1408.0 L343.5 1405.7 L343.7 1405.9 L344.0 1408.2 L344.2 1407.8 L344.5 1407.0 L344.7 1407.0 L345.0 1408.4 L345.2 1408.4 L345.5 1408.6 L345.7 1408.0 L346.0 1404.6 L346.2 1403.4 L346.5 1401.2 L346.7 1400.0 L347.0 1398.4 L347.2 1395.5 L347.5 1393.5 L347.7 1392.1 L348.0 1390.7 L348.2 1388.6 L348.5 1386.0 L348.7 1384.6 L349.0 1380.7 L349.2 1378.7 L349.5 1377.8 L349.7 1375.0 L350.0 1372.1 L350.2 1369.6 L350.5 1367.7 L350.7 1365.7 L351.0 1365.5 L351.2 1363.5 L351.5 1359.4 L351.7 1358.1 L352.0 1356.6 L352.2 1355.2 L352.5 1354.6 L352.7 1353.2 L353.0 1351.3 L353.2 1348.9 L353.5 1346.6 L353.7 1345.4 L354.0 1345.3 L354.2 1345.0 L354.5 1343.9 L354.7 1342.9 L355.0 1341.7 L355.2 1340.3 L355.5 1338.4 L355.7 1336.8 L356.0 1335.7 L356.2 1334.8 L356.5 1333.9 L356.7 1333.2 L357.0 1331.0 L357.2 1329.8 L357.5 1328.9 L357.7 1329.0 L358.0 1328.3 L358.2 1328.2 L358.5 1328.6 L358.7 1328.4 L359.0 1327.2 L359.2 1327.0 L359.5 1326.2 L359.7 1326.4 L360.0 1328.5 L360.2 1330.3 L360.5 1331.3 L360.7 1332.0 L361.0 1333.9 L361.2 1334.8 L361.5 1335.4 L361.7 1335.4 L362.0 1337.5 L362.2 1339.4 L362.5 1340.8 L362.7 1342.9 L363.0 1343.8 L363.2 1345.3 L363.5 1344.6 L363.7 1343.8 L364.0 1344.3 L364.2 1344.7 L364.5 1343.6 L364.7 1344.9 L365.0 1344.8 L365.2 1346.1 L365.5 1344.3 L365.7 1345.6 L366.0 1347.0 L366.2 1348.0 L366.5 1347.8 L366.7 1347.2 L367.0 1349.3 L367.2 1348.9 L367.5 1348.3 L367.7 1348.7 L368.0 1349.3 L368.2 1349.2 L368.5 1348.1 L368.7 1348.3 L369.0 1346.6 L369.2 1347.7 L369.5 1348.3 L369.7 1349.0 L370.0 1349.4 L370.2 1350.4 L370.5 1350.3 L370.7 1352.3 L371.0 1352.4 L371.2 1354.2 L371.5 1354.3 L371.7 1355.4 L372.0 1357.4 L372.2 1357.5 L372.5 1357.1 L372.7 1358.4 L373.0 1356.5 L373.2 1356.7 L373.5 1359.7 L373.7 1360.7 L374.0 1360.0 L374.2 1358.8 L374.5 1358.4 L374.7 1358.4 L375.0 1357.9 L375.2 1358.8 L375.5 1359.9 L375.7 1359.9 L376.0 1358.8 L376.2 1357.6 L376.5 1357.3 L376.7 1356.5 L377.0 1358.9 L377.2 1358.8 L377.5 1356.5 L377.7 1356.7 L378.0 1356.9 L378.2 1357.9 L378.5 1358.9 L378.7 1359.2 L379.0 1359.0 L379.2 1361.2 L379.5 1361.9 L379.7 1364.9 L380.0 1366.6 L380.2 1369.3 L380.5 1373.6 L380.7 1376.0 L381.0 1377.0 L381.2 1376.4 L381.5 1376.7 L381.7 1377.5 L382.0 1377.1 L382.2 1376.1 L382.5 1377.6 L382.7 1376.5 L383.0 1376.0 L383.2 1375.8 L383.5 1372.6 L383.7 1370.9 L384.0 1371.1 L384.2 1369.0 L384.5 1365.5 L384.7 1362.1 L385.0 1362.6 L385.2 1360.5 L385.5 1357.2 L385.7 1356.2 L386.0 1353.7 L386.2 1352.4 L386.5 1349.9 L386.7 1349.3 L387.0 1349.7 L387.2 1348.1 L387.5 1347.1 L387.7 1346.9 L388.0 1346.7 L388.2 1344.9 L388.5 1342.7 L388.7 1340.8 L389.0 1339.8 L389.2 1337.7 L389.5 1335.4 L389.7 1334.0 L390.0 1334.6 L390.2 1334.4 L390.5 1332.7 L390.7 1332.4 L391.0 1331.1 L391.2 1331.0 L391.5 1330.5 L391.7 1330.4 L392.0 1330.2 L392.2 1330.3 L392.5 1331.7 L392.7 1332.0 L393.0 1334.2 L393.2 1335.3 L393.5 1334.0 L393.7 1335.0 L394.0 1336.6 L394.2 1336.4 L394.5 1337.1 L394.7 1340.6 L395.0 1340.2 L395.2 1340.8 L395.5 1343.1 L395.7 1343.5 L396.0 1344.0 L396.2 1345.0 L396.5 1345.3 L396.7 1346.9 L397.0 1350.6 L397.2 1351.5 L397.5 1349.9 L397.7 1349.5 L398.0 1347.4 L398.2 1347.5 L398.5 1346.2 L398.7 1345.4 L399.0 1345.0 L399.2 1344.5 L399.5 1345.6 L399.7 1344.0 L400.0 1341.4 L400.2 1340.6 L400.5 1340.8 L400.7 1340.4 L401.0 1337.6 L401.2 1337.8 L401.5 1338.7 L401.7 1337.9 L402.0 1340.0 L402.2 1338.1 L402.5 1336.3 L402.7 1335.1 L403.0 1333.0 L403.2 1331.4 L403.5 1331.1 L403.7 1330.4 L404.0 1330.1 L404.2 1329.3 L404.5 1329.7 L404.7 1329.1 L405.0 1327.9 L405.2 1327.2 L405.5 1328.4 L405.7 1327.8 L406.0 1328.5 L406.2 1328.0 L406.5 1326.0 L406.7 1325.5 L407.0 1326.8 L407.2 1326.2 L407.5 1324.4 L407.7 1322.1 L408.0 1323.1 L408.2 1323.8 L408.5 1321.9 L408.7 1322.2 L409.0 1322.7 L409.2 1322.9 L409.5 1322.7 L409.7 1321.8 L410.0 1325.2 L410.2 1327.5 L410.5 1328.5 L410.7 1329.6 L411.0 1331.6 L411.2 1333.6 L411.5 1336.9 L411.7 1338.9 L412.0 1339.6 L412.2 1342.2 L412.5 1342.8 L412.7 1344.2 L413.0 1345.2 L413.2 1345.5 L413.5 1346.9 L413.7 1346.4 L414.0 1344.8 L414.2 1345.1 L414.5 1344.4 L414.7 1343.3 L415.0 1341.0 L415.2 1340.9 L415.5 1340.4 L415.7 1340.0 L416.0 1337.2 L416.2 1336.3 L416.5 1339.3 L416.7 1338.7 L417.0 1339.3 L417.2 1342.2 L417.5 1343.3 L417.7 1346.3 L418.0 1349.1 L418.2 1351.6 L418.5 1357.3 L418.7 1360.1 L419.0 1361.9 L419.2 1365.6 L419.5 1364.2 L419.7 1365.5 L420.0 1369.7 L420.2 1369.5 L420.5 1367.4 L420.7 1366.3 L421.0 1365.4 L421.2 1363.5 L421.5 1361.8 L421.7 1358.3 L422.0 1352.9 L422.2 1351.4 L422.5 1349.8 L422.7 1350.0 L423.0 1349.7 L423.2 1349.0 L423.5 1348.1 L423.7 1350.8 L424.0 1353.6 L424.2 1356.3 L424.5 1357.0 L424.7 1360.9 L425.0 1362.9 L425.2 1365.9 L425.5 1369.1 L425.7 1373.0 L426.0 1375.1 L426.2 1377.8 L426.5 1380.8 L426.7 1383.2 L427.0 1385.9 L427.2 1388.2 L427.5 1390.5 L427.7 1391.0 L428.0 1389.1 L428.2 1389.1 L428.5 1389.9 L428.7 1389.5 L429.0 1389.7 L429.2 1389.2 L429.5 1389.8 L429.7 1388.5 L430.0 1387.6 L430.2 1386.2 L430.5 1382.4 L430.7 1381.0 L431.0 1382.6 L431.2 1381.3 L431.5 1377.9 L431.7 1377.4 L432.0 1379.2 L432.2 1378.6 L432.5 1375.4 L432.7 1373.3 L433.0 1372.9 L433.2 1373.0 L433.5 1374.4 L433.7 1373.1 L434.0 1371.0 L434.2 1369.3 L434.5 1368.1 L434.7 1367.0 L435.0 1366.7 L435.2 1364.8 L435.5 1362.8 L435.7 1362.1 L436.0 1361.5 L436.2 1360.3 L436.5 1356.9 L436.7 1356.2 L437.0 1355.4 L437.2 1354.2 L437.5 1353.0 L437.7 1351.3 L438.0 1350.7 L438.2 1348.5 L438.5 1348.0 L438.7 1346.3 L439.0 1344.3 L439.2 1341.8 L439.5 1339.0 L439.7 1337.2 L440.0 1337.2 L440.2 1336.0 L440.5 1333.9 L440.7 1334.1 L441.0 1332.6 L441.2 1331.9 L441.5 1331.2 L441.7 1330.6 L442.0 1330.9 L442.2 1331.5 L442.5 1332.0 L442.7 1332.3 L443.0 1332.1 L443.2 1332.5 L443.5 1333.1 L443.7 1333.7 L444.0 1336.1 L444.2 1335.7 L444.5 1335.4 L444.7 1336.4 L445.0 1338.2 L445.2 1339.2 L445.5 1338.3 L445.7 1338.8 L446.0 1342.1 L446.2 1342.2 L446.5 1341.6 L446.7 1341.7 L447.0 1344.1 L447.2 1344.9 L447.5 1345.9 L447.7 1345.7 L448.0 1346.1 L448.2 1346.6 L448.5 1349.1 L448.7 1351.0 L449.0 1351.7 L449.2 1350.4 L449.5 1351.7 L449.7 1351.5 L450.0 1353.1 L450.2 1353.5 L450.5 1350.6 L450.7 1350.6 L451.0 1352.4 L451.2 1353.1 L451.5 1353.1 L451.7 1354.0 L452.0 1354.9 L452.2 1356.2 L452.5 1356.4 L452.7 1357.9 L453.0 1358.2 L453.2 1359.4 L453.5 1356.9 L453.7 1356.9 L454.0 1360.6 L454.2 1361.7 L454.5 1361.8 L454.7 1362.5 L455.0 1364.0 L455.2 1364.7 L455.5 1363.5 L455.7 1365.9 L456.0 1369.9 L456.2 1371.8 L456.5 1369.7 L456.7 1370.9 L457.0 1372.2 L457.2 1373.9 L457.5 1376.2 L457.7 1378.3 L458.0 1378.4 L458.2 1379.3 L458.5 1380.1 L458.7 1381.0 L459.0 1385.2 L459.2 1386.3 L459.5 1386.6 L459.7 1388.6 L460.0 1390.2 L460.2 1390.9 L460.5 1392.0 L460.7 1392.6 L461.0 1395.2 L461.2 1396.5 L461.5 1398.0 L461.7 1398.4 L462.0 1398.6 L462.2 1398.9 L462.5 1399.5 L462.7 1400.7 L463.0 1402.9 L463.2 1404.7 L463.5 1405.2 L463.7 1406.3 L464.0 1409.0 L464.2 1410.6 L464.5 1413.1 L464.7 1413.8 L465.0 1415.3 L465.2 1417.1 L465.5 1418.2 L465.7 1418.5 L466.0 1418.6 L466.2 1419.9 L466.5 1420.9 L466.7 1420.9 L467.0 1418.6 L467.2 1419.0 L467.5 1422.0 L467.7 1421.6 L468.0 1418.7 L468.2 1417.5 L468.5 1418.1 L468.7 1415.8 L469.0 1415.5 L469.2 1414.3 L469.5 1414.3 L469.7 1414.3 L470.0 1410.8 L470.2 1409.4 L470.5 1408.2 L470.7 1406.6 L471.0 1405.1 L471.2 1403.8 L471.5 1402.3 L471.7 1400.6 L472.0 1398.6 L472.2 1396.6 L472.5 1396.3 L472.7 1394.9 L473.0 1392.9 L473.2 1392.7 L473.5 1391.6 L473.7 1390.0 L474.0 1388.9 L474.2 1387.3 L474.5 1385.0 L474.7 1383.1 L475.0 1382.1 L475.2 1379.5 L475.5 1379.4 L475.7 1378.8 L476.0 1376.0 L476.2 1374.3 L476.5 1374.8 L476.7 1372.8 L477.0 1371.5 L477.2 1368.4 L477.5 1364.9 L477.7 1363.0 L478.0 1359.8 L478.2 1359.1 L478.5 1360.4 L478.7 1360.0 L479.0 1356.6 L479.2 1355.9 L479.5 1357.2 L479.7 1356.0 L480.0 1354.9 L480.2 1354.0 L480.5 1352.3 L480.7 1351.6 L481.0 1351.8 L481.2 1350.8 L481.5 1350.4 L481.7 1349.7 L482.0 1347.9 L482.2 1348.3 L482.5 1349.0 L482.7 1349.0 L483.0 1346.7 L483.2 1345.0 L483.5 1344.2 L483.7 1342.3 L484.0 1339.4 L484.2 1336.8 L484.5 1335.7 L484.7 1332.8 L485.0 1331.0 L485.2 1329.6 L485.5 1328.7 L485.7 1327.0 L486.0 1326.2 L486.2 1325.3 L486.5 1323.4 L486.7 1322.7 L487.0 1319.7 L487.2 1318.5 L487.5 1316.7 L487.7 1315.5 L488.0 1314.8 L488.2 1313.7 L488.5 1314.0 L488.7 1313.2 L489.0 1310.1 L489.2 1309.7 L489.5 1311.6 L489.7 1311.2 L490.0 1309.0 L490.2 1309.9 L490.5 1309.6 L490.7 1309.6 L491.0 1309.6 L491.2 1310.7 L491.5 1312.1 L491.7 1313.5 L492.0 1315.8 L492.2 1319.0 L492.5 1320.5 L492.7 1322.5 L493.0 1323.5 L493.2 1323.9 L493.5 1322.6 L493.7 1323.9 L494.0 1325.6 L494.2 1327.5 L494.5 1329.1 L494.7 1330.5 L495.0 1330.6 L495.2 1331.4 L495.5 1334.5 L495.7 1335.8 L496.0 1337.7 L496.2 1339.3 L496.5 1339.6 L496.7 1340.6 L497.0 1340.2 L497.2 1341.7 L497.5 1344.5 L497.7 1346.1 L498.0 1345.8 L498.2 1346.7 L498.5 1348.6 L498.7 1350.5 L499.0 1351.8 L499.2 1353.9 L499.5 1356.9 L499.7 1359.3 L500.0 1360.5 L500.2 1361.5 L500.5 1363.4 L500.7 1365.2 L501.0 1365.8 L501.2 1366.0 L501.5 1367.4 L501.7 1367.0 L502.0 1367.2 L502.2 1365.9 L502.5 1365.9 L502.7 1366.0 L503.0 1365.1 L503.2 1364.9 L503.5 1364.4 L503.7 1364.5 L504.0 1363.5 L504.2 1363.6 L504.5 1363.8 L504.7 1363.5 L505.0 1362.0 L505.2 1361.8 L505.5 1361.8 L505.7 1360.4 L506.0 1362.4 L506.2 1363.3 L506.5 1362.0 L506.7 1360.6 L507.0 1359.6 L507.2 1357.8 L507.5 1356.3 L507.7 1356.4 L508.0 1356.7 L508.2 1356.0 L508.5 1353.5 L508.7 1352.6 L509.0 1351.0 L509.2 1351.8 L509.5 1353.1 L509.7 1352.9 L510.0 1350.8 L510.2 1351.7 L510.5 1354.1 L510.7 1354.1 L511.0 1355.7 L511.2 1356.7 L511.5 1357.3 L511.7 1358.6 L512.0 1358.5 L512.2 1359.8 L512.5 1361.2 L512.7 1362.3 L513.0 1362.2 L513.2 1363.4 L513.5 1365.2 L513.7 1366.3 L514.0 1366.1 L514.2 1366.6 L514.5 1367.1 L514.7 1369.5 L515.0 1370.2 L515.2 1370.2 L515.5 1372.0 L515.7 1372.1 L516.0 1371.4 L516.2 1372.6 L516.5 1373.0 L516.7 1373.3 L517.0 1372.6 L517.2 1370.8 L517.5 1372.3 L517.7 1372.0 L518.0 1371.4 L518.2 1372.4 L518.5 1374.1 L518.7 1373.5 L519.0 1372.0 L519.2 1372.4 L519.5 1374.2 L519.7 1373.5 L520.0 1373.0 L520.2 1373.0 L520.5 1372.3 L520.7 1372.4 L521.0 1374.1 L521.2 1373.8 L521.5 1375.3 L521.7 1375.1 L522.0 1374.0 L522.2 1374.5 L522.5 1372.6 L522.7 1371.4 L523.0 1372.9 L523.2 1372.8 L523.5 1370.9 L523.7 1370.2 L524.0 1370.6 L524.2 1370.1 L524.5 1370.7 L524.7 1371.4 L525.0 1368.0 L525.2 1368.7 L525.5 1370.3 L525.7 1370.4 L526.0 1369.7 L526.2 1370.1 L526.5 1371.4 L526.7 1372.6 L527.0 1374.0 L527.2 1377.1 L527.5 1383.0 L527.7 1385.8 L528.0 1388.9 L528.2 1391.8 L528.5 1396.4 L528.7 1398.9 L529.0 1400.2 L529.2 1402.7 L529.5 1403.6 L529.7 1403.5 L530.0 1404.2 L530.2 1404.0 L530.5 1402.8 L530.7 1401.0 L531.0 1400.7 L531.2 1399.8 L531.5 1398.3 L531.7 1396.8 L532.0 1396.0 L532.2 1394.9 L532.5 1393.8 L532.7 1392.2 L533.0 1391.1 L533.2 1391.1 L533.5 1389.4 L533.7 1389.2 L534.0 1389.7 L534.2 1389.0 L534.5 1387.3 L534.7 1386.5 L535.0 1385.7 L535.2 1386.0 L535.5 1385.5 L535.7 1385.4 L536.0 1386.2 L536.2 1385.6 L536.5 1384.1 L536.7 1383.3 L537.0 1385.0 L537.2 1383.3 L537.5 1382.8 L537.7 1381.6 L538.0 1379.8 L538.2 1377.5 L538.5 1375.0 L538.7 1371.6 L539.0 1369.9 L539.2 1367.9 L539.5 1363.8 L539.7 1360.8 L540.0 1357.0 L540.2 1354.4 L540.5 1351.4 L540.7 1348.9 L541.0 1348.6 L541.2 1347.4 L541.5 1348.5 L541.7 1347.2 L542.0 1342.9 L542.2 1342.4 L542.5 1342.3 L542.7 1342.4 L543.0 1342.3 L543.2 1342.6 L543.5 1342.9 L543.7 1343.7 L544.0 1345.7 L544.2 1345.1 L544.5 1343.0 L544.7 1343.6 L545.0 1344.5 L545.2 1345.2 L545.5 1345.3 L545.7 1345.0 L546.0 1344.0 L546.2 1343.9 L546.5 1344.7 L546.7 1345.1 L547.0 1345.9 L547.2 1345.3 L547.5 1344.4 L547.7 1345.1 L548.0 1347.1 L548.2 1349.1 L548.5 1350.0 L548.7 1352.4 L549.0 1354.8 L549.2 1356.1 L549.5 1358.2 L549.7 1361.2 L550.0 1363.6 L550.2 1364.9 L550.5 1365.1 L550.7 1367.7 L551.0 1371.9 L551.2 1375.1 L551.5 1379.0 L551.7 1382.3 L552.0 1386.7 L552.2 1390.4 L552.5 1392.3 L552.7 1394.8 L553.0 1397.4 L553.2 1400.1 L553.5 1401.9 L553.7 1404.4 L554.0 1408.5 L554.2 1411.8 L554.5 1412.4 L554.7 1415.7 L555.0 1418.6 L555.2 1420.7 L555.5 1422.3 L555.7 1424.2 L556.0 1424.4 L556.2 1424.8 L556.5 1425.6 L556.7 1425.5 L557.0 1427.0 L557.2 1425.8 L557.5 1424.8 L557.7 1423.7 L558.0 1422.0 L558.2 1419.7 L558.5 1419.0 L558.7 1416.5 L559.0 1415.2 L559.2 1413.8 L559.5 1412.9 L559.7 1410.4 L560.0 1409.1 L560.2 1408.0 L560.5 1407.1 L560.7 1406.6 L561.0 1405.6 L561.2 1403.6 L561.5 1402.8 L561.7 1400.3 L562.0 1396.2 L562.2 1393.5 L562.5 1389.0 L562.7 1385.7 L563.0 1385.1 L563.2 1383.5 L563.5 1379.5 L563.7 1376.3 L564.0 1372.2 L564.2 1368.8 L564.5 1367.8 L564.7 1364.3 L565.0 1361.8 L565.2 1358.5 L565.5 1354.4 L565.7 1351.8 L566.0 1349.8 L566.2 1346.8 L566.5 1344.8 L566.7 1341.3 L567.0 1338.7 L567.2 1337.5 L567.5 1336.7 L567.7 1336.7 L568.0 1336.7 L568.2 1336.9 L568.5 1340.5 L568.7 1341.6 L569.0 1343.3 L569.2 1345.2 L569.5 1346.0 L569.7 1348.4 L570.0 1349.5 L570.2 1351.4 L570.5 1353.8 L570.7 1354.6 L571.0 1355.3 L571.2 1356.3 L571.5 1356.4 L571.7 1356.1 L572.0 1355.7 L572.2 1355.4 L572.5 1355.3 L572.7 1354.8 L573.0 1351.3 L573.2 1348.5 L573.5 1346.9 L573.7 1344.6 L574.0 1345.7 L574.2 1343.1 L574.5 1339.8 L574.7 1339.8 L575.0 1340.2 L575.2 1341.3 L575.5 1341.7 L575.7 1343.0 L576.0 1343.3 L576.2 1345.0 L576.5 1347.0 L576.7 1349.2 L577.0 1350.4 L577.2 1351.7 L577.5 1354.4 L577.7 1355.2 L578.0 1358.2 L578.2 1360.0 L578.5 1362.9 L578.7 1364.9 L579.0 1367.1 L579.2 1367.6 L579.5 1369.8 L579.7 1368.7 L580.0 1369.4 L580.2 1372.2 L580.5 1371.3 L580.7 1373.0 L581.0 1375.5 L581.2 1377.0 L581.5 1377.3 L581.7 1378.5 L582.0 1379.6 L582.2 1380.7 L582.5 1383.1 L582.7 1385.1 L583.0 1385.6 L583.2 1386.7 L583.5 1388.8 L583.7 1389.2 L584.0 1390.8 L584.2 1392.2 L584.5 1394.1 L584.7 1397.9 L585.0 1402.1 L585.2 1403.4 L585.5 1402.7 L585.7 1403.4 L586.0 1407.8 L586.2 1409.7 L586.5 1410.9 L586.7 1411.6 L587.0 1412.6 L587.2 1413.4 L587.5 1414.5 L587.7 1413.5 L588.0 1415.5 L588.2 1414.7 L588.5 1412.4 L588.7 1410.2 L589.0 1408.2 L589.2 1406.8 L589.5 1406.8 L589.7 1405.0 L590.0 1400.5 L590.2 1398.5 L590.5 1397.6 L590.7 1394.5 L591.0 1389.9 L591.2 1388.3 L591.5 1387.8 L591.7 1386.7 L592.0 1385.5 L592.2 1385.0 L592.5 1384.8 L592.7 1384.3 L593.0 1385.3 L593.2 1385.3 L593.5 1382.9 L593.7 1383.0 L594.0 1384.0 L594.2 1384.0 L594.5 1385.7 L594.7 1386.1 L595.0 1386.9 L595.2 1387.2 L595.5 1387.9 L595.7 1388.0 L596.0 1387.0 L596.2 1387.1 L596.5 1386.3 L596.7 1386.5 L597.0 1385.7 L597.2 1384.8 L597.5 1385.3 L597.7 1385.1 L598.0 1385.2 L598.2 1385.1 L598.5 1386.3 L598.7 1387.2 L599.0 1388.0 L599.2 1391.2 L599.5 1394.1 L599.7 1394.8 L600.0 1396.4 L600.2 1399.0 L600.5 1403.2 L600.7 1405.3 L601.0 1406.3 L601.2 1407.6 L601.5 1412.0 L601.7 1413.0 L602.0 1412.7 L602.2 1413.6 L602.5 1413.4 L602.7 1413.4 L603.0 1415.5 L603.2 1416.4 L603.5 1417.4 L603.7 1418.6 L604.0 1420.0 L604.2 1420.9 L604.5 1420.3 L604.7 1419.7 L605.0 1419.3 L605.2 1419.5 L605.5 1419.6 L605.7 1420.8 L606.0 1422.4 L606.2 1422.2 L606.5 1421.8 L606.7 1422.4 L607.0 1422.2 L607.2 1423.0 L607.5 1421.9 L607.7 1422.5 L608.0 1426.0 L608.2 1426.9 L608.5 1424.1 L608.7 1424.7 L609.0 1423.1 L609.2 1421.7 L609.5 1422.8 L609.7 1421.8 L610.0 1422.4 L610.2 1420.7 L610.5 1417.1 L610.7 1416.3 L611.0 1414.1 L611.2 1412.7 L611.5 1410.4 L611.7 1409.6 L612.0 1409.6 L612.2 1408.3 L612.5 1406.3 L612.7 1406.2 L613.0 1405.3 L613.2 1405.1 L613.5 1404.9 L613.7 1403.7 L614.0 1405.0 L614.2 1404.6 L614.5 1402.7 L614.7 1402.9 L615.0 1405.9 L615.2 1405.5 L615.5 1404.6" stroke="#FBC25F" stroke-width="5.4" fill="none" stroke-linejoin="round" stroke-linecap="round"/>
<line x1="176.9" y1="1246" x2="176.9" y2="1467.8" stroke="#000" stroke-width="2" stroke-linecap="butt"/>
<line x1="163.5" y1="1279.9" x2="176.9" y2="1279.9" stroke="#000" stroke-width="2" stroke-linecap="butt"/>
<text x="149.6" y="1289.2" text-anchor="end" >0.02</text>
<line x1="163.5" y1="1349" x2="176.9" y2="1349" stroke="#000" stroke-width="2" stroke-linecap="butt"/>
<text x="149.6" y="1358.3" text-anchor="end" >0.01</text>
<line x1="163.5" y1="1418.1" x2="176.9" y2="1418.1" stroke="#000" stroke-width="2" stroke-linecap="butt"/>
<text x="149.6" y="1427.4" text-anchor="end" >0.00</text>
<line x1="186.2" y1="1480.7" x2="627.4" y2="1480.7" stroke="#000" stroke-width="2" stroke-linecap="butt"/>
<line x1="187.2" y1="1480.7" x2="187.2" y2="1494.3" stroke="#000" stroke-width="2" stroke-linecap="butt"/>
<text x="183.2" y="1524.7" text-anchor="middle" >−1.0</text>
<line x1="297" y1="1480.7" x2="297" y2="1494.3" stroke="#000" stroke-width="2" stroke-linecap="butt"/>
<text x="293" y="1524.7" text-anchor="middle" >−0.5</text>
<line x1="406.8" y1="1480.7" x2="406.8" y2="1494.3" stroke="#000" stroke-width="2" stroke-linecap="butt"/>
<text x="402.8" y="1524.7" text-anchor="middle" >0.0</text>
<line x1="516.6" y1="1480.7" x2="516.6" y2="1494.3" stroke="#000" stroke-width="2" stroke-linecap="butt"/>
<text x="512.6" y="1524.7" text-anchor="middle" >0.5</text>
<line x1="626.4" y1="1480.7" x2="626.4" y2="1494.3" stroke="#000" stroke-width="2" stroke-linecap="butt"/>
<text x="622.4" y="1524.7" text-anchor="middle" >1.0</text>
<line x1="636.1" y1="1246" x2="636.1" y2="1467.8" stroke="#9B2FF0" stroke-width="2" stroke-linecap="butt"/>
<line x1="636.1" y1="1255.8" x2="648.9" y2="1255.8" stroke="#9B2FF0" stroke-width="2" stroke-linecap="butt"/>
<text x="653.9" y="1267.5" fill="#9B2FF0" >32</text>
<line x1="636.1" y1="1313.57" x2="648.9" y2="1313.57" stroke="#9B2FF0" stroke-width="2" stroke-linecap="butt"/>
<text x="653.9" y="1325.4" fill="#9B2FF0" >28</text>
<line x1="636.1" y1="1371.33" x2="648.9" y2="1371.33" stroke="#9B2FF0" stroke-width="2" stroke-linecap="butt"/>
<text x="653.9" y="1383.1" fill="#9B2FF0" >24</text>
<line x1="636.1" y1="1429.1" x2="648.9" y2="1429.1" stroke="#9B2FF0" stroke-width="2" stroke-linecap="butt"/>
<text x="653.9" y="1440.8" fill="#9B2FF0" >20</text>
<text x="4.1" y="1232.3" font-weight="bold" font-size="35.5" >d</text>
<text transform="translate(45.2 1369) rotate(-90)" text-anchor="middle" >Excess mutations</text>
<text transform="translate(76 1370) rotate(-90)" text-anchor="middle" >(Mb<tspan font-size="15.5" dy="-9.5">-1</tspan><tspan dy="9.5">)</tspan></text>
<text transform="translate(730.3 1353.5) rotate(90)" text-anchor="middle" fill="#9B2FF0" style="font-kerning:normal">ATAC−seq</text>
<text transform="translate(698.2 1353.5) rotate(90)" text-anchor="middle" fill="#9B2FF0" >tags kb<tspan font-size="15.5" dy="-9.5">-1</tspan></text>
<text x="208.7" y="1565.8" >Distance from nucleosome dyad (kb)</text>
<text x="190.8" y="1262.9" fill="#FBC25F">G</text>
<text x="208.4" y="1258.2" fill="#FBC25F" font-family="DejaVu Sans, sans-serif" font-size="19">➡</text>
<text x="223.4" y="1262.9" fill="#FBC25F">N</text>
</g>
<g id="panel-e">
<text x="803.5" y="28.1" font-weight="bold" font-size="35.5" >e</text>
<rect x="834.3" y="63.5" width="50.8" height="655.3" fill="#CCCCCC"/>
<text transform="translate(867.6 592.3) rotate(-90)" text-anchor="middle" >CTCF binding sites</text>
<text transform="translate(930 192.7) rotate(-90)" text-anchor="middle" >Excess mutations</text>
<text transform="translate(960.5 193.7) rotate(-90)" text-anchor="middle" >(Mb<tspan font-size="15.5" dy="-9.5">-1</tspan><tspan dy="9.5">)</tspan></text>
<text transform="translate(928.7 471.8) rotate(-90)" text-anchor="middle" >Multiallelic mutation rate</text>
<text transform="translate(960.8 470.5) rotate(-90)" text-anchor="middle" >relative difference</text>
<line x1="1047.1" y1="203.4" x2="1300.7" y2="203.4" stroke="#E6E6E6" stroke-width="2" stroke-linecap="butt"/>
<line x1="1047.1" y1="411.6" x2="1300.7" y2="411.6" stroke="#E6E6E6" stroke-width="2" stroke-linecap="butt"/>
<line x1="1315.2" y1="203.4" x2="1574" y2="203.4" stroke="#E6E6E6" stroke-width="2" stroke-linecap="butt"/>
<line x1="1315.2" y1="411.6" x2="1574" y2="411.6" stroke="#E6E6E6" stroke-width="2" stroke-linecap="butt"/>
<line x1="1588.3" y1="203.4" x2="1846.6" y2="203.4" stroke="#E6E6E6" stroke-width="2" stroke-linecap="butt"/>
<line x1="1588.3" y1="411.6" x2="1846.6" y2="411.6" stroke="#E6E6E6" stroke-width="2" stroke-linecap="butt"/>
<line x1="1861.2" y1="203.4" x2="2119.6" y2="203.4" stroke="#E6E6E6" stroke-width="2" stroke-linecap="butt"/>
<line x1="1861.2" y1="411.6" x2="2119.6" y2="411.6" stroke="#E6E6E6" stroke-width="2" stroke-linecap="butt"/>
<circle cx="1072.2" cy="179.2" r="4.6" fill="#F7605F"/>
<line x1="1121.85" y1="188.8" x2="1121.85" y2="197.5" stroke="#F7605F" stroke-width="2.4" stroke-linecap="butt"/>
<circle cx="1121.85" cy="194.5" r="4.6" fill="#F7605F"/>
<line x1="1171.5" y1="177.5" x2="1171.5" y2="186.5" stroke="#F7605F" stroke-width="2.4" stroke-linecap="butt"/>
<circle cx="1171.5" cy="183.3" r="4.6" fill="#F7605F"/>
<line x1="1270.8" y1="164.8" x2="1270.8" y2="181.6" stroke="#F7605F" stroke-width="2.4" stroke-linecap="butt"/>
<circle cx="1270.8" cy="174.8" r="4.6" fill="#F7605F"/>
<line x1="1072.2" y1="405.8" x2="1072.2" y2="446.8" stroke="#F7605F" stroke-width="2.4" stroke-linecap="butt"/>
<circle cx="1072.2" cy="426.7" r="4.6" fill="#F7605F"/>
<line x1="1121.85" y1="394.5" x2="1121.85" y2="518.8" stroke="#F7605F" stroke-width="2.4" stroke-linecap="butt"/>
<circle cx="1121.85" cy="447.1" r="4.6" fill="#F7605F"/>
<line x1="1171.5" y1="404" x2="1171.5" y2="488.2" stroke="#F7605F" stroke-width="2.4" stroke-linecap="butt"/>
<circle cx="1171.5" cy="444.5" r="4.6" fill="#F7605F"/>
<line x1="1270.8" y1="374" x2="1270.8" y2="556.2" stroke="#F7605F" stroke-width="2.4" stroke-linecap="butt"/>
<circle cx="1270.8" cy="428.8" r="4.6" fill="#F7605F"/>
<circle cx="1344.9" cy="249.7" r="4.6" fill="#6464F1"/>
<line x1="1394.62" y1="223.3" x2="1394.62" y2="234" stroke="#6464F1" stroke-width="2.4" stroke-linecap="butt"/>
<circle cx="1394.62" cy="230.5" r="4.6" fill="#6464F1"/>
<line x1="1444.34" y1="208.2" x2="1444.34" y2="223.7" stroke="#6464F1" stroke-width="2.4" stroke-linecap="butt"/>
<circle cx="1444.34" cy="216.4" r="4.6" fill="#6464F1"/>
<line x1="1494.06" y1="172.1" x2="1494.06" y2="231" stroke="#6464F1" stroke-width="2.4" stroke-linecap="butt"/>
<circle cx="1494.06" cy="205.9" r="4.6" fill="#6464F1"/>
<circle cx="1543.78" cy="225.3" r="4.6" fill="#6464F1"/>
<line x1="1344.9" y1="422.2" x2="1344.9" y2="436.6" stroke="#6464F1" stroke-width="2.4" stroke-linecap="butt"/>
<circle cx="1344.9" cy="430.1" r="4.6" fill="#6464F1"/>
<line x1="1394.62" y1="404.1" x2="1394.62" y2="425.2" stroke="#6464F1" stroke-width="2.4" stroke-linecap="butt"/>
<circle cx="1394.62" cy="414" r="4.6" fill="#6464F1"/>
<line x1="1444.34" y1="415.6" x2="1444.34" y2="441.4" stroke="#6464F1" stroke-width="2.4" stroke-linecap="butt"/>
<circle cx="1444.34" cy="428.4" r="4.6" fill="#6464F1"/>
<line x1="1494.06" y1="391.4" x2="1494.06" y2="484.8" stroke="#6464F1" stroke-width="2.4" stroke-linecap="butt"/>
<circle cx="1494.06" cy="434.5" r="4.6" fill="#6464F1"/>
<line x1="1543.78" y1="402.7" x2="1543.78" y2="423.8" stroke="#6464F1" stroke-width="2.4" stroke-linecap="butt"/>
<circle cx="1543.78" cy="413.6" r="4.6" fill="#6464F1"/>
<circle cx="1617.7" cy="206.8" r="4.6" fill="#FBC25F"/>
<circle cx="1667.42" cy="204.2" r="4.6" fill="#FBC25F"/>
<circle cx="1717.14" cy="199" r="4.6" fill="#FBC25F"/>
<line x1="1766.86" y1="144.9" x2="1766.86" y2="192.9" stroke="#FBC25F" stroke-width="2.4" stroke-linecap="butt"/>
<circle cx="1766.86" cy="168.2" r="4.6" fill="#FBC25F"/>
<circle cx="1816.58" cy="202.7" r="4.6" fill="#FBC25F"/>
<line x1="1617.7" y1="415.1" x2="1617.7" y2="527" stroke="#FBC25F" stroke-width="2.4" stroke-linecap="butt"/>
<circle cx="1617.7" cy="468.1" r="4.6" fill="#FBC25F"/>
<line x1="1667.42" y1="366" x2="1667.42" y2="556.2" stroke="#FBC25F" stroke-width="2.4" stroke-linecap="butt"/>
<circle cx="1667.42" cy="433.8" r="4.6" fill="#FBC25F"/>
<circle cx="1717.14" cy="557.4" r="4.6" fill="#FBC25F"/>
<circle cx="1766.86" cy="557.4" r="4.6" fill="#FBC25F"/>
<line x1="1816.58" y1="358.5" x2="1816.58" y2="469" stroke="#FBC25F" stroke-width="2.4" stroke-linecap="butt"/>
<circle cx="1816.58" cy="400" r="4.6" fill="#FBC25F"/>
<line x1="1890.7" y1="260.7" x2="1890.7" y2="273.7" stroke="#5FC6F8" stroke-width="2.4" stroke-linecap="butt"/>
<circle cx="1890.7" cy="267.5" r="4.6" fill="#5FC6F8"/>
<line x1="1940.45" y1="214.8" x2="1940.45" y2="243.6" stroke="#5FC6F8" stroke-width="2.4" stroke-linecap="butt"/>
<circle cx="1940.45" cy="227.8" r="4.6" fill="#5FC6F8"/>
<line x1="1990.2" y1="176.4" x2="1990.2" y2="205.5" stroke="#5FC6F8" stroke-width="2.4" stroke-linecap="butt"/>
<circle cx="1990.2" cy="190.4" r="4.6" fill="#5FC6F8"/>
<line x1="2089.7" y1="74.4" x2="2089.7" y2="120" stroke="#5FC6F8" stroke-width="2.4" stroke-linecap="butt"/>
<circle cx="2089.7" cy="96.7" r="4.6" fill="#5FC6F8"/>
<line x1="1890.7" y1="430.1" x2="1890.7" y2="441.6" stroke="#5FC6F8" stroke-width="2.4" stroke-linecap="butt"/>
<circle cx="1890.7" cy="436.3" r="4.6" fill="#5FC6F8"/>
<line x1="1940.45" y1="403.4" x2="1940.45" y2="424.7" stroke="#5FC6F8" stroke-width="2.4" stroke-linecap="butt"/>
<circle cx="1940.45" cy="414" r="4.6" fill="#5FC6F8"/>
<line x1="1990.2" y1="410.3" x2="1990.2" y2="428.4" stroke="#5FC6F8" stroke-width="2.4" stroke-linecap="butt"/>
<circle cx="1990.2" cy="419.5" r="4.6" fill="#5FC6F8"/>
<line x1="2089.7" y1="400.3" x2="2089.7" y2="427.9" stroke="#5FC6F8" stroke-width="2.4" stroke-linecap="butt"/>
<circle cx="2089.7" cy="414.4" r="4.6" fill="#5FC6F8"/>
<text x="1721" y="557.5" font-size="24" >*</text>
<text x="1770.3" y="558.2" font-size="24" >*</text>
<line x1="1047.1" y1="85.1" x2="1047.1" y2="281.5" stroke="#000" stroke-width="2" stroke-linecap="butt"/>
<line x1="1033.4" y1="126.2" x2="1048.1" y2="126.2" stroke="#000" stroke-width="2" stroke-linecap="butt"/>
<text x="1026" y="135.5" text-anchor="end" >5</text>
<line x1="1033.4" y1="203.4" x2="1048.1" y2="203.4" stroke="#000" stroke-width="2" stroke-linecap="butt"/>
<text x="1026" y="212.7" text-anchor="end" >0</text>
<line x1="1033.4" y1="280.5" x2="1048.1" y2="280.5" stroke="#000" stroke-width="2" stroke-linecap="butt"/>
<text x="1026" y="289.8" text-anchor="end" >−5</text>
<line x1="1047.1" y1="360.5" x2="1047.1" y2="557.4" stroke="#000" stroke-width="2" stroke-linecap="butt"/>
<line x1="1033.4" y1="411.6" x2="1048.1" y2="411.6" stroke="#000" stroke-width="2" stroke-linecap="butt"/>
<text x="1026" y="420.9" text-anchor="end" >0</text>
<line x1="1033.4" y1="484" x2="1048.1" y2="484" stroke="#000" stroke-width="2" stroke-linecap="butt"/>
<text x="1026" y="493.3" text-anchor="end" >-0.5</text>
<line x1="1033.4" y1="556.4" x2="1048.1" y2="556.4" stroke="#000" stroke-width="2" stroke-linecap="butt"/>
<text x="1026" y="565.7" text-anchor="end" >-1.0</text>
<line x1="1071.2" y1="575.9" x2="1271.8" y2="575.9" stroke="#000" stroke-width="2" stroke-linecap="butt"/>
<line x1="1072.2" y1="575.9" x2="1072.2" y2="589.7" stroke="#000" stroke-width="2" stroke-linecap="butt"/>
<line x1="1121.85" y1="575.9" x2="1121.85" y2="589.7" stroke="#000" stroke-width="2" stroke-linecap="butt"/>
<line x1="1171.5" y1="575.9" x2="1171.5" y2="589.7" stroke="#000" stroke-width="2" stroke-linecap="butt"/>
<line x1="1221.15" y1="575.9" x2="1221.15" y2="589.7" stroke="#000" stroke-width="2" stroke-linecap="butt"/>
<line x1="1270.8" y1="575.9" x2="1270.8" y2="589.7" stroke="#000" stroke-width="2" stroke-linecap="butt"/>
<text transform="translate(1085.2 615) rotate(-45)" text-anchor="end" >far_flank</text>
<text transform="translate(1134.85 615) rotate(-45)" text-anchor="end" >acess_flank</text>
<text transform="translate(1184.5 615) rotate(-45)" text-anchor="end" >close_flank</text>
<text transform="translate(1234.15 615) rotate(-45)" text-anchor="end" fill="#999999" >motif_lo</text>
<text transform="translate(1283.8 615) rotate(-45)" text-anchor="end" >motif_hi</text>
<text x="1142.6" y="79.7" fill="#F7605F">A</text>
<text x="1160" y="75" fill="#F7605F" font-family="DejaVu Sans, sans-serif" font-size="19">➡</text>
<text x="1175" y="79.7" fill="#F7605F">N</text>
<line x1="1343.9" y1="575.9" x2="1544.78" y2="575.9" stroke="#000" stroke-width="2" stroke-linecap="butt"/>
<line x1="1344.9" y1="575.9" x2="1344.9" y2="589.7" stroke="#000" stroke-width="2" stroke-linecap="butt"/>
<line x1="1394.62" y1="575.9" x2="1394.62" y2="589.7" stroke="#000" stroke-width="2" stroke-linecap="butt"/>
<line x1="1444.34" y1="575.9" x2="1444.34" y2="589.7" stroke="#000" stroke-width="2" stroke-linecap="butt"/>
<line x1="1494.06" y1="575.9" x2="1494.06" y2="589.7" stroke="#000" stroke-width="2" stroke-linecap="butt"/>
<line x1="1543.78" y1="575.9" x2="1543.78" y2="589.7" stroke="#000" stroke-width="2" stroke-linecap="butt"/>
<text transform="translate(1357.9 615) rotate(-45)" text-anchor="end" >far_flank</text>
<text transform="translate(1407.62 615) rotate(-45)" text-anchor="end" >acess_flank</text>
<text transform="translate(1457.34 615) rotate(-45)" text-anchor="end" >close_flank</text>
<text transform="translate(1507.06 615) rotate(-45)" text-anchor="end" >motif_lo</text>
<text transform="translate(1556.78 615) rotate(-45)" text-anchor="end" >motif_hi</text>
<text x="1416.7" y="79.7" fill="#6464F1">C</text>
<text x="1433.9" y="75" fill="#6464F1" font-family="DejaVu Sans, sans-serif" font-size="19">➡</text>
<text x="1448.9" y="79.7" fill="#6464F1">N</text>
<line x1="1616.7" y1="575.9" x2="1817.58" y2="575.9" stroke="#000" stroke-width="2" stroke-linecap="butt"/>
<line x1="1617.7" y1="575.9" x2="1617.7" y2="589.7" stroke="#000" stroke-width="2" stroke-linecap="butt"/>
<line x1="1667.42" y1="575.9" x2="1667.42" y2="589.7" stroke="#000" stroke-width="2" stroke-linecap="butt"/>
<line x1="1717.14" y1="575.9" x2="1717.14" y2="589.7" stroke="#000" stroke-width="2" stroke-linecap="butt"/>
<line x1="1766.86" y1="575.9" x2="1766.86" y2="589.7" stroke="#000" stroke-width="2" stroke-linecap="butt"/>
<line x1="1816.58" y1="575.9" x2="1816.58" y2="589.7" stroke="#000" stroke-width="2" stroke-linecap="butt"/>
<text transform="translate(1630.7 615) rotate(-45)" text-anchor="end" >far_flank</text>
<text transform="translate(1680.42 615) rotate(-45)" text-anchor="end" >acess_flank</text>
<text transform="translate(1730.14 615) rotate(-45)" text-anchor="end" >close_flank</text>
<text transform="translate(1779.86 615) rotate(-45)" text-anchor="end" >motif_lo</text>
<text transform="translate(1829.58 615) rotate(-45)" text-anchor="end" >motif_hi</text>
<text x="1691.6" y="79.7" fill="#FBC25F">G</text>
<text x="1710" y="75" fill="#FBC25F" font-family="DejaVu Sans, sans-serif" font-size="19">➡</text>
<text x="1725" y="79.7" fill="#FBC25F">N</text>
<line x1="1889.7" y1="575.9" x2="2090.7" y2="575.9" stroke="#000" stroke-width="2" stroke-linecap="butt"/>
<line x1="1890.7" y1="575.9" x2="1890.7" y2="589.7" stroke="#000" stroke-width="2" stroke-linecap="butt"/>
<line x1="1940.45" y1="575.9" x2="1940.45" y2="589.7" stroke="#000" stroke-width="2" stroke-linecap="butt"/>
<line x1="1990.2" y1="575.9" x2="1990.2" y2="589.7" stroke="#000" stroke-width="2" stroke-linecap="butt"/>
<line x1="2039.95" y1="575.9" x2="2039.95" y2="589.7" stroke="#000" stroke-width="2" stroke-linecap="butt"/>
<line x1="2089.7" y1="575.9" x2="2089.7" y2="589.7" stroke="#000" stroke-width="2" stroke-linecap="butt"/>
<text transform="translate(1903.7 615) rotate(-45)" text-anchor="end" >far_flank</text>
<text transform="translate(1953.45 615) rotate(-45)" text-anchor="end" >acess_flank</text>
<text transform="translate(2003.2 615) rotate(-45)" text-anchor="end" >close_flank</text>
<text transform="translate(2052.95 615) rotate(-45)" text-anchor="end" fill="#999999" >motif_lo</text>
<text transform="translate(2102.7 615) rotate(-45)" text-anchor="end" >motif_hi</text>
<text x="1965.8" y="79.7" fill="#5FC6F8">T</text>
<text x="1982.1" y="75" fill="#5FC6F8" font-family="DejaVu Sans, sans-serif" font-size="19">➡</text>
<text x="1997.1" y="79.7" fill="#5FC6F8">N</text>
</g>
<g id="panel-f">
<text x="804.5" y="812.1" font-weight="bold" font-size="35.5" >f</text>
<rect x="834.3" y="841.0" width="50.8" height="656.2" fill="#CCCCCC"/>
<text transform="translate(867.6 1231) rotate(-90)" text-anchor="middle" >Non-CTCF transcription factor binding sites</text>
<text transform="translate(928.7 963.1) rotate(-90)" text-anchor="middle" >Excess mutations</text>
<text transform="translate(961.2 964.3) rotate(-90)" text-anchor="middle" >(Mb<tspan font-size="15.5" dy="-9.5">-1</tspan><tspan dy="9.5">)</tspan></text>
<text transform="translate(929.9 1241.6) rotate(-90)" text-anchor="middle" >Multiallelic mutation rate</text>
<text transform="translate(962 1241) rotate(-90)" text-anchor="middle" >relative difference</text>
<line x1="1047.1" y1="907.8" x2="1296.6" y2="907.8" stroke="#E6E6E6" stroke-width="2" stroke-linecap="butt"/>
<line x1="1047.1" y1="1223" x2="1296.6" y2="1223" stroke="#E6E6E6" stroke-width="2" stroke-linecap="butt"/>
<line x1="1311.2" y1="907.8" x2="1563" y2="907.8" stroke="#E6E6E6" stroke-width="2" stroke-linecap="butt"/>
<line x1="1311.2" y1="1223" x2="1563" y2="1223" stroke="#E6E6E6" stroke-width="2" stroke-linecap="butt"/>
<line x1="1577.5" y1="907.8" x2="1829.3" y2="907.8" stroke="#E6E6E6" stroke-width="2" stroke-linecap="butt"/>
<line x1="1577.5" y1="1223" x2="1829.3" y2="1223" stroke="#E6E6E6" stroke-width="2" stroke-linecap="butt"/>
<line x1="1844" y1="907.8" x2="2096" y2="907.8" stroke="#E6E6E6" stroke-width="2" stroke-linecap="butt"/>
<line x1="1844" y1="1223" x2="2096" y2="1223" stroke="#E6E6E6" stroke-width="2" stroke-linecap="butt"/>
<line x1="1080.6" y1="872.2" x2="1080.6" y2="881" stroke="#F7605F" stroke-width="2.4" stroke-linecap="butt"/>
<circle cx="1080.6" cy="878" r="4.6" fill="#F7605F"/>
<line x1="1140.6" y1="882.7" x2="1140.6" y2="891" stroke="#F7605F" stroke-width="2.4" stroke-linecap="butt"/>
<circle cx="1140.6" cy="888.6" r="4.6" fill="#F7605F"/>
<line x1="1200.6" y1="857.3" x2="1200.6" y2="899.1" stroke="#F7605F" stroke-width="2.4" stroke-linecap="butt"/>
<circle cx="1200.6" cy="883.2" r="4.6" fill="#F7605F"/>
<line x1="1260.6" y1="880.8" x2="1260.6" y2="891" stroke="#F7605F" stroke-width="2.4" stroke-linecap="butt"/>
<circle cx="1260.6" cy="888.3" r="4.6" fill="#F7605F"/>
<line x1="1079.3" y1="1212.9" x2="1079.3" y2="1274.7" stroke="#F7605F" stroke-width="2.4" stroke-linecap="butt"/>
<circle cx="1079.3" cy="1239.2" r="4.6" fill="#F7605F"/>
<line x1="1139.3" y1="1198.9" x2="1139.3" y2="1254.8" stroke="#F7605F" stroke-width="2.4" stroke-linecap="butt"/>
<circle cx="1139.3" cy="1223.7" r="4.6" fill="#F7605F"/>
<line x1="1199.3" y1="1141.8" x2="1199.3" y2="1339.7" stroke="#F7605F" stroke-width="2.4" stroke-linecap="butt"/>
<circle cx="1199.3" cy="1189.4" r="4.6" fill="#F7605F"/>
<line x1="1259.3" y1="1219.6" x2="1259.3" y2="1316.7" stroke="#F7605F" stroke-width="2.4" stroke-linecap="butt"/>
<circle cx="1259.3" cy="1257.2" r="4.6" fill="#F7605F"/>
<line x1="1346.9" y1="962.5" x2="1346.9" y2="970" stroke="#6464F1" stroke-width="2.4" stroke-linecap="butt"/>
<circle cx="1346.9" cy="967.4" r="4.6" fill="#6464F1"/>
<line x1="1407" y1="947.5" x2="1407" y2="957" stroke="#6464F1" stroke-width="2.4" stroke-linecap="butt"/>
<circle cx="1407" cy="953.9" r="4.6" fill="#6464F1"/>
<line x1="1467.1" y1="939.5" x2="1467.1" y2="974" stroke="#6464F1" stroke-width="2.4" stroke-linecap="butt"/>
<circle cx="1467.1" cy="959.9" r="4.6" fill="#6464F1"/>
<line x1="1527.2" y1="972" x2="1527.2" y2="980" stroke="#6464F1" stroke-width="2.4" stroke-linecap="butt"/>
<circle cx="1527.2" cy="977.6" r="4.6" fill="#6464F1"/>
<line x1="1345.8" y1="1229.3" x2="1345.8" y2="1249.8" stroke="#6464F1" stroke-width="2.4" stroke-linecap="butt"/>
<circle cx="1345.8" cy="1240.3" r="4.6" fill="#6464F1"/>
<line x1="1405.9" y1="1218.8" x2="1405.9" y2="1234.8" stroke="#6464F1" stroke-width="2.4" stroke-linecap="butt"/>
<circle cx="1405.9" cy="1227.7" r="4.6" fill="#6464F1"/>
<line x1="1466" y1="1219.1" x2="1466" y2="1339.7" stroke="#6464F1" stroke-width="2.4" stroke-linecap="butt"/>
<circle cx="1466" cy="1258.4" r="4.6" fill="#6464F1"/>
<line x1="1526.1" y1="1208.2" x2="1526.1" y2="1223.8" stroke="#6464F1" stroke-width="2.4" stroke-linecap="butt"/>
<circle cx="1526.1" cy="1218.3" r="4.6" fill="#6464F1"/>
<circle cx="1613.2" cy="909.9" r="4.6" fill="#FBC25F"/>
<circle cx="1673.3" cy="908.5" r="4.6" fill="#FBC25F"/>
<line x1="1733.4" y1="893.3" x2="1733.4" y2="916" stroke="#FBC25F" stroke-width="2.4" stroke-linecap="butt"/>
<circle cx="1733.4" cy="907.1" r="4.6" fill="#FBC25F"/>
<circle cx="1793.5" cy="909.3" r="4.6" fill="#FBC25F"/>
<line x1="1612.5" y1="1238.4" x2="1612.5" y2="1339.7" stroke="#FBC25F" stroke-width="2.4" stroke-linecap="butt"/>
<circle cx="1612.5" cy="1288.5" r="4.6" fill="#FBC25F"/>
<line x1="1672.6" y1="1169.2" x2="1672.6" y2="1252.8" stroke="#FBC25F" stroke-width="2.4" stroke-linecap="butt"/>
<circle cx="1672.6" cy="1199.2" r="4.6" fill="#FBC25F"/>
<circle cx="1732.7" cy="1340.6" r="4.6" fill="#FBC25F"/>
<line x1="1792.8" y1="1210.2" x2="1792.8" y2="1339.7" stroke="#FBC25F" stroke-width="2.4" stroke-linecap="butt"/>
<circle cx="1792.8" cy="1262.6" r="4.6" fill="#FBC25F"/>
<line x1="1879.8" y1="1002.9" x2="1879.8" y2="1023.3" stroke="#5FC6F8" stroke-width="2.4" stroke-linecap="butt"/>
<circle cx="1879.8" cy="1014.2" r="4.6" fill="#5FC6F8"/>
<line x1="1939.85" y1="973.5" x2="1939.85" y2="997.9" stroke="#5FC6F8" stroke-width="2.4" stroke-linecap="butt"/>
<circle cx="1939.85" cy="986.5" r="4.6" fill="#5FC6F8"/>
<line x1="1999.9" y1="938.3" x2="1999.9" y2="1021.4" stroke="#5FC6F8" stroke-width="2.4" stroke-linecap="butt"/>
<circle cx="1999.9" cy="982.6" r="4.6" fill="#5FC6F8"/>
<line x1="2059.95" y1="1026.4" x2="2059.95" y2="1050.2" stroke="#5FC6F8" stroke-width="2.4" stroke-linecap="butt"/>
<circle cx="2059.95" cy="1039.2" r="4.6" fill="#5FC6F8"/>
<line x1="1879.7" y1="1238.7" x2="1879.7" y2="1253.6" stroke="#5FC6F8" stroke-width="2.4" stroke-linecap="butt"/>
<circle cx="1879.7" cy="1246.7" r="4.6" fill="#5FC6F8"/>
<line x1="1939.75" y1="1229.3" x2="1939.75" y2="1245.4" stroke="#5FC6F8" stroke-width="2.4" stroke-linecap="butt"/>
<circle cx="1939.75" cy="1237.3" r="4.6" fill="#5FC6F8"/>
<line x1="1999.8" y1="1202.1" x2="1999.8" y2="1266.1" stroke="#5FC6F8" stroke-width="2.4" stroke-linecap="butt"/>
<circle cx="1999.8" cy="1229.9" r="4.6" fill="#5FC6F8"/>
<line x1="2059.85" y1="1221.2" x2="2059.85" y2="1234.8" stroke="#5FC6F8" stroke-width="2.4" stroke-linecap="butt"/>
<circle cx="2059.85" cy="1229.3" r="4.6" fill="#5FC6F8"/>
<text x="1736.3" y="1342.4" font-size="24" >*</text>
<line x1="1047.1" y1="861.3" x2="1047.1" y2="1045.2" stroke="#000" stroke-width="2" stroke-linecap="butt"/>
<line x1="1038.4" y1="862.3" x2="1048.1" y2="862.3" stroke="#000" stroke-width="2" stroke-linecap="butt"/>
<line x1="1033.4" y1="907.8" x2="1048.1" y2="907.8" stroke="#000" stroke-width="2" stroke-linecap="butt"/>
<text x="1026" y="917.1" text-anchor="end" >0</text>
<line x1="1038.4" y1="953.3" x2="1048.1" y2="953.3" stroke="#000" stroke-width="2" stroke-linecap="butt"/>
<line x1="1033.4" y1="998.7" x2="1048.1" y2="998.7" stroke="#000" stroke-width="2" stroke-linecap="butt"/>
<text x="1026" y="1008" text-anchor="end" >-10</text>
<line x1="1038.4" y1="1044.2" x2="1048.1" y2="1044.2" stroke="#000" stroke-width="2" stroke-linecap="butt"/>
<line x1="1047.1" y1="1163.8" x2="1047.1" y2="1340.7" stroke="#000" stroke-width="2" stroke-linecap="butt"/>
<line x1="1038.4" y1="1164.8" x2="1048.1" y2="1164.8" stroke="#000" stroke-width="2" stroke-linecap="butt"/>
<text x="1026" y="1174.1" text-anchor="end" >0.5</text>
<line x1="1033.4" y1="1223" x2="1048.1" y2="1223" stroke="#000" stroke-width="2" stroke-linecap="butt"/>
<text x="1026" y="1232.3" text-anchor="end" >0</text>
<line x1="1038.4" y1="1281.4" x2="1048.1" y2="1281.4" stroke="#000" stroke-width="2" stroke-linecap="butt"/>
<text x="1026" y="1290.7" text-anchor="end" >-0.5</text>
<line x1="1033.4" y1="1339.7" x2="1048.1" y2="1339.7" stroke="#000" stroke-width="2" stroke-linecap="butt"/>
<text x="1026" y="1349" text-anchor="end" >-1.0</text>
<line x1="1078.3" y1="1361.2" x2="1260.3" y2="1361.2" stroke="#000" stroke-width="2" stroke-linecap="butt"/>
<line x1="1079.3" y1="1361.2" x2="1079.3" y2="1375" stroke="#000" stroke-width="2" stroke-linecap="butt"/>
<line x1="1139.3" y1="1361.2" x2="1139.3" y2="1375" stroke="#000" stroke-width="2" stroke-linecap="butt"/>
<line x1="1199.3" y1="1361.2" x2="1199.3" y2="1375" stroke="#000" stroke-width="2" stroke-linecap="butt"/>
<line x1="1259.3" y1="1361.2" x2="1259.3" y2="1375" stroke="#000" stroke-width="2" stroke-linecap="butt"/>
<text transform="translate(1092.3 1399.5) rotate(-45)" text-anchor="end" >acess_flank</text>
<text transform="translate(1152.3 1399.5) rotate(-45)" text-anchor="end" >close_flank</text>
<text transform="translate(1212.3 1399.5) rotate(-45)" text-anchor="end" >motif_lo</text>
<text transform="translate(1272.3 1399.5) rotate(-45)" text-anchor="end" >motif_hi</text>
<text x="1145.3" y="835.6" fill="#F7605F">A</text>
<text x="1162.6" y="830.9" fill="#F7605F" font-family="DejaVu Sans, sans-serif" font-size="19">➡</text>
<text x="1177.6" y="835.6" fill="#F7605F">N</text>
<line x1="1344.8" y1="1361.2" x2="1527.1" y2="1361.2" stroke="#000" stroke-width="2" stroke-linecap="butt"/>
<line x1="1345.8" y1="1361.2" x2="1345.8" y2="1375" stroke="#000" stroke-width="2" stroke-linecap="butt"/>
<line x1="1405.9" y1="1361.2" x2="1405.9" y2="1375" stroke="#000" stroke-width="2" stroke-linecap="butt"/>
<line x1="1466" y1="1361.2" x2="1466" y2="1375" stroke="#000" stroke-width="2" stroke-linecap="butt"/>
<line x1="1526.1" y1="1361.2" x2="1526.1" y2="1375" stroke="#000" stroke-width="2" stroke-linecap="butt"/>
<text transform="translate(1358.8 1399.5) rotate(-45)" text-anchor="end" >acess_flank</text>
<text transform="translate(1418.9 1399.5) rotate(-45)" text-anchor="end" >close_flank</text>
<text transform="translate(1479 1399.5) rotate(-45)" text-anchor="end" >motif_lo</text>
<text transform="translate(1539.1 1399.5) rotate(-45)" text-anchor="end" >motif_hi</text>
<text x="1411.9" y="835.6" fill="#6464F1">C</text>
<text x="1429.3" y="830.9" fill="#6464F1" font-family="DejaVu Sans, sans-serif" font-size="19">➡</text>
<text x="1444.3" y="835.6" fill="#6464F1">N</text>
<line x1="1611.5" y1="1361.2" x2="1793.8" y2="1361.2" stroke="#000" stroke-width="2" stroke-linecap="butt"/>
<line x1="1612.5" y1="1361.2" x2="1612.5" y2="1375" stroke="#000" stroke-width="2" stroke-linecap="butt"/>
<line x1="1672.6" y1="1361.2" x2="1672.6" y2="1375" stroke="#000" stroke-width="2" stroke-linecap="butt"/>
<line x1="1732.7" y1="1361.2" x2="1732.7" y2="1375" stroke="#000" stroke-width="2" stroke-linecap="butt"/>
<line x1="1792.8" y1="1361.2" x2="1792.8" y2="1375" stroke="#000" stroke-width="2" stroke-linecap="butt"/>
<text transform="translate(1625.5 1399.5) rotate(-45)" text-anchor="end" >acess_flank</text>
<text transform="translate(1685.6 1399.5) rotate(-45)" text-anchor="end" >close_flank</text>
<text transform="translate(1745.7 1399.5) rotate(-45)" text-anchor="end" >motif_lo</text>
<text transform="translate(1805.8 1399.5) rotate(-45)" text-anchor="end" >motif_hi</text>
<text x="1677.7" y="835.6" fill="#FBC25F">G</text>
<text x="1696.3" y="830.9" fill="#FBC25F" font-family="DejaVu Sans, sans-serif" font-size="19">➡</text>
<text x="1711.3" y="835.6" fill="#FBC25F">N</text>
<line x1="1878.7" y1="1361.2" x2="2060.85" y2="1361.2" stroke="#000" stroke-width="2" stroke-linecap="butt"/>
<line x1="1879.7" y1="1361.2" x2="1879.7" y2="1375" stroke="#000" stroke-width="2" stroke-linecap="butt"/>
<line x1="1939.75" y1="1361.2" x2="1939.75" y2="1375" stroke="#000" stroke-width="2" stroke-linecap="butt"/>
<line x1="1999.8" y1="1361.2" x2="1999.8" y2="1375" stroke="#000" stroke-width="2" stroke-linecap="butt"/>
<line x1="2059.85" y1="1361.2" x2="2059.85" y2="1375" stroke="#000" stroke-width="2" stroke-linecap="butt"/>
<text transform="translate(1892.7 1399.5) rotate(-45)" text-anchor="end" >acess_flank</text>
<text transform="translate(1952.75 1399.5) rotate(-45)" text-anchor="end" >close_flank</text>
<text transform="translate(2012.8 1399.5) rotate(-45)" text-anchor="end" >motif_lo</text>
<text transform="translate(2072.85 1399.5) rotate(-45)" text-anchor="end" >motif_hi</text>
<text x="1946.2" y="835.6" fill="#5FC6F8">T</text>
<text x="1962.1" y="830.9" fill="#5FC6F8" font-family="DejaVu Sans, sans-serif" font-size="19">➡</text>
<text x="1977.1" y="835.6" fill="#5FC6F8">N</text>
</g>
<g id="key">
<rect x="920.5" y="1544.1" width="51.4" height="223.1" fill="#CCCCCC"/>
<text transform="translate(953.7 1670.6) rotate(-90)" text-anchor="middle" >Category key</text>
<text x="996.5" y="1570.5" >far_flank</text>
<text x="1221" y="1570.5" >Distant flanking region 25 - 50 bp from motif*</text>
<text x="996.5" y="1615.55" >access_flank</text>
<text x="1221" y="1615.55" >Accessible flank (high ATAC-seq cutting) 12 - 17 from motif*</text>
<text x="996.5" y="1660.6" >close_flank</text>
<text x="1221" y="1660.6" >Close flank (low ATAC-seq cutting) 0 - 5 bp from motif</text>
<text x="996.5" y="1705.65" >motif_lo</text>
<text x="1221" y="1705.65" >Within motif low information content (&lt;0.2 bits)</text>
<text x="996.5" y="1750.7" >motif_hi</text>
<text x="1221" y="1750.7" >Within motif high information content (≥0.2 bits)</text>
<text x="996.5" y="1814.1" >* For CTCF coordinates were adjusted due to the asymmetric accessibility profile.</text>
<text x="996.5" y="1845.55" >far_flank -25 to -50 from motif start, 35 to 60 from motif end</text>
<text x="996.5" y="1877" >access_flank -10 to -15 from motif start, 20 to 25 from motif end</text>
</g>
</svg>
</body></html>
